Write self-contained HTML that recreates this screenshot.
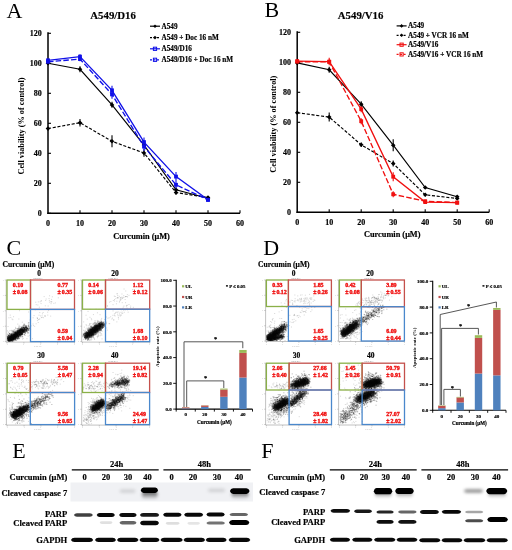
<!DOCTYPE html>
<html><head><meta charset="utf-8"><style>
html,body{margin:0;padding:0;background:#fff;}
body{width:512px;height:550px;overflow:hidden;}
svg{display:block;font-family:'Liberation Serif',serif;filter:blur(0.3px);}
</style></head><body>
<svg width="512" height="550" viewBox="0 0 512 550" style="font-family:'Liberation Serif',serif">
<text x="6.60" y="17.80" font-size="22" font-weight="normal" text-anchor="start" fill="#000" >A</text>
<text x="90.30" y="18.70" font-size="10.8" font-weight="bold" text-anchor="start" fill="#000"  stroke="#000" stroke-width="0.18">A549/D16</text>
<line x1="48.00" y1="32.30" x2="48.00" y2="214.00" stroke="#000" stroke-width="1.5" />
<line x1="47.30" y1="213.30" x2="240.00" y2="213.30" stroke="#000" stroke-width="1.5" />
<line x1="48.00" y1="213.30" x2="51.00" y2="213.30" stroke="#000" stroke-width="1.1" />
<text x="41.70" y="216.00" font-size="8" font-weight="bold" text-anchor="end" fill="#000"  stroke="#000" stroke-width="0.18">0</text>
<line x1="48.00" y1="183.30" x2="51.00" y2="183.30" stroke="#000" stroke-width="1.1" />
<text x="41.70" y="186.00" font-size="8" font-weight="bold" text-anchor="end" fill="#000"  stroke="#000" stroke-width="0.18">20</text>
<line x1="48.00" y1="153.30" x2="51.00" y2="153.30" stroke="#000" stroke-width="1.1" />
<text x="41.70" y="156.00" font-size="8" font-weight="bold" text-anchor="end" fill="#000"  stroke="#000" stroke-width="0.18">40</text>
<line x1="48.00" y1="123.30" x2="51.00" y2="123.30" stroke="#000" stroke-width="1.1" />
<text x="41.70" y="126.00" font-size="8" font-weight="bold" text-anchor="end" fill="#000"  stroke="#000" stroke-width="0.18">60</text>
<line x1="48.00" y1="93.30" x2="51.00" y2="93.30" stroke="#000" stroke-width="1.1" />
<text x="41.70" y="96.00" font-size="8" font-weight="bold" text-anchor="end" fill="#000"  stroke="#000" stroke-width="0.18">80</text>
<line x1="48.00" y1="63.30" x2="51.00" y2="63.30" stroke="#000" stroke-width="1.1" />
<text x="41.70" y="66.00" font-size="8" font-weight="bold" text-anchor="end" fill="#000"  stroke="#000" stroke-width="0.18">100</text>
<line x1="48.00" y1="33.30" x2="51.00" y2="33.30" stroke="#000" stroke-width="1.1" />
<text x="41.70" y="36.00" font-size="8" font-weight="bold" text-anchor="end" fill="#000"  stroke="#000" stroke-width="0.18">120</text>
<text x="48.00" y="225.90" font-size="8" font-weight="bold" text-anchor="middle" fill="#000"  stroke="#000" stroke-width="0.18">0</text>
<line x1="80.00" y1="213.30" x2="80.00" y2="210.30" stroke="#000" stroke-width="1.1" />
<text x="80.00" y="225.90" font-size="8" font-weight="bold" text-anchor="middle" fill="#000"  stroke="#000" stroke-width="0.18">10</text>
<line x1="112.00" y1="213.30" x2="112.00" y2="210.30" stroke="#000" stroke-width="1.1" />
<text x="112.00" y="225.90" font-size="8" font-weight="bold" text-anchor="middle" fill="#000"  stroke="#000" stroke-width="0.18">20</text>
<line x1="144.00" y1="213.30" x2="144.00" y2="210.30" stroke="#000" stroke-width="1.1" />
<text x="144.00" y="225.90" font-size="8" font-weight="bold" text-anchor="middle" fill="#000"  stroke="#000" stroke-width="0.18">30</text>
<line x1="176.00" y1="213.30" x2="176.00" y2="210.30" stroke="#000" stroke-width="1.1" />
<text x="176.00" y="225.90" font-size="8" font-weight="bold" text-anchor="middle" fill="#000"  stroke="#000" stroke-width="0.18">40</text>
<line x1="208.00" y1="213.30" x2="208.00" y2="210.30" stroke="#000" stroke-width="1.1" />
<text x="208.00" y="225.90" font-size="8" font-weight="bold" text-anchor="middle" fill="#000"  stroke="#000" stroke-width="0.18">50</text>
<line x1="240.00" y1="213.30" x2="240.00" y2="210.30" stroke="#000" stroke-width="1.1" />
<text x="240.00" y="225.90" font-size="8" font-weight="bold" text-anchor="middle" fill="#000"  stroke="#000" stroke-width="0.18">60</text>
<text transform="translate(21.8,126) rotate(-90)" x="0" y="0" font-size="8.25" font-weight="bold" text-anchor="middle" dominant-baseline="central">Cell viability (% of control)</text>
<text x="141.60" y="238.60" font-size="8.33" font-weight="bold" text-anchor="middle" fill="#000"  stroke="#000" stroke-width="0.18">Curcumin (μM)</text>
<path d="M48.0 63.3 L80.0 69.3 L112.0 104.9 L144.0 145.1 L176.0 189.8 L208.0 198.3" fill="none" stroke="#000" stroke-width="1.15" />
<path d="M48.0 61.0 l2.3 2.3 l-2.3 2.3 l-2.3 -2.3z" fill="#000"/>
<line x1="80.00" y1="66.30" x2="80.00" y2="72.30" stroke="#000" stroke-width="1.1" />
<path d="M80.0 67.0 l2.3 2.3 l-2.3 2.3 l-2.3 -2.3z" fill="#000"/>
<line x1="112.00" y1="101.85" x2="112.00" y2="107.85" stroke="#000" stroke-width="1.1" />
<path d="M112.0 102.6 l2.3 2.3 l-2.3 2.3 l-2.3 -2.3z" fill="#000"/>
<line x1="144.00" y1="142.05" x2="144.00" y2="148.05" stroke="#000" stroke-width="1.1" />
<path d="M144.0 142.8 l2.3 2.3 l-2.3 2.3 l-2.3 -2.3z" fill="#000"/>
<line x1="176.00" y1="187.50" x2="176.00" y2="192.00" stroke="#000" stroke-width="1.1" />
<path d="M176.0 187.4 l2.3 2.3 l-2.3 2.3 l-2.3 -2.3z" fill="#000"/>
<line x1="208.00" y1="196.80" x2="208.00" y2="199.80" stroke="#000" stroke-width="1.1" />
<path d="M208.0 196.0 l2.3 2.3 l-2.3 2.3 l-2.3 -2.3z" fill="#000"/>
<path d="M48.0 128.6 L80.0 122.7 L112.0 141.3 L144.0 153.0 L176.0 192.5 L208.0 197.6" fill="none" stroke="#000" stroke-width="1.15" stroke-dasharray="3.1,1.7"/>
<path d="M48.0 126.3 l2.3 2.3 l-2.3 2.3 l-2.3 -2.3z" fill="#000"/>
<line x1="80.00" y1="118.95" x2="80.00" y2="126.45" stroke="#000" stroke-width="1.1" />
<path d="M80.0 120.4 l2.3 2.3 l-2.3 2.3 l-2.3 -2.3z" fill="#000"/>
<line x1="112.00" y1="135.30" x2="112.00" y2="147.30" stroke="#000" stroke-width="1.1" />
<path d="M112.0 139.0 l2.3 2.3 l-2.3 2.3 l-2.3 -2.3z" fill="#000"/>
<line x1="144.00" y1="149.25" x2="144.00" y2="156.75" stroke="#000" stroke-width="1.1" />
<path d="M144.0 150.7 l2.3 2.3 l-2.3 2.3 l-2.3 -2.3z" fill="#000"/>
<line x1="176.00" y1="190.20" x2="176.00" y2="194.70" stroke="#000" stroke-width="1.1" />
<path d="M176.0 190.2 l2.3 2.3 l-2.3 2.3 l-2.3 -2.3z" fill="#000"/>
<line x1="208.00" y1="196.05" x2="208.00" y2="199.05" stroke="#000" stroke-width="1.1" />
<path d="M208.0 195.2 l2.3 2.3 l-2.3 2.3 l-2.3 -2.3z" fill="#000"/>
<path d="M48.0 60.3 L80.0 56.6 L112.0 90.3 L144.0 142.1 L176.0 176.6 L208.0 199.8" fill="none" stroke="#1010e8" stroke-width="1.35" />
<line x1="48.00" y1="58.80" x2="48.00" y2="61.80" stroke="#1010e8" stroke-width="1.1" />
<rect x="46.1" y="58.4" width="3.8" height="3.8" fill="#1010e8"/>
<line x1="80.00" y1="54.30" x2="80.00" y2="58.80" stroke="#1010e8" stroke-width="1.1" />
<rect x="78.1" y="54.7" width="3.8" height="3.8" fill="#1010e8"/>
<line x1="112.00" y1="85.80" x2="112.00" y2="94.80" stroke="#1010e8" stroke-width="1.1" />
<rect x="110.1" y="88.4" width="3.8" height="3.8" fill="#1010e8"/>
<line x1="144.00" y1="137.55" x2="144.00" y2="146.55" stroke="#1010e8" stroke-width="1.1" />
<rect x="142.1" y="140.2" width="3.8" height="3.8" fill="#1010e8"/>
<line x1="176.00" y1="172.05" x2="176.00" y2="181.05" stroke="#1010e8" stroke-width="1.1" />
<rect x="174.1" y="174.7" width="3.8" height="3.8" fill="#1010e8"/>
<line x1="208.00" y1="198.30" x2="208.00" y2="201.30" stroke="#1010e8" stroke-width="1.1" />
<rect x="206.1" y="197.9" width="3.8" height="3.8" fill="#1010e8"/>
<path d="M48.0 61.8 L80.0 59.1 L112.0 94.4 L144.0 146.6 L176.0 184.8 L208.0 199.8" fill="none" stroke="#1010e8" stroke-width="1.35" stroke-dasharray="5.5,2.2"/>
<line x1="48.00" y1="60.30" x2="48.00" y2="63.30" stroke="#1010e8" stroke-width="1.1" />
<rect x="46.1" y="59.9" width="3.8" height="3.8" fill="#1010e8"/>
<line x1="80.00" y1="56.85" x2="80.00" y2="61.35" stroke="#1010e8" stroke-width="1.1" />
<rect x="78.1" y="57.2" width="3.8" height="3.8" fill="#1010e8"/>
<line x1="112.00" y1="89.85" x2="112.00" y2="98.85" stroke="#1010e8" stroke-width="1.1" />
<rect x="110.1" y="92.5" width="3.8" height="3.8" fill="#1010e8"/>
<line x1="144.00" y1="142.05" x2="144.00" y2="151.05" stroke="#1010e8" stroke-width="1.1" />
<rect x="142.1" y="144.7" width="3.8" height="3.8" fill="#1010e8"/>
<line x1="176.00" y1="181.05" x2="176.00" y2="188.55" stroke="#1010e8" stroke-width="1.1" />
<rect x="174.1" y="182.9" width="3.8" height="3.8" fill="#1010e8"/>
<line x1="208.00" y1="198.30" x2="208.00" y2="201.30" stroke="#1010e8" stroke-width="1.1" />
<rect x="206.1" y="197.9" width="3.8" height="3.8" fill="#1010e8"/>
<line x1="150.00" y1="26.20" x2="160.00" y2="26.20" stroke="#000" stroke-width="1.2" />
<path d="M155.0 24.4 l1.8 1.8 l-1.8 1.8 l-1.8 -1.8z" fill="#000"/>
<text x="161.50" y="28.60" font-size="7.2" font-weight="bold" text-anchor="start" fill="#000"  stroke="#000" stroke-width="0.18">A549</text>
<line x1="150.00" y1="37.60" x2="160.00" y2="37.60" stroke="#000" stroke-width="1.2" stroke-dasharray="2,1.5"/>
<path d="M155.0 35.8 l1.8 1.8 l-1.8 1.8 l-1.8 -1.8z" fill="#000"/>
<text x="161.50" y="40.00" font-size="7.2" font-weight="bold" text-anchor="start" fill="#000"  stroke="#000" stroke-width="0.18">A549 + Doc 16 nM</text>
<line x1="150.00" y1="48.80" x2="160.00" y2="48.80" stroke="#1010e8" stroke-width="1.2" />
<rect x="153.4" y="47.2" width="3.2" height="3.2" fill="none" stroke="#1010e8" stroke-width="1"/>
<text x="161.50" y="51.20" font-size="7.2" font-weight="bold" text-anchor="start" fill="#000"  stroke="#000" stroke-width="0.18">A549/D16</text>
<line x1="150.00" y1="59.80" x2="160.00" y2="59.80" stroke="#1010e8" stroke-width="1.2" stroke-dasharray="2,1.5"/>
<rect x="153.4" y="58.2" width="3.2" height="3.2" fill="none" stroke="#1010e8" stroke-width="1"/>
<text x="161.50" y="62.20" font-size="7.2" font-weight="bold" text-anchor="start" fill="#000"  stroke="#000" stroke-width="0.18">A549/D16 + Doc 16 nM</text>
<text x="264.50" y="17.20" font-size="22" font-weight="normal" text-anchor="start" fill="#000" >B</text>
<text x="337.80" y="18.80" font-size="10.8" font-weight="bold" text-anchor="start" fill="#000"  stroke="#000" stroke-width="0.18">A549/V16</text>
<line x1="297.20" y1="31.30" x2="297.20" y2="213.00" stroke="#000" stroke-width="1.5" />
<line x1="296.50" y1="212.30" x2="489.20" y2="212.30" stroke="#000" stroke-width="1.5" />
<line x1="297.20" y1="212.30" x2="300.20" y2="212.30" stroke="#000" stroke-width="1.1" />
<text x="290.90" y="215.00" font-size="8" font-weight="bold" text-anchor="end" fill="#000"  stroke="#000" stroke-width="0.18">0</text>
<line x1="297.20" y1="182.30" x2="300.20" y2="182.30" stroke="#000" stroke-width="1.1" />
<text x="290.90" y="185.00" font-size="8" font-weight="bold" text-anchor="end" fill="#000"  stroke="#000" stroke-width="0.18">20</text>
<line x1="297.20" y1="152.30" x2="300.20" y2="152.30" stroke="#000" stroke-width="1.1" />
<text x="290.90" y="155.00" font-size="8" font-weight="bold" text-anchor="end" fill="#000"  stroke="#000" stroke-width="0.18">40</text>
<line x1="297.20" y1="122.30" x2="300.20" y2="122.30" stroke="#000" stroke-width="1.1" />
<text x="290.90" y="125.00" font-size="8" font-weight="bold" text-anchor="end" fill="#000"  stroke="#000" stroke-width="0.18">60</text>
<line x1="297.20" y1="92.30" x2="300.20" y2="92.30" stroke="#000" stroke-width="1.1" />
<text x="290.90" y="95.00" font-size="8" font-weight="bold" text-anchor="end" fill="#000"  stroke="#000" stroke-width="0.18">80</text>
<line x1="297.20" y1="62.30" x2="300.20" y2="62.30" stroke="#000" stroke-width="1.1" />
<text x="290.90" y="65.00" font-size="8" font-weight="bold" text-anchor="end" fill="#000"  stroke="#000" stroke-width="0.18">100</text>
<line x1="297.20" y1="32.30" x2="300.20" y2="32.30" stroke="#000" stroke-width="1.1" />
<text x="290.90" y="35.00" font-size="8" font-weight="bold" text-anchor="end" fill="#000"  stroke="#000" stroke-width="0.18">120</text>
<text x="297.20" y="224.90" font-size="8" font-weight="bold" text-anchor="middle" fill="#000"  stroke="#000" stroke-width="0.18">0</text>
<line x1="329.20" y1="212.30" x2="329.20" y2="209.30" stroke="#000" stroke-width="1.1" />
<text x="329.20" y="224.90" font-size="8" font-weight="bold" text-anchor="middle" fill="#000"  stroke="#000" stroke-width="0.18">10</text>
<line x1="361.20" y1="212.30" x2="361.20" y2="209.30" stroke="#000" stroke-width="1.1" />
<text x="361.20" y="224.90" font-size="8" font-weight="bold" text-anchor="middle" fill="#000"  stroke="#000" stroke-width="0.18">20</text>
<line x1="393.20" y1="212.30" x2="393.20" y2="209.30" stroke="#000" stroke-width="1.1" />
<text x="393.20" y="224.90" font-size="8" font-weight="bold" text-anchor="middle" fill="#000"  stroke="#000" stroke-width="0.18">30</text>
<line x1="425.20" y1="212.30" x2="425.20" y2="209.30" stroke="#000" stroke-width="1.1" />
<text x="425.20" y="224.90" font-size="8" font-weight="bold" text-anchor="middle" fill="#000"  stroke="#000" stroke-width="0.18">40</text>
<line x1="457.20" y1="212.30" x2="457.20" y2="209.30" stroke="#000" stroke-width="1.1" />
<text x="457.20" y="224.90" font-size="8" font-weight="bold" text-anchor="middle" fill="#000"  stroke="#000" stroke-width="0.18">50</text>
<line x1="489.20" y1="212.30" x2="489.20" y2="209.30" stroke="#000" stroke-width="1.1" />
<text x="489.20" y="224.90" font-size="8" font-weight="bold" text-anchor="middle" fill="#000"  stroke="#000" stroke-width="0.18">60</text>
<text transform="translate(273,124.2) rotate(-90)" x="0" y="0" font-size="8.25" font-weight="bold" text-anchor="middle" dominant-baseline="central">Cell viability (% of control)</text>
<text x="392.20" y="237.40" font-size="8.33" font-weight="bold" text-anchor="middle" fill="#000"  stroke="#000" stroke-width="0.18">Curcumin (μM)</text>
<path d="M297.2 62.9 L329.2 69.8 L361.2 104.2 L393.2 145.2 L425.2 187.6 L457.2 196.7" fill="none" stroke="#000" stroke-width="1.15" />
<path d="M297.2 60.6 l2.3 2.3 l-2.3 2.3 l-2.3 -2.3z" fill="#000"/>
<line x1="329.20" y1="66.80" x2="329.20" y2="72.80" stroke="#000" stroke-width="1.1" />
<path d="M329.2 67.5 l2.3 2.3 l-2.3 2.3 l-2.3 -2.3z" fill="#000"/>
<line x1="361.20" y1="101.15" x2="361.20" y2="107.15" stroke="#000" stroke-width="1.1" />
<path d="M361.2 101.9 l2.3 2.3 l-2.3 2.3 l-2.3 -2.3z" fill="#000"/>
<line x1="393.20" y1="139.25" x2="393.20" y2="151.25" stroke="#000" stroke-width="1.1" />
<path d="M393.2 142.9 l2.3 2.3 l-2.3 2.3 l-2.3 -2.3z" fill="#000"/>
<line x1="425.20" y1="186.05" x2="425.20" y2="189.05" stroke="#000" stroke-width="1.1" />
<path d="M425.2 185.2 l2.3 2.3 l-2.3 2.3 l-2.3 -2.3z" fill="#000"/>
<line x1="457.20" y1="195.20" x2="457.20" y2="198.20" stroke="#000" stroke-width="1.1" />
<path d="M457.2 194.4 l2.3 2.3 l-2.3 2.3 l-2.3 -2.3z" fill="#000"/>
<path d="M297.2 112.7 L329.2 117.1 L361.2 144.8 L393.2 163.6 L425.2 194.8 L457.2 198.5" fill="none" stroke="#000" stroke-width="1.15" stroke-dasharray="3.1,1.7"/>
<path d="M297.2 110.4 l2.3 2.3 l-2.3 2.3 l-2.3 -2.3z" fill="#000"/>
<line x1="329.20" y1="112.55" x2="329.20" y2="121.55" stroke="#000" stroke-width="1.1" />
<path d="M329.2 114.8 l2.3 2.3 l-2.3 2.3 l-2.3 -2.3z" fill="#000"/>
<line x1="361.20" y1="142.55" x2="361.20" y2="147.05" stroke="#000" stroke-width="1.1" />
<path d="M361.2 142.5 l2.3 2.3 l-2.3 2.3 l-2.3 -2.3z" fill="#000"/>
<line x1="393.20" y1="160.55" x2="393.20" y2="166.55" stroke="#000" stroke-width="1.1" />
<path d="M393.2 161.2 l2.3 2.3 l-2.3 2.3 l-2.3 -2.3z" fill="#000"/>
<line x1="425.20" y1="193.25" x2="425.20" y2="196.25" stroke="#000" stroke-width="1.1" />
<path d="M425.2 192.4 l2.3 2.3 l-2.3 2.3 l-2.3 -2.3z" fill="#000"/>
<line x1="457.20" y1="197.00" x2="457.20" y2="200.00" stroke="#000" stroke-width="1.1" />
<path d="M457.2 196.2 l2.3 2.3 l-2.3 2.3 l-2.3 -2.3z" fill="#000"/>
<path d="M297.2 61.1 L329.2 61.6 L361.2 109.2 L393.2 176.8 L425.2 202.1 L457.2 202.7" fill="none" stroke="#f01010" stroke-width="1.35" />
<line x1="297.20" y1="59.60" x2="297.20" y2="62.60" stroke="#f01010" stroke-width="1.1" />
<rect x="295.3" y="59.2" width="3.8" height="3.8" fill="#f01010"/>
<line x1="329.20" y1="57.80" x2="329.20" y2="65.30" stroke="#f01010" stroke-width="1.1" />
<rect x="327.3" y="59.7" width="3.8" height="3.8" fill="#f01010"/>
<line x1="361.20" y1="106.25" x2="361.20" y2="112.25" stroke="#f01010" stroke-width="1.1" />
<rect x="359.3" y="107.3" width="3.8" height="3.8" fill="#f01010"/>
<line x1="393.20" y1="172.25" x2="393.20" y2="181.25" stroke="#f01010" stroke-width="1.1" />
<rect x="391.3" y="174.8" width="3.8" height="3.8" fill="#f01010"/>
<line x1="425.20" y1="200.60" x2="425.20" y2="203.60" stroke="#f01010" stroke-width="1.1" />
<rect x="423.3" y="200.2" width="3.8" height="3.8" fill="#f01010"/>
<line x1="457.20" y1="201.20" x2="457.20" y2="204.20" stroke="#f01010" stroke-width="1.1" />
<rect x="455.3" y="200.8" width="3.8" height="3.8" fill="#f01010"/>
<path d="M297.2 61.7 L329.2 61.9 L361.2 121.2 L393.2 194.3 L425.2 201.2 L457.2 202.6" fill="none" stroke="#f01010" stroke-width="1.35" stroke-dasharray="5.5,2.2"/>
<line x1="297.20" y1="60.20" x2="297.20" y2="63.20" stroke="#f01010" stroke-width="1.1" />
<rect x="295.3" y="59.8" width="3.8" height="3.8" fill="#f01010"/>
<line x1="329.20" y1="59.60" x2="329.20" y2="64.10" stroke="#f01010" stroke-width="1.1" />
<rect x="327.3" y="60.0" width="3.8" height="3.8" fill="#f01010"/>
<line x1="361.20" y1="118.25" x2="361.20" y2="124.25" stroke="#f01010" stroke-width="1.1" />
<rect x="359.3" y="119.3" width="3.8" height="3.8" fill="#f01010"/>
<line x1="393.20" y1="191.30" x2="393.20" y2="197.30" stroke="#f01010" stroke-width="1.1" />
<rect x="391.3" y="192.4" width="3.8" height="3.8" fill="#f01010"/>
<line x1="425.20" y1="199.70" x2="425.20" y2="202.70" stroke="#f01010" stroke-width="1.1" />
<rect x="423.3" y="199.3" width="3.8" height="3.8" fill="#f01010"/>
<line x1="457.20" y1="201.05" x2="457.20" y2="204.05" stroke="#f01010" stroke-width="1.1" />
<rect x="455.3" y="200.7" width="3.8" height="3.8" fill="#f01010"/>
<line x1="396.60" y1="25.90" x2="406.60" y2="25.90" stroke="#000" stroke-width="1.2" />
<path d="M401.6 24.1 l1.8 1.8 l-1.8 1.8 l-1.8 -1.8z" fill="#000"/>
<text x="408.10" y="28.30" font-size="7.2" font-weight="bold" text-anchor="start" fill="#000"  stroke="#000" stroke-width="0.18">A549</text>
<line x1="396.60" y1="35.30" x2="406.60" y2="35.30" stroke="#000" stroke-width="1.2" stroke-dasharray="2,1.5"/>
<path d="M401.6 33.5 l1.8 1.8 l-1.8 1.8 l-1.8 -1.8z" fill="#000"/>
<text x="408.10" y="37.70" font-size="7.2" font-weight="bold" text-anchor="start" fill="#000"  stroke="#000" stroke-width="0.18">A549 + VCR 16 nM</text>
<line x1="396.60" y1="44.70" x2="406.60" y2="44.70" stroke="#f01010" stroke-width="1.2" />
<rect x="400.0" y="43.1" width="3.2" height="3.2" fill="none" stroke="#f01010" stroke-width="1"/>
<text x="408.10" y="47.10" font-size="7.2" font-weight="bold" text-anchor="start" fill="#000"  stroke="#000" stroke-width="0.18">A549/V16</text>
<line x1="396.60" y1="54.40" x2="406.60" y2="54.40" stroke="#f01010" stroke-width="1.2" stroke-dasharray="2,1.5"/>
<rect x="400.0" y="52.8" width="3.2" height="3.2" fill="none" stroke="#f01010" stroke-width="1"/>
<text x="408.10" y="56.80" font-size="7.2" font-weight="bold" text-anchor="start" fill="#000"  stroke="#000" stroke-width="0.18">A549/V16 + VCR 16 nM</text>
<path transform="scale(0.1)" d="M495 2958h1m-55 8h1m81 2h1m59 10h1m-123 12h1m28-4h1m24 8h1m-103 13h1m42-3h1m36 0h1m-83 7h1m98 4h1m-154 7h1m25-3h1m17-1h1m92 3h1m15 0h1m7-2h1m34 10h1m-144 7h1m99 1h1m27-4h1m-177 14h1m15 3h1m74 8h1m27 2h1m-89 12h1m-99 9h1m45 15h1m11 3h1m23-3h1m-183 11h1m289-1h1m-200 14h1m110 6h1m33-1h1m44-3h1m-53 16h1m-323 13h1m374 0h1m-138 5h1m49-4h1m15 7h1m14 0h1m27-3h1m-315 11h1m314-4h1m-1-2h1m55 0h1m-400 13h1m313 1h1m-333 3h1m241 0h1m39 0h1m2 5h1m0 0h1m38-7h1m19 1h1m-315 13h1m67 0h1m207-2h1m-269 9h1m254 0h1m6-2h1m-92 5h1m74 6h1m-152 16h1m60 4h1m1 1h1m9 1h1m85-3h1m-142 10h1m41 1h1m77 2h1m-185 3h1m59 5h1m92-6h1m-140 13h1m95 2h1m-60 1h1m4 7h1m4-6h1m74 2h1m20-3h1m11 7h1m-267 2h1m128 0h1m15 4h1m58-4h1m-130 9h1m40 0h1m12 5h1m24-1h1m16-3h1m20 2h1m19-1h1m-137 8h1m1 3h1m29-2h1m27 1h1m4-1h1m-79 10h1m45-5h1m5-2h1m5 6h1m7-6h1m5 6h1m7-3h1m9 1h1m19-2h1m10 2h1m-152 11h1m17 0h1m37-1h1m36-6h1m6 0h1m16 1h1m36 3h1m11 1h1m26-4h1m-233 11h1m20 1h1m14-4h1m28-1h1m80 4h1m5 1h1m-146 10h1m37-5h1m3 1h1m6-3h1m0 0h1m5 2h1m4-2h1m28 5h1m9-2h1m9 1h1m11 3h1m2-6h1m53 3h1m-1-1h1m-177 9h1m65-3h1m30 2h1m18 1h1m16 1h1m1-2h1m28-3h1m-159 15h1m9-2h1m36-5h1m27 0h1m-1 7h1m25-7h1m-91 9h1m6 6h1m2-3h1m18-3h1m4 5h1m4-3h1m0 2h1m5-2h1m5 4h1m11-5h1m21-2h1m22 2h1m16 4h1m2-6h1m21 2h1m26-2h1m-198 14h1m9-2h1m1 2h1m16-6h1m23 4h1m10-1h1m15 0h1m0-1h1m6-1h1m1 4h1m14-4h1m3 1h1m25-1h1m5 4h1m-137 8h1m6-4h1m16 4h1m14 0h1m43-5h1m9 2h1m18 3h1m7-2h1m90 1h1m-223 9h1m0-1h1m5-1h1m4-1h1m22 0h1m11 3h1m16-1h1m8 3h1m0-3h1m0 3h1m7-6h1m0-1h1m12 6h1m107-5h1m-202 12h1m10 1h1m10-2h1m28-2h1m1 3h1m5-3h1m1-1h1m4 2h1m7 2h1m4 1h1m68-6h1m-151 14h1m23-4h1m3 2h1m3-1h1m1-3h1m22 2h1m16 0h1m20 1h1m35-2h1m-131 11h1m4 3h1m1-7h1m16 7h1m7-4h1m12 2h1m12-3h1m9 5h1m22-5h1m6 4h1m5-6h1m41 7h1m6-7h1m36 3h1m54 0h1m-224 9h1m1-1h1m-1 4h1m5-5h1m0-2h1m8 2h1m6 4h1m3-1h1m2 0h1m1-5h1m24 2h1m-82 10h1m6-2h1m17 3h1m6-4h1m13-1h1m19 0h1m20 4h1m-87 5h1m18 1h1m1 0h1m0-1h1" fill="none" stroke="#000" stroke-width="5" stroke-linecap="square" stroke-opacity="0.3"/>
<path transform="scale(0.1)" d="M244 3246h1m-9 6h1m3 2h1m8-2h1m37-4h1m-38 13h1m4-3h1m7 5h1m-1-6h1m0 6h1m16-3h1m1-3h1m-93 7h1m35 6h1m4-6h1m14 7h1m1-7h1m3 7h1m2-2h1m4-5h1m20 4h1m9-2h1m-106 12h1m24-5h1m3-1h1m0 7h1m0-3h1m5 1h1m5-3h1m2 5h1m0-3h1m-1-4h1m0 4h1m5 3h1m0-2h1m0 1h1m4 1h1m6-3h1m0 2h1m-1-6h1m1 0h1m0 2h1m0 2h1m2-1h1m0-1h1m0-2h1m0 6h1m0 0h1m3-2h1m-102 11h1m4 0h1m12-4h1m13 2h1m2 0h1m1 0h1m9-3h1m4-1h1m2 2h1m3 2h1m4-5h1m0 1h1m0-1h1m1 0h1m2 1h1m2 0h1m0 0h1m0 4h1m4-4h1m-1 4h1m0-5h1m6 7h1m7-5h1m0 1h1m0 0h1m0 2h1m0-2h1m0 3h1m3-2h1m-1 2h1m2-3h1m3 2h1m-1-4h1m10 2h1m0-1h1m5 2h1m-115 7h1m2 2h1m7-4h1m6 5h1m3 1h1m2-6h1m-1 3h1m-1-2h1m3-2h1m-1 6h1m1-4h1m-1 0h1m0 2h1m-1 3h1m-1-7h1m3 5h1m0 0h1m0 1h1m0 0h1m0-6h1m-1 3h1m6-2h1m0 6h1m3-1h1m2-3h1m-1 2h1m0-5h1m-1 3h1m0 1h1m-1 2h1m0 0h1m-1 0h1m-1-5h1m-1 1h1m0 1h1m-1-1h1m3-2h1m-1 4h1m5 1h1m0 2h1m-1-3h1m2 1h1m0 0h1m-1-4h1m1 6h1m0-6h1m3-1h1m0 7h1m1-5h1m1 1h1m1 0h1m1-1h1m5 5h1m-133 7h1m24-3h1m2 3h1m2-1h1m0-1h1m-1 2h1m7 1h1m1-6h1m2 5h1m-1-3h1m0-1h1m-1-1h1m0 6h1m4-6h1m-1 1h1m0 0h1m-1-1h1m0 6h1m0-5h1m-1 3h1m0-5h1m0 0h1m0 0h1m0 7h1m-1-7h1m0 2h1m-1 3h1m0 1h1m0 1h1m2-1h1m-1-4h1m-1 0h1m-1 5h1m1 0h1m-1-3h1m-1-2h1m-1 0h1m-1 3h1m-1-3h1m0-1h1m-1 3h1m0 3h1m0-2h1m-1 1h1m1-6h1m1 2h1m0-1h1m1 0h1m0 1h1m0 5h1m0-6h1m0 4h1m-1 1h1m-1 0h1m2 1h1m-1 0h1m0-2h1m-1 0h1m-1-3h1m0 5h1m0-5h1m0 4h1m-1 1h1m0-2h1m0 2h1m4-3h1m0-2h1m0 5h1m5-4h1m0 4h1m-1 0h1m1-4h1m-1 1h1m2-2h1m3 1h1m2 4h1m0-4h1m1 4h1m12-1h1m0-3h1m1 3h1m2-2h1m2-1h1m-167 10h1m35 2h1m5-2h1m3-3h1m2 1h1m1-1h1m0 5h1m0-3h1m3 2h1m0-1h1m0 1h1m0-6h1m1 1h1m-1 5h1m0-4h1m0 4h1m1-1h1m0 0h1m-1-4h1m0 6h1m0-7h1m-1 2h1m0 2h1m0 1h1m-1-5h1m0 4h1m-1-3h1m-1 4h1m2-5h1m-1 1h1m0 3h1m1-4h1m0 5h1m-1-4h1m1 2h1m0-1h1m-1 0h1m0 4h1m-1-3h1m1 1h1m-1 2h1m1-2h1m0 3h1m1-5h1m-1 5h1m-1-3h1m1 0h1m2 3h1m0-1h1m-1-5h1m0 1h1m-1 3h1m2-4h1m-1 1h1m-1-1h1m0 2h1m-1-2h1m0 6h1m1-6h1m0 5h1m-1-1h1m0 1h1m0 1h1m0 0h1m0-5h1m-1 0h1m1 2h1m-1-2h1m-1 2h1m0 2h1m-1-3h1m1 1h1m-1-3h1m2 0h1m-1 6h1m2 0h1m-1-7h1m1 5h1m2 0h1m7-3h1m0 3h1m-1-1h1m1-2h1m1 2h1m-1 3h1m2-5h1m3 3h1m0-2h1m-138 8h1m14 1h1m0 1h1m8-3h1m1 4h1m0-5h1m4 0h1m4 6h1m0-4h1m0 2h1m-1-1h1m-1 1h1m-1-4h1m1 0h1m0 4h1m1-4h1m0 6h1m0-1h1m6-1h1m-1-1h1m0-3h1m-1 6h1m-1-5h1m0 3h1m-1-1h1m0-2h1m2-2h1m0 0h1m-1 7h1m0-6h1m0 2h1m0 4h1m-1-4h1m0 1h1m2 3h1m0-7h1m0 6h1m-1 0h1m-1-1h1m0-4h1m0 1h1m-1 1h1m1 1h1m-1-4h1m0 3h1m0-3h1m-1 2h1m7 2h1m-1-3h1m-1 1h1m0-2h1m0 0h1m2 7h1m-1-7h1m-1 2h1m-1-2h1m0 5h1m0-2h1m0 1h1m-1 1h1m0 0h1m0-5h1m-1 1h1m0 3h1m0 0h1m1-4h1m0 5h1m0-3h1m0 0h1m1-1h1m-1 3h1m-1 3h1m3-2h1m3-3h1m1 2h1m2-1h1m0-2h1m14 1h1m9 4h1m-143 6h1m5 0h1m-1-4h1m3 4h1m1 2h1m2 1h1m-1 0h1m0-3h1m3 0h1m-1-4h1m0 6h1m-1-1h1m0 2h1m2 0h1m0-3h1m0-1h1m2 2h1m3 2h1m-1-2h1m0 2h1m0-5h1m0-1h1m-1 0h1m0-1h1m-1 6h1m-1-2h1m0 2h1m0 0h1m2-1h1m-1-3h1m1 0h1m-1 5h1m0-4h1m2 3h1m-1-2h1m0-4h1m-1 1h1m-1 6h1m-1-5h1m2 0h1m-1-1h1m-1 0h1m0 4h1m0-1h1m0 0h1m-1-1h1m-1-3h1m-1 5h1m-1 2h1m1-7h1m0 1h1m-1 4h1m0-1h1m0 3h1m1-5h1m1-2h1m-1 5h1m0 0h1m0-1h1m0-1h1m0 0h1m-1 3h1m-1-6h1m0 1h1m-1 6h1m0-3h1m3-3h1m-1 6h1m0-1h1m-1-1h1m1-2h1m0 3h1m-1-6h1m0 5h1m-1-1h1m0-4h1m0 7h1m0-5h1m0 1h1m1-1h1m1 0h1m0 3h1m0 1h1m2-2h1m1-3h1m1 1h1m1 3h1m0-3h1m-1-2h1m1 1h1m1 2h1m0-1h1m0 2h1m4 3h1m2-7h1m1 3h1m-1-3h1m17 0h1m9 7h1m-185 8h1m-1-1h1m21-1h1m-1 1h1m3-2h1m5-4h1m0 4h1m1 2h1m4 1h1m4-4h1m1 0h1m7 4h1m0-4h1m-1-2h1m1 1h1m0 5h1m1-3h1m0 0h1m-1-4h1m0 0h1m0 3h1m-1-3h1m-1 1h1m0 4h1m0 1h1m1-3h1m0 4h1m0 0h1m0-4h1m0 2h1m0-1h1m0-2h1m-1 0h1m-1 3h1m0-2h1m-1 3h1m0-4h1m0 1h1m-1 2h1m0-1h1m-1 3h1m0-2h1m-1-5h1m-1 5h1m0-5h1m0 1h1m0 6h1m0-6h1m1 1h1m-1 0h1m0 1h1m1 4h1m-1-7h1m2 0h1m0 3h1m-1 4h1m0-5h1m1-1h1m1 4h1m1-5h1m0 0h1m-1 6h1m1 1h1m0-6h1m-1 1h1m0 3h1m-1-4h1m0 0h1m0 5h1m-1-5h1m-1 4h1m0-5h1m0 0h1m0 6h1m1-2h1m0 0h1m0 0h1m2 2h1m1 1h1m-1-3h1m-1-3h1m2 4h1m2-3h1m0-2h1m2 0h1m2 1h1m0 2h1m22 1h1m0-3h1m4 1h1m24-2h1m-207 14h1m23 1h1m9-3h1m9 0h1m0 2h1m19-1h1m0-5h1m-1 5h1m2 0h1m0 0h1m0 1h1m-1-3h1m0 0h1m0 1h1m-1 3h1m2-6h1m-1 6h1m0-5h1m-1 0h1m-1 2h1m-1 3h1m0 0h1m0 0h1m0-5h1m-1 4h1m-1-5h1m0 5h1m-1-4h1m-1-1h1m-1 4h1m0-3h1m-1 3h1m0-3h1m-1-2h1m0 5h1m-1 2h1m0-3h1m-1 3h1m-1-1h1m-1-2h1m0 1h1m0 2h1m-1-1h1m1-6h1m-1 1h1m-1 6h1m0-4h1m-1 0h1m-1 0h1m0-3h1m-1 7h1m0-2h1m0-5h1m1 2h1m0-1h1m-1 0h1m0 2h1m0-3h1m-1 5h1m0 2h1m-1-4h1m0 3h1m0 0h1m-1-2h1m0 0h1m0 0h1m-1 3h1m0-4h1m0 0h1m1 3h1m0-3h1m0 2h1m0 2h1m-1-5h1m-1 0h1m1-1h1m0 1h1m0 2h1m-1-3h1m0 4h1m-1-4h1m0 0h1m1 2h1m0 4h1m-1-1h1m0-6h1m2 7h1m1-1h1m-1-4h1m-1 3h1m1 2h1m3-6h1m0 3h1m1-4h1m0 0h1m-1 3h1m-1 1h1m-1-2h1m0 3h1m-1-5h1m0 2h1m1-2h1m-1 1h1m0 1h1m4 5h1m-1-3h1m-1-4h1m0 7h1m-1-4h1m0-1h1m-1-2h1m0 1h1m1 1h1m0 5h1m0-7h1m-142 11h1m9 1h1m10-3h1m1 2h1m2-1h1m1-1h1m-1 2h1m2 3h1m-1-3h1m1-2h1m2 3h1m-1-2h1m0 0h1m0 0h1m5 2h1m0-4h1m0 4h1m-1 1h1m1 2h1m0-4h1m0-2h1m0 1h1m-1 4h1m0-2h1m-1-3h1m0 3h1m0-3h1m0 6h1m-1-6h1m-1 3h1m-1 1h1m0-1h1m0 0h1m0-4h1m0 2h1m0 2h1m-1-2h1m0 0h1m1 1h1m0 2h1m1 2h1m-1-4h1m-1 3h1m-1-2h1m0-4h1m0 5h1m0 1h1m1 0h1m-1 0h1m0-2h1m0-2h1m-1 4h1m0-2h1m0 3h1m1-2h1m-1-4h1m0 2h1m-1 0h1m0 2h1m-1-4h1m1 4h1m-1-2h1m1 2h1m-1-4h1m-1 0h1m0 4h1m0-2h1m0 2h1m0-2h1m-1 1h1m0 3h1m-1 0h1m0-4h1m-1 3h1m-1-1h1m0-4h1m-1 3h1m-1-1h1m0 0h1m0-2h1m-1 4h1m-1-3h1m0 0h1m1 5h1m0 0h1m-1-1h1m5-3h1m0 3h1m0 1h1m-1-3h1m0 3h1m0-7h1m-1 3h1m-1 3h1m0-1h1m-1-1h1m-1-1h1m0 2h1m0-2h1m0-3h1m-1 0h1m0 2h1m-1-2h1m1 6h1m1-4h1m-1 3h1m0-5h1m4 4h1m-1-1h1m-1-2h1m0-1h1m0 5h1m0-1h1m-1-1h1m-1-2h1m3 3h1m0-2h1m0-1h1m8 3h1m15-2h1m2-2h1m-163 15h1m0-4h1m1 1h1m3 0h1m0 2h1m4-2h1m1 2h1m5-2h1m1 3h1m0-6h1m0 3h1m2 1h1m0 1h1m-1-1h1m1 1h1m0-4h1m0 1h1m0-1h1m-1-1h1m0 3h1m2 1h1m0 2h1m-1-6h1m0 1h1m0 4h1m0 1h1m-1-7h1m-1 6h1m0-4h1m-1 2h1m1 3h1m0-5h1m1 2h1m1-4h1m-1 3h1m-1-3h1m-1 3h1m0 4h1m-1-4h1m0 0h1m0 4h1m1-6h1m-1 1h1m-1-2h1m0 2h1m-1 4h1m0 0h1m-1-5h1m0 2h1m0 0h1m0 4h1m-1-1h1m1-3h1m-1-3h1m-1 0h1m0 2h1m-1 3h1m0 0h1m-1 2h1m0-3h1m-1 1h1m0-2h1m0-2h1m-1 2h1m1-2h1m-1 0h1m0 0h1m-1 1h1m-1 0h1m0 1h1m0-2h1m0 1h1m-1-2h1m0 6h1m0-5h1m-1 3h1m0-1h1m0 2h1m-1 0h1m0-2h1m-1-1h1m0 1h1m0 3h1m1-6h1m-1 4h1m1-3h1m1 1h1m-1 4h1m-1-2h1m0-2h1m-1 5h1m-1-2h1m0-1h1m-1 3h1m-1-5h1m0-2h1m-1 1h1m-1-1h1m0 3h1m-1 1h1m-1 2h1m-1-3h1m0-1h1m-1-2h1m3 2h1m0 0h1m-1-1h1m0 4h1m-1-3h1m4-1h1m0 2h1m1 1h1m1 1h1m0-2h1m0 3h1m0-3h1m6 2h1m1 0h1m2-4h1m1 2h1m2-3h1m39 2h1m-177 9h1m6-3h1m4 3h1m5-1h1m2 4h1m-1-3h1m2 2h1m-1-2h1m0 3h1m1 0h1m0-3h1m0 4h1m1-2h1m-1 0h1m0-1h1m1 2h1m-1-6h1m0 6h1m0-6h1m0 1h1m-1 3h1m-1-4h1m0 5h1m0-5h1m0 2h1m0-2h1m-1 0h1m0 0h1m0 7h1m0-5h1m0 4h1m-1-2h1m0 2h1m-1-1h1m0-4h1m0 1h1m-1 5h1m3-7h1m0 7h1m-1 0h1m-1-4h1m0-2h1m-1 5h1m0 1h1m-1-4h1m-1 2h1m-1-1h1m0 2h1m-1 1h1m0-7h1m-1 2h1m-1-2h1m0 6h1m0-5h1m0 5h1m0-1h1m0-4h1m0 2h1m-1 2h1m0 0h1m0-5h1m-1 2h1m0 2h1m0-3h1m-1 3h1m-1-4h1m-1 6h1m-1-1h1m0-3h1m-1 1h1m0-2h1m-1 0h1m0 5h1m0-2h1m-1 0h1m0-2h1m-1 3h1m-1 2h1m-1 0h1m0-2h1m-1-1h1m0-3h1m1 5h1m1-3h1m-1-2h1m-1 5h1m-1-4h1m0 0h1m-1 1h1m0 4h1m0-1h1m-1-5h1m0 5h1m-1-2h1m-1-2h1m-1 1h1m1 2h1m-1-2h1m-1 3h1m-1-4h1m0 5h1m-1-5h1m0 3h1m-1-3h1m-1 3h1m1-2h1m-1-3h1m-1 7h1m0-2h1m1-1h1m0-1h1m-1 4h1m-1-3h1m-1 3h1m0-6h1m0 5h1m0-6h1m-1 1h1m0-1h1m0 4h1m1 3h1m2-6h1m-1 0h1m-1 1h1m4 2h1m0-2h1m1 5h1m0-4h1m-1 2h1m0 1h1m-1-1h1m7 2h1m-1-2h1m8 2h1m2-5h1m2 0h1m11 1h1m-147 6h1m3-1h1m1 6h1m0-3h1m0-2h1m-1 4h1m0 0h1m0-4h1m0 1h1m3 3h1m-1-1h1m1-1h1m-1 4h1m4 0h1m-1-4h1m0 2h1m-1-5h1m-1 3h1m0 2h1m0-2h1m-1 2h1m-1 1h1m0 1h1m-1-5h1m-1 0h1m-1 2h1m0 0h1m0-3h1m0-1h1m-1 2h1m0-1h1m2 2h1m-1 0h1m0-3h1m-1 2h1m-1 0h1m0 5h1m1-6h1m-1-1h1m0 0h1m-1 1h1m-1-1h1m0 2h1m0 0h1m0 0h1m0 4h1m-1 1h1m-1-6h1m0 6h1m-1-2h1m0-5h1m-1 4h1m-1 3h1m0-3h1m0-1h1m-1 0h1m-1-3h1m0 5h1m1 2h1m-1-5h1m0 4h1m1-4h1m-1 4h1m-1-2h1m0-4h1m0 2h1m0 0h1m-1 3h1m0 0h1m-1 0h1m0-5h1m-1 5h1m0-2h1m-1 2h1m-1-4h1m-1 4h1m0-1h1m-1-2h1m-1 5h1m0-7h1m-1 4h1m-1 2h1m0-1h1m0 1h1m-1-2h1m0-2h1m-1-1h1m0 3h1m-1-3h1m-1 0h1m0 1h1m-1-1h1m0 2h1m0-1h1m1 4h1m-1 0h1m0 0h1m2-6h1m-1 2h1m0-2h1m1 5h1m-1-4h1m0-1h1m0 5h1m0-1h1m-1 0h1m-1 1h1m0 1h1m-1-1h1m0-4h1m0 4h1m-1-2h1m-1 4h1m-1-3h1m0-4h1m0 4h1m0 2h1m2 1h1m0-3h1m1-2h1m3-1h1m3-1h1m1 2h1m4-1h1m1 1h1m0 3h1m0-3h1m0-2h1m0 2h1m3 2h1m32-4h1m-149 12h1m-1-2h1m0-1h1m0 4h1m0-2h1m1 1h1m1 2h1m0-1h1m-1-3h1m0 4h1m1-2h1m0-4h1m0 1h1m-1 0h1m0-1h1m0 5h1m-1 2h1m-1-3h1m0 0h1m0 3h1m1-1h1m-1-6h1m-1 3h1m0 3h1m-1-3h1m0 4h1m0-3h1m-1 0h1m-1 2h1m0-4h1m0 0h1m-1-1h1m0 1h1m-1 0h1m0 1h1m-1-3h1m-1 4h1m0 3h1m-1-5h1m-1 2h1m1-2h1m0-2h1m0 7h1m1-5h1m-1-2h1m-1 5h1m-1 0h1m0-2h1m0 0h1m0 2h1m1-4h1m0-1h1m0 7h1m0-1h1m-1-6h1m-1 1h1m-1-1h1m0 6h1m-1-2h1m0 2h1m-1-2h1m0 0h1m0-1h1m-1 1h1m-1 2h1m0-5h1m-1-1h1m1 4h1m-1 3h1m-1-2h1m-1-3h1m0 0h1m-1 1h1m-1 0h1m0 0h1m-1-1h1m0 2h1m-1-1h1m-1 1h1m-1 3h1m0-6h1m0 4h1m-1 1h1m-1-3h1m0 4h1m-1-1h1m0 1h1m1-3h1m-1 3h1m-1-3h1m0 2h1m0 1h1m-1-4h1m0 0h1m-1 0h1m-1-2h1m0 4h1m-1-5h1m0 1h1m-1 2h1m-1-3h1m0 3h1m-1 4h1m0-6h1m1 1h1m-1 0h1m0 3h1m0-3h1m0 4h1m0-6h1m2 6h1m-1 1h1m-1-6h1m-1 2h1m1-1h1m0 2h1m-1-4h1m2 4h1m-1 1h1m0-2h1m3 3h1m-1-5h1m0 6h1m0-7h1m3 2h1m0 4h1m3-4h1m-1-1h1m1 2h1m1 4h1m0-6h1m6-1h1m7 5h1m-116 8h1m-1-5h1m-1 6h1m1-6h1m0 5h1m0 0h1m0-2h1m-1-2h1m2 0h1m1 5h1m0-1h1m-1-2h1m0 0h1m2 2h1m-1 1h1m1-6h1m-1 2h1m-1 1h1m0 0h1m-1 0h1m-1 1h1m1 0h1m-1 3h1m1-6h1m-1 5h1m0-1h1m0 2h1m-1-3h1m-1-4h1m-1 3h1m0 3h1m-1-6h1m-1 4h1m0-1h1m0-3h1m0 7h1m-1-2h1m-1-1h1m-1-4h1m0 7h1m0-3h1m-1-1h1m-1 1h1m0 0h1m-1-2h1m-1 3h1m0 1h1m-1-2h1m-1 1h1m0-2h1m0 3h1m-1-6h1m0 7h1m-1 0h1m-1 0h1m0 0h1m-1-6h1m0 4h1m1 2h1m-1-1h1m1-5h1m0 4h1m-1 1h1m-1 1h1m1-1h1m0 0h1m-1-1h1m-1-5h1m0 2h1m-1 0h1m0 5h1m0-7h1m0 7h1m-1 0h1m0-4h1m1-3h1m1 3h1m0 1h1m0-2h1m0 2h1m-1-4h1m-1 7h1m0-5h1m1-2h1m-1 2h1m0 2h1m-1-3h1m-1 5h1m1 1h1m-1-7h1m-1 4h1m1-3h1m-1 6h1m0-1h1m1-6h1m3 0h1m-1 6h1m-1 0h1m0-5h1m1 0h1m2 1h1m2 1h1m-1-2h1m3 0h1m13 0h1m5 6h1m1-6h1m5 0h1m4 2h1m-117 10h1m1 1h1m-1-5h1m0 2h1m-1 1h1m3 2h1m0-3h1m-1 4h1m0-3h1m0 2h1m-1-1h1m-1 0h1m1-4h1m-1 1h1m0 5h1m-1-2h1m0 1h1m-1 0h1m-1-1h1m1-2h1m-1-3h1m-1 0h1m3 6h1m-1-1h1m-1-3h1m0 1h1m0-2h1m0 2h1m-1 0h1m0-3h1m0 0h1m0 6h1m-1-3h1m-1-3h1m0 5h1m0 1h1m-1-2h1m0-2h1m3 3h1m0-2h1m-1-2h1m-1 2h1m0 2h1m-1-3h1m-1-2h1m1 1h1m0 6h1m-1-6h1m-1 1h1m-1 2h1m-1-3h1m0 4h1m0-2h1m0-3h1m-1 5h1m0-5h1m-1 6h1m0-4h1m-1 4h1m0-6h1m0 0h1m0 6h1m0 1h1m0-3h1m-1 0h1m0-3h1m2 0h1m1-1h1m2 6h1m-1-5h1m-1 0h1m0-1h1m0 0h1m0 5h1m0-1h1m1 3h1m4-7h1m1 0h1m2 5h1m1-2h1m0-2h1m0 1h1m17-2h1m-95 12h1m0 3h1m-1-6h1m-1 5h1m1-4h1m2 2h1m-1 3h1m0-3h1m-1-2h1m-1 4h1m-1 0h1m0-5h1m-1-1h1m0 2h1m0 2h1m0 1h1m0-4h1m-1 4h1m-1-5h1m1 6h1m-1 0h1m1-4h1m1 1h1m-1-1h1m0-2h1m0 4h1m-1 1h1m0-5h1m2 7h1m-1-5h1m0 3h1m0-2h1m0-3h1m0 0h1m2 0h1m-1 2h1m0 1h1m0-3h1m-1 5h1m1-3h1m0 4h1m0-2h1m1-4h1m0 2h1m3 5h1m0-6h1m2 3h1m2 2h1m6-1h1m14-2h1m3-2h1m8-1h1m-83 12h1m0-3h1m0 1h1m-1 1h1m2-3h1m-1 5h1m0-5h1m0 1h1m0 2h1m1 0h1m0-2h1m0 2h1m-1-3h1m0 3h1m0-2h1m0-1h1m-1 2h1m-1 1h1m0-1h1m-1-2h1m2 4h1m-1-3h1m2 2h1m2-2h1m0 0h1m0-1h1m2 0h1m0 1h1m4 0h1m-1 3h1m1-1h1m1-3h1m1 4h1m2 1h1m1-5h1m8 2h1" fill="none" stroke="#000" stroke-width="5" stroke-linecap="square" stroke-opacity="0.55"/>
<line x1="6.20" y1="280.00" x2="6.20" y2="342.10" stroke="#999" stroke-width="0.6" />
<line x1="6.20" y1="342.10" x2="74.50" y2="342.10" stroke="#999" stroke-width="0.6" />
<line x1="4.80" y1="341.60" x2="6.20" y2="341.60" stroke="#999" stroke-width="0.5" />
<line x1="7.00" y1="342.10" x2="7.00" y2="343.50" stroke="#999" stroke-width="0.5" />
<line x1="4.80" y1="326.20" x2="6.20" y2="326.20" stroke="#999" stroke-width="0.5" />
<line x1="23.88" y1="342.10" x2="23.88" y2="343.50" stroke="#999" stroke-width="0.5" />
<line x1="4.80" y1="310.80" x2="6.20" y2="310.80" stroke="#999" stroke-width="0.5" />
<line x1="40.75" y1="342.10" x2="40.75" y2="343.50" stroke="#999" stroke-width="0.5" />
<line x1="4.80" y1="295.40" x2="6.20" y2="295.40" stroke="#999" stroke-width="0.5" />
<line x1="57.62" y1="342.10" x2="57.62" y2="343.50" stroke="#999" stroke-width="0.5" />
<line x1="4.80" y1="280.00" x2="6.20" y2="280.00" stroke="#999" stroke-width="0.5" />
<line x1="74.50" y1="342.10" x2="74.50" y2="343.50" stroke="#999" stroke-width="0.5" />
<rect x="7.00" y="280.00" width="23.50" height="29.40" fill="none" stroke="#8ab048" stroke-width="1.3"/>
<rect x="30.50" y="280.00" width="44.00" height="29.40" fill="none" stroke="#c4504c" stroke-width="1.3"/>
<rect x="30.50" y="309.40" width="44.00" height="32.20" fill="none" stroke="#4a88cc" stroke-width="1.3"/>
<text x="39.00" y="275.85" font-size="7.5" font-weight="bold" text-anchor="middle" fill="#000"  stroke="#000" stroke-width="0.18">0</text>
<text x="37.75" y="279.00" font-size="2.6" fill="#888" text-anchor="middle">Data.017</text>
<text x="37.75" y="347.10" font-size="2.6" fill="#888" text-anchor="middle">FL1-H</text>
<text x="3.80" y="342.40" font-size="2.4" fill="#999" text-anchor="end">1</text>
<text x="7.00" y="345.20" font-size="2.4" fill="#999" text-anchor="middle">1</text>
<text x="3.80" y="327.00" font-size="2.4" fill="#999" text-anchor="end">1</text>
<text x="23.88" y="345.20" font-size="2.4" fill="#999" text-anchor="middle">1</text>
<text x="3.80" y="311.60" font-size="2.4" fill="#999" text-anchor="end">1</text>
<text x="40.75" y="345.20" font-size="2.4" fill="#999" text-anchor="middle">1</text>
<text x="3.80" y="296.20" font-size="2.4" fill="#999" text-anchor="end">1</text>
<text x="57.62" y="345.20" font-size="2.4" fill="#999" text-anchor="middle">1</text>
<text x="3.80" y="280.80" font-size="2.4" fill="#999" text-anchor="end">1</text>
<text x="74.50" y="345.20" font-size="2.4" fill="#999" text-anchor="middle">1</text>
<text x="12.80" y="286.80" font-size="5.95" font-weight="bold" text-anchor="start" fill="#f01818" stroke="#f01818" stroke-width="0.42">0.10</text>
<text x="12.80" y="293.80" font-size="5.95" font-weight="bold" text-anchor="start" fill="#f01818" stroke="#f01818" stroke-width="0.42">±</text>
<text x="17.00" y="293.80" font-size="5.95" font-weight="bold" text-anchor="start" fill="#f01818" stroke="#f01818" stroke-width="0.42">0.08</text>
<text x="57.60" y="286.80" font-size="5.95" font-weight="bold" text-anchor="start" fill="#f01818" stroke="#f01818" stroke-width="0.42">0.77</text>
<text x="57.60" y="293.80" font-size="5.95" font-weight="bold" text-anchor="start" fill="#f01818" stroke="#f01818" stroke-width="0.42">±</text>
<text x="61.80" y="293.80" font-size="5.95" font-weight="bold" text-anchor="start" fill="#f01818" stroke="#f01818" stroke-width="0.42">0.35</text>
<text x="57.60" y="333.20" font-size="5.95" font-weight="bold" text-anchor="start" fill="#f01818" stroke="#f01818" stroke-width="0.42">0.59</text>
<text x="57.60" y="340.20" font-size="5.95" font-weight="bold" text-anchor="start" fill="#f01818" stroke="#f01818" stroke-width="0.42">±</text>
<text x="61.80" y="340.20" font-size="5.95" font-weight="bold" text-anchor="start" fill="#f01818" stroke="#f01818" stroke-width="0.42">0.04</text>
<path transform="scale(0.1)" d="M1240 2890h1m85 5h1m15 2h1m-86 13h1m-87 28h1m-1 0h1m47 2h1m53 6h1m-97 9h1m59 2h1m51-4h1m-147 8h1m8 4h1m40-2h1m61 4h1m2-2h1m1 0h1m8 1h1m-98 8h1m45-3h1m21 1h1m34-2h1m-99 12h1m1-5h1m0 1h1m22-1h1m4-1h1m14 4h1m7-3h1m-74 9h1m42 5h1m7 0h1m12-5h1m-78 9h1m62-3h1m42 3h1m-119 10h1m71 1h1m-98 9h1m36-5h1m22 2h1m26-1h1m-101 10h1m98 0h1m27 6h1m32 0h1m-92 11h1m-35 9h1m158-2h1m-237 6h1m210 3h1m9-1h1m-203 8h1m0-3h1m165 2h1m24 2h1m41-1h1m-75 11h1m72 5h1m27-4h1m-65 8h1m-371 13h1m60-3h1m29 2h1m207 0h1m5 2h1m21-5h1m-13 8h1m22 5h1m17-4h1m18 0h1m-145 10h1m-251 5h1m299 4h1m-26 6h1m9-2h1m34 1h1m20-2h1m20 2h1m38-1h1m-308 6h1m176 7h1m24-7h1m39 3h1m9 4h1m-84 6h1m50-2h1m-261 7h1m65 1h1m175 1h1m30 2h1m5 1h1m-354 1h1m267 1h1m14 3h1m7 3h1m30-1h1m15-6h1m3 9h1m-304 12h1m165-3h1m40-2h1m77 7h1m-106 7h1m11-4h1m32 3h1m-253 10h1m40-4h1m102-3h1m101 6h1m66 0h1m-270 8h1m95-1h1m33-2h1m90 2h1m-188 9h1m21-2h1m9 3h1m27 0h1m126-5h1m-188 11h1m39 1h1m-155 5h1m136-1h1m21 5h1m9-4h1m28 4h1m1-5h1m8 2h1m9-1h1m4 1h1m1 3h1m105-4h1m-213 5h1m18 2h1m49 1h1m-130 12h1m1-1h1m10-3h1m19-1h1m56 3h1m10 0h1m1 0h1m6-5h1m20 6h1m12-5h1m5 6h1m15-1h1m27-2h1m5 1h1m-236 9h1m36-2h1m34 1h1m46-2h1m12-3h1m2 0h1m35 0h1m-138 13h1m33-5h1m-1 1h1m20-1h1m9 6h1m8 1h1m11-5h1m36 0h1m17 2h1m5 3h1m5-3h1m-186 5h1m18 1h1m25 5h1m1-2h1m1-2h1m52 0h1m6 4h1m7-1h1m3-6h1m24 5h1m16-3h1m0-2h1m12 0h1m0 4h1m-199 11h1m62-1h1m2 1h1m1-4h1m28-1h1m20-1h1m1-1h1m8 4h1m2 2h1m8 1h1m2-7h1m10 2h1m0 0h1m23 4h1m9 0h1m18 1h1m-169 3h1m10-2h1m21 2h1m1-1h1m6-1h1m3 7h1m3-1h1m20-2h1m1-3h1m5 5h1m10-5h1m16 5h1m1-5h1m0 4h1m24-5h1m0 1h1m2 6h1m-155 1h1m11 3h1m0 4h1m11-3h1m27-1h1m8-2h1m0 6h1m0-3h1m19 0h1m25-4h1m13 7h1m9-2h1m13-2h1m4 2h1m-1-3h1m0 0h1m42-2h1m-207 10h1m28 5h1m35-5h1m11 4h1m13-3h1m9-3h1m1 1h1m1 4h1m3 2h1m4-4h1m4 2h1m6-2h1m17 3h1m12-3h1m-183 12h1m51-4h1m11 3h1m2-1h1m4 1h1m1-2h1m2-4h1m3 4h1m11-4h1m18 6h1m19 1h1m44-4h1m-1 0h1m59 2h1m-223 3h1m6 7h1m32-2h1m-1 1h1m1-3h1m8-1h1m15 3h1m5-4h1m19 0h1m9-1h1m0 6h1m6-3h1m33-1h1m11-1h1m1 6h1m2-6h1m-169 9h1m13 2h1m12-1h1m17 4h1m4-2h1m17-1h1m9 2h1m9-5h1m19 5h1m19-1h1m12-5h1m36 0h1m-156 12h1m2-2h1m25 3h1m3-3h1m2 0h1m0 4h1m-1 1h1m20-2h1m7 0h1m4-5h1m10 2h1m4 2h1m5-1h1m23 1h1m6-2h1m-162 11h1m14-1h1m11-2h1m26 1h1m14-1h1m8 3h1m6-1h1m13-4h1m2 4h1m5 1h1m1 2h1m3-6h1m9 6h1m-53 4h1m2 1h1m1-4h1m6 3h1m7-3h1m-1 5h1m0-4h1m1 2h1m1 3h1m2-2h1m22-2h1m0-2h1m1 0h1m8 7h1m16 0h1m5-7h1m17 1h1m8 1h1m-148 13h1m0-5h1m8 2h1m11-1h1m5 0h1m-1 1h1m15-2h1m10 4h1m6-4h1m0-2h1m14 4h1m9-2h1m0 1h1m22 4h1m27 0h1m9 0h1m-143 1h1m10 0h1m9 3h1m8 0h1m1 0h1m21 1h1m17-4h1m37 4h1m13 2h1m-150 4h1m9 5h1m8-3h1m18-3h1m0 4h1m16-1h1m16-3h1m6 4h1m40-3h1m0 1h1m9 2h1m-138 8h1m14-4h1m3 4h1m21-3h1m9 5h1m9-6h1m13-1h1m7 2h1m0 4h1m2 1h1m-85 2h1m66 1h1m24 2h1m33-3h1m-97 12h1m4 2h1m17-2h1m15 2h1m22-7h1m78 5h1m-187 7h1m61 1h1m16 2h1m31-4h1m-53 11h1m11-6h1" fill="none" stroke="#000" stroke-width="5" stroke-linecap="square" stroke-opacity="0.3"/>
<path transform="scale(0.1)" d="M1011 3213h1m-33 6h1m-1 1h1m11 2h1m8-1h1m12 0h1m0 1h1m3-2h1m0-2h1m14 5h1m-92 2h1m11 6h1m5-2h1m30 2h1m7-3h1m0-2h1m0 5h1m3-5h1m2 0h1m0 0h1m5 3h1m1-1h1m2 3h1m6-6h1m4 3h1m6 3h1m-103 4h1m7-1h1m13 4h1m6-2h1m12-3h1m-1 3h1m0 1h1m2 0h1m4-5h1m0 5h1m0 2h1m0-4h1m-1-1h1m1 5h1m1 0h1m0-3h1m4-3h1m0 2h1m2 3h1m2 0h1m3-4h1m0 1h1m2 3h1m1-3h1m0 3h1m0-6h1m0 6h1m1-5h1m3 4h1m3-1h1m1 3h1m8-1h1m15-6h1m-104 12h1m5-3h1m6 3h1m4 1h1m3 1h1m2 1h1m5-5h1m0 3h1m-1-3h1m0 5h1m1 0h1m0-7h1m1 4h1m-1-1h1m0-2h1m1 0h1m-1 3h1m-1-2h1m0-2h1m-1 1h1m0 3h1m-1 2h1m0-3h1m0-1h1m-1 2h1m0 1h1m-1-2h1m3 1h1m1 1h1m-1-1h1m3 1h1m0 0h1m0-2h1m-1 0h1m-1 1h1m0-4h1m-1 2h1m1-1h1m1 0h1m-1 1h1m1 4h1m0 1h1m0-2h1m0-3h1m2 0h1m0 1h1m0 0h1m5 1h1m1 3h1m2-6h1m1-1h1m4 5h1m7 1h1m-112 3h1m1 6h1m2-2h1m2 2h1m-1-7h1m4 6h1m1 0h1m1-6h1m3 6h1m-1-2h1m0-3h1m2 4h1m0 1h1m0 0h1m-1 1h1m1-6h1m0 5h1m-1 0h1m3-1h1m3-3h1m0 2h1m0-1h1m-1 0h1m3 3h1m-1-4h1m1 4h1m0-4h1m0 2h1m0 3h1m-1-2h1m-1 1h1m-1-4h1m0 1h1m2 0h1m-1 2h1m3-5h1m0 7h1m0-7h1m-1 7h1m0 0h1m-1 0h1m0-4h1m-1-3h1m-1 0h1m0 2h1m0 3h1m0-3h1m-1-2h1m1 0h1m2 6h1m0-3h1m0 2h1m4-5h1m0 4h1m-1-3h1m4-1h1m-1 5h1m0 2h1m1-3h1m0 2h1m-1-1h1m1-4h1m4 2h1m1-2h1m0 4h1m2-3h1m-136 13h1m32-6h1m0 1h1m6 5h1m-1-6h1m0 4h1m0 2h1m0-2h1m0 1h1m-1 1h1m1-3h1m0-2h1m-1 1h1m1 2h1m0-5h1m2 5h1m2-2h1m-1 2h1m-1 0h1m-1-3h1m2 2h1m1 3h1m0-7h1m-1 4h1m-1 1h1m-1-4h1m0-1h1m0 3h1m0 4h1m0-3h1m-1 3h1m1-7h1m-1 6h1m0-1h1m1-1h1m0-2h1m-1 5h1m-1 0h1m0 0h1m-1-3h1m-1 1h1m0 2h1m0-7h1m-1 3h1m1-3h1m1 7h1m0-4h1m1-3h1m0 4h1m1-4h1m-1 3h1m0-2h1m0-1h1m0 0h1m-1 7h1m0-1h1m-1-6h1m-1 2h1m0 1h1m-1-3h1m0 0h1m0 6h1m0-2h1m0 2h1m0-4h1m-1 0h1m-1 5h1m-1-6h1m2 1h1m0 4h1m0 1h1m0-6h1m0 4h1m2 1h1m-1-5h1m2 5h1m1 1h1m1-7h1m4 6h1m3-4h1m4 2h1m4 2h1m-124 6h1m4 0h1m10 2h1m2-1h1m1-4h1m2 0h1m3 3h1m0-3h1m0 6h1m0-2h1m1-3h1m0 3h1m-1 2h1m0-1h1m-1-2h1m-1-2h1m3 0h1m0-1h1m-1 1h1m0 0h1m0 4h1m-1-2h1m1 0h1m-1 2h1m2-3h1m0-2h1m-1 1h1m-1 5h1m-1 0h1m1-3h1m-1-1h1m-1 1h1m-1 3h1m0-1h1m0-4h1m-1 4h1m-1 1h1m0-3h1m-1-1h1m-1 0h1m-1-2h1m2 2h1m-1 2h1m-1-1h1m-1 3h1m0-7h1m-1 6h1m0-2h1m0 1h1m4 1h1m-1-6h1m-1 4h1m0-2h1m0 5h1m-1-3h1m1-2h1m0-1h1m1 5h1m-1-5h1m-1 4h1m0-5h1m0 1h1m-1 0h1m-1-1h1m0 1h1m-1-1h1m-1 3h1m1-2h1m-1 1h1m-1-1h1m0 5h1m-1-2h1m-1 0h1m-1-2h1m1 5h1m-1-4h1m0 1h1m-1 1h1m-1-3h1m2 4h1m-1 1h1m0-4h1m2 1h1m-1-4h1m0 5h1m0-5h1m0 1h1m0 0h1m0 5h1m0-4h1m-1 4h1m4 1h1m2 0h1m1-3h1m3 1h1m0-5h1m0 2h1m0 3h1m8-1h1m-1 2h1m8-6h1m-143 12h1m12 0h1m0 2h1m4-1h1m1 2h1m6-4h1m-1 3h1m0 0h1m-1-1h1m0-5h1m0 4h1m-1-3h1m1 1h1m2 3h1m0 2h1m-1-1h1m0 0h1m1-3h1m0-2h1m0 6h1m0-1h1m0 1h1m-1-3h1m-1-3h1m-1 0h1m0 0h1m-1 6h1m0-7h1m-1 6h1m0 0h1m-1 0h1m0-2h1m-1 2h1m0 0h1m0-1h1m-1-2h1m-1-1h1m2 0h1m1-1h1m-1 4h1m-1 2h1m0-4h1m-1 2h1m0 0h1m1-2h1m-1 2h1m0-2h1m-1 0h1m-1 3h1m1 1h1m-1-2h1m-1 2h1m0-1h1m-1-4h1m-1-1h1m0 3h1m-1 0h1m0 1h1m0-5h1m-1 4h1m0 0h1m0-1h1m2 3h1m0-4h1m3 0h1m-1 4h1m0 1h1m2-7h1m1 2h1m0 2h1m0-3h1m-1 0h1m-1 5h1m1 1h1m0-7h1m1 6h1m0-2h1m0-2h1m1-1h1m0 6h1m1-4h1m0 1h1m0-4h1m-1 2h1m0 5h1m3 0h1m1-6h1m0-1h1m-1 3h1m2-3h1m7 6h1m0-5h1m6 1h1m1 3h1m2-3h1m-143 9h1m4 3h1m7 0h1m1-5h1m10 1h1m0-2h1m2 6h1m-1-1h1m0-5h1m-1 7h1m1-1h1m0-5h1m-1 3h1m0-4h1m0 5h1m1-3h1m1 1h1m-1-1h1m0 3h1m0-3h1m-1 0h1m2 4h1m0-1h1m0 1h1m0-2h1m0 3h1m0-1h1m2-3h1m0 2h1m0-2h1m-1 3h1m0 1h1m-1-3h1m-1-2h1m0-1h1m0 3h1m0 2h1m-1 1h1m2-7h1m-1 2h1m0 2h1m-1-4h1m-1 6h1m0-1h1m-1 1h1m-1 0h1m0 0h1m-1-6h1m-1 0h1m1 7h1m1-3h1m-1 2h1m-1-5h1m0 3h1m-1 1h1m0 2h1m-1-4h1m0 3h1m0-6h1m-1 0h1m-1 6h1m2-5h1m-1-1h1m0 1h1m-1 4h1m-1 2h1m1-1h1m0 0h1m-1-5h1m1 2h1m0 1h1m-1 1h1m0 1h1m1-6h1m0 4h1m-1 0h1m0-3h1m0 5h1m0 1h1m-1 0h1m1-2h1m0-3h1m0 2h1m-1-4h1m3 3h1m1 1h1m-1 3h1m0-4h1m2-3h1m-1 6h1m0-3h1m-1 3h1m3-3h1m-1-3h1m2 6h1m0 0h1m2 1h1m2-7h1m7 2h1m0-1h1m5-1h1m-148 9h1m2 5h1m15-1h1m9 1h1m0 1h1m-1-1h1m-1-4h1m-1 0h1m-1-1h1m0 5h1m-1-4h1m-1 4h1m0-3h1m2 4h1m0-3h1m1-1h1m-1 3h1m0-3h1m0 4h1m0-7h1m0 7h1m-1-4h1m2 2h1m-1-1h1m0-4h1m-1 2h1m1-1h1m0 4h1m0-3h1m-1 3h1m0 0h1m0 0h1m0-2h1m2 2h1m0 2h1m-1-1h1m0 1h1m1-6h1m-1 3h1m-1 3h1m1-1h1m0 0h1m-1-4h1m0 3h1m-1-1h1m1 2h1m-1-2h1m-1-3h1m-1 2h1m-1 4h1m0-1h1m-1-6h1m1 0h1m-1 2h1m-1 5h1m0-7h1m-1 5h1m-1-2h1m-1-3h1m0 1h1m-1 1h1m0 2h1m-1 3h1m0 0h1m-1-5h1m-1 3h1m-1 1h1m-1-4h1m0-2h1m-1 7h1m0-4h1m-1-2h1m0 4h1m-1-1h1m1-1h1m0-3h1m-1 4h1m-1-3h1m0 5h1m-1 0h1m0 0h1m0-5h1m-1 6h1m1-3h1m-1 3h1m0-5h1m0 4h1m-1-4h1m1 3h1m-1 1h1m-1-1h1m-1 2h1m0-7h1m0 5h1m0-2h1m-1 4h1m-1-2h1m0 0h1m-1-3h1m-1 4h1m0-2h1m-1 3h1m0-1h1m-1-2h1m0 2h1m-1-6h1m0 0h1m0 2h1m-1 5h1m0-5h1m-1-2h1m0 6h1m0-5h1m-1-1h1m0 5h1m0-2h1m0 2h1m0-3h1m2 3h1m0-2h1m-1-3h1m2 1h1m0 2h1m-1 2h1m-1-4h1m-1 4h1m0-3h1m3 0h1m-1-1h1m0 5h1m1-4h1m1-2h1m1 1h1m0 6h1m5-1h1m1-3h1m1-3h1m0 4h1m-138 9h1m1 2h1m-1-3h1m5 1h1m2 1h1m4-5h1m3-1h1m0 4h1m0-2h1m0 1h1m-1 2h1m0 1h1m0-4h1m0 5h1m0-2h1m2-3h1m0 4h1m1-4h1m1 4h1m0-4h1m0 2h1m-1 2h1m-1-1h1m-1 0h1m0-5h1m1 3h1m-1-2h1m0 6h1m1-2h1m0 0h1m0-3h1m0 1h1m-1 2h1m1-5h1m0 2h1m-1 3h1m-1 0h1m-1 1h1m0-2h1m0-2h1m0-1h1m-1 0h1m-1 6h1m-1 0h1m-1-3h1m2-2h1m-1 2h1m-1 0h1m0-3h1m-1 1h1m0 5h1m0-4h1m-1 3h1m0-3h1m-1-1h1m0-2h1m-1 1h1m0 3h1m-1 1h1m-1-4h1m0 1h1m-1 3h1m-1-5h1m0 2h1m0 4h1m-1-2h1m1-3h1m-1 3h1m0-3h1m-1 2h1m0-2h1m-1 6h1m-1-5h1m0 3h1m-1-2h1m-1 4h1m0-2h1m0-3h1m-1 2h1m0-4h1m-1 7h1m0-6h1m-1 0h1m-1-1h1m-1 1h1m0 4h1m-1 1h1m0 0h1m-1-6h1m-1 4h1m-1-1h1m0-1h1m0 2h1m0 2h1m-1 1h1m-1 0h1m0-7h1m0 5h1m0 0h1m0 0h1m1 0h1m0-1h1m0 1h1m-1 0h1m0-1h1m0-3h1m-1 4h1m-1 1h1m2-6h1m0 4h1m-1 2h1m-1-1h1m0-4h1m0 4h1m0-3h1m-1 2h1m0-1h1m0 4h1m0-6h1m-1 4h1m-1-1h1m1 2h1m1-2h1m0 2h1m1-3h1m0 4h1m2-6h1m5 2h1m2 0h1m-1 2h1m3 2h1m0-3h1m2-3h1m4 5h1m-128 5h1m-1 1h1m6-3h1m0 5h1m2-2h1m-1-3h1m5-1h1m0 6h1m2-6h1m-1 0h1m2 2h1m-1 0h1m0 5h1m0-1h1m0-1h1m1-3h1m-1-1h1m2 2h1m-1 3h1m0-4h1m-1 2h1m0 2h1m-1-6h1m1 2h1m0 5h1m0-2h1m-1 2h1m-1-3h1m1-4h1m1 1h1m-1 3h1m0-4h1m-1 7h1m2-1h1m-1-1h1m-1 1h1m0-2h1m-1 2h1m-1 0h1m-1-5h1m0 5h1m0 1h1m-1-5h1m-1 2h1m0 3h1m0-2h1m-1 2h1m-1-4h1m0 4h1m-1-5h1m-1 1h1m-1 3h1m0-1h1m-1-4h1m-1-1h1m-1 2h1m1-2h1m-1 1h1m0 2h1m-1 3h1m0 0h1m-1-5h1m-1-1h1m0 5h1m-1-3h1m0 1h1m-1 1h1m-1-3h1m0 0h1m-1 4h1m-1-5h1m-1 1h1m0 3h1m0 1h1m-1-5h1m-1 1h1m-1 3h1m-1-2h1m-1 5h1m0 0h1m-1-1h1m0-2h1m-1-3h1m-1 0h1m0 5h1m-1 1h1m-1-4h1m0-3h1m0 2h1m-1 0h1m-1 3h1m-1-2h1m0 3h1m0-2h1m-1-2h1m-1 4h1m1-6h1m1 5h1m0-1h1m0 2h1m1-1h1m0 1h1m1 0h1m-1-3h1m1-2h1m-1 6h1m2-7h1m-1 1h1m0 3h1m0-3h1m1-1h1m0 4h1m1-2h1m2 4h1m-1-6h1m4 7h1m2-1h1m1-4h1m1-2h1m-1 2h1m7 4h1m12-4h1m-147 9h1m15 4h1m2-5h1m3-2h1m0 4h1m-1 2h1m-1-2h1m-1 1h1m2-2h1m1-3h1m-1 0h1m2 5h1m0 2h1m0-3h1m4-4h1m0 6h1m-1 0h1m1 0h1m0-5h1m-1 0h1m-1 4h1m0 2h1m0-4h1m-1-1h1m0 5h1m0-5h1m-1 2h1m0 3h1m-1-1h1m-1-2h1m0 3h1m-1-4h1m0-2h1m1-1h1m-1 0h1m-1 6h1m0-1h1m-1 0h1m0-4h1m-1 4h1m-1-5h1m0 4h1m0-3h1m-1 1h1m1-2h1m-1 7h1m-1-2h1m0 2h1m0 0h1m0-7h1m1 2h1m0 5h1m0 0h1m-1-6h1m-1 1h1m0 3h1m-1 2h1m-1-3h1m-1-4h1m0 5h1m-1-3h1m0 1h1m0 3h1m0-2h1m-1 2h1m-1-4h1m0 2h1m-1 1h1m2-1h1m0-3h1m1 0h1m-1 6h1m0-1h1m-1-5h1m0 5h1m0-1h1m0 0h1m-1-4h1m1 4h1m1-3h1m0 0h1m-1-1h1m1-1h1m1 2h1m-1 2h1m-1-2h1m3 4h1m-1-3h1m-1 1h1m1-2h1m1 4h1m0-6h1m3 5h1m0-2h1m1 1h1m0 0h1m1 2h1m0-5h1m0-1h1m0 5h1m1 0h1m3-5h1m1 7h1m-132 7h1m5-2h1m6-3h1m0 4h1m-1-4h1m1 3h1m0 0h1m-1 2h1m2 0h1m2-2h1m0 0h1m0 3h1m1-5h1m-1 4h1m0-5h1m-1 3h1m0-2h1m0 2h1m1 0h1m1-2h1m-1 1h1m1-2h1m3 6h1m0-6h1m0 3h1m-1 0h1m-1 1h1m0-5h1m-1 3h1m0-2h1m-1 2h1m-1 0h1m0-1h1m-1 1h1m-1 0h1m-1 1h1m0-1h1m0 0h1m0-3h1m-1 4h1m-1-4h1m0 4h1m-1 3h1m1-1h1m-1 1h1m0-3h1m0-1h1m-1 4h1m-1-2h1m0-5h1m-1 3h1m0 3h1m-1-6h1m1 5h1m0 0h1m0-2h1m-1-1h1m0 5h1m1-7h1m-1 3h1m-1 2h1m0 1h1m-1-1h1m0 0h1m0-1h1m-1-2h1m-1 3h1m-1-4h1m-1 0h1m1 3h1m0 2h1m0-4h1m-1 1h1m-1-2h1m1 0h1m-1-1h1m-1 3h1m0-3h1m-1 1h1m1 1h1m-1 2h1m1 0h1m-1 1h1m-1-3h1m1 1h1m-1-1h1m3 0h1m-1 2h1m1-1h1m1-3h1m-1 5h1m-1-2h1m-1 3h1m0-6h1m1 0h1m1 4h1m-1-1h1m0 3h1m0 0h1m0-6h1m1 4h1m2-1h1m-1-1h1m0 3h1m0-4h1m-1-1h1m1 1h1m-1 2h1m0 2h1m0-2h1m0 3h1m3-6h1m-1 6h1m2-5h1m2 0h1m6 4h1m25-2h1m-162 10h1m9-2h1m-1 2h1m0 2h1m1-2h1m-1-5h1m4 6h1m0-4h1m0 5h1m2-3h1m-1 3h1m2-6h1m3 3h1m-1 0h1m-1-1h1m0 3h1m2-3h1m0 2h1m-1 1h1m-1-5h1m1 4h1m-1 2h1m-1-5h1m0 1h1m2 0h1m-1 0h1m0-2h1m0 0h1m-1 6h1m0 0h1m5-5h1m-1 0h1m0 2h1m1-1h1m-1-1h1m1 3h1m-1-2h1m-1 4h1m0-3h1m-1 2h1m0 0h1m-1-6h1m-1 4h1m-1-1h1m0-1h1m-1-2h1m-1 5h1m1-2h1m0-1h1m-1 4h1m-1-3h1m0 1h1m-1-1h1m0-3h1m0 3h1m-1 1h1m-1-2h1m1-1h1m-1 0h1m-1 5h1m0-5h1m-1 2h1m0 3h1m0-2h1m-1-4h1m-1 1h1m0-1h1m0 6h1m-1-4h1m-1 0h1m-1 5h1m0-6h1m-1 1h1m0 1h1m0 4h1m-1-2h1m0-5h1m-1 1h1m-1 4h1m0 1h1m1-6h1m-1 0h1m0 5h1m-1-4h1m1 2h1m0 0h1m-1-3h1m0 5h1m-1-1h1m-1-4h1m0 7h1m0-5h1m-1 5h1m0 0h1m0-4h1m0 2h1m-1-5h1m3 2h1m2-1h1m-1 2h1m0-2h1m1 2h1m1 1h1m3-4h1m5 3h1m8-2h1m3 2h1m3 3h1m4-3h1m-133 11h1m-1-6h1m0 3h1m4 3h1m2-5h1m0 6h1m5-7h1m-1 1h1m2 6h1m0-7h1m-1 3h1m1 3h1m0-3h1m2 1h1m0-3h1m-1-1h1m0 3h1m-1 1h1m0 0h1m3 3h1m0-3h1m-1 2h1m-1-6h1m0 4h1m2-1h1m-1 1h1m-1 1h1m0 1h1m0 0h1m1-1h1m-1-2h1m-1-1h1m-1 1h1m0-2h1m0 1h1m0 0h1m-1 1h1m0 3h1m-1 0h1m-1-1h1m0-2h1m-1 1h1m-1-4h1m0 1h1m-1 2h1m-1 1h1m0-1h1m-1-1h1m1 5h1m-1-2h1m0 1h1m2-4h1m-1 1h1m0-3h1m-1 7h1m-1-3h1m0 1h1m0-3h1m-1 0h1m0-1h1m-1 0h1m-1 1h1m0 0h1m0 0h1m-1 5h1m1-1h1m2-1h1m-1-5h1m-1 3h1m0 1h1m0 0h1m-1 2h1m-1-2h1m2 3h1m-1-2h1m2-1h1m-1-3h1m-1 1h1m-1 2h1m0 2h1m-1-2h1m-1 2h1m0-1h1m1-3h1m-1 3h1m0 0h1m3 2h1m0-2h1m1-2h1m-1 1h1m0-3h1m-1 1h1m-1 1h1m0 3h1m0-3h1m0-1h1m-1 5h1m2-4h1m-1 3h1m-1-6h1m2 5h1m-1-1h1m1 1h1m1-1h1m-1 1h1m3 2h1m-1-4h1m-1-2h1m8 0h1m7 2h1m-129 12h1m-1-3h1m0-3h1m5 3h1m2-2h1m5 5h1m3 0h1m0-3h1m0 0h1m1-1h1m0-3h1m0 7h1m1-1h1m-1-2h1m1-3h1m0 6h1m1-4h1m0 4h1m-1-1h1m1-2h1m-1 3h1m0-7h1m-1 1h1m-1 0h1m2-1h1m0 0h1m1 0h1m-1 3h1m0 4h1m-1-6h1m0 6h1m0-3h1m0 3h1m-1-4h1m0 3h1m0-3h1m0-1h1m-1 4h1m0-2h1m-1-2h1m0 3h1m0-4h1m-1 0h1m1 5h1m0 1h1m-1-5h1m1 1h1m-1 2h1m0-3h1m-1 5h1m0-1h1m-1-2h1m-1-3h1m0 4h1m-1-1h1m-1-4h1m0 6h1m-1-5h1m0 6h1m-1 0h1m0-6h1m5 3h1m-1 1h1m-1 1h1m2-6h1m-1 3h1m1 4h1m-1-2h1m0 2h1m-1-3h1m0-3h1m0 6h1m-1-6h1m-1 1h1m-1-1h1m0 0h1m0 3h1m1 3h1m0-7h1m0 0h1m2 4h1m0-3h1m0 2h1m0-1h1m2-1h1m0 5h1m-1 1h1m0-6h1m0 1h1m0-2h1m0 0h1m3 6h1m10 1h1m7-6h1m-123 7h1m12 1h1m-1 0h1m0 3h1m2 2h1m1-1h1m-1 1h1m3 0h1m-1-4h1m0 4h1m2-6h1m-1 1h1m-1 2h1m0-1h1m-1-1h1m1 2h1m-1-1h1m-1 3h1m2-4h1m-1 6h1m1-4h1m0-2h1m-1 1h1m0-2h1m0 0h1m0 2h1m0-1h1m0 5h1m-1 0h1m-1-6h1m0 5h1m-1 2h1m0-3h1m0-1h1m-1-1h1m-1 3h1m1-3h1m-1 4h1m-1-4h1m0 0h1m2 3h1m-1-4h1m1 3h1m0-1h1m0 4h1m1-7h1m0 1h1m-1-1h1m0 4h1m-1-4h1m-1 3h1m-1 0h1m1 0h1m-1 0h1m-1-3h1m0 0h1m0 2h1m0 4h1m-1-1h1m0 2h1m0 0h1m0-1h1m0-2h1m-1-3h1m0 5h1m1-1h1m-1-1h1m1 0h1m1-1h1m2 3h1m0-6h1m0 7h1m0-6h1m1 5h1m-1 1h1m-1-2h1m0 1h1m-1-2h1m0 2h1m-1-5h1m0 4h1m6 0h1m2 0h1m0-1h1m3-3h1m2 1h1m-108 6h1m8 0h1m8 2h1m-1 2h1m2 2h1m-1-2h1m4 0h1m-1 3h1m0-5h1m1 3h1m-1 0h1m2 0h1m2-5h1m1 2h1m0-2h1m0 4h1m-1-3h1m-1 5h1m0 0h1m0-4h1m-1 2h1m0-2h1m-1 1h1m0-1h1m0 5h1m-1-3h1m1-1h1m0 4h1m-1 0h1m0-7h1m1 1h1m-1 6h1m-1-1h1m0-4h1m0 0h1m0 5h1m1-7h1m1 0h1m0 0h1m2 2h1m5 5h1m-1-1h1m0-1h1m0 0h1m0-3h1m0-1h1m0 6h1m1-3h1m3-1h1m8-2h1m10-1h1m7 1h1m-106 7h1m14 2h1m0 5h1m-1 0h1m1-4h1m0 2h1m1 0h1m2 0h1m2-5h1m0 6h1m0-4h1m-1 0h1m0 4h1m0-1h1m-1 0h1m0-4h1m-1 3h1m1-4h1m-1 6h1m0-1h1m-1 0h1m0-2h1m6-2h1m-1-1h1m-1 2h1m2-2h1m-1 0h1m0 7h1m0-7h1m1 6h1m2-1h1m2-4h1m0-1h1m1 2h1m-1 1h1m4 0h1m0 4h1m5-4h1m3 1h1m1 3h1m6-5h1m0-1h1m4 1h1m-67 7h1m4 6h1m2 0h1m-1-7h1m0 3h1m2 4h1m7-4h1m0-1h1m2 3h1m-1-4h1m1-1h1m-1 3h1m4 4h1m1-3h1m10-4h1m14 3h1m-69 8h1m10 3h1m0-4h1m1-2h1m0 6h1m0-4h1m14 5h1m2-6h1m8 4h1m0-5h1m-31 12h1m22 0h1m0 0h1m-7 6h1m0-2h1" fill="none" stroke="#000" stroke-width="5" stroke-linecap="square" stroke-opacity="0.55"/>
<line x1="81.70" y1="280.00" x2="81.70" y2="342.10" stroke="#999" stroke-width="0.6" />
<line x1="81.70" y1="342.10" x2="149.70" y2="342.10" stroke="#999" stroke-width="0.6" />
<line x1="80.30" y1="341.60" x2="81.70" y2="341.60" stroke="#999" stroke-width="0.5" />
<line x1="82.50" y1="342.10" x2="82.50" y2="343.50" stroke="#999" stroke-width="0.5" />
<line x1="80.30" y1="326.20" x2="81.70" y2="326.20" stroke="#999" stroke-width="0.5" />
<line x1="99.30" y1="342.10" x2="99.30" y2="343.50" stroke="#999" stroke-width="0.5" />
<line x1="80.30" y1="310.80" x2="81.70" y2="310.80" stroke="#999" stroke-width="0.5" />
<line x1="116.10" y1="342.10" x2="116.10" y2="343.50" stroke="#999" stroke-width="0.5" />
<line x1="80.30" y1="295.40" x2="81.70" y2="295.40" stroke="#999" stroke-width="0.5" />
<line x1="132.90" y1="342.10" x2="132.90" y2="343.50" stroke="#999" stroke-width="0.5" />
<line x1="80.30" y1="280.00" x2="81.70" y2="280.00" stroke="#999" stroke-width="0.5" />
<line x1="149.70" y1="342.10" x2="149.70" y2="343.50" stroke="#999" stroke-width="0.5" />
<rect x="82.50" y="280.00" width="23.00" height="29.20" fill="none" stroke="#8ab048" stroke-width="1.3"/>
<rect x="105.50" y="280.00" width="44.20" height="29.20" fill="none" stroke="#c4504c" stroke-width="1.3"/>
<rect x="105.50" y="309.20" width="44.20" height="32.40" fill="none" stroke="#4a88cc" stroke-width="1.3"/>
<text x="115.00" y="275.85" font-size="7.5" font-weight="bold" text-anchor="middle" fill="#000"  stroke="#000" stroke-width="0.18">20</text>
<text x="113.10" y="279.00" font-size="2.6" fill="#888" text-anchor="middle">Data.017</text>
<text x="113.10" y="347.10" font-size="2.6" fill="#888" text-anchor="middle">FL1-H</text>
<text x="79.30" y="342.40" font-size="2.4" fill="#999" text-anchor="end">1</text>
<text x="82.50" y="345.20" font-size="2.4" fill="#999" text-anchor="middle">1</text>
<text x="79.30" y="327.00" font-size="2.4" fill="#999" text-anchor="end">1</text>
<text x="99.30" y="345.20" font-size="2.4" fill="#999" text-anchor="middle">1</text>
<text x="79.30" y="311.60" font-size="2.4" fill="#999" text-anchor="end">1</text>
<text x="116.10" y="345.20" font-size="2.4" fill="#999" text-anchor="middle">1</text>
<text x="79.30" y="296.20" font-size="2.4" fill="#999" text-anchor="end">1</text>
<text x="132.90" y="345.20" font-size="2.4" fill="#999" text-anchor="middle">1</text>
<text x="79.30" y="280.80" font-size="2.4" fill="#999" text-anchor="end">1</text>
<text x="149.70" y="345.20" font-size="2.4" fill="#999" text-anchor="middle">1</text>
<text x="88.30" y="286.80" font-size="5.95" font-weight="bold" text-anchor="start" fill="#f01818" stroke="#f01818" stroke-width="0.42">0.14</text>
<text x="88.30" y="293.80" font-size="5.95" font-weight="bold" text-anchor="start" fill="#f01818" stroke="#f01818" stroke-width="0.42">±</text>
<text x="92.50" y="293.80" font-size="5.95" font-weight="bold" text-anchor="start" fill="#f01818" stroke="#f01818" stroke-width="0.42">0.06</text>
<text x="132.80" y="286.80" font-size="5.95" font-weight="bold" text-anchor="start" fill="#f01818" stroke="#f01818" stroke-width="0.42">1.12</text>
<text x="132.80" y="293.80" font-size="5.95" font-weight="bold" text-anchor="start" fill="#f01818" stroke="#f01818" stroke-width="0.42">±</text>
<text x="137.00" y="293.80" font-size="5.95" font-weight="bold" text-anchor="start" fill="#f01818" stroke="#f01818" stroke-width="0.42">0.12</text>
<text x="132.80" y="333.20" font-size="5.95" font-weight="bold" text-anchor="start" fill="#f01818" stroke="#f01818" stroke-width="0.42">1.68</text>
<text x="132.80" y="340.20" font-size="5.95" font-weight="bold" text-anchor="start" fill="#f01818" stroke="#f01818" stroke-width="0.42">±</text>
<text x="137.00" y="340.20" font-size="5.95" font-weight="bold" text-anchor="start" fill="#f01818" stroke="#f01818" stroke-width="0.42">0.10</text>
<path transform="scale(0.1)" d="M189 3773h1m9-2h1m359 2h1m11 1h1m-452 9h1m503-4h1m27 0h1m-459 10h1m264-2h1m155 4h1m-425 5h1m27-1h1m143 1h1m59 3h1m7-5h1m43 3h1m40-4h1m23 4h1m3-2h1m33 1h1m29 2h1m-493 9h1m98-3h1m18 3h1m29-4h1m21 2h1m145-4h1m21 6h1m23-7h1m4 7h1m8-6h1m22 1h1m21 3h1m5-5h1m31 4h1m-474 5h1m230 6h1m27-1h1m1-5h1m39 1h1m2 5h1m3-2h1m1-1h1m10 0h1m3-4h1m22 7h1m60-5h1m18 4h1m7-4h1m13 3h1m-429 9h1m44 0h1m56-6h1m8 5h1m81 2h1m27-1h1m3-3h1m4-1h1m2 1h1m13-3h1m8 6h1m1-5h1m3 6h1m19-7h1m6 4h1m-1-1h1m27 1h1m2-1h1m0 4h1m12-5h1m4 2h1m52-4h1m1 7h1m33 0h1m4-1h1m6-4h1m7 4h1m63-6h1m-423 12h1m0 1h1m67-4h1m42 4h1m15-4h1m71 4h1m20 0h1m2 1h1m2-2h1m5-4h1m18 6h1m0 0h1m42-6h1m22 0h1m0 3h1m7 4h1m6-4h1m22 1h1m3-1h1m-490 11h1m6-1h1m54-5h1m39 7h1m114-7h1m81 3h1m12-1h1m22 4h1m5-2h1m2 2h1m8-5h1m5 2h1m3 4h1m9-6h1m7 0h1m2 3h1m-1-1h1m2 0h1m45 3h1m42-1h1m2 2h1m-257 6h1m29-3h1m7 2h1m1-1h1m4 1h1m2-1h1m1 0h1m4 4h1m15-7h1m51 2h1m4 1h1m14-3h1m18 4h1m51 0h1m3-4h1m44 7h1m28-6h1m-392 7h1m131 3h1m20 0h1m60 1h1m8 0h1m69 2h1m-329 8h1m16 0h1m27 0h1m27 0h1m73-3h1m40 4h1m-1-5h1m5 3h1m2-2h1m15 1h1m7 1h1m39-3h1m5 3h1m30-1h1m69-3h1m2 1h1m-409 13h1m109 0h1m63 0h1m3-2h1m4 0h1m101 2h1m12-3h1m28 0h1m18 1h1m14-3h1m-397 6h1m3 5h1m133-2h1m111-1h1m58 2h1m79-2h1m-372 13h1m31-6h1m39 2h1m63 1h1m11 1h1m25-5h1m81 0h1m41 5h1m4-5h1m5 5h1m4-5h1m15 1h1m31 1h1m-357 13h1m132-4h1m3 4h1m29-3h1m25-3h1m63 0h1m-223 7h1m143 7h1m-141 4h1m115-3h1m241 0h1m-378 30h1m9-3h1m23 1h1m24 0h1m49-1h1m-55 7h1m6 0h1m50 8h1m-78 12h1m36 0h1m-118 17h1m38-1h1m145 4h1m-144 6h1m-67 10h1m192 13h1m-191 2h1m9 8h1m26 10h1m178 18h1m-201 5h1m147 3h1m17 10h1m-168 31h1m-4 11h1m66 4h1m-48 7h1m26-2h1m44 9h1m-65 22h1m74 2h1m-52 16h1m79 2h1m54-5h1m-52 8h1m-4 36h1m-91 4h1m145 6h1m-162 6h1m31 18h1" fill="none" stroke="#000" stroke-width="5" stroke-linecap="square" stroke-opacity="0.3"/>
<path transform="scale(0.1)" d="M503 3918h1m-16 7h1m28 0h1m-92 7h1m57 2h1m31-2h1m3-3h1m-99 8h1m65 4h1m7-1h1m5 3h1m-60 3h1m6 5h1m5-4h1m13 1h1m0-4h1m15 0h1m21 1h1m4 6h1m-62 6h1m16 2h1m52-7h1m5 5h1m-110 9h1m4-6h1m9 4h1m21 3h1m1-2h1m2-4h1m2 3h1m8-4h1m-1 4h1m1 1h1m19 2h1m23-6h1m-138 7h1m30 0h1m1 7h1m33-6h1m4 0h1m4 4h1m5-1h1m10 2h1m1-2h1m1-4h1m50 5h1m-164 10h1m9-4h1m48 1h1m9-3h1m3 0h1m-1 3h1m6 0h1m4-2h1m1-1h1m2 0h1m9 0h1m10-1h1m9 4h1m2-1h1m-255 11h1m107-2h1m22-3h1m17 5h1m0-4h1m0 2h1m6 2h1m4 1h1m3-1h1m8-2h1m8-1h1m5 2h1m3-1h1m0-2h1m14 4h1m3-3h1m0 2h1m0 1h1m37-3h1m6-2h1m-309 9h1m169 2h1m1 0h1m9-2h1m17 1h1m1-1h1m11-1h1m1 4h1m0-1h1m6 2h1m10 1h1m7-7h1m36 6h1m16-6h1m-272 15h1m122-4h1m14 0h1m1 4h1m0-1h1m1-1h1m0-4h1m7-1h1m0 7h1m10-5h1m9 1h1m4 4h1m24-4h1m2 0h1m2 2h1m8 0h1m-1 2h1m7-2h1m0-5h1m1 5h1m7 1h1m4-4h1m21-1h1m-260 13h1m62 0h1m28 1h1m2-6h1m11 4h1m2-2h1m7 1h1m0-3h1m6 2h1m0 1h1m2-2h1m2 3h1m8-2h1m1 3h1m7-2h1m2 3h1m7-1h1m4-4h1m7-1h1m2 1h1m1 3h1m0 0h1m5 0h1m0-3h1m3 3h1m0-2h1m1 2h1m7-1h1m0 1h1m10-1h1m-235 8h1m50 3h1m57-5h1m6 1h1m17-1h1m9 0h1m4 2h1m4-2h1m12 5h1m8-3h1m0-4h1m0 6h1m1 0h1m14-4h1m4 3h1m-1 2h1m5-6h1m21 3h1m2 1h1m9 2h1m51-1h1m-319 9h1m3-3h1m10 3h1m53-6h1m1 5h1m25-1h1m32-3h1m6 5h1m0-1h1m26-4h1m-1 2h1m1-4h1m2 6h1m3-6h1m11 1h1m0 4h1m2-2h1m1 2h1m0 1h1m0-5h1m4 4h1m4-4h1m6 6h1m5-1h1m5-4h1m5-1h1m53 3h1m-334 7h1m74 4h1m6-5h1m8 3h1m13 0h1m27-5h1m16 3h1m2 3h1m12-4h1m7-1h1m5 5h1m5-2h1m6-4h1m7 6h1m-1-3h1m0-2h1m8-1h1m0 7h1m0-2h1m0 0h1m2-2h1m1 3h1m12-5h1m1 2h1m4-1h1m0 0h1m-1-1h1m6 1h1m9-1h1m0 2h1m3 0h1m1-3h1m5 7h1m1 0h1m1-1h1m27-1h1m7-4h1m18 6h1m-338 4h1m89 4h1m51-5h1m0 5h1m14-7h1m4 5h1m11-4h1m7 4h1m12 2h1m4 0h1m9-4h1m4-1h1m2 3h1m3-2h1m0 1h1m0-3h1m8 1h1m5-1h1m8 4h1m0-3h1m11-2h1m-1 2h1m12 2h1m1-3h1m6 0h1m13 4h1m24-4h1m20 4h1m49 0h1m-303 10h1m15-4h1m2 4h1m9-2h1m4-1h1m0 2h1m3-6h1m0 5h1m6-2h1m-1 1h1m2-3h1m2 4h1m3 0h1m0-1h1m0-3h1m0 3h1m5 2h1m-1 1h1m-1 0h1m-1 0h1m0-5h1m18 1h1m3 1h1m0 1h1m4-1h1m2-4h1m4 4h1m0 1h1m-1 1h1m-1-4h1m0-1h1m0 4h1m0 1h1m3-2h1m3 2h1m7-2h1m12 2h1m1-3h1m14-1h1m2-1h1m-1 1h1m3-1h1m0-1h1m14 2h1m4 2h1m5 3h1m8-2h1m-293 6h1m69 2h1m2 1h1m11-1h1m11 1h1m11 0h1m2-2h1m2 2h1m8-1h1m6-2h1m7-1h1m2 4h1m-1 0h1m8 0h1m-1-2h1m0 2h1m1-3h1m0 2h1m0-1h1m3-2h1m2-1h1m0 5h1m-1-3h1m5-1h1m17-2h1m-1 7h1m9 0h1m4-3h1m1 1h1m7-1h1m-1 0h1m7-3h1m2-1h1m1 5h1m0-2h1m1-3h1m6 6h1m5-3h1m6 2h1m4 2h1m4-5h1m2 0h1m36-2h1m5 5h1m-306 9h1m42-2h1m13 3h1m0-3h1m-1-1h1m17 4h1m0-5h1m3-2h1m2 6h1m1-4h1m8 0h1m8 2h1m3 1h1m-1 1h1m-1-5h1m0 3h1m2-1h1m-1-3h1m2 5h1m-1-4h1m3 2h1m0-1h1m-1-1h1m2 6h1m0-3h1m0 1h1m-1-3h1m1 3h1m-1 2h1m2-3h1m-1-1h1m0 0h1m1-1h1m-1-1h1m0 0h1m1 4h1m-1 2h1m0-5h1m0-2h1m0 6h1m-1 1h1m1 0h1m3-5h1m1 2h1m1-1h1m0-1h1m-1-1h1m-1 3h1m3 1h1m0-2h1m-1-3h1m1 4h1m-1 0h1m0-4h1m1 6h1m1-1h1m-1 2h1m9-5h1m2 1h1m4-2h1m3 0h1m4 0h1m3 0h1m-1 0h1m2 1h1m10 4h1m0 1h1m-1 0h1m9-2h1m3 1h1m8-5h1m4 3h1m1 3h1m14-3h1m-253 8h1m67 0h1m2-3h1m2 3h1m3 1h1m0-2h1m2 4h1m2-1h1m-1-4h1m2 1h1m-1-1h1m1 5h1m1-7h1m1 7h1m0-6h1m0 3h1m3 3h1m3-7h1m0 4h1m-1-3h1m2 0h1m-1 5h1m1-6h1m1 6h1m-1 0h1m0-3h1m-1 4h1m0-5h1m-1 2h1m0 0h1m0-4h1m0 6h1m2 0h1m-1-6h1m-1 2h1m0-2h1m-1 7h1m-1-6h1m1 6h1m-1-3h1m1-1h1m3 3h1m-1-1h1m1 0h1m-1-5h1m3 3h1m-1-2h1m1 2h1m-1 2h1m1 1h1m-1-4h1m0 4h1m0 0h1m-1 0h1m0 1h1m1 0h1m0 0h1m0-1h1m1 1h1m3-3h1m-1 0h1m0 0h1m0 2h1m4-6h1m-1 3h1m-1-3h1m1 4h1m-1-1h1m0 4h1m0-4h1m4-3h1m2 4h1m0 1h1m-1-4h1m0 5h1m2-3h1m10-1h1m13 3h1m8-2h1m1 2h1m4 1h1m11-1h1m0 1h1m29-6h1m5 2h1m7 4h1m-300 3h1m24 5h1m55-3h1m6 3h1m1-1h1m4-5h1m0 5h1m1-5h1m-1 6h1m-1 0h1m5-3h1m-1 1h1m-1-3h1m0 6h1m-1-5h1m0-1h1m-1 4h1m1-1h1m-1 0h1m-1 2h1m1 0h1m0-4h1m0 2h1m2 2h1m0 1h1m-1-3h1m0 0h1m1 3h1m0-4h1m3 2h1m-1 1h1m-1-3h1m-1 2h1m-1 1h1m0-6h1m0 7h1m-1-4h1m0 1h1m0-1h1m-1 0h1m-1 1h1m1 1h1m0-2h1m-1 2h1m-1 1h1m1 0h1m-1-6h1m0 6h1m0-6h1m-1 5h1m0-4h1m0-1h1m3 6h1m-1-4h1m0 2h1m3-4h1m0 2h1m-1 0h1m0 4h1m0-3h1m0 2h1m0 2h1m-1-7h1m7 3h1m0-2h1m1 6h1m-1-3h1m0-4h1m0 5h1m3 1h1m0-6h1m0 0h1m1 5h1m0 1h1m3-4h1m0-1h1m3 3h1m1-1h1m22 0h1m0 2h1m6 2h1m0-7h1m-1 6h1m16 1h1m7-7h1m9 4h1m18 0h1m11 2h1m25-6h1m-294 14h1m20-1h1m6 1h1m7-2h1m0-3h1m6 6h1m0 0h1m5-1h1m1-5h1m10 4h1m3 2h1m4-1h1m2-3h1m-1 2h1m0-2h1m0-2h1m-1 2h1m2 0h1m0-2h1m0 5h1m-1 1h1m0-7h1m-1 5h1m0 0h1m0-3h1m1 5h1m-1-5h1m-1 5h1m0 0h1m-1-7h1m1 3h1m1 1h1m0 3h1m-1-3h1m0 0h1m-1-3h1m0-1h1m-1 6h1m0 0h1m-1-2h1m-1-1h1m0-1h1m0 2h1m1-4h1m-1 7h1m0-2h1m-1-1h1m0 1h1m-1-2h1m0 2h1m-1 2h1m0-7h1m3 2h1m-1 0h1m-1 5h1m0-3h1m0 0h1m0 1h1m-1-5h1m0 4h1m0 3h1m-1-2h1m0-1h1m-1 1h1m-1-1h1m0 2h1m-1-4h1m-1 1h1m0 0h1m0-3h1m-1 5h1m0-1h1m-1 2h1m-1-1h1m0-2h1m0-3h1m3 5h1m0 1h1m0-1h1m0-3h1m3-2h1m0 6h1m0-6h1m0 5h1m1-4h1m4-1h1m-1 3h1m0 1h1m-1 0h1m1 3h1m-1-1h1m0-2h1m-1-4h1m0 5h1m2-3h1m-1 2h1m-1-2h1m0 4h1m1-1h1m-1 1h1m1 1h1m-1-7h1m-1 7h1m0-7h1m0 6h1m3-3h1m-1-1h1m0 1h1m-1 1h1m0 1h1m0 2h1m0-7h1m-1 5h1m0-2h1m0 3h1m2-1h1m1-1h1m2-3h1m3 2h1m2 2h1m6 1h1m8-3h1m23 0h1m13-3h1m10 5h1m-236 7h1m21 1h1m1-3h1m0 1h1m1 2h1m9-5h1m-1 0h1m0 6h1m0-5h1m-1 4h1m3-3h1m2 5h1m0-3h1m-1 3h1m2-5h1m1 0h1m0 0h1m-1 3h1m0 0h1m0 2h1m0-1h1m-1 1h1m-1-2h1m0 0h1m2-1h1m3 1h1m-1-4h1m-1 5h1m0-6h1m0 3h1m-1 4h1m0-1h1m-1-1h1m0 0h1m0-1h1m0 2h1m0-6h1m0 4h1m3-4h1m0 1h1m0 0h1m0-1h1m-1 5h1m0-5h1m-1 5h1m0 0h1m-1 1h1m0-1h1m0 0h1m-1 2h1m0-6h1m0 2h1m-1 1h1m0-1h1m-1 1h1m0 2h1m-1-4h1m-1 4h1m0-6h1m-1 3h1m0 2h1m-1 0h1m-1-4h1m0 1h1m0 1h1m-1-3h1m0 1h1m-1 1h1m0 4h1m-1 1h1m-1-1h1m0-5h1m-1 3h1m-1-3h1m0 4h1m-1 2h1m0-5h1m-1 2h1m1 3h1m-1-2h1m0-5h1m-1 5h1m0-4h1m-1 1h1m-1-2h1m0 2h1m0 1h1m-1-1h1m-1 5h1m1-5h1m-1-1h1m0-1h1m0 0h1m0 3h1m-1-3h1m-1 2h1m0 2h1m-1 3h1m0-1h1m-1-2h1m0 1h1m1 0h1m-1-2h1m0-2h1m-1 4h1m-1-5h1m0 5h1m0 1h1m-1-4h1m0 0h1m-1 0h1m0-2h1m-1 5h1m0-1h1m0 1h1m0 1h1m0-5h1m-1 2h1m-1 0h1m0 0h1m0 4h1m1-4h1m-1-2h1m0 0h1m1 6h1m1 0h1m-1-3h1m2 1h1m-1-2h1m0 1h1m-1-3h1m-1 6h1m2-7h1m-1 4h1m2 1h1m2-2h1m0 4h1m1-6h1m3-1h1m2 6h1m12-2h1m-1 0h1m8-2h1m-1 0h1m15 3h1m14-4h1m-227 14h1m36-1h1m4 1h1m1-6h1m4 3h1m1 3h1m2 0h1m1-2h1m-1-4h1m1 1h1m-1 0h1m-1 3h1m-1 1h1m0 1h1m-1-1h1m-1 1h1m0-6h1m0 6h1m0-1h1m1-1h1m0-2h1m-1 2h1m-1-2h1m-1 2h1m0-2h1m0-1h1m0 5h1m0-3h1m-1-2h1m0-1h1m0 4h1m-1 0h1m0-5h1m0 3h1m1-2h1m-1 4h1m0 0h1m0 2h1m0-3h1m0 3h1m-1-1h1m-1-4h1m0 3h1m0 1h1m-1-6h1m0 3h1m-1 3h1m0 1h1m0-2h1m-1-1h1m0 0h1m-1-3h1m1 5h1m-1-3h1m0-2h1m-1 4h1m-1-3h1m0 5h1m-1-6h1m0 2h1m-1 1h1m0 0h1m-1 1h1m0 2h1m-1-4h1m-1 0h1m-1 1h1m0 3h1m-1-5h1m-1 4h1m-1-6h1m0 7h1m-1-4h1m-1-3h1m-1 5h1m0 0h1m-1 2h1m-1-1h1m-1-2h1m0-1h1m-1 0h1m0 0h1m-1-2h1m0-1h1m-1 6h1m0-3h1m-1 3h1m-1-1h1m0-1h1m-1-3h1m-1 0h1m-1 3h1m0-1h1m0 3h1m-1 0h1m0-1h1m-1 2h1m0 0h1m-1-7h1m-1 1h1m0 2h1m-1-2h1m0 1h1m1 0h1m-1-2h1m0 0h1m-1 1h1m0 3h1m1-3h1m0-1h1m0 7h1m-1-7h1m0 0h1m-1 4h1m0-4h1m0 6h1m-1-1h1m0-3h1m-1-2h1m-1 0h1m0 1h1m0 4h1m0-1h1m-1 1h1m1 0h1m-1-2h1m-1 2h1m-1-4h1m0 2h1m0-2h1m0 2h1m-1-2h1m0 0h1m-1 3h1m-1 1h1m0-4h1m-1-1h1m0 1h1m-1 4h1m-1 0h1m0 2h1m0 0h1m-1-4h1m0 1h1m0-2h1m-1-2h1m1 3h1m-1-3h1m0 1h1m0 2h1m0-2h1m0 1h1m-1 4h1m3 0h1m1 1h1m-1-4h1m1 1h1m0-4h1m0 3h1m0 3h1m1-3h1m1 0h1m0-1h1m0 2h1m-1 2h1m0-5h1m-1 3h1m1-4h1m-1 7h1m-1 0h1m1 0h1m0-3h1m3-1h1m0-3h1m2 5h1m2 1h1m4-4h1m4 0h1m37 1h1m-220 5h1m0 6h1m20-2h1m1-1h1m2 0h1m1 2h1m0-5h1m1 6h1m0-1h1m-1-3h1m1-2h1m-1 0h1m3 4h1m-1-1h1m2 4h1m3-5h1m-1 3h1m0 1h1m3-5h1m-1 6h1m1-4h1m0 3h1m0 1h1m-1-1h1m0-2h1m2 1h1m-1 2h1m0-2h1m0-1h1m-1-2h1m0 1h1m1 4h1m1 0h1m-1-6h1m-1 6h1m0-1h1m0-1h1m-1-5h1m0 0h1m1 6h1m-1 0h1m-1-3h1m1-1h1m-1 4h1m-1-1h1m0 0h1m0-1h1m-1-1h1m-1 1h1m0 2h1m-1-3h1m0 2h1m-1-3h1m0 4h1m-1 1h1m-1-7h1m0 0h1m0 0h1m1 1h1m-1 5h1m0 1h1m-1-2h1m0 0h1m0 0h1m-1 2h1m0-5h1m-1-2h1m-1 0h1m0 3h1m-1 0h1m0 3h1m-1-6h1m0 2h1m-1 3h1m0 0h1m0-5h1m0 7h1m-1-5h1m-1 5h1m0-7h1m0 1h1m-1 2h1m0-3h1m-1 4h1m-1 1h1m0 2h1m-1-3h1m0-2h1m0 2h1m1 3h1m-1-2h1m-1 2h1m1-2h1m-1-5h1m0 4h1m0-1h1m0-2h1m-1 2h1m-1 3h1m1 1h1m-1-3h1m-1 3h1m0-3h1m0 2h1m-1 1h1m-1-6h1m1 1h1m1-2h1m-1 6h1m0 1h1m0-7h1m0 4h1m2 2h1m0-4h1m-1 1h1m1-2h1m-1 4h1m0-4h1m0 5h1m0 1h1m-1-1h1m0-1h1m3 2h1m2 0h1m0-1h1m0-4h1m1-1h1m0-1h1m-1 2h1m4 2h1m0-2h1m0 0h1m-1 1h1m-1-2h1m1 2h1m1 1h1m-1 1h1m0-3h1m8 3h1m7-3h1m-1 2h1m19-3h1m1 5h1m0-1h1m15-3h1m1 1h1m-215 9h1m8 0h1m4 1h1m15-1h1m0 3h1m1-3h1m-1-1h1m-1 4h1m-1-5h1m-1 1h1m0 2h1m-1-3h1m-1 3h1m0 2h1m-1-2h1m-1-3h1m-1 3h1m0-5h1m1 0h1m-1 1h1m0 6h1m-1-5h1m2 1h1m-1-1h1m1 2h1m-1 2h1m1 0h1m1-6h1m-1 5h1m-1-4h1m0 5h1m0-5h1m0 3h1m0-4h1m0 2h1m-1 3h1m1 2h1m-1-3h1m-1 2h1m0 0h1m0-4h1m-1 2h1m-1-1h1m-1 3h1m0-1h1m0 1h1m0 1h1m-1-6h1m-1 0h1m0-1h1m2 4h1m-1 1h1m0-2h1m-1 1h1m1-4h1m-1 3h1m0 3h1m-1-6h1m3 6h1m0 1h1m0-6h1m0-1h1m0 4h1m0-1h1m-1 4h1m0-2h1m-1-1h1m0 3h1m-1-4h1m1 3h1m-1-4h1m-1 0h1m-1 0h1m-1 5h1m1-3h1m1 1h1m-1-3h1m-1 5h1m0-2h1m-1-4h1m-1 4h1m0-4h1m-1 0h1m0 2h1m-1 0h1m0 1h1m0 1h1m0-1h1m-1-2h1m0-2h1m0 3h1m-1-3h1m-1 1h1m0 0h1m-1 3h1m0 1h1m-1 1h1m-1-2h1m0-3h1m-1 3h1m-1-3h1m-1 4h1m-1-5h1m0 4h1m-1-4h1m-1 5h1m-1-5h1m0 7h1m-1 0h1m-1-1h1m0 1h1m0-2h1m-1-5h1m-1 2h1m-1 5h1m-1-2h1m1-5h1m-1 4h1m-1 0h1m-1-2h1m-1 1h1m0 1h1m0 2h1m-1 1h1m0-2h1m0 2h1m0-4h1m-1 0h1m0 0h1m0 1h1m-1 3h1m-1-3h1m-1 3h1m0 0h1m0-2h1m-1 2h1m0-3h1m-1-1h1m-1 0h1m-1-3h1m0 3h1m-1 0h1m-1 1h1m-1 3h1m0-5h1m0-1h1m-1-1h1m0 7h1m1-7h1m-1 0h1m-1 3h1m0-3h1m0 4h1m0 0h1m-1 0h1m-1 1h1m-1-3h1m1-2h1m0 7h1m3-2h1m-1-5h1m0 6h1m-1 1h1m0-2h1m0 1h1m-1-6h1m0 1h1m0-1h1m0 1h1m1 4h1m-1-3h1m1 1h1m0 1h1m0-2h1m2 1h1m-1 3h1m-1-2h1m0-4h1m2 4h1m21 0h1m10 2h1m6-3h1m30 1h1m-225 8h1m6-2h1m2 1h1m2 0h1m7-3h1m-1 4h1m1-3h1m0 0h1m6 4h1m0-4h1m2 6h1m0-7h1m-1 7h1m2 0h1m-1-1h1m2 0h1m-1-1h1m-1 1h1m-1 1h1m0-6h1m-1 2h1m1 3h1m1-4h1m-1-1h1m-1 3h1m1 3h1m0-7h1m1 0h1m0 7h1m-1-2h1m0 2h1m-1 0h1m-1-2h1m0 0h1m0 2h1m0-2h1m-1-1h1m0 2h1m0-2h1m0 2h1m-1-3h1m0-3h1m-1 2h1m-1 4h1m0-1h1m0-1h1m0 0h1m-1 0h1m0-3h1m-1 3h1m-1 0h1m-1-4h1m-1 2h1m-1-2h1m0 6h1m-1-1h1m2 1h1m0-4h1m-1 1h1m-1 4h1m-1-2h1m1 2h1m-1 0h1m-1 0h1m0-7h1m0 1h1m0-1h1m0 0h1m-1 2h1m-1 1h1m0 3h1m-1 1h1m0-2h1m-1-4h1m1 5h1m0 0h1m-1 0h1m-1-6h1m-1 0h1m0 0h1m1 5h1m-1 0h1m0 2h1m0-5h1m-1 1h1m-1-3h1m0 3h1m0-2h1m-1 4h1m-1-4h1m0 2h1m-1 1h1m-1-4h1m0 7h1m-1 0h1m-1-2h1m0 1h1m1 1h1m-1-6h1m0 2h1m-1 1h1m-1 2h1m0-1h1m-1 2h1m1-1h1m0-1h1m-1-5h1m0 5h1m-1 0h1m-1-1h1m0-3h1m-1-1h1m0 7h1m0-4h1m-1 2h1m0-2h1m0-3h1m0 6h1m-1 0h1m-1-2h1m0 0h1m0-3h1m-1 5h1m0 0h1m-1-4h1m-1 2h1m0 2h1m-1-2h1m-1-3h1m0 1h1m0-1h1m1 3h1m0 3h1m-1-1h1m0-2h1m-1-2h1m2-1h1m0-1h1m-1 0h1m-1 7h1m-1-7h1m0 1h1m1 3h1m-1 1h1m0 0h1m-1-3h1m0 5h1m0-7h1m0 6h1m-1-6h1m-1 4h1m-1 0h1m3-4h1m1 1h1m0 0h1m0 1h1m0-1h1m2-1h1m1 6h1m-1 1h1m5-2h1m0-2h1m0-1h1m3 2h1m4-4h1m-150 10h1m-1 1h1m6 4h1m0-4h1m3 3h1m0-1h1m5 0h1m0-2h1m0 1h1m3 2h1m-1-2h1m3 1h1m1-1h1m-1-2h1m0 3h1m1 1h1m0-1h1m-1-1h1m0-2h1m-1-1h1m-1 0h1m1 5h1m0-4h1m-1 4h1m0-2h1m0 3h1m-1-5h1m0 5h1m-1-1h1m-1-1h1m-1 2h1m0-3h1m-1 2h1m-1-3h1m-1 2h1m1 1h1m-1-5h1m-1 0h1m1 1h1m-1 5h1m-1-2h1m0 2h1m0-1h1m-1-2h1m0-2h1m-1 3h1m-1-2h1m-1-3h1m1 7h1m-1 0h1m-1-2h1m-1 2h1m-1-1h1m-1-5h1m0 4h1m-1 0h1m-1 2h1m-1-2h1m0 0h1m0-3h1m-1-1h1m-1 1h1m0 4h1m0-2h1m-1-3h1m-1-1h1m0 0h1m0 4h1m-1 0h1m-1-2h1m0 1h1m-1-3h1m0 3h1m-1 0h1m-1 2h1m0-5h1m0 1h1m0 1h1m-1 0h1m-1 3h1m-1-4h1m2-1h1m0 0h1m0 6h1m-1-2h1m0 0h1m-1 3h1m0-1h1m-1-4h1m-1 0h1m0 5h1m-1-4h1m-1 2h1m-1-2h1m0 0h1m-1 3h1m-1 0h1m-1 1h1m0 0h1m-1-7h1m0 6h1m0-3h1m0-3h1m0 7h1m0-5h1m-1-2h1m-1 6h1m0-3h1m-1 1h1m0 0h1m-1-3h1m0 5h1m-1-5h1m1 2h1m-1 1h1m-1 0h1m-1-1h1m0 3h1m-1-6h1m0 4h1m-1-4h1m-1 3h1m0-1h1m-1 1h1m-1 0h1m-1-1h1m0-2h1m-1 3h1m0-1h1m1-2h1m0 2h1m-1 4h1m-1-2h1m0 2h1m-1-2h1m1-3h1m0 0h1m-1 5h1m0 0h1m0-1h1m0 2h1m4-1h1m0-2h1m-1-1h1m-1-2h1m0 1h1m0-1h1m-1-1h1m-1 5h1m-1-1h1m1-4h1m-1 3h1m0 0h1m-1 4h1m0 0h1m-1-2h1m-1-4h1m5 5h1m0 1h1m0-6h1m-1 0h1m0 0h1m5 0h1m1 5h1m4-4h1m25 4h1m1-3h1m7 4h1m-183 7h1m15 0h1m2-1h1m0 1h1m1-5h1m1 6h1m2-6h1m4 4h1m1-3h1m-1 0h1m0 0h1m-1-1h1m-1-1h1m0 7h1m0-3h1m-1-2h1m0-1h1m-1 0h1m-1-1h1m-1 4h1m-1 1h1m0 2h1m-1-2h1m-1 0h1m0-3h1m2 3h1m-1 2h1m1-1h1m0-2h1m-1-2h1m-1 3h1m-1-3h1m0 5h1m-1-6h1m-1-1h1m1 1h1m-1 0h1m-1 0h1m0 6h1m-1-2h1m-1-4h1m-1 0h1m0 4h1m0-5h1m-1 3h1m0 4h1m-1-4h1m0-2h1m-1-1h1m0 3h1m0-3h1m-1 1h1m0 2h1m-1 4h1m-1-6h1m0 2h1m0 0h1m-1-2h1m0 2h1m-1-2h1m0 4h1m1 0h1m-1-1h1m0 0h1m0-1h1m0 2h1m1 1h1m-1-6h1m0 3h1m-1 4h1m-1-7h1m-1 6h1m-1-4h1m0 4h1m0-2h1m-1-3h1m-1 1h1m0 0h1m-1 4h1m0-1h1m-1-4h1m-1 5h1m0 1h1m-1-4h1m1 1h1m-1 1h1m-1 0h1m-1-1h1m-1-4h1m0 5h1m0-5h1m-1 5h1m-1-1h1m-1 2h1m0-5h1m-1 2h1m1 1h1m2-3h1m0 1h1m-1-1h1m0 6h1m1-2h1m-1-2h1m0-1h1m0 2h1m-1 3h1m0-5h1m-1 0h1m0 4h1m0 0h1m-1-6h1m0 6h1m0-2h1m0 3h1m-1-4h1m1-3h1m-1 0h1m0 5h1m-1-3h1m0-1h1m0-1h1m0 4h1m0 3h1m-1-7h1m0 6h1m-1 0h1m-1-6h1m0 7h1m0-4h1m-1 0h1m0-2h1m0-1h1m-1 4h1m0-4h1m-1 4h1m2-4h1m1 1h1m-1 1h1m1-1h1m-1 1h1m-1-1h1m2 6h1m2-6h1m0 4h1m1-3h1m1 1h1m0 0h1m0 0h1m0 4h1m4-4h1m-1-3h1m1 5h1m0-1h1m3 1h1m15-4h1m4 3h1m31-2h1m-174 8h1m0 3h1m0-3h1m0-2h1m4 0h1m2 3h1m-1 4h1m1-5h1m-1 1h1m0 3h1m0-1h1m1 2h1m-1-4h1m-1-1h1m1 3h1m0-2h1m0 2h1m0-4h1m-1 3h1m-1-4h1m0 1h1m-1 4h1m-1-5h1m-1 2h1m0 1h1m0-1h1m0 2h1m0 0h1m0-4h1m-1 7h1m1-7h1m-1 7h1m1-4h1m-1 1h1m0 2h1m0-6h1m-1 0h1m0 3h1m0 3h1m-1-4h1m0 1h1m-1 1h1m0-3h1m-1 0h1m0 3h1m0-4h1m1 4h1m-1-3h1m-1 4h1m0 2h1m-1-5h1m-1 5h1m0-2h1m-1-4h1m-1 5h1m1-3h1m0 4h1m0-1h1m-1 0h1m0-5h1m0 0h1m-1 0h1m-1 6h1m0-6h1m-1 1h1m-1 3h1m-1-5h1m0 4h1m-1 2h1m1-3h1m0 1h1m1-4h1m-1 1h1m-1 3h1m0-3h1m-1 0h1m-1 0h1m0 6h1m-1-5h1m-1-2h1m-1 3h1m1 1h1m0-4h1m0 3h1m-1 3h1m-1 0h1m0-1h1m0 0h1m-1-5h1m0 5h1m-1 1h1m0-2h1m1-4h1m1 2h1m-1 4h1m-1-1h1m3-4h1m0 5h1m3-4h1m2 1h1m0 1h1m-1 0h1m2 1h1m-1 1h1m0-5h1m-1 0h1m2 3h1m0-2h1m0 2h1m-1 1h1m4-4h1m0 3h1m2 3h1m3-6h1m9 0h1m-1 3h1m6-1h1m4 3h1m24-2h1m20 2h1m-178 6h1m1-4h1m3 6h1m-1-1h1m2-3h1m2 3h1m0-3h1m-1 0h1m0 1h1m3-3h1m2 3h1m0 2h1m-1-2h1m1-2h1m1 5h1m-1-4h1m1 5h1m-1-2h1m-1 1h1m0-5h1m-1 1h1m-1 3h1m0 2h1m-1-4h1m1 3h1m0-4h1m0 3h1m-1-5h1m0 0h1m-1 2h1m-1 4h1m0 1h1m1-2h1m-1 1h1m0 1h1m1-7h1m0 1h1m-1 1h1m-1-2h1m1 5h1m0 0h1m-1-2h1m2 4h1m-1-5h1m-1 3h1m2-2h1m-1 4h1m0-5h1m0 1h1m-1-3h1m0 0h1m0 5h1m-1-3h1m1 1h1m0 2h1m-1-2h1m2-3h1m0 6h1m2-1h1m-1 0h1m0-5h1m1 0h1m0 0h1m-1 3h1m0 1h1m0-3h1m-1 0h1m-1 4h1m0-1h1m1-3h1m1 0h1m1 4h1m0-1h1m0-2h1m4 4h1m1 1h1m5-1h1m1-4h1m3 0h1m7 4h1m-1 0h1m4-2h1m10-2h1m32-1h1m25 4h1m-198 6h1m25 1h1m1 1h1m4-4h1m0 5h1m0-3h1m1 0h1m-1-3h1m0 5h1m2 0h1m0 1h1m-1-4h1m-1-1h1m1-1h1m2 6h1m1-4h1m-1 5h1m0-5h1m1 3h1m1-1h1m1 0h1m0 2h1m0-5h1m0 0h1m1 0h1m0 0h1m0 5h1m4-3h1m-1-2h1m1 2h1m0-2h1m-1 2h1m2-2h1m0 5h1m1 0h1m2-4h1m2 0h1m9 2h1m6 3h1m5-6h1m11 3h1m1-2h1m5 2h1m3-3h1m2-1h1m17 2h1m0 2h1m-129 5h1m5 0h1m6 0h1m2 0h1m-1 4h1m-1 1h1m0-5h1m0-1h1m4 7h1m1-7h1m-1 6h1m5-4h1m1 4h1m-1 1h1m1-6h1m4 0h1m-1 4h1m0 0h1m0-3h1m1-1h1m1 0h1m0-1h1m-1 5h1m7-2h1m16 1h1m11-1h1m0-2h1m14-1h1m2 3h1m5-1h1m5 5h1m37-1h1m-142 6h1m15-3h1m0-1h1m-1 5h1m0 0h1m1-2h1m0-3h1m1 4h1m2 2h1m1-1h1m0-4h1m2 2h1m5-2h1m1 6h1m-1-2h1m12-5h1m0 3h1m1-2h1m2 2h1m0-3h1m29 2h1m20 1h1m-130 5h1m31 1h1m5 6h1m2-7h1m6 4h1m-1-1h1m7 0h1m6-2h1m2-1h1m13 2h1m1-2h1m31 5h1m-91 8h1m9-1h1m11 0h1m12-4h1m14 6h1m6 0h1m6 0h1m16 1h1m21 5h1m-61 7h1m42 0h1m-51 7h1m2 9h1m23-2h1m115 3h1" fill="none" stroke="#000" stroke-width="5" stroke-linecap="square" stroke-opacity="0.55"/>
<line x1="6.40" y1="363.20" x2="6.40" y2="425.10" stroke="#999" stroke-width="0.6" />
<line x1="6.40" y1="425.10" x2="74.60" y2="425.10" stroke="#999" stroke-width="0.6" />
<line x1="5.00" y1="424.60" x2="6.40" y2="424.60" stroke="#999" stroke-width="0.5" />
<line x1="7.20" y1="425.10" x2="7.20" y2="426.50" stroke="#999" stroke-width="0.5" />
<line x1="5.00" y1="409.25" x2="6.40" y2="409.25" stroke="#999" stroke-width="0.5" />
<line x1="24.05" y1="425.10" x2="24.05" y2="426.50" stroke="#999" stroke-width="0.5" />
<line x1="5.00" y1="393.90" x2="6.40" y2="393.90" stroke="#999" stroke-width="0.5" />
<line x1="40.90" y1="425.10" x2="40.90" y2="426.50" stroke="#999" stroke-width="0.5" />
<line x1="5.00" y1="378.55" x2="6.40" y2="378.55" stroke="#999" stroke-width="0.5" />
<line x1="57.75" y1="425.10" x2="57.75" y2="426.50" stroke="#999" stroke-width="0.5" />
<line x1="5.00" y1="363.20" x2="6.40" y2="363.20" stroke="#999" stroke-width="0.5" />
<line x1="74.60" y1="425.10" x2="74.60" y2="426.50" stroke="#999" stroke-width="0.5" />
<rect x="7.20" y="363.20" width="23.10" height="29.30" fill="none" stroke="#8ab048" stroke-width="1.3"/>
<rect x="30.30" y="363.20" width="44.30" height="29.30" fill="none" stroke="#c4504c" stroke-width="1.3"/>
<rect x="30.30" y="392.50" width="44.30" height="32.10" fill="none" stroke="#4a88cc" stroke-width="1.3"/>
<text x="41.00" y="357.85" font-size="7.5" font-weight="bold" text-anchor="middle" fill="#000"  stroke="#000" stroke-width="0.18">30</text>
<text x="37.90" y="362.20" font-size="2.6" fill="#888" text-anchor="middle">Data.017</text>
<text x="37.90" y="430.10" font-size="2.6" fill="#888" text-anchor="middle">FL1-H</text>
<text x="4.00" y="425.40" font-size="2.4" fill="#999" text-anchor="end">1</text>
<text x="7.20" y="428.20" font-size="2.4" fill="#999" text-anchor="middle">1</text>
<text x="4.00" y="410.05" font-size="2.4" fill="#999" text-anchor="end">1</text>
<text x="24.05" y="428.20" font-size="2.4" fill="#999" text-anchor="middle">1</text>
<text x="4.00" y="394.70" font-size="2.4" fill="#999" text-anchor="end">1</text>
<text x="40.90" y="428.20" font-size="2.4" fill="#999" text-anchor="middle">1</text>
<text x="4.00" y="379.35" font-size="2.4" fill="#999" text-anchor="end">1</text>
<text x="57.75" y="428.20" font-size="2.4" fill="#999" text-anchor="middle">1</text>
<text x="4.00" y="364.00" font-size="2.4" fill="#999" text-anchor="end">1</text>
<text x="74.60" y="428.20" font-size="2.4" fill="#999" text-anchor="middle">1</text>
<text x="13.00" y="370.00" font-size="5.95" font-weight="bold" text-anchor="start" fill="#f01818" stroke="#f01818" stroke-width="0.42">0.79</text>
<text x="13.00" y="377.00" font-size="5.95" font-weight="bold" text-anchor="start" fill="#f01818" stroke="#f01818" stroke-width="0.42">±</text>
<text x="17.20" y="377.00" font-size="5.95" font-weight="bold" text-anchor="start" fill="#f01818" stroke="#f01818" stroke-width="0.42">0.05</text>
<text x="57.70" y="370.00" font-size="5.95" font-weight="bold" text-anchor="start" fill="#f01818" stroke="#f01818" stroke-width="0.42">5.58</text>
<text x="57.70" y="377.00" font-size="5.95" font-weight="bold" text-anchor="start" fill="#f01818" stroke="#f01818" stroke-width="0.42">±</text>
<text x="61.90" y="377.00" font-size="5.95" font-weight="bold" text-anchor="start" fill="#f01818" stroke="#f01818" stroke-width="0.42">0.47</text>
<text x="57.70" y="416.20" font-size="5.95" font-weight="bold" text-anchor="start" fill="#f01818" stroke="#f01818" stroke-width="0.42">9.56</text>
<text x="57.70" y="423.20" font-size="5.95" font-weight="bold" text-anchor="start" fill="#f01818" stroke="#f01818" stroke-width="0.42">±</text>
<text x="61.90" y="423.20" font-size="5.95" font-weight="bold" text-anchor="start" fill="#f01818" stroke="#f01818" stroke-width="0.42">0.65</text>
<path transform="scale(0.1)" d="M1217 3701h1m-88 24h1m84 6h1m-59 12h1m43-7h1m-28 12h1m6-4h1m56 6h1m-31 4h1m39 4h1m26 0h1m-68 5h1m4 4h1m56 0h1m14 0h1m-140 8h1m138-3h1m-94 9h1m19-5h1m51 0h1m-282 9h1m201 6h1m32-4h1m35 1h1m-138 5h1m38 4h1m1-4h1m45 2h1m46-1h1m10 4h1m-149 2h1m64 7h1m7 0h1m3-1h1m14-6h1m16 6h1m11 0h1m15-4h1m-294 8h1m7 4h1m228-6h1m21 4h1m7 0h1m7 3h1m0-1h1m0 1h1m23-7h1m40 1h1m-376 8h1m73 3h1m3 1h1m42 0h1m72-2h1m67-1h1m13 3h1m18-4h1m4 0h1m0-1h1m22 7h1m33-1h1m-404 2h1m33 1h1m15 4h1m14-2h1m40 2h1m6-3h1m-1 4h1m69-6h1m2 5h1m104 2h1m24 0h1m-1-6h1m10-1h1m-1 1h1m42 6h1m14-5h1m1 0h1m-425 12h1m91-4h1m54 5h1m47-6h1m2 6h1m30-2h1m103-1h1m5-3h1m4 4h1m2-5h1m0 0h1m13 0h1m6 5h1m10-3h1m5 3h1m24-2h1m-382 8h1m6 1h1m56-1h1m36 0h1m13 3h1m8-5h1m12 3h1m96-1h1m33-3h1m8 6h1m25-3h1m27-1h1m4-2h1m6 0h1m10 7h1m23-5h1m2-1h1m-401 10h1m24 2h1m4-4h1m0-1h1m10 2h1m18-1h1m70 1h1m14-1h1m45 4h1m137-5h1m9 3h1m2 2h1m40-4h1m1 6h1m25-4h1m-418 9h1m20 1h1m23 2h1m11-7h1m-1 0h1m1 2h1m7-1h1m27 1h1m5 0h1m25 4h1m42-5h1m33 2h1m48 3h1m87-1h1m11-1h1m36-2h1m6 4h1m9-5h1m22 2h1m1 0h1m9-2h1m-461 13h1m64-5h1m2 5h1m19-6h1m4 2h1m16 2h1m18-1h1m8-3h1m0 0h1m0 2h1m24 1h1m18-1h1m16 1h1m79 2h1m8-4h1m15 3h1m1-2h1m41 4h1m27-1h1m3 0h1m14 0h1m-392 7h1m49 0h1m0 0h1m7-2h1m30-2h1m49 2h1m64-2h1m4 4h1m40 3h1m70-4h1m43-3h1m6 5h1m28-3h1m3 5h1m5-7h1m25 6h1m-447 4h1m27 1h1m4 1h1m21-2h1m6 4h1m-1-5h1m3 5h1m1 1h1m13-4h1m13-3h1m9 6h1m2-2h1m14 2h1m48 0h1m1-2h1m17 2h1m124 1h1m44-3h1m56 2h1m-1-5h1m9 6h1m-427 4h1m27-3h1m56 1h1m16 2h1m8 0h1m54 3h1m203-1h1m59-4h1m19 0h1m-397 8h1m20 6h1m71-4h1m285 2h1m19-4h1m-348 12h1m22 0h1m56 0h1m97-4h1m84 6h1m58-7h1m18 7h1m24-6h1m-391 12h1m36-4h1m-1 3h1m142 2h1m17-1h1m52 1h1m80 1h1m-208 1h1m83 2h1m84 5h1m-108 3h1m53 5h1m20-5h1m-68 8h1m65 3h1m118 0h1m-205 5h1m65 0h1m28-2h1m44 0h1m11 3h1m-261 8h1m75-3h1m47 5h1m40-1h1m34-2h1m94 5h1m18-3h1m33 1h1m-209 5h1m16 4h1m10-2h1m40 1h1m-200 3h1m1 1h1m126 1h1m11-2h1m50 7h1m38-1h1m9-1h1m53 0h1m-375 10h1m124-1h1m99-1h1m22-4h1m31 1h1m0 2h1m-1-2h1m61-2h1m-327 11h1m29 0h1m70 2h1m26-2h1m29 1h1m12 3h1m37 0h1m12-6h1m13-1h1m13 4h1m1-2h1m3-1h1m13-1h1m-1 0h1m22 7h1m2-2h1m3-1h1m0 2h1m24-1h1m-328 10h1m17-1h1m22-1h1m26 1h1m6-4h1m13 1h1m6 1h1m5 1h1m9 0h1m87-1h1m-1-3h1m51 4h1m33-1h1m20 3h1m42-7h1m9 7h1m-365 4h1m19-1h1m20 2h1m0-3h1m1 1h1m8 1h1m3-3h1m4 5h1m57 0h1m60 2h1m-1 0h1m4 0h1m14 0h1m-1-6h1m1 3h1m3 3h1m44-7h1m9 3h1m5-1h1m10-2h1m11 1h1m32-1h1m55 1h1m-378 13h1m1-1h1m10 2h1m11-1h1m1 0h1m3 0h1m1-3h1m10 3h1m18-5h1m15 6h1m1-6h1m29 4h1m12 1h1m13 1h1m59-7h1m14 2h1m4-1h1m10 5h1m5-5h1m4 4h1m0-4h1m7 4h1m3-3h1m4-1h1m9 1h1m-1 5h1m63-2h1m10-1h1m-366 5h1m14 4h1m5 0h1m10 1h1m8 1h1m16-4h1m2 4h1m1-7h1m9 6h1m3-1h1m-1-5h1m2 1h1m5 2h1m11-3h1m14 0h1m7 3h1m10-1h1m18 1h1m0-3h1m1 4h1m8 0h1m5 2h1m2-6h1m90 7h1m17-2h1m-1-2h1m35 1h1m-345 5h1m35 1h1m10-2h1m0 6h1m6-4h1m14-1h1m11 6h1m5-4h1m11 4h1m2 0h1m13 0h1m1-1h1m11-2h1m-1-4h1m4 5h1m5-5h1m2 6h1m18-2h1m-1 1h1m36-5h1m17 7h1m4-7h1m29 2h1m14 2h1m23-3h1m1 2h1m54 3h1m-338 4h1m50 2h1m4 1h1m6-5h1m10 3h1m-1-2h1m12 4h1m11-3h1m0 2h1m7 2h1m-1 1h1m9-5h1m7 0h1m8 1h1m19 4h1m10-1h1m19 0h1m13-2h1m32 0h1m10 0h1m5 2h1m3-2h1m4-3h1m13 6h1m16-5h1m20 0h1m18-2h1m-339 10h1m44 3h1m17 1h1m2-1h1m0-4h1m3 1h1m2 4h1m0-6h1m2 4h1m2-1h1m13-1h1m-1-2h1m5 4h1m8-4h1m4 4h1m18 3h1m2-1h1m15-5h1m9 1h1m1-1h1m2 3h1m25-4h1m14 2h1m15-2h1m18 7h1m32-4h1m22 3h1m-270 3h1m7 2h1m0 3h1m20 1h1m4-2h1m7-3h1m-1 3h1m5 1h1m7-3h1m0-1h1m1 1h1m2 0h1m8 4h1m-1-4h1m1 1h1m2 3h1m22-3h1m13 0h1m0-3h1m0 5h1m1-1h1m-1-4h1m2-1h1m9 4h1m17-1h1m12 4h1m8-7h1m42 6h1m9-3h1m1 2h1m5 0h1m21 2h1m37-1h1m1 0h1m-312 7h1m2 2h1m6 0h1m8-5h1m2 3h1m13 2h1m13 0h1m0-1h1m6-2h1m10-2h1m0 4h1m6-2h1m10-4h1m7 2h1m0 1h1m7-3h1m0 6h1m5 1h1m6-1h1m0 0h1m3-4h1m6 2h1m1-4h1m0 1h1m17 1h1m23-2h1m36 7h1m2-5h1m-1 3h1m44 1h1m4-2h1m3-1h1m11 4h1m52-4h1m22 4h1m-375 5h1m-1-2h1m39 5h1m17 0h1m7-7h1m0 2h1m0 0h1m2-2h1m2 2h1m0 2h1m3 0h1m0 2h1m4-1h1m0 2h1m1-1h1m4-5h1m2 3h1m0-2h1m13 0h1m2-2h1m0 5h1m3-5h1m-1 3h1m1-1h1m7-1h1m2 2h1m-1-3h1m7 7h1m9-6h1m9 5h1m25 0h1m1-3h1m0-2h1m69 5h1m1 1h1m29-3h1m10 0h1m-325 7h1m46 1h1m21-3h1m6-1h1m15 0h1m14 1h1m-1 2h1m9-2h1m7 2h1m2 4h1m13-6h1m17 5h1m3-2h1m34 0h1m4 0h1m1 1h1m43 1h1m17-2h1m10-2h1m5 3h1m62-1h1m-283 10h1m0-2h1m7 3h1m0-2h1m10-1h1m0 3h1m4-1h1m2-1h1m6-2h1m5 0h1m1 2h1m4-5h1m0 7h1m2-6h1m0 6h1m1-6h1m17 5h1m16-4h1m1 4h1m4-2h1m4 3h1m0-7h1m9 4h1m20-4h1m0 2h1m25-1h1m40 3h1m4-4h1m5 4h1m4-2h1m148 1h1m-404 12h1m14 0h1m1 0h1m1-7h1m7 7h1m5-7h1m7 1h1m5 4h1m5-2h1m2-2h1m1-1h1m5 6h1m-1 1h1m13-7h1m2 7h1m3-2h1m3 0h1m0-1h1m2 2h1m0-1h1m7 0h1m0-3h1m0 1h1m-1 3h1m2-5h1m12 6h1m32-3h1m40 2h1m43 1h1m20-6h1m33-1h1m-313 9h1m17 4h1m20-1h1m15-1h1m6 3h1m2 0h1m8-6h1m3 6h1m6-4h1m6 0h1m22 4h1m6 0h1m2-3h1m0 1h1m9 2h1m0-3h1m4-3h1m19 7h1m19-4h1m24-3h1m60 6h1m1-3h1m-295 8h1m32 1h1m23 2h1m19-1h1m1-5h1m-1 5h1m2-1h1m-1 0h1m5-2h1m1-2h1m2 0h1m6 3h1m-1-3h1m10 2h1m6-1h1m0 0h1m2-1h1m2 1h1m14 1h1m0-1h1m12 6h1m1-2h1m3-3h1m4 0h1m24 1h1m20-2h1m1 1h1m37 3h1m3-3h1m38 0h1m70 3h1m-345 6h1m20-1h1m-1 3h1m12 2h1m13 0h1m3 0h1m1-3h1m7-4h1m0 6h1m7-5h1m10 1h1m0 4h1m6-6h1m2 6h1m22-6h1m9 6h1m8-3h1m11 2h1m32-4h1m-205 14h1m44-6h1m6 0h1m5 2h1m12 1h1m10-3h1m10 4h1m1 0h1m0 0h1m5-1h1m6 3h1m5-7h1m9 0h1m9 1h1m3 5h1m9-5h1m22 3h1m0-3h1m14 2h1m9-2h1m13 3h1m36 2h1m-224 5h1m9 1h1m26 1h1m17 1h1m4-1h1m1-2h1m2-1h1m-1 3h1m10-2h1m0 2h1m12-3h1m-1-2h1m6 0h1m2 7h1m1-4h1m5-1h1m7 3h1m5-4h1m75 0h1m54 5h1m-249 4h1m12-2h1m11 2h1m12 0h1m7-2h1m0 1h1m13 1h1m2-2h1m2 1h1m11 6h1m44-5h1m20-2h1m-184 13h1m14-3h1m12 3h1m20 1h1m5-5h1m5 5h1m-1-5h1m2 6h1m4-1h1m1-6h1m7 7h1m52-6h1m5 5h1m4-1h1m14-5h1m0 6h1m8 1h1m-172 6h1m12 2h1m15-7h1m27 0h1m4 4h1m22-2h1m6 4h1m3-3h1m2 1h1m4 0h1m58-4h1m22 1h1m25 2h1m-172 6h1m-1 1h1m0-2h1m5 2h1m11 0h1m3 2h1m20 1h1m8 2h1m1-5h1m16 2h1m27-1h1m4-3h1m6 2h1m-157 13h1m33 0h1m17-1h1m1 1h1m12-4h1m13 4h1m20-2h1m6 0h1m14 1h1m7-5h1m13 5h1m-132 7h1m38-5h1m0 1h1m19-1h1m47 1h1m-118 9h1m20 3h1m4 2h1m1-5h1m15-1h1m30 0h1m16 3h1m3-2h1m1 1h1m5 4h1m27-1h1m-132 5h1m0 4h1m11-3h1m7-4h1m6 2h1m0 5h1m4-4h1m24 3h1m5-4h1m56 4h1m-132 6h1m27-3h1m0 1h1m1 2h1m16-4h1m8 3h1m15-3h1m7 4h1m-79 5h1m1 4h1m4-2h1m33-2h1m6 5h1m22 1h1m0 0h1m-52 11h1m6 3h1m20-2h1m-21 8h1m8-2h1m40 4h1m-33 6h1m13-2h1" fill="none" stroke="#000" stroke-width="5" stroke-linecap="square" stroke-opacity="0.3"/>
<path transform="scale(0.1)" d="M1240 3766h1m0 0h1m-16 9h1m-1-2h1m3 0h1m3-1h1m-20 8h1m0-2h1m27-2h1m19 4h1m7 3h1m-133 1h1m55 0h1m7 4h1m11 0h1m1-1h1m1-2h1m4 2h1m0 3h1m11-4h1m5-2h1m-1 7h1m3 0h1m4-6h1m5 3h1m6 0h1m10-3h1m-88 12h1m10 2h1m7-6h1m-1 3h1m11-4h1m0 6h1m2 0h1m1-3h1m1 4h1m5-3h1m2-4h1m1 0h1m6 7h1m1 0h1m-1 0h1m2-7h1m1 2h1m7 3h1m0-1h1m19-2h1m11 0h1m-151 12h1m16-1h1m9-1h1m1-4h1m8 0h1m5 4h1m5 2h1m11-2h1m0 3h1m8-1h1m0 0h1m-1-2h1m6-2h1m0 4h1m2 1h1m5-2h1m1-3h1m-1 1h1m-1 3h1m-1-3h1m14-1h1m3-2h1m1 3h1m3-2h1m-1-1h1m1 7h1m0-4h1m2-3h1m3 2h1m0 0h1m4 2h1m0-1h1m-1 4h1m2-4h1m-1 4h1m10-2h1m1-1h1m-142 7h1m3 4h1m10-3h1m-1 1h1m5-4h1m-1-1h1m1 7h1m4-2h1m7-5h1m5 7h1m5-3h1m8-2h1m0-2h1m0 4h1m4-1h1m-1 4h1m2-6h1m0 5h1m1-6h1m2 1h1m0 0h1m1 4h1m5-4h1m1 0h1m1 4h1m1-4h1m4 3h1m1 3h1m0-4h1m0 3h1m1-6h1m1 6h1m0-4h1m1 0h1m5 0h1m1 5h1m1-3h1m-1-2h1m0 1h1m0 2h1m-1-4h1m2 4h1m1-1h1m1 2h1m1-2h1m0 1h1m3 1h1m1-3h1m4 1h1m-167 7h1m3 4h1m0-2h1m8-5h1m10 7h1m2-4h1m5 4h1m0-2h1m-1-1h1m0-2h1m5 4h1m1 1h1m3-6h1m0 0h1m0 4h1m2 1h1m0 1h1m0-1h1m2-3h1m4 1h1m-1-4h1m1 7h1m5-4h1m0-3h1m2 1h1m7 6h1m3-2h1m1 0h1m2-1h1m0-2h1m4 3h1m7 2h1m-1-7h1m-1 7h1m0 0h1m1-6h1m-1 4h1m-1-3h1m0 1h1m0 0h1m2 0h1m1 3h1m0-1h1m-1 2h1m0-1h1m0 0h1m-1 1h1m3-3h1m0 2h1m-1 0h1m0-2h1m3 3h1m0-7h1m0 1h1m5 3h1m1-2h1m-1 1h1m2 4h1m8-6h1m-1 1h1m1 2h1m0-3h1m5 0h1m1 2h1m3 1h1m0 2h1m-184 9h1m0-2h1m9 0h1m20-3h1m8 2h1m3-1h1m2-3h1m3 2h1m1 5h1m3-7h1m0 7h1m1-4h1m-1 2h1m3-3h1m0 5h1m1-5h1m5 2h1m0-1h1m2 1h1m4-2h1m-1 5h1m1-4h1m-1 1h1m1-1h1m0 2h1m1-2h1m0-1h1m6 4h1m2-5h1m0 2h1m7-2h1m-1 0h1m1 3h1m0-3h1m1 0h1m0 4h1m5-5h1m2 7h1m6-4h1m2 2h1m2 0h1m-1-2h1m-1 0h1m6 3h1m6-2h1m-1-3h1m0 5h1m-1-2h1m3 1h1m2-1h1m0-4h1m-1 4h1m2-3h1m1 3h1m1 3h1m1-3h1m1-2h1m0 0h1m-170 8h1m7 5h1m13-1h1m1-5h1m5 2h1m1 0h1m0 0h1m-1 0h1m0 2h1m2 1h1m4-5h1m0 0h1m-1 5h1m1 0h1m2-5h1m2 1h1m2 5h1m4-5h1m1 4h1m1-3h1m1-1h1m-1 3h1m0-1h1m0 0h1m1 2h1m0-5h1m-1 4h1m4-2h1m0 4h1m0 0h1m0 0h1m-1-7h1m0 7h1m1-6h1m2 0h1m0-1h1m1 3h1m0 1h1m0-4h1m4 4h1m0-4h1m0 1h1m3 1h1m0 2h1m2 0h1m0 0h1m2-3h1m-1 5h1m3-3h1m3 1h1m2 3h1m0-3h1m5-4h1m-1 6h1m1 1h1m1-1h1m5-1h1m2 0h1m1-1h1m-1 0h1m0-3h1m0 3h1m8-4h1m1 6h1m3 1h1m3-2h1m2-5h1m-186 9h1m9 6h1m5-3h1m0-4h1m-1 0h1m4 7h1m3 0h1m8-5h1m-1 3h1m3 2h1m4 0h1m2-1h1m4-6h1m1 0h1m4 0h1m0 3h1m7 1h1m0-4h1m0 4h1m1 2h1m2-1h1m-1 0h1m1 2h1m0-4h1m2 0h1m-1-3h1m1 3h1m0 4h1m0-2h1m3-1h1m5 3h1m4-4h1m3 0h1m0 4h1m2-1h1m0-1h1m8 0h1m6-3h1m1-2h1m1 7h1m0 0h1m5 0h1m4-4h1m1-2h1m1 2h1m4-2h1m1 1h1m9-2h1m-1 0h1m15 5h1m1-2h1m0 3h1m7-4h1m-190 8h1m0 4h1m6 1h1m12-3h1m6-3h1m3-1h1m-1 0h1m1 5h1m13 0h1m0-5h1m5 2h1m5 0h1m9-2h1m0 0h1m6 7h1m-1-1h1m0-6h1m5 2h1m0 2h1m1-2h1m2 5h1m0 0h1m-1-5h1m0 4h1m1-3h1m4-1h1m11 0h1m1-1h1m0-1h1m10 3h1m11 1h1m6-1h1m5 0h1m1-2h1m2-1h1m2 1h1m6 2h1m17 0h1m15-3h1m-195 13h1m14-2h1m1 4h1m14-7h1m4 7h1m16-2h1m3-4h1m6 0h1m18 2h1m21 3h1m37-6h1m17 2h1m5 0h1m-1 2h1m-192 7h1m10 3h1m31-3h1m-1-2h1m3 4h1m20 2h1m32-7h1m3 2h1m28 1h1m9 4h1m29-5h1m-129 8h1m48-2h1m2 1h1m21 2h1m19 0h1m-124 9h1m90-4h1m-36 31h1m77 7h1m-19 15h1m12 2h1m2-3h1m-28 11h1m15-6h1m14 2h1m2 2h1m-1-2h1m6-2h1m4 4h1m-1-5h1m-98 14h1m32-1h1m4 1h1m10-2h1m11 1h1m4-3h1m0-1h1m0 4h1m-1-4h1m14 1h1m1 2h1m-38 7h1m5-2h1m11 0h1m4 2h1m2 3h1m-1 0h1m0-1h1m5 2h1m0-2h1m0-4h1m-1 0h1m5 5h1m1 0h1m-80 5h1m12 4h1m5-4h1m10-1h1m4 2h1m1 0h1m4-2h1m2 1h1m2 3h1m0-5h1m1 3h1m3 2h1m10-1h1m1 1h1m-1-4h1m3-2h1m-1 1h1m-1-1h1m2 0h1m9 3h1m-92 11h1m2-1h1m6-5h1m6 5h1m2-1h1m6-4h1m7 7h1m5-6h1m0 3h1m0-3h1m4-1h1m3 3h1m0 3h1m1-1h1m1-2h1m0 1h1m2 0h1m-1-4h1m0 4h1m1-4h1m0 7h1m2-1h1m0-2h1m3 3h1m6-7h1m2 1h1m2 6h1m2 0h1m16 0h1m-290 3h1m34 0h1m5 3h1m141-1h1m1 2h1m0 0h1m3-5h1m0 1h1m3 5h1m5-4h1m5 4h1m1 0h1m-1-5h1m1-2h1m0 1h1m0-1h1m-1 0h1m13 3h1m-1-1h1m2 5h1m-1-3h1m1 1h1m1-2h1m0-1h1m2 5h1m6-6h1m0 2h1m-1-3h1m-1 2h1m1 5h1m-1-7h1m9 4h1m0-4h1m5 5h1m8 0h1m3 1h1m3-4h1m0-2h1m19 4h1m-263 9h1m6-2h1m1 3h1m71-5h1m61 6h1m5-1h1m2-5h1m3-1h1m2 6h1m1-3h1m5 3h1m-1-6h1m7 5h1m0 1h1m11-1h1m-1-1h1m0 1h1m-1-5h1m-1 7h1m4-5h1m-1 2h1m-1-1h1m0 4h1m0-4h1m-1-1h1m1 4h1m-1 1h1m1-6h1m2 1h1m3 1h1m0 3h1m2-5h1m2 1h1m0 4h1m-1-5h1m4-1h1m2 5h1m15-4h1m-248 13h1m5-2h1m0 0h1m3-1h1m1 4h1m1-4h1m-1 4h1m7-4h1m4 4h1m2-5h1m76 4h1m11-1h1m0-3h1m2 3h1m0-3h1m9-1h1m2 6h1m2-2h1m1 0h1m1 1h1m1-5h1m1-1h1m1 6h1m6-2h1m2 2h1m0-6h1m2 2h1m0 1h1m2 0h1m2 1h1m-1 2h1m0 0h1m-1 1h1m1-2h1m-1-5h1m1 7h1m1-3h1m-1-3h1m1 6h1m-1-5h1m0-1h1m2 3h1m0 2h1m1 0h1m1-4h1m-1 0h1m1 2h1m2 2h1m1 1h1m1-7h1m0 6h1m0-4h1m1 2h1m8-3h1m3 6h1m4-1h1m1-1h1m3-2h1m2-1h1m0 3h1m11-4h1m2 0h1m-270 12h1m3-1h1m2-1h1m1 0h1m7 2h1m0-2h1m-1 1h1m4 1h1m-1 2h1m0-3h1m1-1h1m1-3h1m5 5h1m-1 1h1m-1-2h1m1-4h1m0 0h1m3 7h1m0-1h1m0-3h1m6 3h1m1 0h1m-1-6h1m92 2h1m4-2h1m-1 4h1m4-3h1m0 1h1m0 5h1m2-1h1m3-1h1m3-1h1m0-2h1m4-2h1m0 5h1m0 0h1m2-5h1m3 4h1m0-1h1m1 3h1m4-6h1m-1 4h1m2-3h1m0 3h1m-1 0h1m-1-4h1m8 2h1m0 2h1m-1-4h1m0 6h1m0-6h1m-1 3h1m10 0h1m0-1h1m2 1h1m3-3h1m2 4h1m-1 2h1m2-6h1m1 5h1m4-1h1m25-4h1m-281 8h1m0 7h1m13-7h1m5 3h1m0 3h1m8-5h1m2 3h1m4 0h1m3 3h1m1-3h1m-1-2h1m0 5h1m3-3h1m0-3h1m0 6h1m0-2h1m1 1h1m2-3h1m-1 4h1m0-5h1m0-1h1m-1 5h1m0 1h1m-1-6h1m2 2h1m1 4h1m-1-7h1m0 1h1m0 2h1m3 4h1m0-3h1m-1-3h1m1-1h1m-1 1h1m-1 5h1m13 1h1m42-7h1m20 1h1m0 3h1m1-3h1m1 2h1m7 2h1m1-2h1m0 1h1m1-4h1m-1 2h1m3 3h1m4-2h1m1 3h1m0-3h1m-1 3h1m1-3h1m-1 3h1m7-6h1m0 4h1m0 2h1m0-1h1m0-4h1m0 5h1m-1-2h1m0-3h1m0 2h1m0-3h1m8 3h1m6-2h1m2 2h1m7 2h1m-1 0h1m0 1h1m0-1h1m-1-2h1m1-2h1m0 1h1m0-1h1m7 6h1m13-5h1m0 3h1m-279 4h1m7 6h1m6 0h1m4-7h1m3 2h1m1 2h1m1 3h1m3-4h1m-1 1h1m1 0h1m0 0h1m-1 1h1m4-1h1m1 0h1m-1 2h1m0 0h1m1 1h1m2-2h1m-1-3h1m-1-2h1m4 5h1m0 0h1m-1-4h1m-1 6h1m0-4h1m1 0h1m-1 1h1m1-1h1m0-1h1m-1 0h1m-1 2h1m-1 2h1m0-2h1m0-3h1m0 2h1m-1 4h1m2-1h1m0-3h1m2 1h1m3-1h1m-1 4h1m0-5h1m-1 3h1m0 2h1m0-2h1m0-5h1m1 0h1m0 4h1m1 2h1m0-6h1m0 7h1m0-1h1m1-5h1m0 4h1m0-3h1m0-1h1m0 5h1m0-1h1m2-1h1m-1 1h1m0-4h1m5 6h1m7 0h1m25-6h1m9 5h1m15 0h1m8 1h1m2-5h1m8-1h1m1 4h1m-1 2h1m0-5h1m-1 0h1m-1-1h1m2 4h1m2 2h1m-1-1h1m1-4h1m1 1h1m-1-1h1m-1-1h1m1 5h1m2 1h1m0-7h1m1 2h1m2 1h1m3-2h1m0 3h1m2 3h1m-1-2h1m0 0h1m0 0h1m-1-2h1m0 2h1m3 1h1m0-4h1m0 2h1m4 1h1m-1-4h1m11 1h1m2 2h1m0-1h1m0 4h1m2-7h1m0 0h1m22 2h1m1 1h1m3 3h1m15-5h1m-300 10h1m0 4h1m6-3h1m-1 1h1m7 1h1m-1-1h1m8-1h1m-1-3h1m3 3h1m1 0h1m0-3h1m1 0h1m-1 3h1m-1 0h1m1-4h1m0 7h1m4-7h1m-1 6h1m0-1h1m-1-2h1m-1 4h1m0-1h1m0-5h1m0 3h1m0 3h1m0 0h1m0 0h1m0-3h1m-1-3h1m0-1h1m0 6h1m-1-4h1m-1 2h1m-1 2h1m0 1h1m1-7h1m1 1h1m0 3h1m-1-3h1m0 3h1m1-4h1m-1 7h1m-1-3h1m0 0h1m0-4h1m0 4h1m0 1h1m2-4h1m-1 5h1m0-6h1m0 4h1m-1 3h1m-1-5h1m1 4h1m-1-2h1m-1-4h1m-1 7h1m2-1h1m-1-3h1m0 0h1m0 3h1m2-2h1m-1-4h1m0 0h1m0 0h1m-1 1h1m0 5h1m-1-1h1m-1-2h1m0-3h1m-1 7h1m0-4h1m0 3h1m0 1h1m-1-7h1m-1 5h1m0-5h1m0 7h1m0-1h1m2-2h1m1 2h1m0-3h1m-1 1h1m3-4h1m3 5h1m1 1h1m9 0h1m3-6h1m15 1h1m19 5h1m10 0h1m0 0h1m1-1h1m0 1h1m3-6h1m1 0h1m1 5h1m0-3h1m2 1h1m-1 0h1m2 3h1m0-3h1m-1-3h1m8 0h1m1 5h1m1 0h1m0-1h1m0-2h1m-1 0h1m0 3h1m1 2h1m0-3h1m0-1h1m-1 2h1m1-4h1m-1 5h1m1-1h1m-1-2h1m10 1h1m5 3h1m0-7h1m-1 5h1m0-1h1m3-2h1m6 0h1m0-1h1m1 1h1m7 2h1m8 0h1m-263 11h1m8-2h1m8-1h1m-1 1h1m-1 2h1m-1-3h1m2-2h1m-1 2h1m0 1h1m4 2h1m0-5h1m4 4h1m-1-5h1m0 1h1m0 3h1m3-3h1m0 3h1m-1-5h1m-1 5h1m-1 0h1m0 2h1m-1 0h1m-1-7h1m2 5h1m0 2h1m-1-2h1m0 1h1m0-1h1m0 2h1m-1-6h1m0 2h1m-1 0h1m0 2h1m0-5h1m-1 2h1m-1 2h1m-1-2h1m-1 5h1m0-7h1m-1 4h1m0 1h1m-1-3h1m0 2h1m-1 2h1m0-6h1m-1 7h1m-1-2h1m0-3h1m-1 1h1m-1 1h1m0 2h1m-1 1h1m0-2h1m-1 0h1m-1 2h1m1-6h1m-1-1h1m0 2h1m-1 3h1m0-3h1m-1 0h1m0 0h1m-1 4h1m0-6h1m-1 0h1m0 6h1m0-4h1m0-1h1m0 6h1m-1-2h1m-1 2h1m0-2h1m0-2h1m-1 0h1m0 2h1m-1 0h1m1-4h1m0 1h1m-1 3h1m1-1h1m-1-1h1m-1 3h1m0 0h1m1-4h1m1 2h1m-1-2h1m0 5h1m-1-7h1m0 3h1m-1-3h1m-1 4h1m0-3h1m-1 2h1m-1 2h1m-1-5h1m-1 3h1m1 1h1m-1 3h1m0-3h1m1-2h1m0-1h1m2 0h1m2 4h1m2 1h1m-1-2h1m0 1h1m-1-5h1m0 5h1m-1 1h1m0-2h1m2 2h1m5 0h1m0-3h1m1 0h1m-1 1h1m8 1h1m18-4h1m6 3h1m0-1h1m0-3h1m4 0h1m2 2h1m1 3h1m1-5h1m0 5h1m2-4h1m0-1h1m1 2h1m0 1h1m0-3h1m6 2h1m0-1h1m-1 6h1m4-5h1m0-2h1m-1 0h1m2 6h1m1-1h1m-1 1h1m1-6h1m6 0h1m1 4h1m0 3h1m0-6h1m2 4h1m0-2h1m0 2h1m1-2h1m1-2h1m0 0h1m0-1h1m0 6h1m10-3h1m0 2h1m0 2h1m1-7h1m60 3h1m-322 11h1m7-1h1m10-2h1m-1-3h1m0 3h1m16 1h1m1 0h1m-1 1h1m4-1h1m0 2h1m0-5h1m-1 4h1m4 0h1m0 0h1m-1 2h1m1 0h1m0-5h1m0 3h1m0-2h1m0 2h1m-1-1h1m0-2h1m0 3h1m0 2h1m-1-4h1m2-2h1m1-1h1m0 2h1m0-1h1m-1 5h1m0-2h1m-1 1h1m-1-4h1m0 0h1m0 0h1m2-1h1m-1 3h1m-1-1h1m0-1h1m-1 2h1m-1 3h1m0 1h1m0-4h1m0 3h1m-1-5h1m-1 6h1m-1-5h1m0 5h1m-1-2h1m0-4h1m-1 1h1m0 4h1m-1-6h1m1 7h1m-1-3h1m-1 3h1m0-1h1m0-4h1m0-2h1m-1 5h1m1-2h1m-1 2h1m0 1h1m-1-6h1m0 3h1m0 0h1m-1-1h1m-1-1h1m-1 6h1m-1-4h1m0 3h1m0-6h1m-1 2h1m-1 1h1m0-2h1m-1 1h1m-1 1h1m-1 4h1m-1-3h1m-1-2h1m1 4h1m-1-1h1m0 1h1m0 0h1m-1 1h1m-1-7h1m0 4h1m0 2h1m0-2h1m0-4h1m-1 2h1m-1 4h1m0-6h1m-1 0h1m1 2h1m0-2h1m-1 5h1m-1 1h1m0-6h1m3 6h1m0 0h1m1-4h1m-1 0h1m-1 2h1m0 3h1m3-7h1m0 7h1m0-2h1m1-2h1m-1 1h1m4-1h1m4 0h1m0-2h1m10 6h1m4 0h1m10 0h1m-1-5h1m0-2h1m5 2h1m-1 5h1m2 0h1m-1 0h1m6-2h1m0 2h1m7-6h1m5 1h1m3 1h1m1 0h1m1 4h1m0-3h1m2 2h1m-1 0h1m0 0h1m-1 0h1m2 1h1m-1 0h1m-1-4h1m3 0h1m3 3h1m-1 1h1m0-7h1m-1 4h1m6-2h1m1 4h1m9-4h1m2 0h1m0-1h1m1 4h1m0-1h1m1 1h1m8-2h1m6 1h1m-1 1h1m27 2h1m-298 5h1m16-1h1m7 4h1m2 0h1m1-1h1m1-3h1m0 2h1m0 1h1m0-3h1m2-2h1m3 6h1m0-1h1m-1 1h1m0-4h1m-1 1h1m1-1h1m0 2h1m1 2h1m0-7h1m-1 3h1m1 3h1m2-6h1m-1 4h1m0 1h1m-1-3h1m0-1h1m1 1h1m3 3h1m-1-2h1m0 3h1m-1 1h1m0-7h1m-1 6h1m0-2h1m-1 0h1m-1-4h1m-1 3h1m-1 0h1m-1 0h1m0 3h1m-1 1h1m0-7h1m-1 5h1m0-2h1m-1 0h1m1-2h1m3 4h1m-1 2h1m-1-7h1m-1 3h1m1 1h1m-1-4h1m-1 0h1m0 6h1m-1-1h1m0-4h1m0 5h1m-1-2h1m-1-4h1m0 5h1m-1-1h1m0 2h1m0-2h1m-1-1h1m1 2h1m-1-2h1m-1 2h1m0-1h1m-1-1h1m-1 2h1m0-4h1m-1 1h1m0 3h1m0 1h1m0-3h1m-1 3h1m-1-4h1m0 3h1m-1 2h1m-1-5h1m-1 3h1m0 1h1m0-4h1m0 4h1m0-3h1m1 4h1m1-7h1m0 5h1m-1 1h1m-1 1h1m3-5h1m-1 1h1m-1 0h1m0 4h1m-1-5h1m-1-1h1m0 4h1m0-1h1m0-1h1m2-3h1m-1 4h1m0-2h1m0 3h1m-1-2h1m0 1h1m2-4h1m0 1h1m-1 6h1m-1-6h1m-1 1h1m-1-2h1m0 6h1m-1-4h1m1 0h1m1-1h1m-1 5h1m0-5h1m-1 5h1m0-5h1m0 4h1m-1 2h1m-1-4h1m4 3h1m3-3h1m0-2h1m24 6h1m3-3h1m4 0h1m-1-3h1m9 4h1m5 1h1m0-5h1m0 4h1m2 0h1m3-3h1m0 0h1m2 4h1m-1 1h1m2-1h1m1 1h1m-1-1h1m-1-4h1m5 1h1m-1 1h1m3 0h1m0-2h1m-1-1h1m0 3h1m3 3h1m2-4h1m0-2h1m-1 0h1m1 4h1m1-2h1m2 4h1m0-7h1m-1 5h1m0-2h1m0 0h1m5 4h1m0 0h1m2-7h1m0 1h1m0 2h1m0-3h1m1 7h1m5-3h1m6 0h1m32 3h1m-284 2h1m1 0h1m1 5h1m1-3h1m3 4h1m3-7h1m-1 2h1m2 5h1m-1-7h1m0 3h1m2 4h1m-1 0h1m0-7h1m7 6h1m-1-1h1m0-3h1m-1 4h1m0-6h1m0 5h1m0-4h1m0 0h1m-1 6h1m0-7h1m-1 3h1m0-2h1m-1-1h1m0 6h1m-1-2h1m0 2h1m-1 0h1m0-1h1m0 2h1m-1-7h1m1 0h1m-1 7h1m0-4h1m-1 3h1m0-2h1m-1-3h1m-1 1h1m0-2h1m1 3h1m-1 1h1m-1 3h1m0-4h1m-1-3h1m-1 1h1m-1 2h1m-1-3h1m0 7h1m-1-7h1m0 4h1m-1-1h1m0 4h1m-1-4h1m-1-1h1m0 5h1m1-6h1m0 2h1m-1-2h1m-1 1h1m0 2h1m-1-2h1m-1 0h1m-1-2h1m0 4h1m-1 1h1m-1-5h1m0 5h1m-1 0h1m0-5h1m-1 3h1m0 3h1m-1 1h1m0-3h1m-1-3h1m-1 5h1m1-4h1m-1 4h1m-1-3h1m-1 3h1m0 0h1m-1-1h1m-1 1h1m-1-5h1m0 3h1m-1-2h1m-1 1h1m0 4h1m0-3h1m-1-2h1m-1 5h1m0 0h1m1-1h1m-1-4h1m-1 0h1m-1 4h1m0-1h1m-1 0h1m-1-4h1m0-1h1m-1 3h1m-1-2h1m0 4h1m-1 0h1m0-3h1m-1 1h1m-1-1h1m-1-2h1m-1 5h1m0-1h1m-1-4h1m-1 2h1m0-1h1m-1 0h1m0 5h1m0-2h1m0-4h1m0 7h1m0-2h1m-1-5h1m0 0h1m1 5h1m1-5h1m1 4h1m-1-1h1m0-3h1m2 5h1m-1-4h1m-1-1h1m-1 1h1m1 3h1m0-2h1m-1-2h1m0 1h1m0 0h1m-1 2h1m-1-3h1m0 4h1m-1-3h1m-1 2h1m0-3h1m-1 2h1m1-1h1m2-1h1m0 1h1m3-1h1m4 6h1m11-5h1m2 3h1m6-2h1m2-1h1m14 4h1m2-3h1m4-2h1m1 1h1m-1 5h1m0-2h1m6-3h1m1 3h1m2 2h1m1-5h1m0 4h1m-1-4h1m0-1h1m0 5h1m1 2h1m0-5h1m7 1h1m2 0h1m1-3h1m3 1h1m1 0h1m6 2h1m5-3h1m8 3h1m13-1h1m-259 13h1m2-2h1m2-5h1m2 1h1m2 2h1m1 2h1m0-3h1m11-2h1m-1 1h1m0 2h1m1 1h1m-1 1h1m0-1h1m-1 1h1m0-2h1m-1-1h1m0 5h1m-1-1h1m-1 1h1m0-7h1m3 1h1m-1 5h1m0-4h1m0 4h1m2-6h1m1 2h1m1 5h1m-1-5h1m-1 4h1m-1-4h1m1-1h1m0 5h1m-1-1h1m1-1h1m-1-1h1m0 2h1m0-3h1m0 3h1m0-1h1m-1 3h1m1-7h1m-1 5h1m-1 0h1m0-4h1m-1 6h1m-1-5h1m-1-1h1m1-1h1m-1 7h1m-1-4h1m0 1h1m-1-4h1m-1 1h1m0 6h1m-1-1h1m-1-6h1m0 4h1m-1 3h1m1-4h1m-1 0h1m-1 0h1m-1-1h1m1-1h1m-1 3h1m0 3h1m-1 0h1m-1-3h1m1-4h1m0 4h1m0 2h1m-1-4h1m0 3h1m-1 2h1m0-6h1m0 6h1m1-1h1m-1-1h1m-1-1h1m0-3h1m-1 4h1m0-5h1m-1 3h1m-1-3h1m-1 1h1m0 4h1m1 0h1m-1-1h1m1-2h1m-1-2h1m0 6h1m0 0h1m0-4h1m-1 1h1m-1 3h1m-1-3h1m0 0h1m-1-3h1m-1 2h1m0 5h1m-1-3h1m0-4h1m-1 4h1m0 1h1m-1-4h1m0 4h1m0 1h1m-1 1h1m-1-4h1m-1-2h1m-1 3h1m2-2h1m0-2h1m0 5h1m0 0h1m2 0h1m-1-3h1m1 5h1m1-6h1m1 2h1m-1 2h1m-1-3h1m-1 2h1m0-3h1m0 5h1m0-5h1m-1 5h1m0-1h1m1-3h1m3 1h1m-1-2h1m1 5h1m0-3h1m0-3h1m0 1h1m4 6h1m2-3h1m10-2h1m7 1h1m1 2h1m8-5h1m1 1h1m2-1h1m0 0h1m18 3h1m0 2h1m-1-5h1m4 6h1m7 0h1m0 1h1m0-4h1m2 1h1m1 3h1m0-5h1m1 3h1m-1-3h1m2 4h1m6-4h1m9 5h1m2 0h1m8-7h1m2 1h1m8 4h1m-250 4h1m1 0h1m6 4h1m5 0h1m1 2h1m-1-4h1m0 1h1m-1 2h1m0-6h1m1 5h1m-1-2h1m0 0h1m1-2h1m0 5h1m1-1h1m-1 0h1m-1 0h1m0-3h1m0 3h1m0 1h1m-1-3h1m-1-2h1m0 4h1m0-2h1m-1-1h1m0 4h1m0-2h1m0-2h1m0 4h1m-1-5h1m1 1h1m-1 4h1m-1-4h1m-1-1h1m-1-1h1m0 2h1m2 3h1m-1 1h1m-1-4h1m0 2h1m-1 0h1m-1-2h1m0 3h1m0 0h1m0-4h1m-1 0h1m-1 0h1m-1 6h1m0-3h1m-1-4h1m1 2h1m0 4h1m-1 0h1m0-1h1m-1 0h1m0-5h1m-1 7h1m1 0h1m-1-4h1m1 1h1m0-4h1m-1 0h1m0 3h1m0-1h1m-1 5h1m-1-7h1m-1 1h1m0 6h1m-1-2h1m-1-1h1m0-2h1m-1 2h1m-1-4h1m0 1h1m-1 2h1m1-2h1m0 3h1m0 2h1m-1-4h1m0 4h1m-1-2h1m-1-2h1m0 4h1m-1-1h1m0-1h1m0 3h1m-1-6h1m-1 1h1m0 1h1m1 3h1m0-1h1m0-5h1m0 0h1m0 2h1m-1-1h1m-1 1h1m2-2h1m-1 1h1m-1 6h1m1-2h1m0-1h1m0 0h1m-1 2h1m0-6h1m-1 2h1m-1-2h1m-1 3h1m5 4h1m0-5h1m1 3h1m-1-4h1m-1 6h1m5-6h1m0 2h1m-1-3h1m1 0h1m6 2h1m6 5h1m4-6h1m9 1h1m11 0h1m12 0h1m13 1h1m6 1h1m4 2h1m1-6h1m7 5h1m-1-2h1m2 3h1m6-5h1m6 1h1m1-2h1m20 3h1m-252 5h1m16 5h1m1-5h1m0 1h1m0 0h1m5-1h1m-1 0h1m3 0h1m1 1h1m0 2h1m1-3h1m-1 5h1m0 1h1m-1-2h1m-1-2h1m0 3h1m-1-2h1m0-3h1m-1 2h1m0 0h1m0-1h1m-1 5h1m0-2h1m-1-3h1m0 1h1m1-1h1m-1 4h1m-1 1h1m-1-3h1m-1-2h1m0 5h1m0-1h1m-1-4h1m1 1h1m-1 2h1m0-1h1m-1 4h1m-1-2h1m0-5h1m0 7h1m0-1h1m0-3h1m-1 3h1m-1-2h1m-1 3h1m-1 0h1m1-2h1m0 0h1m-1 0h1m-1 1h1m-1-6h1m-1 4h1m1-1h1m-1 1h1m2-1h1m-1 2h1m-1-3h1m0 3h1m0-5h1m0 6h1m0-6h1m-1 1h1m0-1h1m0 1h1m0 3h1m-1 0h1m0 3h1m-1-7h1m-1 4h1m-1-4h1m0 3h1m0-2h1m0-1h1m-1 1h1m0 5h1m0-4h1m-1 1h1m-1 4h1m-1 0h1m0-6h1m-1 6h1m0-2h1m1-3h1m-1 2h1m-1 3h1m0-2h1m-1-4h1m-1-1h1m0 4h1m-1 2h1m0 1h1m-1-3h1m0-3h1m0 4h1m-1-4h1m-1-1h1m-1 1h1m-1 2h1m0 2h1m-1 1h1m-1-2h1m1 3h1m-1 0h1m0-2h1m-1-3h1m-1 0h1m0 2h1m0 2h1m0-2h1m0-2h1m-1 2h1m-1 0h1m0-4h1m0 1h1m0 1h1m-1-1h1m0 2h1m1 4h1m-1-5h1m-1 2h1m1-2h1m-1 3h1m-1-4h1m0-1h1m-1 5h1m0 1h1m0-5h1m-1 6h1m2-6h1m0 1h1m2 0h1m0 0h1m8-1h1m4 0h1m3 5h1m42 1h1m6-2h1m0-1h1m5-4h1m0 0h1m2 4h1m1 1h1m2-3h1m3-2h1m2 2h1m2 5h1m4-6h1m0 3h1m0 2h1m-1-2h1m0 1h1m0 0h1m2 1h1m1-5h1m0 4h1m-1-4h1m6 0h1m20 1h1m-247 13h1m10-1h1m3-4h1m5 2h1m1 1h1m0-1h1m0-1h1m5-3h1m1 6h1m-1-5h1m0 6h1m0-3h1m-1-4h1m-1 7h1m-1-3h1m0-3h1m-1 3h1m1 1h1m0-2h1m0-1h1m-1 2h1m-1 0h1m2 2h1m3-5h1m0 2h1m0 0h1m-1 1h1m0-3h1m-1 5h1m-1 0h1m0-4h1m-1 4h1m-1 0h1m0 0h1m-1 0h1m-1 1h1m0-4h1m-1 4h1m0-3h1m-1 0h1m-1 2h1m-1-6h1m1 0h1m-1 7h1m-1 0h1m-1-3h1m-1-3h1m0-1h1m0 2h1m-1 2h1m0-4h1m0 0h1m-1 1h1m-1 3h1m0-4h1m1 1h1m0 3h1m0 3h1m-1-4h1m0 2h1m0-1h1m-1-4h1m-1 1h1m0 0h1m-1 1h1m0 3h1m-1-3h1m0 4h1m1-4h1m-1 2h1m1 1h1m0-4h1m0 5h1m1-1h1m0-3h1m0 1h1m0 2h1m4-3h1m0 0h1m-1 3h1m1-2h1m-1 2h1m4-1h1m0 0h1m0-3h1m-1 1h1m-1-1h1m1-1h1m1 0h1m0 7h1m-1-7h1m0 2h1m8 0h1m6 1h1m47 0h1m9-3h1m13 5h1m0-5h1m6 0h1m4 0h1m3 7h1m48-4h1m-238 7h1m3 1h1m3-1h1m1 1h1m4 1h1m1-3h1m-1 6h1m0-3h1m-1 0h1m1-4h1m0 5h1m1-4h1m3 2h1m0 4h1m0-2h1m0-3h1m1 4h1m-1-3h1m0 3h1m1-3h1m1-3h1m0 4h1m-1-2h1m-1 1h1m0 4h1m-1-5h1m0-2h1m0 4h1m-1-4h1m0 7h1m0-3h1m0-4h1m8 3h1m2 1h1m1 0h1m1 0h1m7-4h1m0 4h1m0-3h1m10 3h1m13-1h1m69-1h1m4 2h1m2 3h1m20-5h1m-201 8h1m11 0h1m4-1h1m0 1h1m2-1h1m1 5h1m3-5h1m-1 1h1m1 3h1m-1-4h1m2 2h1m-1 2h1m2-4h1m0 0h1m0 5h1m-1-6h1m1 4h1m2-4h1m1 0h1m3 0h1m0 0h1m1 1h1m3 2h1m4-3h1m6 2h1m4-1h1m1 4h1m22-3h1m-87 8h1m9 2h1m1-1h1m14 4h1m12-3h1m2 1h1m10 1h1m0 1h1m-54 2h1m1 2h1m7-3h1m21 4h1m17-1h1m28 2h1" fill="none" stroke="#000" stroke-width="5" stroke-linecap="square" stroke-opacity="0.55"/>
<line x1="81.70" y1="363.20" x2="81.70" y2="425.10" stroke="#999" stroke-width="0.6" />
<line x1="81.70" y1="425.10" x2="149.60" y2="425.10" stroke="#999" stroke-width="0.6" />
<line x1="80.30" y1="424.60" x2="81.70" y2="424.60" stroke="#999" stroke-width="0.5" />
<line x1="82.50" y1="425.10" x2="82.50" y2="426.50" stroke="#999" stroke-width="0.5" />
<line x1="80.30" y1="409.25" x2="81.70" y2="409.25" stroke="#999" stroke-width="0.5" />
<line x1="99.28" y1="425.10" x2="99.28" y2="426.50" stroke="#999" stroke-width="0.5" />
<line x1="80.30" y1="393.90" x2="81.70" y2="393.90" stroke="#999" stroke-width="0.5" />
<line x1="116.05" y1="425.10" x2="116.05" y2="426.50" stroke="#999" stroke-width="0.5" />
<line x1="80.30" y1="378.55" x2="81.70" y2="378.55" stroke="#999" stroke-width="0.5" />
<line x1="132.82" y1="425.10" x2="132.82" y2="426.50" stroke="#999" stroke-width="0.5" />
<line x1="80.30" y1="363.20" x2="81.70" y2="363.20" stroke="#999" stroke-width="0.5" />
<line x1="149.60" y1="425.10" x2="149.60" y2="426.50" stroke="#999" stroke-width="0.5" />
<rect x="82.50" y="363.20" width="23.00" height="29.30" fill="none" stroke="#8ab048" stroke-width="1.3"/>
<rect x="105.50" y="363.20" width="44.10" height="29.30" fill="none" stroke="#c4504c" stroke-width="1.3"/>
<rect x="105.50" y="392.50" width="44.10" height="32.10" fill="none" stroke="#4a88cc" stroke-width="1.3"/>
<text x="114.70" y="357.85" font-size="7.5" font-weight="bold" text-anchor="middle" fill="#000"  stroke="#000" stroke-width="0.18">40</text>
<text x="113.05" y="362.20" font-size="2.6" fill="#888" text-anchor="middle">Data.017</text>
<text x="113.05" y="430.10" font-size="2.6" fill="#888" text-anchor="middle">FL1-H</text>
<text x="79.30" y="425.40" font-size="2.4" fill="#999" text-anchor="end">1</text>
<text x="82.50" y="428.20" font-size="2.4" fill="#999" text-anchor="middle">1</text>
<text x="79.30" y="410.05" font-size="2.4" fill="#999" text-anchor="end">1</text>
<text x="99.28" y="428.20" font-size="2.4" fill="#999" text-anchor="middle">1</text>
<text x="79.30" y="394.70" font-size="2.4" fill="#999" text-anchor="end">1</text>
<text x="116.05" y="428.20" font-size="2.4" fill="#999" text-anchor="middle">1</text>
<text x="79.30" y="379.35" font-size="2.4" fill="#999" text-anchor="end">1</text>
<text x="132.82" y="428.20" font-size="2.4" fill="#999" text-anchor="middle">1</text>
<text x="79.30" y="364.00" font-size="2.4" fill="#999" text-anchor="end">1</text>
<text x="149.60" y="428.20" font-size="2.4" fill="#999" text-anchor="middle">1</text>
<text x="88.30" y="370.00" font-size="5.95" font-weight="bold" text-anchor="start" fill="#f01818" stroke="#f01818" stroke-width="0.42">2.28</text>
<text x="88.30" y="377.00" font-size="5.95" font-weight="bold" text-anchor="start" fill="#f01818" stroke="#f01818" stroke-width="0.42">±</text>
<text x="92.50" y="377.00" font-size="5.95" font-weight="bold" text-anchor="start" fill="#f01818" stroke="#f01818" stroke-width="0.42">0.94</text>
<text x="132.70" y="370.00" font-size="5.95" font-weight="bold" text-anchor="start" fill="#f01818" stroke="#f01818" stroke-width="0.42">19.14</text>
<text x="132.70" y="377.00" font-size="5.95" font-weight="bold" text-anchor="start" fill="#f01818" stroke="#f01818" stroke-width="0.42">±</text>
<text x="136.90" y="377.00" font-size="5.95" font-weight="bold" text-anchor="start" fill="#f01818" stroke="#f01818" stroke-width="0.42">0.82</text>
<text x="132.70" y="416.20" font-size="5.95" font-weight="bold" text-anchor="start" fill="#f01818" stroke="#f01818" stroke-width="0.42">24.49</text>
<text x="132.70" y="423.20" font-size="5.95" font-weight="bold" text-anchor="start" fill="#f01818" stroke="#f01818" stroke-width="0.42">±</text>
<text x="136.90" y="423.20" font-size="5.95" font-weight="bold" text-anchor="start" fill="#f01818" stroke="#f01818" stroke-width="0.42">1.47</text>
<path transform="scale(0.1)" d="M3181 2943h1m-234 7h1m56 1h1m14-2h1m74-5h1m-119 15h1m75-7h1m83 7h1m-125 24h1m38-4h1m16-2h1m31 1h1m8 3h1m6-1h1m-167 7h1m43 0h1m17 1h1m24-1h1m10 4h1m9-6h1m15 4h1m23-4h1m-236 9h1m112 0h1m13 5h1m12-6h1m10 3h1m46 2h1m41-4h1m11 2h1m23 3h1m-229 4h1m12 2h1m23 1h1m22-1h1m37 1h1m33-4h1m38-1h1m63 3h1m-289 5h1m21 3h1m101-4h1m47 4h1m5-3h1m6 3h1m13 1h1m36 0h1m36 1h1m-243 7h1m10-1h1m39-3h1m9 2h1m50 1h1m8-4h1m73 7h1m-274 6h1m112 1h1m117-1h1m50 1h1m16 0h1m-265 3h1m79 6h1m109-2h1m19-5h1m19 0h1m-152 14h1m168-3h1m-210 7h1m82 5h1m127-1h1m-278 4h1m254 5h1m-188 4h1m176 0h1m73 0h1m-277 8h1m132-2h1m44 3h1m13-2h1m60 1h1m30 0h1m-78 10h1m16 1h1m-66 2h1m38 15h1m57-4h1m-303 6h1m201 1h1m-229 13h1m240 0h1m-1-4h1m14 0h1m3 0h1m55 1h1m-105 6h1m6 4h1m47-1h1m-313 10h1m196 9h1m-1 4h1m98 2h1m-145 3h1m38 2h1m8 0h1m26 0h1m15-1h1m-19 6h1m29 7h1m-18 7h1m-255 11h1m67-1h1m17 1h1m-94 9h1m199 3h1m16-4h1m-215 8h1m-21 14h1m40-3h1m92 3h1m116-7h1m-242 15h1m121-7h1m-1 6h1m9-4h1m20 2h1m30-1h1m38-3h1m-128 14h1m67-2h1m38-4h1m12 2h1m-189 6h1m64 8h1m18 7h1m12-7h1m5 2h1m-141 7h1m-17 13h1m3-1h1m6-2h1m42 1h1m57-4h1m9 5h1m5-5h1m22 5h1m10 0h1m39-5h1m-203 15h1m71-1h1m35-4h1m0 4h1m45-2h1m67 2h1m-243 2h1m30 4h1m3 1h1m14-2h1m10 1h1m57 0h1m57-1h1m-141 5h1m77 4h1m11-2h1m8 0h1m20 4h1m28 1h1m10-6h1m9 4h1m-146 9h1m4-4h1m2 0h1m12 5h1m2-1h1m11-4h1m37 5h1m5-3h1m13-4h1m15 3h1m-134 10h1m13-2h1m-1 3h1m12 0h1m1-1h1m3-4h1m6 3h1m10-4h1m4 7h1m0-5h1m11 1h1m15-3h1m-1 1h1m38 4h1m24 1h1m-191 8h1m34-4h1m28 3h1m24 0h1m24-3h1m3 0h1m2-1h1m0 6h1m-1-1h1m2 1h1m0-6h1m24 1h1m8 3h1m-124 3h1m15 1h1m24 0h1m18 1h1m29 3h1m33-2h1m6-1h1m10 4h1m-157 2h1m9 3h1m4-3h1m16 2h1m8 5h1m4-5h1m1 4h1m2-2h1m0-4h1m2 4h1m26-2h1m4-2h1m7 1h1m0 4h1m24 0h1m-91 5h1m18 2h1m7-4h1m4 5h1m3 2h1m4-3h1m-1 3h1m36-4h1m22 3h1m5-6h1m-146 11h1m24 1h1m20-2h1m6-1h1m12 4h1m8-2h1m2 2h1m50-5h1m-142 11h1m13 3h1m14-6h1m-1 3h1m4 4h1m45-2h1m2 2h1m-1-5h1m3 3h1m34 1h1m5 1h1m-131 5h1m3 0h1m4-3h1m1-1h1m0 3h1m5-3h1m8 3h1m14-1h1m10 1h1m17 3h1m2-4h1m2-2h1m7 6h1m32-2h1m3-3h1m-96 10h1m2 0h1m15-2h1m12 2h1m5-1h1m0 3h1m1-2h1m13 1h1m11 1h1m38 2h1m2-7h1m6 3h1m14-2h1m41 4h1m-204 3h1m15 2h1m15-1h1m17 6h1m2-2h1m8-2h1m10-1h1m0 5h1m4-4h1m15-2h1m22 3h1m1 3h1m-115 2h1m0 4h1m0 2h1m5-3h1m11 0h1m2-3h1m4 2h1m17 2h1m7-3h1m19-1h1m22 6h1m67-1h1m-170 5h1m5 3h1m1-2h1m3-2h1m0 0h1m1-2h1m0 5h1m4-1h1m22-1h1m8 2h1m8-3h1m18 3h1m66-4h1m-147 13h1m-1-5h1m2 4h1m27 0h1m11-2h1m1-3h1m-1 6h1m48 0h1m-97 6h1m29-2h1m3 1h1m15-3h1m15 0h1m112 5h1" fill="none" stroke="#000" stroke-width="5" stroke-linecap="square" stroke-opacity="0.3"/>
<path transform="scale(0.1)" d="M2820 3216h1m24 0h1m12 9h1m7 6h1m-48 1h1m22 7h1m0-1h1m4-1h1m-38 8h1m18 2h1m8-6h1m-1 3h1m1 1h1m0 2h1m1-5h1m1 2h1m3-3h1m12 5h1m1-3h1m8 4h1m-82 6h1m3-2h1m14-1h1m3-2h1m3 3h1m2-1h1m0-2h1m7 4h1m5 0h1m4-1h1m1 2h1m-1 2h1m2-5h1m-1 3h1m13 1h1m7 0h1m-1-5h1m-75 10h1m11 1h1m6 3h1m0-7h1m0 4h1m1 0h1m0-3h1m0 3h1m2 3h1m4-3h1m-1 1h1m1 1h1m1-3h1m0 4h1m1-5h1m3 3h1m2 2h1m1 0h1m1 0h1m3-5h1m-1 5h1m9-1h1m2-5h1m10 3h1m-95 5h1m21 1h1m0 4h1m0-2h1m-1-1h1m0-2h1m1 5h1m1-6h1m-1 4h1m1 0h1m2-2h1m-1 4h1m0 0h1m0-5h1m1 2h1m0 1h1m-1 3h1m4 0h1m0-2h1m-1 0h1m1 1h1m1-5h1m0-1h1m1 5h1m0 0h1m-1-1h1m-1 2h1m1 1h1m1-4h1m2 3h1m1 0h1m-1-5h1m5 5h1m3-1h1m0-1h1m3-4h1m-1 5h1m-1 0h1m0 1h1m12-3h1m3-1h1m-135 9h1m20 0h1m23 3h1m-1-5h1m4 3h1m-1 0h1m0 1h1m7 2h1m2-4h1m6 1h1m0 2h1m-1 1h1m0 0h1m-1-7h1m0 1h1m0-1h1m0 4h1m-1 2h1m-1-5h1m5 6h1m0-2h1m5-1h1m0-1h1m1 4h1m0-5h1m1 2h1m-1 0h1m3 0h1m0 2h1m0-2h1m0 3h1m6-7h1m0 2h1m1 2h1m13 3h1m0-7h1m-125 8h1m2 7h1m2-3h1m-1 1h1m0 2h1m8-6h1m6 3h1m5 3h1m-1-1h1m2 0h1m-1-5h1m-1-1h1m1 6h1m5-3h1m7 1h1m2 2h1m-1 0h1m1-6h1m0 4h1m0-3h1m0 1h1m-1 2h1m1-4h1m-1 3h1m0 4h1m-1 0h1m0-5h1m1 0h1m0 0h1m-1 5h1m0-1h1m1-3h1m0 1h1m0-1h1m-1-1h1m2 1h1m-1-2h1m0 5h1m-1-3h1m-1 2h1m0 2h1m0-6h1m2 5h1m0 0h1m0-6h1m4 7h1m-1-2h1m0 1h1m4-4h1m0-1h1m-1-1h1m-1 5h1m1-1h1m0-4h1m0 0h1m10 3h1m-1 0h1m1-3h1m3 0h1m-106 11h1m8-3h1m1 0h1m-1 4h1m2 0h1m3 1h1m6 0h1m-1-5h1m0 6h1m2-5h1m-1-1h1m1 0h1m-1 7h1m0-3h1m-1 1h1m3-5h1m2 4h1m-1-4h1m0 6h1m1 1h1m0-1h1m-1 1h1m0-7h1m0 4h1m-1-1h1m-1 2h1m0-2h1m1 0h1m1-3h1m1 0h1m-1 4h1m1 3h1m-1-4h1m-1-1h1m0 3h1m1-5h1m-1 6h1m2-5h1m-1 6h1m-1-7h1m1 5h1m1 0h1m-1 0h1m-1-2h1m0 4h1m0-1h1m1-6h1m1 2h1m1 1h1m-1-2h1m-1 3h1m0 3h1m1-5h1m1 1h1m-1-3h1m-1 7h1m1-4h1m-1 3h1m2-3h1m0-3h1m-1 2h1m-1 4h1m2-2h1m-1 3h1m2-7h1m0 3h1m3 1h1m2-4h1m11 3h1m-1-1h1m-134 7h1m8 0h1m5 5h1m3-6h1m2 1h1m1 2h1m-1 2h1m5 0h1m-1-3h1m2 4h1m0-5h1m0 5h1m0-3h1m1-3h1m0 6h1m-1-5h1m1 0h1m0 5h1m1-4h1m-1 3h1m-1-3h1m0 3h1m2 1h1m0-1h1m-1 1h1m1-6h1m0 2h1m-1 1h1m0 2h1m-1-3h1m0 4h1m1-1h1m0-2h1m1 1h1m0 1h1m0-3h1m0 1h1m-1-1h1m1-1h1m0 2h1m0 0h1m-1-2h1m-1 0h1m-1 3h1m0-1h1m-1 2h1m0-5h1m0 7h1m0-5h1m-1 1h1m0-3h1m-1 7h1m2-5h1m0-1h1m-1 2h1m0-1h1m0 5h1m-1-4h1m0 3h1m3-4h1m-1 1h1m0 2h1m-1-3h1m-1 3h1m0-2h1m-1 3h1m0-2h1m0-3h1m0 3h1m-1-4h1m-1 2h1m0 1h1m-1 2h1m5 1h1m1-4h1m0 5h1m1-2h1m3-2h1m1 2h1m2-1h1m10-1h1m2-3h1m-1 4h1m5-4h1m-1 1h1m1 0h1m2 2h1m-143 10h1m5-2h1m3 2h1m1-2h1m1 0h1m7 2h1m2-3h1m0 4h1m-1-5h1m0 1h1m-1 2h1m1-4h1m1 5h1m4 0h1m1-4h1m-1-1h1m-1 7h1m0-5h1m-1 4h1m2-2h1m-1 0h1m0 0h1m-1 0h1m2 3h1m-1-6h1m-1 5h1m-1-2h1m0-4h1m-1 6h1m0-4h1m-1 3h1m1-4h1m0 5h1m-1-2h1m0-1h1m0 2h1m0 0h1m0-1h1m-1-4h1m-1 5h1m3-5h1m-1 1h1m0 5h1m1 1h1m0-4h1m0 3h1m3-3h1m-1-2h1m-1 3h1m-1 0h1m0-3h1m-1 2h1m-1 4h1m0-4h1m-1-2h1m2 0h1m-1-1h1m-1 1h1m0 4h1m0-3h1m-1-2h1m0 5h1m-1 1h1m0-1h1m-1-2h1m0 2h1m-1-1h1m0-2h1m0 4h1m-1-3h1m0 2h1m-1-4h1m-1 3h1m0 2h1m-1-6h1m3 5h1m-1-4h1m-1 1h1m0-2h1m3 7h1m4 0h1m-1-1h1m0-1h1m0 2h1m0-6h1m-1 3h1m4-1h1m0 1h1m2-4h1m0 3h1m-1 1h1m1 3h1m-1-1h1m2 0h1m0-5h1m2 1h1m21 2h1m4 1h1m-178 3h1m27 6h1m8-5h1m3 5h1m0 1h1m0-5h1m1 1h1m0-2h1m0 4h1m0-5h1m3 5h1m-1-2h1m0 0h1m0 0h1m-1 1h1m0 0h1m1 2h1m-1-2h1m0-2h1m-1 4h1m0-6h1m0 3h1m-1 4h1m4-4h1m-1 1h1m0-3h1m-1 1h1m-1 0h1m-1-2h1m0 5h1m-1-1h1m0-4h1m-1 3h1m0 1h1m0 3h1m0 0h1m0-2h1m-1 0h1m0 0h1m-1-1h1m-1 1h1m0-3h1m2 0h1m-1 3h1m0 2h1m-1-3h1m-1-2h1m-1 4h1m0-6h1m0 4h1m1-1h1m0 2h1m0-4h1m-1 5h1m-1 0h1m1-1h1m-1-4h1m-1 0h1m2 4h1m0-4h1m-1 5h1m-1 0h1m-1-3h1m1 4h1m1 0h1m0-5h1m-1 3h1m0-4h1m-1-1h1m0 7h1m-1-2h1m3-3h1m-1-1h1m1 0h1m-1-1h1m0 2h1m0 5h1m0-5h1m0 2h1m0-2h1m2-2h1m-1 1h1m1-1h1m-1 6h1m0-2h1m0-1h1m0-1h1m1 0h1m2 0h1m1-2h1m-1 7h1m2-2h1m0 2h1m1-7h1m4 1h1m2 2h1m-1-1h1m3 4h1m5-1h1m11-1h1m-156 9h1m14-3h1m4 0h1m-1 5h1m3-1h1m0-1h1m2-5h1m0 5h1m1-1h1m1 3h1m0-7h1m-1 4h1m1-4h1m2 6h1m0 1h1m0-3h1m2 3h1m1-1h1m-1-1h1m1 2h1m-1-6h1m-1 2h1m0-1h1m-1 3h1m1 2h1m0-4h1m-1-3h1m-1 7h1m-1-6h1m0 3h1m-1 0h1m1-2h1m-1 2h1m1 2h1m-1-4h1m0-2h1m-1 3h1m0-3h1m-1 3h1m-1-2h1m1 3h1m-1 2h1m0-6h1m3 4h1m0 3h1m-1-5h1m-1 4h1m-1-3h1m0 1h1m-1 0h1m-1 0h1m0-1h1m-1-1h1m1 5h1m-1-3h1m1-2h1m-1 5h1m-1-3h1m0-2h1m-1-1h1m0 4h1m-1-3h1m-1 3h1m0 0h1m-1-2h1m0-2h1m0 0h1m0 0h1m1 5h1m0-2h1m-1-2h1m1 3h1m-1-4h1m-1 1h1m-1 0h1m1 2h1m0 3h1m1-2h1m0-3h1m0-2h1m0 2h1m0-2h1m-1 3h1m0-3h1m0 3h1m0 1h1m-1 3h1m0-3h1m0 2h1m-1-2h1m-1-3h1m0 4h1m-1-2h1m1 4h1m0-3h1m-1 0h1m2 2h1m0-3h1m0-1h1m0 1h1m-1 2h1m1 0h1m-1-4h1m0 5h1m0-6h1m0 7h1m1-2h1m-1-2h1m7-2h1m2 5h1m7-5h1m-1 5h1m0-4h1m4 2h1m-1-3h1m5 4h1m13 0h1m-164 5h1m4 4h1m0 0h1m1-2h1m1 0h1m3 0h1m2-2h1m0 1h1m-1 0h1m1 3h1m2 1h1m-1-2h1m0-3h1m0 1h1m3 3h1m4-6h1m0 2h1m0 2h1m-1-1h1m1 4h1m0-4h1m-1 4h1m0-3h1m-1 2h1m0-4h1m-1 5h1m1-2h1m-1-3h1m0 5h1m0-1h1m-1-6h1m-1 5h1m-1 2h1m0-2h1m-1-3h1m0 4h1m0-2h1m-1 3h1m0-6h1m-1 2h1m0-3h1m-1 6h1m-1 1h1m0-3h1m-1-4h1m0 4h1m0 2h1m-1-2h1m-1-1h1m0-1h1m-1 0h1m1 0h1m-1 3h1m-1 1h1m0-3h1m0 3h1m-1-3h1m0 2h1m-1 0h1m-1-3h1m1 1h1m-1 1h1m-1-3h1m0 6h1m-1 0h1m0-4h1m0 2h1m-1-3h1m0 2h1m-1 0h1m0 0h1m0 2h1m-1-3h1m-1 4h1m0 0h1m-1-2h1m-1-2h1m-1 0h1m1 2h1m-1 2h1m0-7h1m-1 3h1m0-2h1m-1 1h1m-1 2h1m0 3h1m-1-5h1m0 4h1m0-2h1m-1 2h1m-1-4h1m0 5h1m-1-3h1m0-2h1m-1-2h1m-1 6h1m0-3h1m-1-2h1m-1-1h1m0 4h1m0-3h1m0-1h1m-1 6h1m0-5h1m0 0h1m-1 5h1m0-3h1m-1 2h1m-1 0h1m0-2h1m0 2h1m-1 2h1m-1-6h1m0-1h1m-1 3h1m0-1h1m-1-2h1m0 3h1m0-2h1m1 4h1m-1 2h1m-1-6h1m1-1h1m-1 7h1m-1-5h1m0 2h1m0 3h1m0-6h1m3 3h1m0-2h1m0 4h1m2 1h1m1-5h1m1-2h1m-1 1h1m0 2h1m1 2h1m8-5h1m2 0h1m0 0h1m18 0h1m-138 14h1m0-2h1m0 0h1m2-1h1m1 3h1m0 1h1m-1-5h1m-1 2h1m1 2h1m0 0h1m0-4h1m0 3h1m-1 1h1m0 0h1m0-1h1m2-2h1m1-3h1m1 6h1m-1-1h1m0-2h1m0-2h1m0-1h1m-1 5h1m0 1h1m0 1h1m0-1h1m1-3h1m-1 1h1m0 0h1m-1 3h1m-1 0h1m1-4h1m1 2h1m0-4h1m0 6h1m0-4h1m0 0h1m-1 0h1m-1 1h1m0-4h1m-1 1h1m-1 6h1m-1-4h1m1-1h1m0 3h1m0-3h1m-1-2h1m-1 5h1m-1 1h1m-1 0h1m0 0h1m0-4h1m0 0h1m0 3h1m0 1h1m0-4h1m0-2h1m0 5h1m-1 0h1m-1-4h1m0 1h1m-1 4h1m-1-5h1m0 6h1m0-1h1m-1-5h1m-1 3h1m0-4h1m-1 5h1m0-5h1m0 2h1m-1 1h1m-1 0h1m0 4h1m-1-5h1m0 4h1m-1-5h1m0 1h1m-1 5h1m0-2h1m-1 0h1m-1-2h1m-1 2h1m1-3h1m0 0h1m0 3h1m0-2h1m-1 3h1m0-6h1m2 4h1m-1-1h1m-1-3h1m-1 0h1m0 0h1m-1 4h1m-1-3h1m0 4h1m-1-2h1m-1-1h1m0-1h1m0-1h1m1 1h1m0 3h1m-1-3h1m-1 2h1m0-1h1m-1 0h1m0 1h1m0 1h1m0-2h1m1-1h1m-1 6h1m0-5h1m0 0h1m-1 2h1m0 0h1m-1 1h1m-1 0h1m-1 1h1m0-6h1m1 6h1m2 0h1m1 1h1m0-7h1m-1 1h1m-1-1h1m0 3h1m0 4h1m-1-2h1m3 0h1m1 2h1m1-4h1m1-2h1m17 5h1m1-3h1m6-2h1m7 4h1m-169 9h1m7 0h1m-1-2h1m4 1h1m-1-3h1m1-1h1m-1 1h1m0 0h1m3 3h1m-1-1h1m1-2h1m0 4h1m-1-3h1m0-3h1m-1 4h1m1-3h1m1 6h1m1-2h1m0-3h1m2 0h1m0 2h1m0 2h1m-1-6h1m0 2h1m0-2h1m1 7h1m-1-6h1m-1 6h1m-1-2h1m0 0h1m0 2h1m-1-4h1m-1-1h1m-1 4h1m2 0h1m0-4h1m0-1h1m-1 3h1m1 1h1m0-3h1m0 1h1m-1-2h1m0 2h1m-1 2h1m-1-2h1m1-3h1m0 6h1m-1-4h1m-1-1h1m-1-1h1m0 5h1m-1 2h1m0-4h1m0 2h1m-1 2h1m-1-7h1m0 4h1m-1 0h1m-1-1h1m-1 4h1m-1-2h1m1-2h1m-1 0h1m0-2h1m0 1h1m-1 2h1m0 0h1m-1-3h1m-1 2h1m1 1h1m-1-1h1m0 1h1m-1-3h1m-1 4h1m0-4h1m-1 1h1m1 4h1m0-2h1m-1-2h1m-1 3h1m0 2h1m-1-7h1m0 4h1m-1-2h1m-1 3h1m0-2h1m-1-2h1m-1 1h1m0-2h1m0 4h1m-1-3h1m0 2h1m0-1h1m-1 2h1m-1-1h1m-1 0h1m-1-1h1m-1 3h1m0-3h1m0 0h1m-1 5h1m-1-6h1m0 2h1m0-3h1m-1 2h1m-1-2h1m-1 3h1m0-2h1m0 0h1m-1-1h1m0 5h1m0 0h1m0 0h1m0-4h1m0 6h1m0 0h1m0-5h1m0 1h1m0-3h1m0 6h1m0-4h1m0 1h1m2 1h1m0-1h1m1 4h1m0-5h1m1 0h1m-1 1h1m2 1h1m0 1h1m-1 0h1m1-3h1m-1 4h1m2-1h1m1 1h1m0-4h1m3 4h1m-1-5h1m14 5h1m2-1h1m3 2h1m-1-3h1m0-3h1m-1 4h1m0-1h1m-1 3h1m8-1h1m5-6h1m0 6h1m3-3h1m6-3h1m0 3h1m-175 9h1m0 0h1m-1 0h1m8 0h1m2-3h1m0 6h1m2-1h1m1-4h1m-1 2h1m0-3h1m-1 0h1m0 0h1m1 1h1m0 3h1m0-5h1m3 7h1m-1-3h1m-1-1h1m0-2h1m-1 0h1m-1 2h1m0-1h1m0-2h1m-1 6h1m-1-3h1m1 4h1m-1 0h1m0-5h1m-1-1h1m-1 2h1m0 0h1m0 4h1m0-6h1m0 4h1m0-4h1m0 3h1m-1-2h1m-1-2h1m0 7h1m0-5h1m0 3h1m-1 2h1m0-4h1m0-2h1m-1 6h1m-1 0h1m-1-7h1m-1 5h1m0-3h1m-1 3h1m-1 1h1m1-2h1m-1-3h1m-1-1h1m0 7h1m-1-6h1m-1 5h1m3-3h1m-1 2h1m0-5h1m-1 2h1m-1 4h1m0-4h1m-1-2h1m0 2h1m-1 4h1m-1-6h1m0 1h1m-1 5h1m-1-1h1m0-5h1m-1 5h1m0 0h1m-1 0h1m-1 1h1m-1-1h1m-1-4h1m0 6h1m0-7h1m0 1h1m-1 3h1m-1 2h1m-1-6h1m-1 1h1m0 2h1m-1 2h1m-1 0h1m-1 0h1m0-5h1m-1 1h1m-1-1h1m0 2h1m-1-2h1m0 6h1m0-3h1m0 1h1m1-4h1m-1 1h1m0 1h1m-1-1h1m-1 6h1m-1-3h1m0-2h1m-1-2h1m-1 3h1m0 3h1m0-2h1m-1 1h1m1-3h1m0 2h1m0-4h1m0 6h1m-1-2h1m1-4h1m-1 5h1m0 0h1m1 2h1m-1 0h1m1-6h1m0 6h1m-1-5h1m0 4h1m-1-6h1m-1 1h1m0 3h1m0-3h1m-1 3h1m0-3h1m0 3h1m1 0h1m0-3h1m-1 5h1m0 0h1m1-4h1m2 1h1m1-2h1m1-1h1m-1 4h1m1 2h1m-1 1h1m1-4h1m4-2h1m0-1h1m2 0h1m-1 0h1m0 6h1m0-3h1m-1 0h1m2 1h1m2 2h1m0-1h1m1-2h1m4-2h1m0 1h1m0 2h1m1-1h1m0 1h1m-1-2h1m0 5h1m1-6h1m0 4h1m0 0h1m-1 1h1m0-3h1m3-1h1m5 4h1m11 1h1m-168 4h1m-1-3h1m-1 5h1m3-4h1m0 4h1m-1 1h1m-1-3h1m1-2h1m1-1h1m2 5h1m-1-5h1m0 4h1m1 0h1m-1 1h1m0 2h1m0-7h1m0 7h1m0-2h1m-1 2h1m1-6h1m0 6h1m-1-4h1m0-3h1m-1 2h1m-1-1h1m0 4h1m0-4h1m0 2h1m-1-1h1m-1-1h1m-1 3h1m0 1h1m1-2h1m0 0h1m-1 3h1m0-4h1m0 5h1m-1 0h1m0-6h1m-1 3h1m-1 3h1m0-3h1m-1-2h1m-1 1h1m0 0h1m-1 2h1m0 0h1m1-3h1m0-1h1m-1 5h1m-1-4h1m-1-1h1m0 3h1m-1 3h1m-1-6h1m0 1h1m-1 3h1m0-2h1m0-2h1m-1-1h1m-1 2h1m-1-1h1m-1 1h1m0 3h1m-1-5h1m0 2h1m-1 3h1m-1-5h1m-1 5h1m-1-1h1m0 2h1m-1-5h1m0 1h1m-1 0h1m-1-2h1m-1 3h1m1-3h1m-1 6h1m0-6h1m-1 3h1m-1 3h1m0-3h1m-1 2h1m0 0h1m1 2h1m-1-5h1m0 3h1m-1-3h1m-1-2h1m-1 1h1m0 3h1m-1-1h1m-1-2h1m0-1h1m-1 7h1m-1-6h1m0 0h1m-1 4h1m-1 1h1m-1 0h1m0-3h1m-1 2h1m-1-4h1m-1 3h1m0 2h1m-1-6h1m0 1h1m-1 0h1m0-1h1m-1 2h1m0-2h1m-1 3h1m0 4h1m-1-3h1m-1-3h1m0 6h1m0 0h1m-1 0h1m0-4h1m-1-3h1m0 0h1m-1 0h1m0 0h1m-1 0h1m-1 0h1m0 7h1m-1-1h1m0 0h1m-1-3h1m-1 4h1m2 0h1m0-1h1m0-3h1m5 3h1m0 1h1m-1-7h1m-1 1h1m0 0h1m-1 4h1m-1-3h1m0 1h1m-1-3h1m-1 2h1m-1-2h1m-1 1h1m0 6h1m-1-6h1m0 2h1m0 3h1m-1-6h1m0 1h1m2 3h1m-1 0h1m1-2h1m4 2h1m-1-1h1m0-3h1m-1 3h1m0 4h1m0-4h1m1 3h1m0-2h1m2 2h1m3-6h1m0 6h1m-1-2h1m2-1h1m-1-3h1m1 6h1m-1 0h1m0-4h1m0 3h1m1 2h1m0 0h1m2 0h1m6-7h1m0 7h1m0-5h1m0-2h1m-1 6h1m2-5h1m0 1h1m1 3h1m-1-1h1m1 3h1m0-5h1m3 1h1m0-3h1m0 1h1m0 0h1m1 3h1m1 0h1m-1-2h1m1-2h1m0 4h1m-1-4h1m3 0h1m1 7h1m0-6h1m0 0h1m9 4h1m-179 6h1m-1 3h1m0-1h1m-1-5h1m0 1h1m0 3h1m-1-4h1m0 4h1m-1-1h1m2 4h1m-1-1h1m-1-2h1m0-1h1m-1 2h1m0 1h1m0-6h1m1 6h1m-1-3h1m0 3h1m0-3h1m0 1h1m-1 3h1m0-3h1m-1 1h1m2-5h1m-1 6h1m-1-6h1m1 0h1m0 5h1m0-3h1m0 0h1m-1 2h1m0 2h1m0-4h1m0 4h1m-1-1h1m-1-4h1m0 2h1m-1-1h1m-1 0h1m-1 5h1m-1 0h1m-1-4h1m-1 1h1m0 1h1m0-4h1m-1 4h1m-1 1h1m0-1h1m-1 1h1m0-3h1m-1 2h1m0-2h1m-1 1h1m0-2h1m-1 1h1m-1-3h1m1 4h1m-1 3h1m-1-2h1m0-4h1m0-1h1m0 6h1m-1-4h1m-1 1h1m0 3h1m-1-2h1m0-1h1m0 1h1m-1 3h1m-1-2h1m-1-3h1m-1-2h1m0 4h1m-1-4h1m-1 0h1m-1 7h1m0 0h1m0-1h1m-1-1h1m0 0h1m-1 1h1m-1-6h1m0 4h1m-1 2h1m2-5h1m0 6h1m0-6h1m-1 1h1m0 0h1m-1 1h1m0 3h1m-1 0h1m-1-5h1m-1 5h1m1-3h1m-1-3h1m0 2h1m0 3h1m-1-2h1m-1-2h1m-1 4h1m0 0h1m-1 0h1m0-2h1m0 1h1m-1-2h1m0-1h1m-1 4h1m1-1h1m1 1h1m-1 1h1m-1-2h1m0-4h1m-1 6h1m0-6h1m1 7h1m-1-7h1m1 3h1m-1-3h1m0 7h1m-1-1h1m0 1h1m-1-5h1m-1-1h1m1 6h1m-1 0h1m0-7h1m-1 2h1m-1 4h1m0-5h1m0 3h1m0-4h1m-1 1h1m-1 4h1m0-3h1m0-1h1m-1 3h1m-1 0h1m0 0h1m-1-1h1m-1-1h1m0 2h1m1 0h1m-1 2h1m0-2h1m0 2h1m0-5h1m0 6h1m0-3h1m-1 1h1m1-2h1m0-1h1m0 4h1m0 0h1m-1-6h1m1 6h1m-1-2h1m-1 3h1m0-4h1m0 1h1m-1 3h1m0-7h1m-1 1h1m-1 6h1m-1-2h1m-1 0h1m0-5h1m1 5h1m0-4h1m0 5h1m-1-2h1m2 0h1m0 3h1m1-5h1m-1 0h1m0 4h1m-1-4h1m2 2h1m3 3h1m1 0h1m0-5h1m0-2h1m0 3h1m-1 0h1m1-1h1m-1-1h1m0 4h1m0-5h1m-1 1h1m1 1h1m-1 5h1m0-4h1m1 3h1m-1 0h1m-1-5h1m1 6h1m0-6h1m0 2h1m1-2h1m0-1h1m0 0h1m2 4h1m0-4h1m3 6h1m0-6h1m-1 7h1m-1-4h1m-1 3h1m-1-3h1m0 2h1m-1-2h1m-1-2h1m2 2h1m2 0h1m0-1h1m0 0h1m7-1h1m-1 2h1m3-3h1m0 0h1m-1 7h1m-173 7h1m0-5h1m0 2h1m-1 2h1m0-2h1m3-3h1m-1 2h1m-1 5h1m0-7h1m-1 3h1m-1 2h1m0 2h1m-1-1h1m-1-4h1m0 3h1m0 1h1m-1-6h1m-1 1h1m-1 6h1m-1-3h1m0-2h1m-1 1h1m0 3h1m-1-2h1m-1-2h1m-1 2h1m0 1h1m-1 1h1m-1 0h1m0-1h1m-1-1h1m-1-4h1m0 5h1m0 2h1m-1-2h1m1-4h1m-1 2h1m-1-1h1m-1-2h1m-1 2h1m0 2h1m0-2h1m-1 1h1m-1 3h1m1 1h1m-1-6h1m-1 2h1m-1-3h1m0 1h1m0 6h1m-1-6h1m-1-1h1m-1 6h1m-1-4h1m-1 2h1m0-1h1m0 0h1m0 0h1m-1 3h1m-1-5h1m-1 2h1m-1 1h1m-1 2h1m0-3h1m0 3h1m1-1h1m-1-1h1m-1 3h1m-1-5h1m-1 3h1m-1-5h1m-1 0h1m-1 3h1m-1 4h1m1-2h1m-1-4h1m0 4h1m0-2h1m0 1h1m0 0h1m1-4h1m-1 5h1m-1-5h1m0 4h1m-1-1h1m1 3h1m-1 0h1m-1 1h1m0 0h1m1-1h1m-1-5h1m0 4h1m0 2h1m-1-4h1m0 4h1m-1 0h1m0-7h1m-1 3h1m0-1h1m-1-1h1m0 3h1m0-1h1m0-3h1m-1 6h1m0-4h1m-1 2h1m1-3h1m0 0h1m0 1h1m-1-1h1m2 3h1m-1 1h1m0 1h1m-1-3h1m0 3h1m-1-5h1m-1 5h1m0-4h1m-1-1h1m1 6h1m0-6h1m0 4h1m0-4h1m0-1h1m-1 2h1m0 3h1m-1 1h1m-1-5h1m-1 6h1m-1-6h1m1 0h1m-1 3h1m-1 0h1m-1-1h1m0-3h1m0 3h1m-1-3h1m0 0h1m1 5h1m-1-2h1m0-1h1m-1-1h1m-1 0h1m0 6h1m-1-3h1m-1 1h1m4-3h1m-1-2h1m0 5h1m1-4h1m1 0h1m0 0h1m2 6h1m0-3h1m2 3h1m-1-1h1m-1-3h1m0-1h1m1 2h1m1 3h1m-1 0h1m0-7h1m1 0h1m-1 7h1m-1-7h1m1 2h1m-1 3h1m1-4h1m1-1h1m-1 1h1m0 4h1m0-2h1m1 4h1m-1-3h1m0 3h1m-1-7h1m-1 4h1m1-1h1m0 1h1m2 2h1m0-2h1m-1-2h1m0-2h1m-1 4h1m1-2h1m2 2h1m2-3h1m0-1h1m1 5h1m0-4h1m0 1h1m2 0h1m6 3h1m1-4h1m2 3h1m0 0h1m5 2h1m-163 9h1m0-6h1m-1 6h1m0-2h1m2 2h1m-1-7h1m-1 1h1m0-1h1m0 2h1m0 0h1m1 2h1m0-3h1m-1 3h1m0-1h1m-1 1h1m-1-1h1m0 1h1m-1-2h1m-1 4h1m-1-5h1m1-1h1m0 1h1m-1 0h1m0 3h1m-1 1h1m-1-5h1m0 7h1m-1-2h1m0-4h1m1 5h1m-1-2h1m-1 2h1m0-6h1m-1 5h1m-1-5h1m-1 3h1m0 0h1m-1 0h1m-1-1h1m1 4h1m0-5h1m0-1h1m-1 2h1m-1 4h1m0-5h1m0-1h1m-1 1h1m-1 6h1m0-4h1m-1 0h1m0 2h1m-1-5h1m-1 0h1m0 5h1m-1-1h1m0-1h1m-1-1h1m0 2h1m0-4h1m-1 1h1m-1 3h1m-1-2h1m-1 0h1m0-2h1m0 2h1m-1 1h1m-1 0h1m0-1h1m-1 2h1m-1 1h1m-1 0h1m-1-5h1m0 1h1m0 4h1m-1-3h1m0 5h1m0-4h1m0 3h1m-1 1h1m-1-2h1m0 0h1m-1-4h1m0 0h1m-1 3h1m-1-4h1m0 4h1m-1-1h1m-1 2h1m-1-3h1m0-2h1m-1 6h1m-1-1h1m-1-5h1m0 2h1m1 3h1m-1-4h1m1 4h1m-1-3h1m0 1h1m-1-3h1m-1 3h1m0 2h1m0-4h1m-1 1h1m-1 3h1m3-4h1m-1 1h1m0 4h1m-1-6h1m1 5h1m-1-4h1m0-1h1m-1 1h1m-1 4h1m0-2h1m-1 3h1m-1-4h1m1 0h1m-1 5h1m-1-6h1m-1-1h1m1 7h1m0-6h1m0 0h1m1-1h1m-1 6h1m-1-1h1m-1-1h1m0 3h1m-1-2h1m0-4h1m1 1h1m-1 5h1m-1-7h1m-1 6h1m0-4h1m2 2h1m0-2h1m-1-2h1m0 1h1m2 2h1m-1-3h1m0 0h1m-1 5h1m-1 1h1m0-5h1m-1 0h1m0 5h1m0-2h1m0-2h1m0 4h1m0 0h1m0-6h1m-1 7h1m1-7h1m1 4h1m2 2h1m0 1h1m0 0h1m-1-5h1m0 4h1m-1-6h1m5 1h1m-1 2h1m0 4h1m2-7h1m1 5h1m4 2h1m1-4h1m14 2h1m8-2h1m3 3h1m3-6h1m5 0h1m-161 12h1m-1 0h1m0-2h1m0 0h1m2 1h1m-1 0h1m2 4h1m1-2h1m-1-4h1m-1-1h1m0 6h1m1 0h1m0-6h1m0 7h1m0-1h1m-1-2h1m0-4h1m-1 4h1m-1-3h1m0 2h1m0-3h1m0 1h1m0 1h1m1-1h1m0 4h1m-1-2h1m1 3h1m0-1h1m0-5h1m-1 5h1m-1-1h1m0 2h1m-1-1h1m0 1h1m-1-3h1m2 1h1m-1-2h1m0 5h1m-1-2h1m0-1h1m0 0h1m-1 1h1m-1-2h1m0-3h1m-1 1h1m-1 4h1m-1-4h1m-1 2h1m-1-2h1m0 4h1m-1-1h1m0 3h1m0 0h1m-1-1h1m1-4h1m-1 4h1m0-2h1m-1-1h1m0 1h1m-1 3h1m2-6h1m-1 4h1m0-2h1m-1 1h1m-1 1h1m1 0h1m0-1h1m0-4h1m1 3h1m1-2h1m0-1h1m-1 0h1m0 7h1m-1-4h1m5-2h1m1 2h1m-1-2h1m0 0h1m1 4h1m1-1h1m0-2h1m1-2h1m-1 3h1m0-1h1m0-1h1m1 0h1m-1 2h1m-1 0h1m0 0h1m0 4h1m-1-7h1m0 4h1m1 2h1m-1-1h1m-1 0h1m2-3h1m-1 1h1m-1 2h1m9-3h1m3-1h1m0 2h1m1 4h1m11-6h1m3-1h1m3 3h1m7 3h1m11-4h1m1-1h1m13-1h1m-159 14h1m9-5h1m3 4h1m-1 2h1m4-4h1m-1-3h1m0 3h1m-1-2h1m2 3h1m3-1h1m-1 2h1m-1-1h1m1-1h1m-1 1h1m-1 2h1m2-5h1m1 0h1m-1 0h1m0 5h1m-1 1h1m1-5h1m-1 0h1m0 4h1m-1-3h1m0 0h1m-1-3h1m-1 1h1m-1 0h1m1 0h1m1 1h1m-1 0h1m-1 1h1m0 4h1m2-7h1m1 0h1m-1 5h1m1-2h1m-1 2h1m0-4h1m0 4h1m-1 1h1m0-5h1m1 5h1m2-2h1m1 0h1m4 2h1m-1 0h1m3-1h1m8 0h1m0-5h1m12 2h1m1 4h1m3-3h1m0 2h1m1-5h1m31 5h1" fill="none" stroke="#000" stroke-width="5" stroke-linecap="square" stroke-opacity="0.55"/>
<line x1="265.60" y1="280.00" x2="265.60" y2="341.50" stroke="#999" stroke-width="0.6" />
<line x1="265.60" y1="341.50" x2="331.40" y2="341.50" stroke="#999" stroke-width="0.6" />
<line x1="264.20" y1="341.00" x2="265.60" y2="341.00" stroke="#999" stroke-width="0.5" />
<line x1="266.40" y1="341.50" x2="266.40" y2="342.90" stroke="#999" stroke-width="0.5" />
<line x1="264.20" y1="325.75" x2="265.60" y2="325.75" stroke="#999" stroke-width="0.5" />
<line x1="282.65" y1="341.50" x2="282.65" y2="342.90" stroke="#999" stroke-width="0.5" />
<line x1="264.20" y1="310.50" x2="265.60" y2="310.50" stroke="#999" stroke-width="0.5" />
<line x1="298.90" y1="341.50" x2="298.90" y2="342.90" stroke="#999" stroke-width="0.5" />
<line x1="264.20" y1="295.25" x2="265.60" y2="295.25" stroke="#999" stroke-width="0.5" />
<line x1="315.15" y1="341.50" x2="315.15" y2="342.90" stroke="#999" stroke-width="0.5" />
<line x1="264.20" y1="280.00" x2="265.60" y2="280.00" stroke="#999" stroke-width="0.5" />
<line x1="331.40" y1="341.50" x2="331.40" y2="342.90" stroke="#999" stroke-width="0.5" />
<rect x="266.40" y="280.00" width="22.00" height="26.50" fill="none" stroke="#8ab048" stroke-width="1.3"/>
<rect x="288.40" y="280.00" width="43.00" height="26.50" fill="none" stroke="#c4504c" stroke-width="1.3"/>
<rect x="288.40" y="306.50" width="43.00" height="34.50" fill="none" stroke="#4a88cc" stroke-width="1.3"/>
<text x="293.50" y="275.85" font-size="7.5" font-weight="bold" text-anchor="middle" fill="#000"  stroke="#000" stroke-width="0.18">0</text>
<text x="295.90" y="279.00" font-size="2.6" fill="#888" text-anchor="middle">Data.017</text>
<text x="295.90" y="346.50" font-size="2.6" fill="#888" text-anchor="middle">FL1-H</text>
<text x="263.20" y="341.80" font-size="2.4" fill="#999" text-anchor="end">1</text>
<text x="266.40" y="344.60" font-size="2.4" fill="#999" text-anchor="middle">1</text>
<text x="263.20" y="326.55" font-size="2.4" fill="#999" text-anchor="end">1</text>
<text x="282.65" y="344.60" font-size="2.4" fill="#999" text-anchor="middle">1</text>
<text x="263.20" y="311.30" font-size="2.4" fill="#999" text-anchor="end">1</text>
<text x="298.90" y="344.60" font-size="2.4" fill="#999" text-anchor="middle">1</text>
<text x="263.20" y="296.05" font-size="2.4" fill="#999" text-anchor="end">1</text>
<text x="315.15" y="344.60" font-size="2.4" fill="#999" text-anchor="middle">1</text>
<text x="263.20" y="280.80" font-size="2.4" fill="#999" text-anchor="end">1</text>
<text x="331.40" y="344.60" font-size="2.4" fill="#999" text-anchor="middle">1</text>
<text x="272.20" y="286.80" font-size="5.95" font-weight="bold" text-anchor="start" fill="#f01818" stroke="#f01818" stroke-width="0.42">0.33</text>
<text x="272.20" y="293.80" font-size="5.95" font-weight="bold" text-anchor="start" fill="#f01818" stroke="#f01818" stroke-width="0.42">±</text>
<text x="276.40" y="293.80" font-size="5.95" font-weight="bold" text-anchor="start" fill="#f01818" stroke="#f01818" stroke-width="0.42">0.12</text>
<text x="313.20" y="286.80" font-size="5.95" font-weight="bold" text-anchor="start" fill="#f01818" stroke="#f01818" stroke-width="0.42">1.85</text>
<text x="313.20" y="293.80" font-size="5.95" font-weight="bold" text-anchor="start" fill="#f01818" stroke="#f01818" stroke-width="0.42">±</text>
<text x="317.40" y="293.80" font-size="5.95" font-weight="bold" text-anchor="start" fill="#f01818" stroke="#f01818" stroke-width="0.42">0.26</text>
<text x="313.20" y="332.60" font-size="5.95" font-weight="bold" text-anchor="start" fill="#f01818" stroke="#f01818" stroke-width="0.42">1.65</text>
<text x="313.20" y="339.60" font-size="5.95" font-weight="bold" text-anchor="start" fill="#f01818" stroke="#f01818" stroke-width="0.42">±</text>
<text x="317.40" y="339.60" font-size="5.95" font-weight="bold" text-anchor="start" fill="#f01818" stroke="#f01818" stroke-width="0.42">0.25</text>
<path transform="scale(0.1)" d="M3954 2905h1m-148 14h1m11 11h1m23 7h1m-117 13h1m58-3h1m5-2h1m23 0h1m33 5h1m7 0h1m9-3h1m-53 12h1m21-2h1m11-4h1m5 2h1m4 0h1m18 4h1m5-3h1m-154 8h1m75 0h1m23 3h1m84 0h1m-233 6h1m36 2h1m1 0h1m15-3h1m1 3h1m1-4h1m34-3h1m1 5h1m22 2h1m12-1h1m-158 4h1m25 0h1m29 0h1m20-2h1m8 4h1m6 3h1m0-3h1m9-2h1m66 1h1m3 0h1m16 0h1m-230 11h1m25-6h1m6 7h1m9-7h1m20 7h1m-1-5h1m28 0h1m24-2h1m15 4h1m5-4h1m-1 6h1m0-2h1m5 1h1m2-1h1m9-4h1m0 1h1m51 4h1m-90 5h1m23-2h1m5 0h1m0 7h1m12-4h1m14-3h1m2 7h1m-191 3h1m12 4h1m17-5h1m2 2h1m33-2h1m5 1h1m22 2h1m1-1h1m16-1h1m22 4h1m19 0h1m9-1h1m-1-4h1m0 4h1m8 0h1m11 0h1m12-3h1m69-1h1m-229 8h1m-1-1h1m2 0h1m10 0h1m14 1h1m3 6h1m3-2h1m9-3h1m5 3h1m26 2h1m5-5h1m4 1h1m1 1h1m9 2h1m55-4h1m-242 13h1m7-5h1m60 4h1m35 1h1m15-1h1m29 0h1m38 0h1m0 0h1m39 1h1m-236 7h1m27 1h1m0-5h1m17 1h1m38 3h1m8-2h1m5-4h1m2 3h1m14 4h1m1-6h1m1 5h1m8-3h1m3 2h1m1-3h1m4-1h1m14 2h1m4 3h1m12 0h1m2-4h1m31 3h1m-223 8h1m22-2h1m62 4h1m80-7h1m-162 9h1m25 3h1m12 1h1m29 1h1m46-4h1m8 5h1m14-4h1m3 1h1m18 0h1m44-3h1m3 0h1m-230 11h1m17 1h1m57 0h1m12-1h1m17-4h1m0 0h1m25 7h1m6-2h1m2-1h1m43-1h1m28 0h1m-207 9h1m14 0h1m28 2h1m22-6h1m47 1h1m-89 13h1m15 0h1m4-4h1m56 1h1m10 4h1m34-1h1m-43 5h1m19 3h1m-96 5h1m-148 7h1m169 0h1m-69 8h1m-14 6h1m60 9h1m-80 13h1m80 0h1m-17 12h1m-189 13h1m15-4h1m38 4h1m106-2h1m-164 31h1m120 1h1m70 1h1m-124 9h1m30-6h1m45 5h1m19 1h1m1-2h1m-76 7h1m8 3h1m29-5h1m-100 10h1m52-4h1m3 5h1m25-1h1m64-1h1m-84 11h1m5-3h1m32 0h1m9-2h1m6 1h1m3 1h1m-107 12h1m50-5h1m16 2h1m37 3h1m-160 2h1m17 1h1m23 3h1m6-4h1m8-1h1m34 3h1m9 1h1m11 3h1m7-1h1m16-4h1m-98 11h1m10-3h1m24-2h1m6 2h1m7-1h1m10 6h1m20-7h1m2 6h1m29-2h1m20 2h1m3-1h1m-131 3h1m14 5h1m25-5h1m0 1h1m18 6h1m31-1h1m4-4h1m0 1h1m6-1h1m20-2h1m30 7h1m-154 5h1m4-3h1m25 5h1m7-6h1m2 7h1m2 0h1m6-6h1m6 6h1m0-2h1m5-3h1m3-1h1m3-1h1m1 2h1m-1 3h1m8-4h1m5 6h1m67 0h1m-221 2h1m23 0h1m32-1h1m10 3h1m2 0h1m6 0h1m53-2h1m-94 7h1m9 5h1m27-3h1m4-2h1m6 0h1m0 0h1m6 3h1m3-1h1m10 5h1m-1-2h1m6-1h1m0-2h1m12-2h1m2 3h1m1 1h1m1-3h1m15 6h1m6 0h1m21-7h1m10 7h1m6-5h1m-206 9h1m24 3h1m4 1h1m34-4h1m0 0h1m4-2h1m4-1h1m7 4h1m-1 0h1m12-3h1m19 5h1m1 0h1m4-4h1m4-1h1m1 0h1m1 0h1m19 1h1m-1 1h1m12-2h1m5 0h1m3-1h1m5 6h1m-177 9h1m2 0h1m25-7h1m0 7h1m3-6h1m2 1h1m12 2h1m33-1h1m8 0h1m6-2h1m3 5h1m5-5h1m5-1h1m7 0h1m5 2h1m28 4h1m11 1h1m12-5h1m-156 13h1m1-4h1m8-2h1m4 0h1m5 2h1m0-3h1m4 3h1m5 1h1m2 0h1m10-3h1m1 3h1m2-1h1m5 2h1m-1-1h1m8 2h1m28 1h1m0-3h1m17 1h1m12 0h1m4 1h1m11 0h1m-161 6h1m3 3h1m28-1h1m32 1h1m-1 0h1m1 0h1m6-2h1m4-4h1m1 1h1m5 3h1m5-1h1m20 3h1m29-5h1m31 3h1m10-3h1m-209 8h1m3 5h1m26-5h1m0 4h1m14 1h1m9-1h1m13-4h1m3 4h1m6-1h1m-1 2h1m3 0h1m18 0h1m1-1h1m14-4h1m4-1h1m5 5h1m0-4h1m5 4h1m5 1h1m-111 3h1m6 2h1m8-3h1m0 0h1m0 0h1m9 4h1m10-1h1m2-2h1m2 3h1m11-4h1m26 5h1m8 1h1m11-1h1m79-2h1m-202 10h1m6-2h1m2 3h1m34 0h1m8 0h1m4-4h1m11 1h1m1-2h1m19 1h1m0 0h1m10-2h1m8 2h1m28 1h1m13-4h1m-1 4h1m20 0h1m-172 10h1m12 0h1m14-2h1m0 0h1m0 3h1m17-6h1m4 6h1m-1-5h1m1 3h1m11 0h1m8-5h1m11 5h1m-1-1h1m1 2h1m23-4h1m-1 4h1m24-6h1m-142 11h1m0 4h1m18-7h1m33 1h1m10 1h1m38 4h1m63-4h1m-194 12h1m31-6h1m14 2h1m5 0h1m3 0h1m0-1h1m4 6h1m13-7h1m1 7h1m4-7h1m28 1h1m8 0h1m45 4h1m10-5h1m-146 11h1m6 3h1m4-5h1m49 1h1m7-2h1m10 7h1m25-6h1m-99 9h1m53-2h1m1 6h1m43-5h1m-81 7h1m89 4h1m10-2h1m-159 13h1m21-7h1m40 4h1m8-4h1m23 7h1m3-6h1m4 5h1m-100 3h1m46 5h1m2-4h1m16 0h1m12 3h1m81-2h1m27 12h1m-96 4h1" fill="none" stroke="#000" stroke-width="5" stroke-linecap="square" stroke-opacity="0.3"/>
<path transform="scale(0.1)" d="M3787 3040h1m17 12h1m21 3h1m0-4h1m-86 8h1m62 2h1m-48 10h1m26-4h1m1-3h1m20 0h1m8 3h1m2-2h1m16 1h1m-113 9h1m33 1h1m0-2h1m31-2h1m5 2h1m10 4h1m2 0h1m1 1h1m7-1h1m8-2h1m-1-1h1m7 1h1m-87 6h1m23 3h1m0-1h1m1 1h1m9-2h1m1-3h1m19 4h1m-1-4h1m8 2h1m-80 9h1m-1-3h1m16 6h1m2-6h1m22 5h1m0 0h1m8-2h1m0 3h1m70-2h1m-153 8h1m12 2h1m1-1h1m2 1h1m23 0h1m2 0h1m9-6h1m8 6h1m2-1h1m1-2h1m2 0h1m1 3h1m46-4h1m-182 13h1m79-7h1m4 3h1m16 4h1m12-4h1m2 2h1m15-1h1m6-2h1m21 0h1m0 4h1m-141 7h1m48-3h1m0-2h1m4 5h1m2 0h1m1 0h1m0 0h1m5-3h1m1-2h1m9 4h1m30 2h1m20-6h1m-159 8h1m3 1h1m12 3h1m25 3h1m4-5h1m0 1h1m14 4h1m6-1h1m13-5h1m6 0h1m13 1h1m-1 3h1m0 1h1m2-1h1m0-5h1m6 6h1m11-5h1m10 3h1m-129 7h1m2 1h1m11-1h1m0 3h1m2 0h1m24-2h1m4-2h1m14 1h1m32-2h1m27-1h1m27 1h1m-150 14h1m28-3h1m3 0h1m8-1h1m0 2h1m0-4h1m3 0h1m24 3h1m2-1h1m5 2h1m23 0h1m9-2h1m30-3h1m-207 14h1m29-6h1m4 3h1m17 0h1m17 4h1m1-4h1m5-3h1m6 6h1m7-4h1m3-2h1m7 6h1m0-2h1m3-3h1m5 5h1m0-1h1m2 1h1m4-6h1m-69 11h1m0-1h1m1 2h1m1 3h1m7-4h1m0-2h1m1 6h1m1 0h1m0-7h1m13 7h1m9-4h1m0 4h1m2-2h1m0-2h1m0 3h1m4-4h1m1 5h1m12-6h1m4 0h1m9 0h1m-1 2h1m4-1h1m-143 11h1m28-1h1m7-2h1m3-1h1m9 0h1m5 0h1m6 2h1m2-1h1m7-1h1m22-1h1m0 1h1m9 2h1m7 1h1m1-4h1m1 5h1m33-2h1m1 2h1m16 1h1m-181 7h1m2 1h1m15-5h1m0 5h1m2 0h1m2-4h1m31 0h1m1 1h1m6 4h1m12-7h1m6 1h1m5 5h1m7-4h1m31 1h1m46-3h1m-222 15h1m11-2h1m13-4h1m8 3h1m17 2h1m7-4h1m4 0h1m0-2h1m8 0h1m5 1h1m2 3h1m3-1h1m1-2h1m5 6h1m2-1h1m-1-1h1m10 1h1m2-2h1m2 1h1m4 0h1m5-4h1m7 3h1m10-3h1m-142 9h1m18 5h1m0-7h1m7 3h1m11 2h1m6-5h1m0 5h1m13-3h1m12 0h1m8 4h1m3 0h1m4-5h1m9 3h1m2-4h1m2 7h1m-155 1h1m18 6h1m28-1h1m0 0h1m8-5h1m5 6h1m9-6h1m3 7h1m14-6h1m6-1h1m0 3h1m1-2h1m13 0h1m1 2h1m5-3h1m0 6h1m2-4h1m6-2h1m1 4h1m6 2h1m16-4h1m1 4h1m31-3h1m-199 11h1m22-5h1m-1 5h1m5-2h1m3 1h1m4-1h1m1-1h1m-1 3h1m1 0h1m12 0h1m1 0h1m0-3h1m4-3h1m7 6h1m2-3h1m2 3h1m1-5h1m5 6h1m3-1h1m-1-6h1m2 4h1m-1-2h1m6-2h1m6 7h1m1-5h1m5 2h1m1 1h1m-119 4h1m4 6h1m-1-3h1m6-4h1m1 3h1m3 2h1m2-5h1m4 1h1m0 3h1m0 2h1m1-4h1m0 0h1m3 2h1m0-4h1m2 4h1m4-3h1m0 4h1m3-1h1m2 0h1m1-3h1m2 5h1m6 1h1m-1-3h1m5-3h1m0 4h1m3-3h1m2 4h1m10-3h1m5 2h1m2-1h1m12 2h1m1-5h1m1 3h1m0-2h1m3-2h1m-1 3h1m14 2h1m2 1h1m0-4h1m-135 7h1m-1 2h1m0 4h1m0-3h1m2 0h1m0-4h1m-1 0h1m1 6h1m0-1h1m-1-3h1m2 3h1m-1 2h1m4-3h1m4 1h1m3 1h1m-1 0h1m3-6h1m0 2h1m0 1h1m0 2h1m-1 0h1m7-2h1m0 1h1m2 3h1m0-7h1m2 1h1m12 5h1m16-1h1m12-1h1m0-3h1m7 5h1m3-4h1m0 1h1m1 1h1m12-2h1m1 0h1m13 3h1m-198 10h1m29-6h1m2 0h1m2 1h1m10 4h1m0-2h1m2 0h1m3-4h1m0 1h1m5 6h1m0-6h1m0 5h1m-1-6h1m1 0h1m1 5h1m6 0h1m-1 0h1m1-1h1m1 0h1m0-1h1m-1 2h1m0-5h1m0 5h1m2 0h1m0-2h1m-1 2h1m0 2h1m0-1h1m-1 0h1m1-5h1m-1 6h1m0-1h1m0 1h1m-1 0h1m2 0h1m1-7h1m1 5h1m0 2h1m0-3h1m-1-1h1m-1 1h1m1 2h1m5-2h1m4 0h1m7-1h1m4-1h1m2 1h1m7-1h1m5 3h1m5 1h1m34-4h1m6 5h1m17 0h1m-165 4h1m7-1h1m0-2h1m0 7h1m2 0h1m3-6h1m4 6h1m1 0h1m-1-1h1m-1-3h1m3-2h1m0 4h1m0-1h1m0-1h1m1 0h1m0-2h1m-1 6h1m-1-6h1m-1 5h1m-1-2h1m-1 2h1m2-6h1m0 4h1m0 3h1m1-2h1m0-4h1m0 5h1m1-4h1m-1 4h1m0 1h1m2-7h1m-1 7h1m0-2h1m0-2h1m-1-3h1m0 4h1m1-4h1m2 6h1m2-6h1m14 6h1m1-1h1m3-3h1m-133 8h1m1 2h1m1 1h1m2 1h1m8 0h1m12-3h1m-1-1h1m-1 5h1m1-1h1m3 0h1m-1-6h1m2 2h1m-1 1h1m0 3h1m1-3h1m0 3h1m1-2h1m0 2h1m0 0h1m-1 0h1m0-3h1m-1 0h1m-1 0h1m5-1h1m2-2h1m-1 4h1m-1-3h1m0 3h1m0-2h1m-1 3h1m-1-3h1m-1 2h1m0-3h1m1 6h1m0-4h1m0 3h1m-1-5h1m-1-1h1m1 6h1m0 1h1m1 0h1m0-6h1m-1 0h1m-1 4h1m3-1h1m0 3h1m0-2h1m-1-1h1m-1-1h1m0-3h1m0 5h1m0-3h1m0 0h1m0-1h1m-1 3h1m0-2h1m-1 0h1m-1 1h1m-1 1h1m0-1h1m0 2h1m4-1h1m1-3h1m1 0h1m-1 4h1m3-2h1m-1 4h1m0-1h1m1-1h1m0-4h1m0 2h1m3 2h1m0-4h1m0 0h1m-1 3h1m0 1h1m-1-1h1m1-1h1m2 1h1m0-1h1m2-1h1m0 0h1m1 4h1m1-5h1m3 3h1m5-1h1m4 0h1m1 4h1m20-7h1m46 6h1m-210 8h1m9 0h1m4-2h1m0 1h1m2-1h1m10 0h1m0-1h1m0 4h1m1-5h1m-1 1h1m1 0h1m-1 2h1m-1-5h1m1 3h1m0-1h1m-1 5h1m0-5h1m0 5h1m4-7h1m0 2h1m-1 3h1m1-1h1m-1 3h1m0-3h1m1-2h1m0 0h1m0 4h1m-1-2h1m1 1h1m0 2h1m1-3h1m0 1h1m0 1h1m1-2h1m0 2h1m0 0h1m0-5h1m-1 1h1m1 5h1m-1-2h1m-1-4h1m0 3h1m-1-2h1m0 2h1m-1-1h1m-1 1h1m1-3h1m-1 4h1m-1 2h1m-1-4h1m-1 4h1m-1-5h1m0 4h1m-1 1h1m-1-1h1m0 1h1m1 0h1m0-2h1m0 1h1m-1-2h1m1 2h1m0-4h1m0 5h1m-1 0h1m1 0h1m-1-4h1m0-3h1m2 0h1m-1 3h1m-1-1h1m0-2h1m-1 7h1m0 0h1m-1-4h1m3 0h1m1-2h1m0 2h1m1 3h1m0-4h1m-1-2h1m-1 7h1m-1-1h1m0-5h1m1 3h1m2-4h1m0 2h1m2-1h1m1 5h1m2-2h1m3 1h1m1 0h1m1 0h1m0-2h1m4-2h1m0 0h1m12 1h1m-158 6h1m0 4h1m11 1h1m0-3h1m2 4h1m9-2h1m7 3h1m4-2h1m0-3h1m1 1h1m0-1h1m0-2h1m-1 0h1m-1 5h1m0 1h1m2-5h1m-1 2h1m0 2h1m0-2h1m1 2h1m-1 0h1m-1-3h1m0 2h1m2 1h1m0-4h1m-1 6h1m0 0h1m-1-3h1m0 2h1m0-2h1m-1-3h1m1 0h1m0 3h1m-1 3h1m-1-1h1m0-4h1m0 5h1m-1 0h1m-1 0h1m0-7h1m-1 6h1m-1-1h1m-1 2h1m1-4h1m-1 2h1m-1 0h1m0-4h1m-1 1h1m0 3h1m-1 1h1m-1-2h1m0-1h1m0-3h1m-1 1h1m0 2h1m0-1h1m-1 3h1m0-2h1m-1 0h1m0 2h1m-1-2h1m0 4h1m-1-5h1m0 5h1m-1-6h1m0-1h1m-1 5h1m-1-4h1m-1 0h1m0 1h1m1 5h1m0-4h1m-1 3h1m-1-3h1m0-2h1m-1 2h1m0 1h1m0-1h1m0 0h1m-1 1h1m0 1h1m-1 2h1m-1-3h1m0-4h1m0 4h1m0 3h1m-1-1h1m2-2h1m0 1h1m1-2h1m1 0h1m-1 4h1m0-5h1m-1 4h1m3-3h1m-1-1h1m0 0h1m-1 5h1m0-1h1m0-5h1m0 2h1m3 4h1m0-1h1m-1-6h1m0 2h1m0 3h1m3-4h1m1 2h1m2 0h1m-1-3h1m4 1h1m3 6h1m9-2h1m5-1h1m0-3h1m0 3h1m-151 9h1m0 1h1m4 0h1m2 1h1m3-4h1m7 4h1m0-1h1m2-4h1m-1 4h1m1-2h1m1-2h1m0-2h1m-1 4h1m-1-4h1m3 1h1m0 0h1m2 1h1m-1 1h1m-1 2h1m1-4h1m-1 6h1m0 0h1m-1-1h1m-1-5h1m0 6h1m1-2h1m-1 0h1m-1 2h1m0-1h1m0-3h1m-1-2h1m-1 4h1m0 0h1m-1-2h1m0-3h1m-1 2h1m0 0h1m-1 4h1m0-6h1m2 2h1m-1 0h1m-1 2h1m0-1h1m0-3h1m-1 2h1m-1-1h1m0 6h1m-1-3h1m-1-4h1m1 6h1m-1 1h1m1-1h1m-1-4h1m-1 4h1m0-5h1m0 1h1m0-1h1m0 0h1m-1 1h1m0-1h1m-1 1h1m-1-1h1m0 3h1m-1 0h1m-1 1h1m-1-4h1m-1 3h1m-1-4h1m0 6h1m0 1h1m0-1h1m-1-1h1m-1 2h1m0-6h1m2 5h1m1-6h1m0 3h1m-1 4h1m-1-2h1m0-3h1m2 4h1m-1-4h1m1-1h1m0 2h1m-1-1h1m-1 1h1m0 2h1m0-4h1m0 5h1m-1-4h1m0 1h1m-1-2h1m0 0h1m-1 3h1m4-4h1m-1 3h1m0-2h1m0 4h1m3-1h1m0-2h1m2-2h1m0 0h1m-1 7h1m1-2h1m-1 2h1m0 0h1m3 0h1m-1 0h1m2-3h1m0-2h1m2-1h1m-1 1h1m4 1h1m3 0h1m0-2h1m1 1h1m2-1h1m-148 10h1m10 3h1m-1-6h1m5 2h1m3-2h1m3 5h1m3 1h1m-1-2h1m3 3h1m1 0h1m1-6h1m1 3h1m-1-4h1m0 5h1m1 1h1m0 1h1m0-7h1m-1 2h1m0 2h1m-1-1h1m-1 3h1m1-1h1m0 2h1m-1-1h1m3-3h1m-1-2h1m-1 6h1m-1-2h1m-1 2h1m0-7h1m-1 7h1m0-6h1m0 5h1m0-2h1m-1 2h1m-1-5h1m0 6h1m-1-6h1m0 4h1m0-2h1m0 1h1m-1 2h1m-1 1h1m0-3h1m0 2h1m-1 1h1m0 0h1m1-6h1m0 1h1m0 1h1m-1 4h1m-1-4h1m0-1h1m0 1h1m0-1h1m-1-1h1m-1 0h1m0 3h1m-1 1h1m0-3h1m-1-1h1m-1 0h1m0 4h1m-1-2h1m0 3h1m-1-6h1m0 3h1m-1-2h1m0 6h1m1 0h1m-1-7h1m-1 1h1m-1 3h1m0 1h1m0-5h1m0 3h1m-1-3h1m1 1h1m1 6h1m0-4h1m-1 4h1m-1-6h1m0 6h1m-1-6h1m0 0h1m0-1h1m0 1h1m0-1h1m-1 3h1m1-1h1m-1 5h1m0-6h1m0 3h1m0 3h1m-1-3h1m1 2h1m-1-5h1m-1 2h1m0 4h1m0-2h1m-1-4h1m-1 4h1m0 1h1m-1 1h1m0-4h1m0-2h1m-1 1h1m2 2h1m-1-4h1m0 2h1m0-2h1m-1 5h1m1-4h1m0 1h1m3 1h1m3-2h1m0 5h1m0-2h1m-1-3h1m1 6h1m2-3h1m3-3h1m9 5h1m10 0h1m0-1h1m-170 4h1m6 3h1m4-4h1m1 3h1m6 2h1m0 1h1m1-1h1m5-1h1m9-2h1m0 5h1m6-6h1m-1 5h1m-1-1h1m0-5h1m2 2h1m-1 1h1m0-2h1m-1 3h1m-1-2h1m-1 2h1m1-2h1m0 0h1m0 4h1m-1-2h1m0 2h1m0 1h1m-1-1h1m0-3h1m0-2h1m-1 4h1m-1 2h1m1-2h1m-1-2h1m-1 0h1m-1 0h1m0-1h1m-1 0h1m-1 3h1m0-4h1m-1 0h1m-1 3h1m0 0h1m-1-3h1m-1 1h1m-1-1h1m0 2h1m-1-1h1m-1 5h1m-1-1h1m1 1h1m-1 0h1m-1 0h1m0-5h1m-1 3h1m0-3h1m-1 0h1m0 0h1m-1-2h1m0 2h1m-1 5h1m0-2h1m-1 2h1m0-7h1m-1 5h1m0-1h1m0-2h1m-1 4h1m-1 1h1m-1-3h1m0-4h1m0 3h1m0 1h1m-1 3h1m-1 0h1m0-5h1m-1-2h1m-1 7h1m1-7h1m0 2h1m0 2h1m0 0h1m1 1h1m1 0h1m-1-4h1m0 4h1m0 1h1m-1-3h1m0-1h1m-1 0h1m-1 2h1m0 0h1m-1-4h1m-1 2h1m3-1h1m-1 2h1m1-2h1m-1 6h1m0-1h1m-1-3h1m0-2h1m-1 3h1m0-4h1m0 2h1m2 2h1m-1-3h1m-1 6h1m-1-1h1m0 1h1m0 0h1m0-2h1m-1 1h1m-1-6h1m-1 4h1m0 3h1m0-7h1m0 4h1m-1-1h1m1-1h1m0 5h1m1 0h1m0-1h1m-1 0h1m-1-6h1m0 5h1m1-1h1m0 1h1m2 0h1m0-4h1m3 3h1m1-1h1m0 0h1m5 0h1m1 2h1m6-5h1m5 3h1m-172 7h1m16 5h1m1-3h1m4 0h1m0 3h1m3-6h1m0 5h1m0 1h1m0-1h1m-1-2h1m0 2h1m-1-4h1m1-2h1m2 2h1m-1 5h1m3-5h1m0 0h1m0 2h1m3 0h1m-1-4h1m0 2h1m0 4h1m2 1h1m0-4h1m2 2h1m-1-5h1m-1 6h1m0-1h1m1-5h1m-1 7h1m0-1h1m0-4h1m-1-2h1m0 2h1m-1-1h1m0 2h1m0 4h1m-1-1h1m-1-1h1m0-4h1m-1-1h1m0 3h1m-1-3h1m1 4h1m-1 2h1m-1 1h1m-1-7h1m-1 5h1m-1 0h1m0-2h1m0 3h1m1-1h1m-1-4h1m0 6h1m0-4h1m-1 2h1m-1 1h1m0-5h1m-1 3h1m0-1h1m-1-1h1m-1 1h1m0 3h1m-1-3h1m1 1h1m0 3h1m-1-7h1m-1 4h1m-1 3h1m-1-1h1m-1-1h1m0 0h1m-1-5h1m0 7h1m-1-5h1m-1 5h1m-1-5h1m1-2h1m-1 4h1m-1-2h1m0 4h1m-1-5h1m-1 2h1m0 2h1m-1 1h1m0-1h1m-1-1h1m-1-4h1m0 0h1m-1 3h1m-1-2h1m0 1h1m-1-2h1m-1 3h1m0-1h1m-1-1h1m0-1h1m0 0h1m0 3h1m-1 3h1m-1 1h1m0-6h1m-1 3h1m0-1h1m-1 4h1m-1-4h1m0 2h1m1 1h1m-1 0h1m-1-5h1m1 1h1m-1 3h1m1 1h1m-1 0h1m0-4h1m-1 0h1m-1 4h1m-1-2h1m0 1h1m1 1h1m-1 1h1m1-3h1m-1 3h1m0-1h1m2-6h1m-1 4h1m-1 2h1m0 1h1m-1-1h1m-1 0h1m-1-4h1m1-2h1m0 4h1m-1-2h1m0-2h1m-1 0h1m5 5h1m0-5h1m2 6h1m-1-3h1m9 0h1m1-3h1m2 5h1m0-2h1m-1 0h1m0-3h1m15 2h1m3 1h1m-159 7h1m9 5h1m5 0h1m2-6h1m-1 5h1m2-2h1m4 1h1m-1 0h1m0-5h1m0 4h1m0-3h1m0 5h1m3 0h1m2 1h1m0-5h1m-1-2h1m4 1h1m-1 0h1m1 5h1m-1-5h1m1 3h1m0-3h1m1 0h1m-1 3h1m1 3h1m-1-1h1m-1 1h1m-1-3h1m1 2h1m0 0h1m-1-2h1m1-1h1m-1 0h1m0-3h1m1 0h1m0 5h1m-1-3h1m-1 5h1m-1 0h1m-1-3h1m0-1h1m-1-2h1m-1-1h1m0 6h1m0 0h1m-1 0h1m-1-2h1m2-2h1m-1 0h1m-1 0h1m0 0h1m0 4h1m-1-4h1m-1-2h1m-1 4h1m0-4h1m-1 3h1m0-3h1m-1 6h1m0-2h1m0-1h1m0 1h1m-1-2h1m-1 5h1m0-5h1m-1 0h1m0 0h1m0 3h1m-1-5h1m-1 4h1m0-2h1m-1 5h1m-1-1h1m-1-2h1m0 3h1m-1-6h1m1 3h1m-1-3h1m-1 3h1m-1 0h1m1-1h1m-1-1h1m-1 0h1m0 5h1m-1-5h1m-1 3h1m0-4h1m-1 5h1m0-4h1m2 5h1m-1-5h1m-1 2h1m0 2h1m-1 0h1m0-4h1m-1 4h1m-1-3h1m0 0h1m-1 3h1m0-3h1m-1 0h1m-1 1h1m-1-4h1m1 5h1m2-4h1m-1 4h1m-1-2h1m0 0h1m0-3h1m0 5h1m-1 0h1m0-3h1m-1 5h1m-1-4h1m-1-3h1m1 3h1m0 1h1m-1-4h1m0 5h1m-1 1h1m0-1h1m2-5h1m0 1h1m2 2h1m-1 3h1m3-2h1m0-3h1m3 1h1m5 1h1m-1-3h1m3 5h1m0-3h1m6 4h1m-148 6h1m0 3h1m1-3h1m1-3h1m0 0h1m3 3h1m0 1h1m4 0h1m0-4h1m0 4h1m1-3h1m2 4h1m0-5h1m2 3h1m0 0h1m-1 3h1m1-5h1m0-1h1m0 4h1m0-4h1m-1 2h1m0 3h1m-1-6h1m0 5h1m2-2h1m-1-1h1m2 2h1m-1 3h1m-1 0h1m0-5h1m-1-2h1m-1 0h1m-1 5h1m1 1h1m-1-1h1m0-4h1m0 3h1m-1 1h1m-1 1h1m0-3h1m0 1h1m-1 3h1m0-5h1m-1 4h1m0-5h1m0-1h1m0 4h1m0 2h1m0-2h1m-1 2h1m-1 1h1m0 0h1m-1-1h1m0 0h1m0-4h1m-1 2h1m0-3h1m0 0h1m-1 5h1m-1-4h1m0-2h1m-1 7h1m-1 0h1m-1-2h1m-1 1h1m0-4h1m-1 4h1m-1 1h1m-1-6h1m0 4h1m-1-1h1m-1-1h1m0-1h1m0 5h1m-1 0h1m-1-5h1m-1-1h1m0 4h1m-1-3h1m-1-1h1m-1 6h1m-1-3h1m0 3h1m-1-1h1m0-6h1m-1 0h1m0 4h1m-1 1h1m0-4h1m-1 4h1m0-4h1m-1 6h1m-1-6h1m0-1h1m0 1h1m-1-1h1m-1 1h1m0 4h1m-1-4h1m0 6h1m-1-7h1m-1 2h1m0 2h1m-1-2h1m0 4h1m-1-5h1m-1 2h1m-1 3h1m1-4h1m0 4h1m-1-2h1m-1-1h1m-1 2h1m0-1h1m-1-3h1m0 1h1m1-1h1m-1 0h1m0 3h1m0 0h1m-1-1h1m-1-2h1m0 3h1m0-1h1m-1 2h1m0 1h1m0-2h1m0-3h1m-1 5h1m3 1h1m0-3h1m1-3h1m0 3h1m-1 1h1m-1-5h1m2 0h1m0 7h1m1-3h1m2-1h1m1 1h1m5-4h1m0 1h1m1-1h1m0 7h1m2-7h1m2 1h1m0 0h1m0 1h1m5-2h1m-141 12h1m3 1h1m9-2h1m0-3h1m3 6h1m0-3h1m0 2h1m-1-1h1m-1-1h1m0-1h1m0 1h1m2 0h1m0-2h1m0 0h1m1 0h1m0 0h1m0 5h1m0-2h1m-1 2h1m0-6h1m1 7h1m0-2h1m-1 1h1m-1-6h1m0 2h1m-1 1h1m-1-3h1m-1 0h1m0 5h1m0 2h1m0-1h1m-1-2h1m0-2h1m1 3h1m-1-2h1m-1 3h1m0 0h1m0 1h1m1 0h1m0-7h1m-1 5h1m-1 0h1m-1 1h1m0-6h1m-1 4h1m-1 1h1m0-4h1m-1 6h1m0-5h1m-1-1h1m3 5h1m-1-3h1m0 1h1m0-3h1m0 2h1m1 1h1m1-3h1m-1 0h1m0 1h1m-1 4h1m-1-2h1m0 0h1m0 3h1m-1-3h1m-1-1h1m0 0h1m-1 2h1m0-5h1m-1 3h1m0-1h1m-1-1h1m-1 0h1m0-1h1m-1 7h1m-1-7h1m0 6h1m0-4h1m0 4h1m-1-2h1m-1-3h1m0 2h1m-1-2h1m-1-1h1m1 6h1m1 0h1m0-3h1m0 1h1m-1 2h1m-1-2h1m-1-1h1m0-3h1m-1 3h1m-1 2h1m-1-3h1m0 2h1m0-3h1m-1 3h1m0 1h1m0-1h1m0 0h1m0 3h1m0-4h1m-1 1h1m1-4h1m1 4h1m-1 0h1m0-3h1m-1-1h1m-1 7h1m0-4h1m-1 0h1m1-2h1m0 2h1m1 4h1m-1-3h1m1 1h1m-1-2h1m-1 2h1m-1 1h1m0 1h1m-1 0h1m2-2h1m-1-2h1m1 1h1m1-2h1m-1-2h1m0 3h1m0 0h1m1 4h1m-1-6h1m6 1h1m1 0h1m0 5h1m2-6h1m4 3h1m2-4h1m0 2h1m5-1h1m-130 9h1m1 3h1m-1-1h1m0 1h1m-1 0h1m0-5h1m0 1h1m0 1h1m0 4h1m1-5h1m-1 6h1m0-2h1m0 1h1m0 1h1m3 0h1m0-1h1m-1-6h1m0 7h1m2-3h1m0 1h1m0-1h1m-1 3h1m1 0h1m-1-2h1m-1-4h1m-1-1h1m-1 2h1m0 1h1m-1 3h1m-1-3h1m0-1h1m-1-2h1m-1 7h1m-1-5h1m0 0h1m-1-2h1m-1 1h1m-1 4h1m0 2h1m-1-5h1m0 3h1m-1 0h1m-1 0h1m0 2h1m-1-7h1m0 1h1m-1-1h1m-1 2h1m0-1h1m0 6h1m0-3h1m-1 1h1m0 0h1m-1 1h1m0-3h1m-1-2h1m-1 0h1m0 2h1m-1 2h1m0-3h1m-1 2h1m-1 0h1m0 1h1m-1-5h1m-1 5h1m0 2h1m-1 0h1m0-6h1m0 6h1m-1-7h1m-1 1h1m0 4h1m-1-3h1m0 2h1m-1 3h1m0-1h1m-1-3h1m0-2h1m-1 1h1m1 1h1m-1-3h1m-1 3h1m-1-2h1m0 2h1m-1 4h1m0 0h1m-1-4h1m-1 3h1m-1-3h1m2 0h1m0 1h1m1 2h1m0 0h1m-1 1h1m0-5h1m-1 1h1m-1-3h1m-1 7h1m0-2h1m0 2h1m-1-2h1m1-3h1m-1-1h1m0 1h1m0 2h1m-1-2h1m1 4h1m-1 0h1m2-3h1m-1-1h1m0-1h1m0-1h1m0 4h1m1 3h1m1-3h1m0-1h1m0-1h1m1 3h1m-1-2h1m0-3h1m-1 3h1m1 3h1m1-2h1m-1-4h1m2 2h1m0 1h1m3 0h1m0 3h1m9 1h1m6-7h1m-118 14h1m1-3h1m1-2h1m0 3h1m0 0h1m0 1h1m0 2h1m0-3h1m1-3h1m0-1h1m-1 2h1m0 4h1m0-5h1m1 2h1m-1 2h1m2 1h1m-1-3h1m-1 1h1m1 2h1m-1-2h1m0 0h1m-1 1h1m0-5h1m-1 2h1m0-1h1m0 4h1m-1-5h1m0 5h1m1-2h1m-1-3h1m0 6h1m0-3h1m-1 1h1m-1-2h1m0-2h1m-1 7h1m0-2h1m0-4h1m0 1h1m-1 1h1m0-1h1m-1-1h1m-1 6h1m-1-5h1m0 5h1m0-3h1m-1 0h1m0-4h1m0 6h1m-1-2h1m0 2h1m0-2h1m-1 1h1m-1-2h1m1-3h1m-1 5h1m-1-4h1m0-1h1m-1 6h1m1-2h1m0-3h1m0 3h1m0-4h1m-1 2h1m-1 2h1m1 2h1m-1-6h1m1 0h1m0 3h1m1-1h1m1-1h1m-1 0h1m0 3h1m0-4h1m1 4h1m-1-1h1m-1-3h1m0 3h1m-1-2h1m-1 6h1m0-6h1m-1 2h1m1 1h1m1 2h1m-1-6h1m0 1h1m2 2h1m0-1h1m0-2h1m1 7h1m-1-1h1m0-1h1m0 2h1m1-7h1m-1 3h1m2 0h1m0 1h1m0-3h1m0 1h1m5 2h1m0 2h1m-1 1h1m5-7h1m8 7h1m9-6h1m28-1h1m-149 12h1m6 1h1m3-5h1m5 2h1m-1 5h1m0-3h1m-1-3h1m0-1h1m0 1h1m-1 0h1m0 6h1m-1-5h1m0 3h1m-1 1h1m4 1h1m-1-2h1m-1-1h1m-1-1h1m0-1h1m-1-2h1m0 5h1m0-4h1m1 1h1m-1 5h1m0-2h1m-1-5h1m1 0h1m0 2h1m-1 0h1m0 3h1m-1-2h1m0 2h1m-1 2h1m3-2h1m-1-4h1m0-1h1m-1 4h1m-1 0h1m0 1h1m-1-3h1m0 1h1m-1-3h1m-1 7h1m0-7h1m-1 6h1m0 1h1m0-3h1m-1-3h1m-1 6h1m0 0h1m-1-7h1m0 2h1m-1 2h1m-1-4h1m0 0h1m-1 6h1m-1-3h1m0-1h1m-1 1h1m0-2h1m0 5h1m0-3h1m0-2h1m0-1h1m-1 1h1m0 0h1m1 5h1m1 1h1m0-5h1m0-2h1m0 4h1m0 1h1m-1 0h1m1 1h1m-1-6h1m2 0h1m1 2h1m1 0h1m2-1h1m2 0h1m16 6h1m-96 1h1m2 0h1m0 4h1m0 0h1m0-2h1m2 2h1m0-2h1m0-1h1m-1 6h1m0-5h1m1 4h1m2-1h1m0-1h1m0 0h1m1 1h1m-1-5h1m0 7h1m0-5h1m-1 2h1m0 1h1m0-4h1m0 6h1m-1-2h1m2 2h1m0-5h1m0 2h1m0-2h1m0 2h1m1-4h1m0 7h1m2-2h1m-1 2h1m0-3h1m-1-2h1m0 3h1m2-1h1m0 0h1m-1-1h1m1-2h1m2-1h1m-1 7h1m2-4h1m-1 1h1m2-1h1m-1 2h1m4-3h1m2 5h1m-1-7h1m1 3h1m3 1h1m3 1h1m-67 4h1m2 6h1m3-7h1m0 0h1m-1 3h1m0 1h1m0 0h1m-1-1h1m2-3h1m1 7h1m3-7h1m1 3h1m0 2h1m2-4h1m1 4h1m2 0h1m-1 0h1m-1 2h1m-1-7h1m3 0h1m0 5h1m1-2h1m-1-3h1m1 0h1m0 6h1m-1 1h1m9-5h1m1-2h1m16 0h1m9 2h1m-86 11h1m9-4h1m0 4h1m4 0h1m1 0h1m0-4h1m1-1h1m0 4h1m2 0h1m0 0h1m0 0h1m2 1h1m2 0h1m0 2h1m-1-1h1m4-2h1m-1-4h1m4 2h1m2 3h1m7-3h1m5-1h1m-44 12h1m2-3h1m9 4h1m-26 4h1m6 3h1m11 1h1m29-3h1m9-1h1m-19 6h1" fill="none" stroke="#000" stroke-width="5" stroke-linecap="square" stroke-opacity="0.55"/>
<line x1="338.60" y1="280.00" x2="338.60" y2="341.50" stroke="#999" stroke-width="0.6" />
<line x1="338.60" y1="341.50" x2="404.40" y2="341.50" stroke="#999" stroke-width="0.6" />
<line x1="337.20" y1="341.00" x2="338.60" y2="341.00" stroke="#999" stroke-width="0.5" />
<line x1="339.40" y1="341.50" x2="339.40" y2="342.90" stroke="#999" stroke-width="0.5" />
<line x1="337.20" y1="325.75" x2="338.60" y2="325.75" stroke="#999" stroke-width="0.5" />
<line x1="355.65" y1="341.50" x2="355.65" y2="342.90" stroke="#999" stroke-width="0.5" />
<line x1="337.20" y1="310.50" x2="338.60" y2="310.50" stroke="#999" stroke-width="0.5" />
<line x1="371.90" y1="341.50" x2="371.90" y2="342.90" stroke="#999" stroke-width="0.5" />
<line x1="337.20" y1="295.25" x2="338.60" y2="295.25" stroke="#999" stroke-width="0.5" />
<line x1="388.15" y1="341.50" x2="388.15" y2="342.90" stroke="#999" stroke-width="0.5" />
<line x1="337.20" y1="280.00" x2="338.60" y2="280.00" stroke="#999" stroke-width="0.5" />
<line x1="404.40" y1="341.50" x2="404.40" y2="342.90" stroke="#999" stroke-width="0.5" />
<rect x="339.40" y="280.00" width="21.90" height="26.70" fill="none" stroke="#8ab048" stroke-width="1.3"/>
<rect x="361.30" y="280.00" width="43.10" height="26.70" fill="none" stroke="#c4504c" stroke-width="1.3"/>
<rect x="361.30" y="306.70" width="43.10" height="34.30" fill="none" stroke="#4a88cc" stroke-width="1.3"/>
<text x="370.00" y="275.85" font-size="7.5" font-weight="bold" text-anchor="middle" fill="#000"  stroke="#000" stroke-width="0.18">20</text>
<text x="368.90" y="279.00" font-size="2.6" fill="#888" text-anchor="middle">Data.017</text>
<text x="368.90" y="346.50" font-size="2.6" fill="#888" text-anchor="middle">FL1-H</text>
<text x="336.20" y="341.80" font-size="2.4" fill="#999" text-anchor="end">1</text>
<text x="339.40" y="344.60" font-size="2.4" fill="#999" text-anchor="middle">1</text>
<text x="336.20" y="326.55" font-size="2.4" fill="#999" text-anchor="end">1</text>
<text x="355.65" y="344.60" font-size="2.4" fill="#999" text-anchor="middle">1</text>
<text x="336.20" y="311.30" font-size="2.4" fill="#999" text-anchor="end">1</text>
<text x="371.90" y="344.60" font-size="2.4" fill="#999" text-anchor="middle">1</text>
<text x="336.20" y="296.05" font-size="2.4" fill="#999" text-anchor="end">1</text>
<text x="388.15" y="344.60" font-size="2.4" fill="#999" text-anchor="middle">1</text>
<text x="336.20" y="280.80" font-size="2.4" fill="#999" text-anchor="end">1</text>
<text x="404.40" y="344.60" font-size="2.4" fill="#999" text-anchor="middle">1</text>
<text x="345.20" y="286.80" font-size="5.95" font-weight="bold" text-anchor="start" fill="#f01818" stroke="#f01818" stroke-width="0.42">0.42</text>
<text x="345.20" y="293.80" font-size="5.95" font-weight="bold" text-anchor="start" fill="#f01818" stroke="#f01818" stroke-width="0.42">±</text>
<text x="349.40" y="293.80" font-size="5.95" font-weight="bold" text-anchor="start" fill="#f01818" stroke="#f01818" stroke-width="0.42">0.08</text>
<text x="386.20" y="286.80" font-size="5.95" font-weight="bold" text-anchor="start" fill="#f01818" stroke="#f01818" stroke-width="0.42">3.89</text>
<text x="386.20" y="293.80" font-size="5.95" font-weight="bold" text-anchor="start" fill="#f01818" stroke="#f01818" stroke-width="0.42">±</text>
<text x="390.40" y="293.80" font-size="5.95" font-weight="bold" text-anchor="start" fill="#f01818" stroke="#f01818" stroke-width="0.42">0.55</text>
<text x="386.20" y="332.60" font-size="5.95" font-weight="bold" text-anchor="start" fill="#f01818" stroke="#f01818" stroke-width="0.42">6.09</text>
<text x="386.20" y="339.60" font-size="5.95" font-weight="bold" text-anchor="start" fill="#f01818" stroke="#f01818" stroke-width="0.42">±</text>
<text x="390.40" y="339.60" font-size="5.95" font-weight="bold" text-anchor="start" fill="#f01818" stroke="#f01818" stroke-width="0.42">0.44</text>
<path transform="scale(0.1)" d="M2883 3822h1m-146 9h1m27-2h1m63 10h1m27-4h1m-131 5h1m65 3h1m1-3h1m39 4h1m10 1h1m71-3h1m31 5h1m-220 3h1m33 2h1m1-3h1m28 0h1m8 6h1m40-6h1m5 2h1m15-1h1m51 0h1m-231 9h1m72 1h1m2-3h1m7 5h1m0-6h1m15 4h1m11 0h1m14 3h1m2-3h1m3-2h1m6 5h1m-1 0h1m45-5h1m3 5h1m8 0h1m70-3h1m-251 9h1m28 0h1m7-1h1m3-1h1m7 1h1m97-1h1m141 2h1m-284 8h1m54 1h1m18 0h1m22 1h1m15-6h1m3 5h1m12-4h1m-38 8h1m1 4h1m3 1h1m20-3h1m7 2h1m80 1h1m18-5h1m34 3h1m27-4h1m-211 9h1m5 1h1m175-2h1m-194 13h1m50-1h1m85-5h1m44 2h1m38 5h1m16-7h1m-82 12h1m27-2h1m31 1h1m19-2h1m4 2h1m12 4h1m18 0h1m-139 8h1m47-4h1m17 1h1m31 2h1m28-5h1m29 5h1m-169 2h1m52 7h1m30-4h1m4 2h1m39-1h1m21 0h1m10 0h1m1 0h1m-146 6h1m5 4h1m58-6h1m2 3h1m0 0h1m0 2h1m4 2h1m1-3h1m66-2h1m-149 11h1m34-2h1m27-1h1m8 5h1m55-4h1m-157 11h1m12 1h1m37-1h1m30-2h1m6 3h1m18-6h1m10 0h1m-103 7h1m18 4h1m39-2h1m38 2h1m11 1h1m-1-4h1m8 3h1m-1-3h1m16 5h1m-235 7h1m70 0h1m22 0h1m10 2h1m50-1h1m1-2h1m12 2h1m8-4h1m3 0h1m0-2h1m8 2h1m47 3h1m5 0h1m-224 6h1m42-1h1m25 3h1m10-4h1m0 6h1m55-6h1m4 2h1m9 4h1m38-6h1m0 1h1m5-2h1m16 3h1m-150 11h1m26-1h1m16-2h1m3 4h1m-1-7h1m7 4h1m2-2h1m32-2h1m16 4h1m49 1h1m-231 5h1m34-1h1m39-1h1m3 3h1m7 1h1m14 3h1m9-5h1m22-1h1m-1 5h1m18-3h1m31 0h1m22-2h1m-188 14h1m60-6h1m1 2h1m10-1h1m7 0h1m17 2h1m3-2h1m9-1h1m15 1h1m27 0h1m4 2h1m-243 6h1m130 1h1m8-2h1m3 0h1m8 3h1m6 0h1m3-2h1m3 3h1m31-5h1m19 6h1m23 0h1m14-2h1m-219 11h1m7-2h1m9 1h1m30-3h1m7 1h1m67-1h1m8 0h1m6 1h1m2 3h1m17-7h1m10 3h1m18 2h1m12-1h1m7-4h1m-333 13h1m144 1h1m30 1h1m52 0h1m1-1h1m9-5h1m11 3h1m1 2h1m12-1h1m39-4h1m32 5h1m-244 2h1m70 1h1m27 6h1m9 0h1m-1-4h1m11 0h1m2-1h1m6 0h1m13 2h1m6-3h1m1 2h1m8 4h1m18 0h1m0-7h1m0 6h1m5 0h1m1 0h1m19-1h1m1-3h1m6 3h1m-315 6h1m131 2h1m44 2h1m17-4h1m51 1h1m46-1h1m-1-3h1m31 0h1m-269 15h1m65-2h1m18 0h1m35 0h1m33-1h1m4-2h1m42 2h1m14-1h1m10-2h1m45 2h1m-316 7h1m47 5h1m18-1h1m91 1h1m9-2h1m37-2h1m6-2h1m23 2h1m4-3h1m4 7h1m10-7h1m3 3h1m8-2h1m-228 11h1m9 0h1m9-3h1m2-1h1m3 3h1m13 1h1m61-1h1m13-1h1m8-2h1m17 0h1m14 3h1m46 1h1m14-3h1m-310 13h1m78 1h1m16-5h1m10-1h1m37 1h1m72 4h1m34-3h1m3 1h1m18-1h1m39-2h1m4-1h1m-243 13h1m7-3h1m15 5h1m0-3h1m6 2h1m41-3h1m19 4h1m147-7h1m-241 15h1m21-7h1m27 4h1m46-4h1m-121 14h1m33-2h1m15-2h1m1 0h1m3 1h1m25 3h1m13 0h1m29-5h1m1 1h1m81-1h1m-263 11h1m47 3h1m30-6h1m19 3h1m38-4h1m19 6h1m33-5h1m16 1h1m36-1h1m-224 14h1m26 0h1m0-4h1m4-3h1m4 0h1m19 5h1m14-3h1m4 2h1m14 0h1m4 1h1m2-4h1m4-1h1m-1 2h1m38 3h1m4 2h1m0-5h1m-92 10h1m1-1h1m14 1h1m5 1h1m15-5h1m37 7h1m6-3h1m-143 9h1m19 2h1m2-5h1m1 3h1m3-5h1m1 2h1m-1 0h1m16 2h1m25-3h1m-1 4h1m33-1h1m-126 4h1m91 6h1m39-5h1m-1 3h1m21-4h1m-160 10h1m31 2h1m4-2h1m6 3h1m20-1h1m16-2h1m6-1h1m5-1h1m3 2h1m3 0h1m7 0h1m4 4h1m0-1h1m-134 10h1m1-3h1m11-2h1m8 0h1m40 4h1m41-5h1m7 3h1m11-2h1m-1 4h1m5-5h1m21 1h1m-151 7h1m31 6h1m7-1h1m12-1h1m8-4h1m12 3h1m23-4h1m21 2h1m3 5h1m8 0h1m-125 8h1m16-7h1m12 7h1m16-7h1m19 4h1m27 2h1m25 1h1m66-7h1m111 7h1m-311 1h1m47 2h1m22 5h1m9-5h1m2-1h1m2 1h1m15 1h1m54-2h1m-131 11h1m25 2h1m47-6h1m20 1h1m-132 12h1m6-5h1m12 2h1m5-2h1m73 4h1m-88 6h1m2 1h1m5-1h1m0 4h1m4-5h1m30 0h1m1 4h1m1 1h1m-1-5h1m-1 2h1m14-3h1m16 4h1m3-3h1m-102 11h1m41 2h1m7-5h1m17 0h1m-53 9h1m19 3h1m33-4h1m7-1h1m33 4h1m5 1h1m-109 7h1m7 1h1m44 2h1m6 0h1m31-2h1m11-2h1m-83 8h1m46 3h1m-8 7h1m9-3h1m35 2h1" fill="none" stroke="#000" stroke-width="5" stroke-linecap="square" stroke-opacity="0.3"/>
<path transform="scale(0.1)" d="M3040 3712h1m-119 27h1m93-2h1m27 1h1m3 2h1m-88 8h1m61-4h1m19 7h1m15-3h1m27-3h1m6 3h1m-72 5h1m19-1h1m4 3h1m4 2h1m-1 1h1m-78 3h1m1 5h1m4-6h1m8 2h1m23-1h1m17 0h1m18 0h1m13 0h1m3 1h1m-137 6h1m45 2h1m3 3h1m16-2h1m2 3h1m22 1h1m16 0h1m14-1h1m3-1h1m-153 5h1m-1-1h1m52 3h1m7 3h1m17-7h1m5 0h1m1 5h1m22 1h1m3 0h1m0-4h1m4 5h1m1-1h1m0-1h1m12-1h1m-1-3h1m-1-1h1m0 7h1m0-7h1m3 7h1m-1-7h1m3 6h1m-1-2h1m0 2h1m0-4h1m6-1h1m-1 6h1m4-5h1m0 3h1m4 2h1m7-5h1m4 4h1m-143 3h1m9 1h1m7 4h1m1-1h1m1-5h1m5 2h1m2 1h1m2 2h1m8 1h1m2-5h1m2 3h1m-1-2h1m0 2h1m3 3h1m1-7h1m0 1h1m4 3h1m2 1h1m2 2h1m9 0h1m-1-2h1m0-3h1m0 2h1m4 0h1m0-2h1m-1 0h1m0-1h1m0 6h1m0-7h1m-1 6h1m0-1h1m-1-1h1m6 1h1m1-4h1m0 1h1m2 4h1m0-1h1m2 1h1m1 0h1m-1-3h1m1 2h1m0 0h1m2-3h1m-1-2h1m0 1h1m0 3h1m7 0h1m2 1h1m5 2h1m15-6h1m-165 10h1m9 2h1m15-4h1m4 1h1m2-2h1m9 6h1m1-4h1m0 5h1m0-1h1m0 1h1m3-6h1m3-1h1m0 6h1m-1-5h1m0 3h1m6-3h1m0 6h1m0-1h1m-1-2h1m1-2h1m-1-2h1m1 5h1m1-1h1m0 1h1m-1 0h1m0-2h1m1 4h1m3 0h1m0-5h1m0-1h1m-1 3h1m0-2h1m2 3h1m-1 0h1m1 1h1m4-1h1m-1 2h1m0-1h1m-1 0h1m0-5h1m0 2h1m-1-1h1m-1 5h1m-1-7h1m0 4h1m-1-4h1m2 7h1m-1-1h1m1 0h1m0-2h1m-1 0h1m0 1h1m-1-1h1m-1-2h1m-1 0h1m0 5h1m1 0h1m0-2h1m-1-4h1m0 6h1m0-6h1m-1 5h1m-1-6h1m2 7h1m0-1h1m0 1h1m0 0h1m3 0h1m0-1h1m-1-6h1m0 2h1m-1-2h1m0 5h1m0 2h1m-1 0h1m4-7h1m1 3h1m0 0h1m1-2h1m0 5h1m0-5h1m1 0h1m-1 1h1m0 3h1m0 2h1m-1-7h1m-1 1h1m0 4h1m1-1h1m17 0h1m-163 4h1m0 7h1m3-3h1m2 3h1m8-7h1m2 6h1m3 1h1m6-6h1m0 5h1m0 1h1m9-2h1m1 0h1m0 2h1m-1 0h1m1-4h1m0 2h1m1-3h1m-1 3h1m7-4h1m5-1h1m0 2h1m0 3h1m0 2h1m0-7h1m-1 6h1m0-3h1m0 0h1m0 3h1m0-2h1m-1-3h1m1 0h1m2 2h1m0 4h1m1 0h1m-1 0h1m0 0h1m-1-7h1m0 1h1m0 3h1m2-1h1m-1-1h1m-1 4h1m-1-3h1m0 1h1m0-4h1m1 1h1m0-1h1m2 4h1m-1 3h1m-1-7h1m-1 7h1m1-2h1m-1-2h1m1 0h1m-1 3h1m0 1h1m1-3h1m0-1h1m-1 1h1m0 3h1m0-6h1m-1 1h1m0-1h1m0 0h1m-1-1h1m0 1h1m0 3h1m0 2h1m-1-1h1m0 2h1m-1-2h1m0-3h1m0 4h1m-1 0h1m-1-3h1m0-2h1m0 3h1m-1 1h1m0 1h1m-1 0h1m-1-1h1m0 0h1m-1-3h1m-1 1h1m-1-1h1m0 4h1m0 0h1m-1-5h1m0 6h1m0-6h1m2 6h1m0 0h1m0-2h1m-1 1h1m0 1h1m2-4h1m0-1h1m1 4h1m0 0h1m2-6h1m1 3h1m0-3h1m1 2h1m0-2h1m0 5h1m2-4h1m-1 2h1m-1 0h1m0 1h1m3-4h1m5 6h1m1-6h1m-178 13h1m2 0h1m2-5h1m2 3h1m4 3h1m3 1h1m2-1h1m4-1h1m1 0h1m6-3h1m1 0h1m1 0h1m-1 2h1m0-4h1m0 7h1m-1-7h1m0 0h1m2 2h1m4-1h1m0 1h1m1 4h1m0-4h1m1 4h1m0-3h1m0-1h1m-1 3h1m-1-2h1m-1-3h1m0 7h1m0-5h1m2 5h1m0-2h1m-1-1h1m-1 2h1m0 0h1m0 1h1m0-6h1m0 4h1m-1 2h1m2-1h1m-1-1h1m-1-2h1m0 4h1m0-4h1m0 2h1m1-3h1m0-2h1m1 2h1m3-2h1m0 2h1m-1-1h1m1 6h1m0-6h1m-1 4h1m0 0h1m-1-3h1m-1 5h1m0-2h1m0-3h1m-1-1h1m0 4h1m1-5h1m3 5h1m0-2h1m-1 1h1m0-3h1m-1-1h1m0 7h1m0-6h1m1 6h1m0-2h1m-1-5h1m-1 6h1m0-1h1m-1 1h1m-1-1h1m-1-4h1m1-1h1m-1 7h1m-1-4h1m0 0h1m0 4h1m0-2h1m1 0h1m-1 1h1m-1-5h1m0 2h1m0-3h1m0 3h1m-1 4h1m-1-2h1m1 1h1m0-6h1m0 3h1m-1 3h1m0-2h1m-1-3h1m0 5h1m-1-1h1m0 0h1m-1-1h1m-1-3h1m-1 3h1m0 3h1m0-5h1m0 4h1m0-3h1m-1-2h1m-1 1h1m0-2h1m-1 6h1m0-4h1m-1 3h1m0-3h1m0 2h1m-1 1h1m-1-2h1m0-1h1m-1 4h1m-1-6h1m-1 0h1m0 2h1m-1-2h1m-1 2h1m-1 3h1m0-5h1m-1 4h1m0-4h1m-1 3h1m2 1h1m-1 2h1m-1-6h1m0 0h1m-1 3h1m0 2h1m0-2h1m0-2h1m0 3h1m0 3h1m0 0h1m0-4h1m4 4h1m0-3h1m-1-2h1m0 3h1m-1-3h1m-1 5h1m1-7h1m-1 3h1m0 4h1m-1-1h1m0-4h1m-1 2h1m0-3h1m1 1h1m0 3h1m4-2h1m0 4h1m-1-3h1m5 1h1m-1-1h1m-223 11h1m30-4h1m21 2h1m0-5h1m11 7h1m8-4h1m1-2h1m1 1h1m-1 2h1m-1 3h1m2 0h1m1-6h1m0 3h1m-1-4h1m1 2h1m1-1h1m-1 3h1m1 3h1m-1 0h1m1-5h1m0-2h1m-1 3h1m-1 1h1m0-1h1m0 3h1m-1-1h1m0 1h1m-1 0h1m1-5h1m1 4h1m0-3h1m-1-2h1m-1 5h1m0-5h1m5 5h1m1 1h1m-1-6h1m0 6h1m0 1h1m-1-2h1m0 0h1m-1-3h1m0 0h1m0-2h1m-1 1h1m-1 4h1m0 2h1m-1-7h1m1 7h1m2-6h1m-1 0h1m-1 1h1m0 3h1m0-3h1m1 5h1m0-5h1m0 2h1m0 1h1m1-2h1m0 1h1m1-2h1m-1 3h1m0 0h1m-1 1h1m-1 0h1m1-2h1m-1-1h1m-1 1h1m2-1h1m-1 0h1m0-1h1m-1 0h1m-1 1h1m-1-1h1m-1 4h1m0-3h1m-1-1h1m-1 1h1m-1 2h1m1 0h1m-1 2h1m0-2h1m-1 0h1m-1 1h1m-1-5h1m0-1h1m-1 4h1m0-2h1m0 2h1m-1 3h1m-1-1h1m0 1h1m0-1h1m0-1h1m-1 2h1m0-6h1m0 2h1m0-1h1m0 4h1m-1-6h1m-1 3h1m-1 3h1m-1-3h1m0 2h1m-1-3h1m-1 5h1m0-1h1m0-2h1m-1-2h1m1-1h1m-1 6h1m-1-2h1m0-2h1m-1 4h1m0-2h1m1-2h1m0-3h1m1 5h1m-1-1h1m-1 3h1m0-4h1m-1-2h1m0 5h1m0-5h1m-1 4h1m1-4h1m-1 3h1m-1 2h1m-1-4h1m-1-2h1m0 6h1m-1-5h1m0 2h1m0 1h1m0 0h1m-1-2h1m-1-1h1m0 6h1m0-3h1m-1 1h1m-1-4h1m0 4h1m0-1h1m-1 3h1m0-7h1m0 5h1m-1 0h1m2 1h1m-1-3h1m-1 0h1m0-2h1m-1 1h1m1 4h1m-1-2h1m-1 2h1m1 0h1m1-6h1m0 1h1m-1 4h1m0-3h1m-1 3h1m-1 2h1m0-4h1m4-2h1m-1 3h1m1 1h1m-1-4h1m-1 6h1m0-3h1m0 0h1m-1 0h1m-1-2h1m0 2h1m1 3h1m3-2h1m4-2h1m2-1h1m1 1h1m0 2h1m2-4h1m1 1h1m7 0h1m-187 7h1m15 0h1m2 6h1m8 0h1m1-4h1m-1-1h1m2 3h1m0-2h1m-1-1h1m2-1h1m-1 5h1m1 1h1m-1-7h1m0 7h1m-1-1h1m0-3h1m0-1h1m1 4h1m-1 0h1m2-5h1m-1 2h1m1-1h1m1 1h1m-1-1h1m0 5h1m-1-5h1m1 4h1m0 0h1m-1-5h1m0 1h1m0 3h1m0-4h1m0-1h1m-1 2h1m0 0h1m-1 3h1m0-3h1m0 4h1m0-4h1m-1 5h1m-1-2h1m0-4h1m0-1h1m0 2h1m-1 2h1m0-4h1m-1 5h1m-1-5h1m-1 3h1m0 3h1m-1-4h1m2 0h1m-1-2h1m0 5h1m-1-5h1m-1 2h1m-1 1h1m1 4h1m0 0h1m0-7h1m0 0h1m-1 4h1m0-1h1m-1-1h1m-1 1h1m-1-3h1m0 6h1m0 0h1m0-1h1m1-4h1m-1 4h1m1 1h1m-1 1h1m-1 0h1m0-6h1m-1 5h1m-1 1h1m-1-5h1m1 1h1m-1-1h1m-1 2h1m-1-2h1m0 1h1m-1 4h1m0-5h1m-1 4h1m0-4h1m-1 1h1m0-2h1m2 6h1m0-5h1m1 2h1m0 1h1m-1 1h1m0-5h1m-1 0h1m-1 5h1m-1-5h1m0 4h1m0-4h1m-1 6h1m-1-1h1m1-6h1m-1 1h1m0 5h1m-1-6h1m-1 1h1m-1 0h1m0 1h1m0 1h1m2-2h1m-1 4h1m-1 2h1m1-3h1m0 1h1m1 0h1m0 0h1m0 2h1m-1-2h1m-1-3h1m0 4h1m-1-5h1m-1 6h1m0-2h1m0-4h1m-1 1h1m0 4h1m-1-2h1m0 1h1m-1-3h1m-1 3h1m0-3h1m0-2h1m1 6h1m0 0h1m-1-3h1m-1 4h1m0-5h1m-1 3h1m-1 2h1m-1 0h1m1-6h1m0 2h1m-1 4h1m0 0h1m-1-5h1m-1 2h1m0-4h1m2 7h1m3-5h1m-1 4h1m0-2h1m-1 1h1m-1-3h1m2 2h1m-1 1h1m0 2h1m-1-4h1m0-1h1m-1 4h1m-1 0h1m0 1h1m1-5h1m1 1h1m2 1h1m2 0h1m0-1h1m0 4h1m0-6h1m-1 2h1m0 0h1m-1-1h1m0 4h1m1-2h1m2-4h1m0 2h1m0 1h1m3 2h1m-186 3h1m8 7h1m4-3h1m1 3h1m3-2h1m1-3h1m1 0h1m0 1h1m2-3h1m-1 3h1m0 4h1m0-7h1m4 3h1m-1 0h1m0 4h1m0-1h1m1 0h1m-1 0h1m0-2h1m-1 2h1m0-3h1m-1 2h1m1 2h1m0-6h1m-1 6h1m0-5h1m-1 5h1m1-3h1m-1 1h1m0-5h1m-1 6h1m-1-1h1m-1 2h1m-1-2h1m-1-5h1m0 5h1m0 1h1m0 1h1m-1-3h1m-1 1h1m-1-1h1m0-2h1m2-1h1m0 6h1m-1-6h1m-1 6h1m0-2h1m-1 1h1m-1-4h1m0 2h1m0-4h1m0 4h1m-1 2h1m-1-5h1m-1-1h1m0 7h1m-1-3h1m1-1h1m-1 0h1m-1-3h1m-1 0h1m0 5h1m0 2h1m-1 0h1m0-3h1m0-4h1m0 7h1m-1 0h1m0-3h1m0-3h1m-1 1h1m-1 3h1m-1-4h1m-1 4h1m-1 0h1m0-4h1m-1 5h1m1-1h1m0 2h1m-1-4h1m0 2h1m-1 0h1m0-3h1m0 5h1m0-6h1m-1 1h1m-1 0h1m0-1h1m0 3h1m0 2h1m-1-3h1m0-3h1m0 2h1m-1 3h1m0-1h1m0 1h1m0-2h1m0-1h1m-1 0h1m1-1h1m0 4h1m-1 1h1m1-5h1m0 3h1m-1 1h1m0-2h1m0-1h1m-1 0h1m1 3h1m-1 2h1m-1-5h1m0 0h1m-1-1h1m-1 0h1m-1-1h1m-1 1h1m0-1h1m0 7h1m-1-1h1m-1 0h1m0-3h1m-1 0h1m-1 4h1m-1-6h1m0 0h1m-1 5h1m-1-4h1m0-2h1m-1 7h1m-1 0h1m-1-1h1m1 1h1m-1-5h1m0 3h1m-1-1h1m0-3h1m0 1h1m-1-1h1m0-1h1m-1 3h1m-1 2h1m0-1h1m-1-2h1m1 1h1m-1 1h1m1-1h1m2 2h1m-1-5h1m0 5h1m-1 1h1m0-1h1m-1 1h1m-1-4h1m0 2h1m-1-3h1m0 2h1m1-2h1m0 1h1m0 1h1m-1 3h1m-1-1h1m-1-5h1m-1 2h1m0 1h1m-1-2h1m0 1h1m-1 3h1m0-4h1m-1 2h1m1-1h1m-1 3h1m-1-5h1m0 5h1m0 2h1m-1-7h1m-1 6h1m-1-4h1m0 1h1m-1 3h1m0-5h1m0 3h1m1-3h1m0 5h1m0-4h1m3 5h1m-1-5h1m-1 3h1m-1-2h1m1-2h1m1 2h1m1 3h1m0-2h1m0-2h1m-1 1h1m-1 0h1m0 1h1m1-3h1m-1 1h1m-1 4h1m3-6h1m4 7h1m-1-7h1m-1 6h1m4 0h1m-1-2h1m-1-1h1m0 1h1m1 0h1m0-2h1m1 2h1m0-1h1m-1-1h1m0 0h1m3 4h1m7-3h1m-200 7h1m6-1h1m7 4h1m0-3h1m0-2h1m2 1h1m1 0h1m-1 1h1m1 5h1m0-5h1m0 5h1m3-6h1m-1 6h1m1-5h1m3 0h1m-1 5h1m-1 0h1m1-3h1m1 1h1m0 0h1m-1-1h1m0-3h1m0 4h1m3 0h1m0 0h1m0 1h1m-1-6h1m0 6h1m0 0h1m1-2h1m-1 2h1m1-5h1m2 3h1m-1-4h1m-1 4h1m0-4h1m0 2h1m0 4h1m0-6h1m2 2h1m1 0h1m-1 2h1m0 2h1m-1-3h1m-1 1h1m2-4h1m-1 1h1m1 0h1m-1 3h1m0 0h1m-1-2h1m0 1h1m-1 1h1m-1-4h1m0 2h1m0-1h1m-1 6h1m-1-5h1m0 2h1m0 3h1m-1-5h1m-1-2h1m0 5h1m0 1h1m-1-2h1m0-3h1m-1 6h1m-1 0h1m-1-7h1m1 2h1m-1 0h1m0 4h1m0-2h1m0-4h1m0 2h1m0 4h1m-1-3h1m-1 2h1m0-1h1m-1 2h1m-1-5h1m-1-1h1m-1 4h1m-1 1h1m-1-4h1m0 4h1m-1 1h1m0-2h1m-1-4h1m0 3h1m0-3h1m-1 2h1m-1 1h1m0-3h1m0 3h1m-1-3h1m-1 2h1m-1-1h1m0 2h1m-1-1h1m-1 3h1m0-2h1m-1-2h1m-1 2h1m0 0h1m0-1h1m-1-1h1m-1 5h1m0-6h1m0 5h1m-1-3h1m-1 0h1m0 2h1m0-4h1m4 2h1m0 4h1m-1 1h1m-1-7h1m1 0h1m0 5h1m-1-5h1m-1 2h1m-1 4h1m-1-2h1m0 3h1m2 0h1m-1-4h1m0 2h1m1-4h1m0 4h1m0-5h1m0 5h1m1-5h1m0 6h1m-1-6h1m0 2h1m-1-1h1m-1-1h1m-1 3h1m0-2h1m1 1h1m0 1h1m1-2h1m-1-1h1m-1 0h1m0 3h1m1 0h1m2 3h1m-1 0h1m0-2h1m-1 2h1m0-4h1m-1 3h1m1-5h1m0 6h1m-1-3h1m1 2h1m-1 2h1m0-3h1m3 3h1m1-1h1m-1 0h1m-1-6h1m0 0h1m3 5h1m0-2h1m-1 0h1m0-2h1m-1 3h1m2-2h1m0 0h1m1 0h1m-1 4h1m0 0h1m7-6h1m0 4h1m2-3h1m14 0h1m-196 9h1m12-2h1m0 0h1m-1 1h1m5 2h1m6 4h1m-1-5h1m0 5h1m2-5h1m-1 5h1m0-2h1m0 1h1m0-5h1m0 0h1m1-1h1m0 2h1m1 4h1m5-5h1m0 6h1m-1 0h1m0 0h1m0-4h1m1 4h1m-1 0h1m0-2h1m-1 1h1m1-1h1m0 2h1m0 0h1m-1-3h1m-1-2h1m1 5h1m-1-6h1m-1 5h1m0-3h1m0-2h1m0 5h1m0-5h1m-1 6h1m-1-1h1m1-5h1m0 3h1m-1 0h1m-1 2h1m0 1h1m-1-3h1m-1-4h1m-1 1h1m0-1h1m-1 7h1m1-3h1m0-1h1m0 2h1m-1 0h1m-1-2h1m1 4h1m5-6h1m-1 6h1m0-4h1m0 2h1m0-5h1m-1 0h1m1 5h1m-1 0h1m-1-5h1m-1 4h1m-1-1h1m2 1h1m-1 3h1m0-3h1m-1 2h1m1 1h1m0-2h1m-1-4h1m0 0h1m0 1h1m0 5h1m0-2h1m-1-3h1m0 4h1m-1-5h1m-1 0h1m-1 2h1m-1-2h1m1 1h1m0-2h1m-1 3h1m0 1h1m1-1h1m1 1h1m1 0h1m1 3h1m1-1h1m-1-5h1m0-1h1m0 4h1m-1 0h1m1 1h1m0-3h1m0-2h1m0 3h1m-1 0h1m0 3h1m0 0h1m-1-2h1m1 1h1m-1-1h1m1-3h1m5 4h1m-1-1h1m-1 2h1m0-3h1m2 0h1m-1 3h1m-1-2h1m-1-1h1m0 0h1m0 4h1m0-4h1m-1-2h1m-1 6h1m0-7h1m0 4h1m0-3h1m2 1h1m0 1h1m-1 0h1m0-2h1m4 6h1m2-6h1m-1 0h1m1 3h1m2 1h1m0-3h1m0 4h1m0-4h1m1 2h1m3-4h1m15 3h1m5 0h1m3 2h1m-184 4h1m0 5h1m4-3h1m3 3h1m0-6h1m1 2h1m0 0h1m-1 0h1m0 4h1m-1-6h1m5 5h1m3-4h1m0 4h1m0 2h1m-1-5h1m0 3h1m3-5h1m-1 5h1m4 0h1m4-4h1m0-1h1m-1 7h1m-1-1h1m0-5h1m0 3h1m0 2h1m1 0h1m1 0h1m0 1h1m-1-4h1m0 4h1m-1-5h1m1-2h1m-1 3h1m-1 0h1m0 1h1m-1 1h1m0-2h1m0-1h1m0-1h1m-1 5h1m0 0h1m0-1h1m-1-1h1m0 2h1m0-3h1m1 0h1m0 4h1m-1 0h1m-1-4h1m1-3h1m-1 2h1m0 5h1m-1-5h1m0 3h1m0 1h1m-1-5h1m-1 4h1m0-3h1m1 0h1m2 2h1m-1-3h1m0 6h1m1-5h1m1-2h1m-1 2h1m2 5h1m-1-7h1m-1 3h1m1 2h1m-1-2h1m1 1h1m-1 1h1m-1-3h1m1 5h1m0-4h1m-1 0h1m0-2h1m-1 1h1m2 2h1m0-4h1m1 2h1m-1 1h1m0-3h1m0 6h1m4-2h1m2-1h1m1-3h1m0 3h1m5 3h1m3-4h1m2 2h1m0-2h1m1 5h1m0-1h1m1-2h1m1 2h1m1-2h1m2-4h1m0 6h1m22-2h1m10 2h1m7-1h1m-200 5h1m13 2h1m7 2h1m1-4h1m0 2h1m0 1h1m6-3h1m-1-1h1m7 1h1m2 2h1m0-1h1m2 1h1m7-1h1m3-2h1m0 0h1m3 1h1m-1 1h1m2 3h1m1-4h1m0 3h1m2-2h1m0 4h1m2-4h1m-1-3h1m-1 4h1m-1 3h1m0 0h1m0-2h1m2 0h1m-1-2h1m2-1h1m0 4h1m1-5h1m2 4h1m1-3h1m-1-1h1m0 3h1m1 3h1m2-2h1m1-3h1m2 2h1m-1 0h1m5 1h1m-1 0h1m0-2h1m3 0h1m1-1h1m4 2h1m2-1h1m0 0h1m2 2h1m-1-5h1m0 3h1m12 1h1m1-2h1m3 1h1m8 2h1m10-2h1m-157 8h1m13 1h1m6 3h1m2-5h1m0 4h1m1-4h1m0 4h1m11-2h1m0 1h1m1-2h1m-1 3h1m5-1h1m4-5h1m1 5h1m1-3h1m-1-1h1m12 1h1m0 0h1m2 2h1m1 0h1m1-2h1m5 2h1m2-4h1m8 5h1m8-4h1m5 4h1m1-1h1m16-3h1m10 5h1m67-6h1m-201 10h1m10 5h1m1-2h1m0 0h1m4 0h1m10-1h1m-1 2h1m1-3h1m2 2h1m0-5h1m4 2h1m2 3h1m1-5h1m15 4h1m-1-1h1m2 2h1m1-3h1m3 1h1m1 4h1m0-5h1m8 5h1m5-3h1m9 3h1m2-1h1m1-5h1m14 2h1m6-1h1m13-1h1m13 3h1m8 0h1m-169 6h1m44 0h1m10 1h1m12-1h1m3-2h1m35 2h1m10 0h1m29 1h1m14 3h1m-142 2h1m22 5h1m26-5h1m1 3h1m10-3h1m22 3h1m13-1h1m-1 0h1m19 4h1m2-6h1m2 5h1m31 2h1m-105 7h1m4-3h1m22-1h1m1 1h1m0 0h1m7-1h1m13 4h1m-1-2h1m4-4h1m5 7h1m9-1h1m-96 7h1m18 2h1m15-4h1m0-2h1m3 2h1m0-1h1m1 3h1m1 1h1m1-3h1m3 0h1m11 1h1m0-2h1m0 5h1m2-6h1m4 2h1m1-2h1m3 6h1m3-4h1m4-2h1m8 4h1m0-4h1m6 6h1m0-3h1m-140 5h1m63 4h1m-1-4h1m4 5h1m1-5h1m6 6h1m2-2h1m1 0h1m1 2h1m0-2h1m6 2h1m1-5h1m8 5h1m5-1h1m3-3h1m3 4h1m2 0h1m10-6h1m0 1h1m-223 6h1m39 0h1m54 1h1m28 1h1m1 3h1m19 2h1m5-1h1m0-1h1m-1-4h1m0 5h1m25-1h1m-1 2h1m9 0h1m-1-6h1m2 6h1m0-1h1m6-5h1m3-1h1m2 6h1m0-1h1m2-1h1m4-4h1m3 3h1m1 0h1m0 1h1m19 1h1m-136 10h1m15-4h1m19-2h1m5 3h1m7-3h1m-1-1h1m0 7h1m3-5h1m1-2h1m-1 4h1m2 1h1m0-2h1m2 3h1m-1-2h1m0 2h1m-1 0h1m2-1h1m-1-5h1m5 7h1m0-5h1m0-1h1m2 0h1m0 6h1m0-2h1m0-4h1m3 0h1m0 5h1m1-6h1m1 1h1m0 6h1m-1-6h1m1 3h1m3 0h1m1-2h1m0 5h1m0-5h1m4 4h1m5-1h1m1-4h1m5 0h1m10 5h1m0-5h1m-299 8h1m14 5h1m0-3h1m5 3h1m119 0h1m48-4h1m2 2h1m5 1h1m2-1h1m1 2h1m2-4h1m1 3h1m4-3h1m2 4h1m6-4h1m0 1h1m1 0h1m-1 2h1m0 2h1m-1 0h1m1-3h1m3 1h1m2 0h1m-1 2h1m-1-2h1m0-3h1m2-2h1m3 3h1m1-2h1m-1-1h1m10 0h1m0 5h1m9-2h1m-224 8h1m4 4h1m11 0h1m6-7h1m12 6h1m39-4h1m39 3h1m6-5h1m6 5h1m4 2h1m1-5h1m-1 4h1m1-1h1m2-1h1m2 2h1m0 1h1m-1-1h1m8-5h1m2 3h1m1-4h1m5 3h1m0 2h1m0-5h1m0 3h1m0-2h1m1 0h1m2 1h1m-1-2h1m-1 3h1m0 3h1m1-5h1m6 6h1m0-7h1m-1 6h1m0 0h1m3-1h1m3-5h1m11 2h1m3 5h1m6-5h1m0 4h1m-320 9h1m55-5h1m3 3h1m22 2h1m15-1h1m23 0h1m8 1h1m12 0h1m72-2h1m6-1h1m11-3h1m0 0h1m0 4h1m-1-2h1m0 4h1m0-1h1m-1-6h1m0 1h1m0-1h1m-1 0h1m4 3h1m2 4h1m0-1h1m-1 1h1m2-6h1m1 6h1m-1-1h1m5-1h1m0-3h1m-1 0h1m7 2h1m-1 3h1m0-2h1m0-3h1m-1 3h1m3-1h1m0 0h1m2-2h1m3-1h1m-1 5h1m-1-5h1m4-1h1m1 2h1m4 0h1m0 1h1m0 4h1m3-7h1m0 4h1m10-4h1m-311 12h1m7 1h1m12 2h1m12 0h1m0-1h1m9 0h1m33-2h1m0-3h1m39 5h1m6-6h1m4 5h1m3 0h1m20-5h1m29 2h1m10-1h1m4 1h1m2-1h1m4 3h1m0 3h1m5-7h1m3 2h1m2 1h1m1 3h1m1 1h1m2-6h1m1-1h1m1 2h1m0 1h1m0-2h1m-1 6h1m0-2h1m3-3h1m-1-2h1m0 0h1m2 4h1m8 1h1m2 1h1m-1-6h1m0 3h1m2 3h1m0 0h1m-1 1h1m0-6h1m-1-1h1m4 4h1m2 2h1m1-6h1m0 0h1m-1 2h1m0 3h1m-1-1h1m-1 0h1m1-3h1m0 2h1m4 3h1m1 1h1m1-5h1m0 1h1m-294 9h1m25-2h1m5 3h1m9-4h1m31 4h1m4-5h1m0 4h1m1 3h1m0-4h1m4 3h1m3-2h1m1 3h1m3 0h1m11-2h1m0 1h1m0-5h1m0 1h1m1 5h1m-1-3h1m4-3h1m-1 4h1m2-2h1m3 1h1m-1 3h1m2-2h1m9-3h1m3 5h1m33-2h1m28-4h1m1 2h1m0 1h1m-1 3h1m3-6h1m-1 1h1m3 4h1m4-5h1m3 6h1m1-3h1m-1-3h1m1 1h1m4-2h1m0 5h1m1 2h1m0-5h1m2 0h1m0 2h1m0-4h1m-1 1h1m2 3h1m0-4h1m2 6h1m-1-6h1m1 3h1m1 3h1m-1-2h1m0 1h1m0-5h1m-1 2h1m5-1h1m4 1h1m0-2h1m3 5h1m-1-1h1m1-2h1m19-2h1m-321 8h1m81 4h1m5-3h1m6-1h1m5 4h1m9-4h1m0 0h1m-1 6h1m0-5h1m1 5h1m0-6h1m0 6h1m7 0h1m1 0h1m-1-3h1m1-1h1m0 5h1m4 0h1m0-2h1m-1 2h1m2-2h1m1 2h1m4-2h1m0 1h1m1-1h1m4-2h1m1 3h1m1 1h1m3-4h1m-1 2h1m0-1h1m0-1h1m1-2h1m4 2h1m1-1h1m6 2h1m3 0h1m17-4h1m-1 7h1m13-2h1m9-3h1m3 1h1m1 2h1m0 2h1m2-1h1m0-3h1m-1 3h1m2-5h1m0 5h1m0-1h1m5 0h1m1 1h1m0-1h1m-1-4h1m2-1h1m-1 7h1m1-6h1m-1 1h1m0 3h1m1 2h1m0-2h1m1-3h1m2 3h1m0-4h1m0 4h1m-1 0h1m0-2h1m0-2h1m-1 2h1m3-3h1m3 0h1m0 6h1m2-2h1m1 1h1m1-1h1m0-4h1m0 3h1m-1 0h1m2 4h1m22 0h1m1-6h1m-1 1h1m-1-2h1m-278 9h1m1 1h1m3 5h1m16-4h1m-1 4h1m3-2h1m1-4h1m-1 0h1m12 6h1m10-3h1m0 0h1m6 1h1m2-3h1m5 2h1m1 3h1m0-2h1m0-1h1m0-1h1m5 2h1m0-1h1m1-4h1m-1 5h1m0-4h1m2 0h1m-1 5h1m0-3h1m-1 1h1m1 3h1m-1 0h1m1-3h1m2 1h1m0-1h1m1 1h1m0-2h1m1 1h1m0-2h1m2-2h1m-1 4h1m1 3h1m0 0h1m0-2h1m3 0h1m-1 2h1m2-3h1m0 1h1m0-2h1m-1 1h1m1-3h1m-1 1h1m0 1h1m-1-3h1m2 4h1m1 1h1m1-1h1m0 0h1m1-3h1m2 1h1m1-2h1m1 0h1m-1 7h1m-1 0h1m1-2h1m-1 2h1m29-2h1m-1-3h1m1 3h1m6 0h1m0 2h1m5-3h1m3 0h1m0-2h1m-1-1h1m5 4h1m0-3h1m0-2h1m-1 3h1m1 4h1m1-7h1m0 5h1m-1-4h1m0 3h1m2 1h1m1-5h1m-1 6h1m1-4h1m4 3h1m4-5h1m1 6h1m0 0h1m0 1h1m1-1h1m2-3h1m7-1h1m1 3h1m3-5h1m1 0h1m1 2h1m1-2h1m4 2h1m7-1h1m-302 11h1m18-4h1m16 6h1m5-3h1m13-3h1m9 4h1m11-1h1m1 0h1m2 0h1m0-1h1m0 4h1m-1-1h1m-1-4h1m-1-1h1m0 4h1m1 1h1m1 1h1m9-2h1m0 3h1m0-4h1m0 2h1m3-5h1m3 4h1m0 2h1m-1-1h1m0-3h1m0 4h1m0 0h1m0-6h1m-1 2h1m0 4h1m-1 0h1m2 0h1m-1-5h1m0 4h1m0 1h1m1-3h1m-1 4h1m0-4h1m-1-2h1m0 6h1m0-1h1m-1-2h1m0 3h1m0-7h1m-1 3h1m-1 2h1m0-3h1m0-2h1m-1 7h1m1-3h1m2-1h1m-1 0h1m-1 0h1m1 3h1m0 1h1m0-7h1m1 2h1m0 3h1m1 2h1m1 0h1m2-3h1m0 2h1m0-5h1m-1 5h1m2-5h1m-1 2h1m2 3h1m2 0h1m2-4h1m2 0h1m0 5h1m0-3h1m-1 3h1m0-1h1m-1 0h1m5-6h1m-1 7h1m0-7h1m21 7h1m3-5h1m7 4h1m2-1h1m5 1h1m3-1h1m5 2h1m2-5h1m-1 3h1m0 2h1m5-6h1m1 0h1m2 2h1m0 4h1m1-6h1m0 1h1m5 1h1m0 0h1m0-2h1m8 6h1m3-5h1m0 0h1m17-2h1m-278 11h1m15 1h1m19 0h1m4-3h1m1 5h1m3 0h1m3 1h1m1-4h1m1 4h1m0-4h1m5 2h1m-1-2h1m4 1h1m4 2h1m0-1h1m1-4h1m0 4h1m2-4h1m1 6h1m2-3h1m-1-3h1m-1 1h1m0 3h1m0-2h1m3 4h1m0-7h1m-1 1h1m2 5h1m1-5h1m0 6h1m2-7h1m-1 6h1m0-1h1m0-1h1m2-3h1m-1 4h1m-1 2h1m0-2h1m0 2h1m0-2h1m0 1h1m0-3h1m-1-2h1m-1 0h1m0 4h1m0-3h1m-1 4h1m-1 0h1m0-2h1m0-1h1m-1 4h1m0 0h1m0-6h1m0 4h1m-1 1h1m2-3h1m0-2h1m-1-1h1m-1 6h1m0-5h1m1-1h1m0 0h1m-1 5h1m-1-5h1m0 3h1m-1-3h1m1 4h1m-1 0h1m3-2h1m0-2h1m0 3h1m-1 2h1m0-1h1m-1-4h1m0 4h1m-1-4h1m-1 2h1m1-2h1m1 3h1m1 0h1m0 1h1m-1-4h1m1 2h1m-1 4h1m-1-5h1m-1 4h1m0 2h1m1 0h1m0-6h1m0-1h1m0 5h1m0-5h1m0 2h1m0 0h1m0-1h1m6 1h1m-1-1h1m0-1h1m2 2h1m-1-2h1m0 0h1m0 2h1m0 2h1m0 1h1m0 0h1m5-4h1m0-1h1m-1 2h1m7 2h1m0-1h1m3 1h1m2 3h1m1-2h1m0-1h1m0-2h1m0 1h1m-1 4h1m0 0h1m-1-3h1m2-2h1m2 5h1m-1-3h1m1-4h1m0 5h1m2 1h1m0 0h1m-1-1h1m2-2h1m0 0h1m-1 1h1m1-4h1m-1 1h1m2 1h1m-1 4h1m1 1h1m0-3h1m1 2h1m0-1h1m1 2h1m1-2h1m1-5h1m0 7h1m4-5h1m0-2h1m1 7h1m-1-7h1m0 4h1m2 2h1m0 1h1m3-3h1m5 1h1m5-4h1m3 4h1m6 2h1m2-4h1m2 2h1m-250 3h1m0 2h1m16-2h1m2 6h1m-1-3h1m1 2h1m7 1h1m0-5h1m-1 6h1m0-6h1m1 6h1m0-1h1m1-3h1m2 3h1m0-6h1m6 6h1m0-5h1m-1 2h1m0 0h1m0-2h1m-1 2h1m0 1h1m-1-4h1m0 3h1m-1 1h1m4-3h1m-1 2h1m0-3h1m0 7h1m0-5h1m-1 3h1m-1-5h1m0 1h1m0 6h1m0-5h1m0 5h1m0-2h1m-1-5h1m0 1h1m-1 5h1m-1-2h1m3 2h1m-1 1h1m-1-2h1m-1-4h1m1 4h1m-1-4h1m1 3h1m-1-2h1m0 2h1m2-3h1m1 1h1m0 4h1m0-4h1m0 3h1m-1 1h1m-1-5h1m-1 5h1m1 0h1m-1-5h1m-1 0h1m-1 3h1m0-1h1m-1 3h1m-1 0h1m-1 0h1m0 0h1m-1-1h1m0 0h1m-1-5h1m-1 2h1m0 2h1m1 0h1m-1-2h1m0 4h1m-1-4h1m0 0h1m-1-2h1m-1 1h1m-1 4h1m-1 1h1m-1-5h1m1 0h1m1-1h1m-1 2h1m-1 2h1m-1-1h1m0 2h1m1-3h1m-1 0h1m-1 2h1m-1 2h1m0-6h1m-1 6h1m-1-3h1m-1-3h1m-1 7h1m0-3h1m-1-2h1m0 3h1m0 1h1m-1 1h1m0-7h1m0 0h1m-1 6h1m0 0h1m-1 0h1m0-2h1m0 1h1m2-5h1m-1 4h1m0 1h1m0 1h1m-1-6h1m1 4h1m0-2h1m1 3h1m0-4h1m-1-1h1m7 3h1m3-3h1m0 4h1m1-4h1m8 0h1m0 4h1m-1 1h1m3-2h1m-1-1h1m2-1h1m5 1h1m5 4h1m1-4h1m4-1h1m-1 6h1m0-7h1m1 4h1m1 1h1m0-5h1m2 4h1m-1 0h1m0 1h1m0-3h1m11 4h1m10-1h1m-1 0h1m1-5h1m1 7h1m5-3h1m3-3h1m-244 13h1m0 1h1m10-6h1m1 5h1m3-3h1m1 2h1m1-3h1m2 5h1m2-5h1m1 4h1m1-1h1m5 2h1m1-2h1m0-2h1m4-1h1m3 5h1m2-3h1m2 3h1m1-2h1m0 1h1m-1-4h1m3 4h1m0-2h1m0 1h1m0-1h1m-1 3h1m-1-6h1m1 3h1m0-2h1m1 5h1m-1-3h1m-1 0h1m0-3h1m-1 6h1m0-2h1m3-4h1m0 1h1m1 0h1m-1 5h1m0 0h1m0-3h1m1 0h1m0 1h1m-1-1h1m0 0h1m0 3h1m-1-1h1m-1-2h1m-1-2h1m1 2h1m-1-2h1m0-2h1m-1 2h1m-1-1h1m0 1h1m-1 3h1m-1 2h1m0-7h1m-1 6h1m0-4h1m0-2h1m-1 3h1m0 4h1m-1 0h1m-1-4h1m0 1h1m-1-4h1m0 4h1m-1 2h1m0 0h1m-1-6h1m0 2h1m-1 1h1m-1 0h1m0 3h1m0 0h1m0-2h1m-1-2h1m-1 5h1m0-7h1m-1 6h1m-1 0h1m-1 0h1m1-2h1m1-1h1m-1 4h1m-1 0h1m0-6h1m0 3h1m-1 0h1m0 2h1m-1 1h1m0-6h1m-1 4h1m-1-5h1m2 6h1m1 1h1m-1-2h1m1-3h1m-1 4h1m0-2h1m0 0h1m0-3h1m-1 2h1m2 2h1m0-4h1m1 3h1m3 1h1m-1 1h1m0-3h1m0 2h1m-1-2h1m-1-1h1m0 5h1m1-4h1m-1 2h1m1-1h1m0 2h1m1-2h1m-1-4h1m1 5h1m2-4h1m3 0h1m0 0h1m0 5h1m0 1h1m2-3h1m0-3h1m-1 5h1m0-6h1m2 3h1m-1 4h1m5-1h1m1 1h1m0-1h1m-1 0h1m0-2h1m2 0h1m1 1h1m1-4h1m-1 5h1m9-1h1m-1-4h1m3 4h1m0 1h1m-1-1h1m3-1h1m4-2h1m-1 0h1m3 1h1m0 2h1m1-4h1m6-1h1m1 4h1m3-2h1m0-2h1m0 7h1m5-5h1m-1 2h1m4-4h1m0 6h1m-260 3h1m12-1h1m10 6h1m1-6h1m2 2h1m0 5h1m11-6h1m6 3h1m-1 1h1m3 2h1m6-5h1m0 3h1m1 2h1m2-1h1m1-2h1m-1 2h1m-1 1h1m0-1h1m-1-4h1m2 3h1m2-4h1m0 5h1m-1-6h1m-1 3h1m-1 1h1m-1 3h1m0-5h1m1 3h1m0-5h1m-1 7h1m0-2h1m-1-5h1m0 5h1m3 0h1m0-5h1m0 5h1m-1-3h1m0 3h1m-1 2h1m-1-2h1m-1-4h1m0 0h1m-1 0h1m0 6h1m-1-4h1m-1 1h1m-1-3h1m-1 4h1m1-3h1m-1-1h1m-1 1h1m-1 5h1m1-4h1m-1-3h1m-1 7h1m0-1h1m-1-6h1m0 5h1m0 2h1m0-2h1m-1-1h1m-1 0h1m0 1h1m-1-3h1m0 3h1m-1 1h1m0-3h1m-1-2h1m1-1h1m0 5h1m-1 1h1m-1-6h1m0 3h1m0 0h1m0 4h1m-1 0h1m1-5h1m0 1h1m0 1h1m-1 0h1m-1-1h1m-1 4h1m-1-2h1m0 0h1m-1 0h1m-1-5h1m0 5h1m0-1h1m-1 1h1m-1-3h1m-1 5h1m0-3h1m-1 3h1m1-6h1m-1 1h1m-1 0h1m0-2h1m-1 5h1m-1 1h1m-1-3h1m-1-2h1m1 1h1m-1 5h1m-1-6h1m0 0h1m-1 6h1m-1 0h1m-1-3h1m-1 0h1m1 2h1m-1-2h1m0-2h1m1 0h1m-1 0h1m0 5h1m1-7h1m0 1h1m0 5h1m-1 1h1m-1-3h1m0 1h1m0-3h1m0 4h1m1 1h1m0-5h1m0 3h1m0-3h1m-1 5h1m-1-2h1m0-2h1m-1-3h1m0 0h1m1 2h1m-1 2h1m-1 3h1m-1-3h1m0 0h1m-1-2h1m-1 2h1m3 1h1m-1-2h1m0 3h1m-1-6h1m0 7h1m0-6h1m1 1h1m1 0h1m0-2h1m-1 3h1m-1 3h1m2-3h1m0-2h1m-1 0h1m2 5h1m1-2h1m-1 1h1m0-2h1m-1 0h1m-1 3h1m-1-6h1m-1 3h1m-1-1h1m2-1h1m0-1h1m3 3h1m0-1h1m3 1h1m0-1h1m4 1h1m2-1h1m3 3h1m5 0h1m0-2h1m-1 4h1m1-5h1m0-1h1m0 4h1m0-1h1m-1-4h1m1 6h1m0 0h1m3 0h1m3 1h1m0-7h1m0 3h1m-1 0h1m3-2h1m3 0h1m-1 2h1m-1-3h1m1 0h1m0 0h1m3 5h1m1 0h1m0-1h1m0 2h1m2-5h1m-1 1h1m0 4h1m4-1h1m-1-5h1m-1 1h1m11-1h1m24 1h1m-301 10h1m32-3h1m8 0h1m4 7h1m3-6h1m0 5h1m0-5h1m-1 6h1m0-2h1m2 2h1m0-6h1m1 2h1m0 0h1m-1 0h1m2-1h1m4 4h1m3 1h1m-1-3h1m-1-3h1m2 1h1m1 2h1m1-2h1m1 3h1m1 0h1m-1 2h1m1 0h1m-1 0h1m0-5h1m0 0h1m-1 0h1m-1 2h1m0-3h1m-1 3h1m0 2h1m-1-6h1m2 6h1m-1-3h1m-1-1h1m-1 4h1m0-1h1m0 0h1m-1-3h1m0 0h1m-1 2h1m0-1h1m-1 1h1m0 2h1m0-2h1m-1-4h1m1 7h1m-1-3h1m0-2h1m-1-1h1m0 3h1m-1-3h1m-1 3h1m0-4h1m-1 7h1m0-3h1m-1 2h1m0 1h1m-1-7h1m3 3h1m0 2h1m0-4h1m-1 4h1m0-2h1m0-2h1m-1 2h1m-1 2h1m0-1h1m0 2h1m-1-4h1m0-2h1m-1 0h1m2 3h1m-1 0h1m0 2h1m0-1h1m0 3h1m1-6h1m0 3h1m0 3h1m0-1h1m-1-6h1m-1 3h1m0-2h1m0 3h1m0-1h1m1 4h1m0-3h1m-1 0h1m1-3h1m0 2h1m0-1h1m-1 0h1m-1 1h1m-1-1h1m0 1h1m-1-2h1m0 1h1m-1 3h1m0-5h1m1 2h1m-1 3h1m-1-2h1m-1 3h1m0-1h1m0-3h1m-1-2h1m0 1h1m0 2h1m0-2h1m-1 2h1m-1-3h1m0 6h1m-1 1h1m0-6h1m-1 4h1m0 0h1m-1 0h1m0-2h1m-1-1h1m-1 3h1m0 0h1m-1-4h1m-1 6h1m-1-7h1m0 4h1m0-4h1m-1 5h1m0 0h1m0-1h1m-1 3h1m-1-7h1m1 2h1m0 2h1m1 1h1m2 1h1m-1-2h1m0 0h1m-1 1h1m3-1h1m0-3h1m3 3h1m-1 0h1m0-1h1m4-2h1m2 2h1m2-2h1m2 4h1m2-1h1m2-2h1m-1 4h1m1 0h1m-1-5h1m-1-1h1m2 7h1m1-1h1m-1-4h1m2 0h1m0 1h1m0 4h1m0-7h1m-1 5h1m7-4h1m3 1h1m0-2h1m-1 1h1m0 5h1m4-2h1m-1 2h1m0-3h1m3 2h1m1-5h1m2 2h1m2-2h1m9 4h1m0 3h1m-239 4h1m11-2h1m1 5h1m1-4h1m13 0h1m1 4h1m-1-2h1m1-3h1m0 6h1m0-1h1m0 0h1m2-3h1m2-2h1m0 0h1m0 4h1m0 1h1m0-5h1m2 4h1m-1-2h1m0 3h1m-1 0h1m0-2h1m0 1h1m-1-1h1m-1 1h1m2 2h1m-1-2h1m0-1h1m0 1h1m0 0h1m0-5h1m-1 4h1m-1-1h1m0-2h1m0 1h1m0 5h1m1-5h1m-1 1h1m2 1h1m0 3h1m1-4h1m-1 2h1m0 2h1m-1-1h1m0-5h1m-1 0h1m-1 5h1m0-2h1m0 2h1m-1-5h1m2 5h1m-1-6h1m-1 7h1m0-6h1m-1 4h1m-1-1h1m0 3h1m0-3h1m-1-1h1m1 3h1m-1-5h1m0 0h1m-1 6h1m1-6h1m2 0h1m0 2h1m-1-3h1m-1 0h1m-1 6h1m0 0h1m-1-2h1m0 2h1m-1-1h1m-1 2h1m-1-5h1m0 2h1m-1-4h1m-1 0h1m-1 7h1m-1 0h1m0-4h1m-1-2h1m-1 4h1m-1 0h1m0 1h1m-1-1h1m-1-3h1m0-2h1m-1 1h1m-1 5h1m1-3h1m-1 2h1m-1-5h1m-1 5h1m-1-3h1m0-2h1m-1 3h1m0 1h1m-1 1h1m0-4h1m-1 2h1m-1-1h1m0 5h1m0-3h1m0 1h1m-1-4h1m-1 6h1m1 0h1m0 0h1m0-5h1m-1 2h1m-1-1h1m0 3h1m-1-3h1m0 4h1m-1-3h1m0-2h1m-1 4h1m0-1h1m-1-5h1m-1 1h1m-1 4h1m-1 2h1m0-1h1m0 0h1m0-3h1m0 1h1m0 1h1m-1 1h1m-1-3h1m0 1h1m-1-4h1m0 5h1m2 0h1m-1-4h1m-1 0h1m0 1h1m-1-1h1m1-1h1m-1 4h1m-1 0h1m0 3h1m-1-1h1m-1-4h1m0 0h1m0 3h1m-1-4h1m0 2h1m0 3h1m0-4h1m0 0h1m1 1h1m1 1h1m0 2h1m1 0h1m3-6h1m-1 3h1m-1 2h1m-1-5h1m-1 3h1m0 1h1m-1 0h1m-1 0h1m0-3h1m0 5h1m-1-6h1m-1 7h1m2-2h1m1-5h1m2 3h1m0-1h1m5 0h1m3 5h1m5-5h1m1 5h1m0-6h1m1 0h1m8-1h1m0 1h1m0 5h1m5 0h1m12-3h1m1-3h1m0 6h1m-1 1h1m1-5h1m-1 2h1m0-1h1m-1 0h1m2-1h1m-1-1h1m-1 6h1m0 0h1m3-6h1m8 0h1m-1-1h1m0 0h1m40 0h1m-285 11h1m30 0h1m13-3h1m1 6h1m2-6h1m-1 6h1m0 0h1m4-5h1m0 0h1m0 2h1m2 4h1m-1-3h1m-1 0h1m4 1h1m0-3h1m0 4h1m0-2h1m-1-1h1m0 1h1m-1-4h1m1 7h1m1-6h1m0 1h1m-1 5h1m-1-1h1m1-4h1m0-1h1m0 6h1m0-6h1m-1 6h1m-1-5h1m0 2h1m-1-2h1m0 0h1m-1 4h1m0-3h1m0-1h1m-1 2h1m0-2h1m-1 0h1m-1 4h1m0-4h1m-1 5h1m0-7h1m-1 6h1m-1-4h1m0 5h1m1-1h1m0-6h1m0 7h1m0 0h1m0-1h1m-1-5h1m-1 1h1m0-2h1m0 7h1m-1-1h1m0-5h1m-1 6h1m0-4h1m0 3h1m-1 1h1m0-5h1m-1 0h1m0 4h1m0-2h1m0 1h1m-1-5h1m0 5h1m-1-1h1m-1 0h1m-1-1h1m1 2h1m-1 1h1m0-4h1m-1 1h1m0-1h1m-1 0h1m0 3h1m0-2h1m-1 2h1m0-4h1m1 5h1m-1-1h1m-1-1h1m0-4h1m-1 3h1m0 2h1m-1-1h1m-1 3h1m0-6h1m0 5h1m0-6h1m-1 4h1m0 3h1m1-5h1m1 1h1m0-3h1m0 3h1m-1-2h1m0 5h1m0-1h1m-1 0h1m0-4h1m1 5h1m0-5h1m-1 3h1m-1 1h1m2-5h1m0 3h1m0-3h1m0 1h1m0 4h1m-1-4h1m-1 2h1m0-2h1m1 2h1m-1 2h1m-1-2h1m5 4h1m1-3h1m0 3h1m5-7h1m1 2h1m-1 1h1m1-3h1m-1 0h1m9 6h1m10 1h1m8-1h1m4-6h1m-1 2h1m2-1h1m2 1h1m6 3h1m4-5h1m2 4h1m1 3h1m12-4h1m10 4h1m-219 5h1m2-4h1m2 1h1m5 6h1m0-4h1m0 1h1m1-2h1m1 4h1m0-5h1m3 4h1m0 1h1m-1-6h1m-1 6h1m2 1h1m0-6h1m0 1h1m-1 3h1m-1-5h1m1 5h1m0-2h1m1 4h1m0 0h1m1-5h1m0 2h1m0-1h1m0-1h1m-1 2h1m-1 2h1m-1-5h1m-1 3h1m0 3h1m1-6h1m0 5h1m-1-1h1m-1 0h1m0-4h1m-1 5h1m0-2h1m0-2h1m0 3h1m0-1h1m-1-2h1m-1 2h1m0 2h1m1-4h1m0 4h1m-1 1h1m0-7h1m0 1h1m-1 1h1m-1 1h1m1 1h1m-1 2h1m0-1h1m0-2h1m-1 1h1m0 0h1m-1 3h1m1-1h1m-1 1h1m-1-3h1m0-1h1m1 4h1m0 0h1m-1 0h1m-1-6h1m-1 3h1m1-3h1m0 1h1m-1-2h1m-1 4h1m0-3h1m-1 6h1m-1 0h1m0-5h1m0 2h1m-1 0h1m0-2h1m-1 1h1m0-2h1m-1 6h1m0-5h1m0-1h1m-1 0h1m-1 1h1m0 2h1m-1-1h1m0 3h1m0-3h1m-1 4h1m0-1h1m-1-4h1m-1 5h1m-1-6h1m1 0h1m0 2h1m-1 0h1m-1 2h1m1-3h1m-1 5h1m0-4h1m0-2h1m0 1h1m0 2h1m0-1h1m-1-2h1m-1 2h1m0-1h1m0-2h1m-1 5h1m-1-2h1m-1 1h1m-1 2h1m4 0h1m-1-5h1m0 5h1m3-5h1m0-1h1m-1 3h1m0 1h1m-1-2h1m0 0h1m1-1h1m1 1h1m0 5h1m0-2h1m4-4h1m5 2h1m2 1h1m1-1h1m2-2h1m2 4h1m5-2h1m3-1h1m29 4h1m19-6h1m40 1h1m-229 11h1m1 3h1m9-7h1m1 6h1m-1 1h1m0 0h1m1-6h1m0 4h1m1-5h1m0 1h1m1 2h1m0 4h1m-1-3h1m-1-1h1m0-2h1m3 5h1m1-3h1m0-1h1m0-2h1m1 1h1m0 2h1m-1-1h1m0 2h1m0-4h1m-1 0h1m-1 7h1m0-1h1m0-6h1m1 4h1m-1 1h1m0-2h1m-1 4h1m1-4h1m-1-1h1m-1 3h1m0 0h1m-1-1h1m0 2h1m-1-5h1m0 4h1m0 1h1m-1-5h1m0 3h1m1 3h1m-1-4h1m-1-1h1m-1 2h1m1 0h1m-1 0h1m0 2h1m-1 0h1m-1 1h1m0-1h1m0 1h1m-1-6h1m2 5h1m0-2h1m0-2h1m-1-2h1m0 5h1m-1-2h1m0-2h1m0 0h1m-1-1h1m0 6h1m0 1h1m-1-5h1m-1 5h1m2-7h1m-1 0h1m-1 7h1m-1 0h1m0-4h1m-1-1h1m0-1h1m0 3h1m-1-3h1m0-1h1m0 0h1m-1 3h1m1-1h1m-1 5h1m0-3h1m-1 2h1m-1-3h1m2 0h1m-1 1h1m0 2h1m-1-5h1m3 0h1m0 2h1m-1-2h1m1 1h1m0 0h1m1 1h1m1 0h1m-1-1h1m2-1h1m0-1h1m-1 1h1m3 4h1m2-5h1m-1 4h1m27-3h1m1 2h1m4 2h1m10-1h1m7-1h1m-1-2h1m1 5h1m1 0h1m2-6h1m1 4h1m1-2h1m27 0h1m-201 7h1m9 3h1m-1 1h1m-1 0h1m0-2h1m1-3h1m-1 3h1m0 1h1m3-3h1m0 1h1m1 2h1m2 0h1m0-1h1m0 2h1m1-5h1m1 6h1m1-6h1m0 2h1m0 5h1m0 0h1m-1-5h1m1-1h1m0 2h1m-1-3h1m-1 4h1m2-1h1m-1 4h1m-1-4h1m-1-1h1m1 1h1m0-3h1m0 4h1m0-1h1m1 0h1m-1 0h1m2 4h1m0-1h1m1-6h1m-1 4h1m0 3h1m-1-2h1m0 0h1m-1-4h1m2 0h1m-1 4h1m0 0h1m-1 2h1m0-4h1m0 3h1m0 0h1m1-1h1m0 2h1m1-5h1m1-1h1m1 6h1m0-4h1m0 0h1m7 3h1m3-5h1m1 0h1m1-1h1m0 6h1m15-3h1m7 2h1m3-5h1m1 6h1m0-5h1m3 5h1m15-6h1m4 1h1m3 4h1m6-3h1m-166 12h1m6-4h1m1 4h1m17 0h1m-1-5h1m1 0h1m1 3h1m1 3h1m0 0h1m3-2h1m0-5h1m0 6h1m2-4h1m-1 4h1m2 1h1m1 0h1m0-4h1m5 1h1m1-3h1m1 0h1m-1 6h1m4-2h1m-1-2h1m1 0h1m-1 2h1m1-3h1m0 4h1m1-4h1m4 3h1m-1-4h1m1 5h1m7-3h1m-1-2h1m8-1h1m0 0h1m-1 0h1m0 2h1m-1 3h1m0 1h1m0-4h1m0 4h1m1 0h1m3 0h1m2-6h1m1 2h1m8 0h1m7 1h1m27 1h1m-1-3h1m-136 10h1m4 3h1m4-2h1m2 0h1m2 2h1m3-2h1m1 3h1m-1-5h1m1 4h1m0-2h1m3-4h1m-1 7h1m4-6h1m2 1h1m0-2h1m2 2h1m0 1h1m1-3h1m0 0h1m2 0h1m9 2h1m9 4h1m7 0h1m1-2h1m1-4h1m1 0h1m33 0h1m4 4h1m9 0h1m-132 5h1m1-1h1m11 2h1m5 5h1m3-5h1m6 5h1m10-4h1m-1 2h1m4-5h1m-1 2h1m4 0h1m10-2h1m0 2h1m5 0h1m-1 1h1m0 0h1m2 0h1m1 0h1m0-1h1m21-1h1m4-1h1m2 3h1m17-3h1m13 1h1m19 2h1m26 4h1m-191 3h1m21 0h1m28-2h1m31 6h1m14-5h1m5 0h1m2 0h1m8 3h1m20-4h1m41 7h1m-192 4h1m38 3h1m3-5h1m5 6h1m7-2h1m25-4h1m36 3h1m25-1h1m20-2h1m33 0h1m-143 8h1m29-1h1m26 0h1m3 1h1m27-1h1m45 5h1m-146 4h1m19 5h1m46-1h1m-62 3h1m12 6h1m67-6h1m21 0h1m-59 12h1" fill="none" stroke="#000" stroke-width="5" stroke-linecap="square" stroke-opacity="0.55"/>
<line x1="265.60" y1="363.20" x2="265.60" y2="425.00" stroke="#999" stroke-width="0.6" />
<line x1="265.60" y1="425.00" x2="331.50" y2="425.00" stroke="#999" stroke-width="0.6" />
<line x1="264.20" y1="424.50" x2="265.60" y2="424.50" stroke="#999" stroke-width="0.5" />
<line x1="266.40" y1="425.00" x2="266.40" y2="426.40" stroke="#999" stroke-width="0.5" />
<line x1="264.20" y1="409.18" x2="265.60" y2="409.18" stroke="#999" stroke-width="0.5" />
<line x1="282.67" y1="425.00" x2="282.67" y2="426.40" stroke="#999" stroke-width="0.5" />
<line x1="264.20" y1="393.85" x2="265.60" y2="393.85" stroke="#999" stroke-width="0.5" />
<line x1="298.95" y1="425.00" x2="298.95" y2="426.40" stroke="#999" stroke-width="0.5" />
<line x1="264.20" y1="378.52" x2="265.60" y2="378.52" stroke="#999" stroke-width="0.5" />
<line x1="315.23" y1="425.00" x2="315.23" y2="426.40" stroke="#999" stroke-width="0.5" />
<line x1="264.20" y1="363.20" x2="265.60" y2="363.20" stroke="#999" stroke-width="0.5" />
<line x1="331.50" y1="425.00" x2="331.50" y2="426.40" stroke="#999" stroke-width="0.5" />
<rect x="266.40" y="363.20" width="22.70" height="26.80" fill="none" stroke="#8ab048" stroke-width="1.3"/>
<rect x="289.10" y="363.20" width="42.40" height="26.80" fill="none" stroke="#c4504c" stroke-width="1.3"/>
<rect x="289.10" y="390.00" width="42.40" height="34.50" fill="none" stroke="#4a88cc" stroke-width="1.3"/>
<text x="296.60" y="357.85" font-size="7.5" font-weight="bold" text-anchor="middle" fill="#000"  stroke="#000" stroke-width="0.18">30</text>
<text x="295.95" y="362.20" font-size="2.6" fill="#888" text-anchor="middle">Data.017</text>
<text x="295.95" y="430.00" font-size="2.6" fill="#888" text-anchor="middle">FL1-H</text>
<text x="263.20" y="425.30" font-size="2.4" fill="#999" text-anchor="end">1</text>
<text x="266.40" y="428.10" font-size="2.4" fill="#999" text-anchor="middle">1</text>
<text x="263.20" y="409.98" font-size="2.4" fill="#999" text-anchor="end">1</text>
<text x="282.67" y="428.10" font-size="2.4" fill="#999" text-anchor="middle">1</text>
<text x="263.20" y="394.65" font-size="2.4" fill="#999" text-anchor="end">1</text>
<text x="298.95" y="428.10" font-size="2.4" fill="#999" text-anchor="middle">1</text>
<text x="263.20" y="379.32" font-size="2.4" fill="#999" text-anchor="end">1</text>
<text x="315.23" y="428.10" font-size="2.4" fill="#999" text-anchor="middle">1</text>
<text x="263.20" y="364.00" font-size="2.4" fill="#999" text-anchor="end">1</text>
<text x="331.50" y="428.10" font-size="2.4" fill="#999" text-anchor="middle">1</text>
<text x="272.20" y="370.00" font-size="5.95" font-weight="bold" text-anchor="start" fill="#f01818" stroke="#f01818" stroke-width="0.42">2.06</text>
<text x="272.20" y="377.00" font-size="5.95" font-weight="bold" text-anchor="start" fill="#f01818" stroke="#f01818" stroke-width="0.42">±</text>
<text x="276.40" y="377.00" font-size="5.95" font-weight="bold" text-anchor="start" fill="#f01818" stroke="#f01818" stroke-width="0.42">0.40</text>
<text x="313.30" y="370.00" font-size="5.95" font-weight="bold" text-anchor="start" fill="#f01818" stroke="#f01818" stroke-width="0.42">27.66</text>
<text x="313.30" y="377.00" font-size="5.95" font-weight="bold" text-anchor="start" fill="#f01818" stroke="#f01818" stroke-width="0.42">±</text>
<text x="317.50" y="377.00" font-size="5.95" font-weight="bold" text-anchor="start" fill="#f01818" stroke="#f01818" stroke-width="0.42">1.42</text>
<text x="313.30" y="416.10" font-size="5.95" font-weight="bold" text-anchor="start" fill="#f01818" stroke="#f01818" stroke-width="0.42">28.48</text>
<text x="313.30" y="423.10" font-size="5.95" font-weight="bold" text-anchor="start" fill="#f01818" stroke="#f01818" stroke-width="0.42">±</text>
<text x="317.50" y="423.10" font-size="5.95" font-weight="bold" text-anchor="start" fill="#f01818" stroke="#f01818" stroke-width="0.42">1.82</text>
<path transform="scale(0.1)" d="M3478 3644h1m14 3h1m88 4h1m22 4h1m-207 19h1m125 4h1m-79 3h1m32 5h1m75 0h1m28 15h1m-153 9h1m-15 4h1m56 16h1m17 3h1m2-2h1m46 7h1m65 11h1m-143 17h1m80 1h1m-19 5h1m-104 9h1m24-3h1m153 2h1m-76 8h1m-71 15h1m86 1h1m44-3h1m-163 9h1m185 11h1m-17 16h1m-205 7h1m138-3h1m29 8h1m-16 7h1m44 19h1m-152 6h1m-40 15h1m46 0h1m13 2h1m-65 64h1m51 12h1m69-1h1m-34 9h1m-35 5h1m30-1h1m72 0h1m6 17h1m-44 8h1m-56 20h1m125 5h1m-146 9h1m15-3h1m63-1h1m33 4h1m5 1h1m8 1h1m-22 8h1m-1 0h1m21 0h1m21-2h1m-80 5h1m13 8h1m20-2h1m-23 25h1m-51 14h1m90-6h1m-115 14h1m13 0h1m16-6h1m-1 6h1m14-7h1m54 1h1m-136 9h1m1 3h1m1-4h1m4 3h1m1 1h1m13-3h1m86 1h1m71 2h1m-172 3h1m89 7h1m-1-6h1m34 1h1m45 4h1m-215 8h1m91 1h1m10 0h1m55 8h1m36-2h1m-181 3h1m7 1h1m123 0h1m-139 10h1m15-3h1m54 1h1m37 6h1m47-4h1m-167 5h1m28 1h1m116 2h1m-132 9h1m124 3h1m46-2h1m-147 8h1m20 1h1m16 0h1m77-3h1m-93 12h1m35 12h1m-93 10h1m28-3h1m116 4h1m63 1h1m-173 3h1m83 0h1m-78 9h1m63 2h1m22-2h1m-138 5h1m17 3h1" fill="none" stroke="#000" stroke-width="5" stroke-linecap="square" stroke-opacity="0.3"/>
<path transform="scale(0.1)" d="M3683 3717h1m4 8h1m-69 5h1m63 1h1m16 1h1m56-1h1m0 0h1m6-2h1m-111 9h1m37 4h1m14-3h1m8 3h1m6 1h1m26-1h1m6-6h1m-99 12h1m18-1h1m3-3h1m3 3h1m36 2h1m9 0h1m65 2h1m-146 2h1m21 3h1m11 0h1m10 3h1m8-1h1m26-6h1m0 6h1m43-1h1m24-2h1m-127 10h1m8-3h1m19-2h1m2 4h1m5-4h1m2 4h1m0 0h1m-1 2h1m1-1h1m35-1h1m1-3h1m0 4h1m9-4h1m7-1h1m4 4h1m-161 4h1m18 6h1m-1-4h1m11 5h1m19-4h1m19 4h1m36-5h1m2 3h1m4-3h1m4 3h1m9-2h1m15 2h1m5-2h1m2 2h1m7 0h1m10-5h1m4 7h1m-148 3h1m3 4h1m7-1h1m14 2h1m5-2h1m2-5h1m2 4h1m6 2h1m2 0h1m15 1h1m3-2h1m8 2h1m0 0h1m4-5h1m6 0h1m0 1h1m3-2h1m1-1h1m0 2h1m4 5h1m0-6h1m6 3h1m2-1h1m2-3h1m-1 4h1m0 2h1m5-1h1m1 0h1m5 2h1m2-6h1m11 5h1m-209 6h1m44 3h1m8-4h1m10 1h1m5-2h1m2 0h1m13 1h1m5 3h1m6-2h1m2-3h1m1 1h1m5 1h1m6 2h1m1-1h1m-1-3h1m1 5h1m-1-5h1m10 1h1m4 1h1m-1-1h1m4 2h1m0 0h1m5 3h1m-1-2h1m0 1h1m0-3h1m3-1h1m-1-2h1m2 2h1m10 3h1m3 2h1m1-2h1m2-2h1m1 3h1m1 0h1m4-3h1m1-2h1m6 6h1m3-7h1m-1 7h1m9-2h1m-184 9h1m5 0h1m18 1h1m7-2h1m8-3h1m4 3h1m-1-3h1m2-2h1m1 6h1m1-3h1m0-2h1m1 6h1m14-5h1m2-2h1m-1 6h1m2-2h1m1 0h1m3-4h1m2 5h1m0-2h1m-1-2h1m0 1h1m1 1h1m1 4h1m-1-7h1m0 6h1m2 1h1m0-1h1m0-4h1m-1-2h1m1 6h1m1-3h1m-1 2h1m-1 1h1m0-6h1m0 6h1m-1-5h1m0 4h1m2-3h1m-1 0h1m-1 0h1m1-2h1m0 3h1m0 1h1m0 0h1m-1-1h1m-1-3h1m-1 7h1m1-7h1m-1 1h1m2 5h1m0-4h1m0 4h1m0-4h1m0 4h1m0 0h1m0-2h1m2-4h1m0 4h1m0 3h1m-1-4h1m-1 0h1m0 3h1m0-1h1m0-1h1m2 0h1m-1 2h1m1-2h1m0-4h1m0 5h1m-1-5h1m-1 2h1m0 4h1m0 0h1m0 1h1m-1-4h1m0 4h1m0-3h1m1 1h1m0 2h1m0-3h1m0-3h1m-1 0h1m0-1h1m0 1h1m-1-1h1m1 6h1m0-2h1m-1-1h1m-1 1h1m3-4h1m-1 7h1m-1 0h1m-1-7h1m1 0h1m2 0h1m0 2h1m-1-2h1m1 1h1m0 1h1m1-1h1m0 4h1m1-3h1m1 3h1m3-1h1m-1 3h1m1-4h1m4 4h1m-156 2h1m2 1h1m-1-2h1m2 4h1m1 0h1m2 2h1m5-1h1m1-4h1m-1 6h1m0-7h1m3 6h1m3-5h1m0 0h1m1 3h1m4 3h1m-1-3h1m1-3h1m-1 4h1m0-3h1m-1-2h1m0 7h1m1-3h1m1-1h1m-1 4h1m-1-2h1m0 1h1m3-1h1m-1 2h1m0 0h1m0 0h1m-1-4h1m-1-1h1m0 3h1m0-1h1m0 0h1m0 2h1m0 1h1m0-5h1m1 4h1m-1-2h1m0-4h1m0 1h1m0 4h1m0-3h1m0 2h1m0 1h1m1 1h1m-1-3h1m1 0h1m0 1h1m0 0h1m0 2h1m-1-6h1m0 7h1m1-3h1m-1-3h1m-1 4h1m0-5h1m0 1h1m1 3h1m-1 3h1m0-2h1m0 1h1m-1-3h1m3 0h1m-1 3h1m-1-1h1m1-3h1m1 5h1m-1-4h1m-1 0h1m-1-1h1m0 4h1m0-5h1m0 6h1m-1-4h1m-1 1h1m0 3h1m0-1h1m-1-5h1m0 5h1m1-2h1m0 0h1m-1 0h1m0 3h1m0 0h1m-1 0h1m0 0h1m0-6h1m-1 5h1m0-3h1m-1 4h1m-1-7h1m1 2h1m-1 0h1m-1-2h1m0 7h1m0-1h1m-1-6h1m0 6h1m0-6h1m0 7h1m0 0h1m0-2h1m-1-1h1m1-1h1m-1 2h1m0 1h1m-1-1h1m1-3h1m0 3h1m1-2h1m0-3h1m-1 2h1m-1 0h1m0 1h1m-1-1h1m2 3h1m0-4h1m-1 2h1m2-1h1m0 5h1m0-4h1m-1-2h1m-1-1h1m0 5h1m0 1h1m0-3h1m3 4h1m-1-4h1m0-3h1m0 7h1m-1-4h1m0 2h1m0 1h1m1-6h1m0 5h1m2-5h1m0 1h1m0-1h1m4 7h1m-169 2h1m1 2h1m0 2h1m2-2h1m3 2h1m-1-1h1m3-2h1m2 5h1m1-2h1m-1 1h1m1-1h1m0 2h1m1-1h1m2 0h1m3 1h1m4-7h1m0 5h1m0-1h1m0 0h1m-1-3h1m0 3h1m0-2h1m0 5h1m0-6h1m-1 2h1m0-1h1m-1-2h1m-1 7h1m1-1h1m-1 0h1m-1 1h1m0-1h1m0-1h1m1 2h1m0-4h1m2 3h1m0-2h1m0 0h1m0 2h1m-1-4h1m0 3h1m0-5h1m-1 1h1m-1 4h1m-1 2h1m-1-6h1m1 6h1m0-6h1m0 2h1m-1 2h1m0-3h1m-1 3h1m1 2h1m-1-6h1m0 3h1m0 3h1m-1-5h1m0 4h1m-1-4h1m0 5h1m0 0h1m0-4h1m-1 4h1m0-1h1m-1-6h1m-1 4h1m0-2h1m0 1h1m0-1h1m0 0h1m1 5h1m0-2h1m0 1h1m-1 1h1m-1-5h1m-1 1h1m0 2h1m0-4h1m-1 2h1m-1 0h1m-1 4h1m0-3h1m0 0h1m-1 1h1m0-5h1m-1 5h1m0 0h1m-1 1h1m0 1h1m-1-6h1m-1 5h1m0-5h1m0 2h1m-1 2h1m1-2h1m-1 4h1m0-1h1m-1-3h1m-1 1h1m-1 0h1m-1 3h1m0 0h1m-1-3h1m0-3h1m-1 2h1m-1 2h1m-1-3h1m0 3h1m-1-5h1m0 4h1m-1 2h1m-1 0h1m0-3h1m-1-3h1m0 4h1m0 2h1m-1-1h1m0-5h1m-1 7h1m-1-5h1m0 4h1m-1-2h1m0 2h1m-1-2h1m0 0h1m-1-3h1m0 5h1m0 0h1m-1-6h1m0 4h1m0-2h1m-1 0h1m-1 1h1m-1 1h1m-1-2h1m-1-1h1m0 6h1m-1-7h1m0 3h1m-1 3h1m0-4h1m-1 3h1m-1-5h1m-1 0h1m-1 7h1m0 0h1m-1 0h1m0-7h1m-1 7h1m0-1h1m-1-4h1m0 3h1m-1-1h1m-1 2h1m0-5h1m-1 2h1m-1-1h1m0 1h1m-1-3h1m-1 7h1m-1-6h1m0 0h1m-1 6h1m-1 0h1m0-7h1m0 6h1m0-1h1m-1-3h1m0 0h1m-1-2h1m1 2h1m0 3h1m0-2h1m-1 2h1m-1-2h1m-1 0h1m0 3h1m0-2h1m-1-1h1m0-2h1m-1 5h1m-1-1h1m1-3h1m1 0h1m-1 3h1m0 0h1m0 1h1m-1-6h1m1 0h1m0 1h1m-1 6h1m-1-1h1m0-1h1m-1-2h1m0-1h1m-1 4h1m0-5h1m0 1h1m0 0h1m-1-1h1m-1 3h1m0 2h1m-1 1h1m-1-7h1m2 4h1m0 0h1m1 3h1m0-7h1m-1 7h1m0-7h1m0 7h1m-1 0h1m2-2h1m6-2h1m0 4h1m2 0h1m0-1h1m2-3h1m-214 8h1m17 2h1m2-5h1m5 2h1m1 4h1m9 0h1m0-6h1m1 5h1m2-3h1m-1 2h1m3-3h1m1 1h1m0 3h1m-1-3h1m2 4h1m2 0h1m-1 1h1m2 0h1m3-4h1m-1 2h1m0 2h1m0-1h1m-1-2h1m0 3h1m-1-6h1m-1 1h1m-1 4h1m0-3h1m1 2h1m-1 2h1m1-5h1m1 2h1m-1-2h1m-1 0h1m2 5h1m-1-3h1m0 3h1m-1-5h1m-1 2h1m1 2h1m0 1h1m-1-4h1m1-2h1m-1 2h1m-1 3h1m1 0h1m0 0h1m2 1h1m0-4h1m-1-3h1m-1 5h1m-1-2h1m0 4h1m0 0h1m-1-1h1m-1 0h1m0-1h1m-1-1h1m-1-4h1m-1 6h1m-1-2h1m1-4h1m-1 0h1m-1 0h1m0 2h1m-1 5h1m-1 0h1m0-1h1m0-6h1m-1 2h1m-1 4h1m0 0h1m-1 1h1m0-3h1m0 1h1m-1-5h1m0 0h1m-1 6h1m0-5h1m-1 2h1m0 2h1m0 1h1m-1 1h1m0-5h1m0 5h1m0-6h1m-1 1h1m0 2h1m-1 3h1m0-6h1m0 4h1m-1 1h1m-1-2h1m0 0h1m-1 2h1m-1 0h1m1-5h1m-1 4h1m0-1h1m-1-3h1m0 4h1m0-3h1m0 0h1m0 4h1m-1-6h1m-1 3h1m0 4h1m0-2h1m-1-5h1m-1 4h1m-1-2h1m0 2h1m-1 3h1m0-5h1m0 1h1m-1-2h1m0 0h1m-1 0h1m-1 5h1m-1-3h1m-1 1h1m0-1h1m-1-1h1m-1 0h1m0 0h1m-1 1h1m-1 4h1m0-3h1m-1 2h1m0-2h1m-1-1h1m-1 0h1m0 3h1m-1 1h1m-1 0h1m-1-3h1m0 3h1m-1-1h1m-1 1h1m-1-5h1m-1 2h1m-1 2h1m-1-1h1m0 2h1m-1-3h1m-1-3h1m-1 5h1m0 1h1m0-3h1m1-2h1m-1 0h1m-1-1h1m-1 2h1m1-3h1m0 5h1m-1-3h1m0 4h1m-1-2h1m0 3h1m0-2h1m-1-1h1m-1 2h1m-1 0h1m0-4h1m-1-2h1m-1 2h1m-1 2h1m0 0h1m-1-2h1m-1-2h1m-1 6h1m-1-2h1m0-3h1m-1 5h1m-1 0h1m-1-3h1m-1 3h1m0 0h1m-1-6h1m-1 2h1m0 0h1m-1-2h1m-1 3h1m-1 4h1m0-2h1m-1-1h1m0 3h1m-1-6h1m-1 5h1m-1-2h1m0 0h1m0 1h1m0-2h1m-1 4h1m-1-2h1m1-5h1m-1 5h1m-1-2h1m0-3h1m0 4h1m0-4h1m0 3h1m-1 2h1m-1 0h1m0 0h1m-1 0h1m-1 1h1m-1 1h1m0-7h1m-1 4h1m-1-3h1m-1 4h1m-1-3h1m-1-2h1m-1 2h1m0-1h1m-1-1h1m-1 5h1m0 0h1m-1-4h1m-1 6h1m0-7h1m-1 5h1m0-1h1m-1-2h1m0 1h1m-1 0h1m-1 4h1m-1-6h1m0 4h1m-1-4h1m0 0h1m-1 0h1m0 3h1m-1-1h1m0 2h1m-1-1h1m1-1h1m-1-1h1m-1-2h1m0 3h1m-1 1h1m1 3h1m-1-2h1m-1 0h1m-1-4h1m2 5h1m1-3h1m1 1h1m1-1h1m0 2h1m0-3h1m-1-1h1m-1 2h1m0-2h1m0 1h1m-1 0h1m-1 4h1m1 0h1m-1 0h1m0-2h1m-1-2h1m1-2h1m-1 2h1m0 0h1m1 3h1m0 1h1m5 0h1m0-1h1m10-2h1m0 1h1m3 2h1m9-3h1m-247 11h1m32-4h1m7 4h1m5-3h1m1-3h1m0 3h1m-1 2h1m6 2h1m0-2h1m-1-1h1m4 2h1m2 1h1m0-6h1m0 3h1m1 2h1m0-3h1m-1-1h1m0 4h1m0-4h1m-1 5h1m-1-4h1m1 0h1m0 4h1m0-4h1m0-1h1m-1 2h1m1 1h1m-1-5h1m0 6h1m0 1h1m-1-2h1m-1 0h1m-1-1h1m0-1h1m-1 0h1m-1 3h1m-1-3h1m-1-2h1m0 1h1m-1 5h1m0-4h1m-1-1h1m1-2h1m1 5h1m-1-1h1m1-4h1m0 3h1m0-3h1m0 4h1m-1 3h1m-1-6h1m0 1h1m-1-2h1m-1 7h1m-1 0h1m0-4h1m0 1h1m-1 3h1m0-5h1m-1-2h1m-1 1h1m-1 4h1m0-5h1m-1 7h1m-1-4h1m0 4h1m0-1h1m-1 1h1m0-5h1m-1 5h1m-1-3h1m1 0h1m-1-2h1m0 2h1m-1 2h1m-1-5h1m0 4h1m-1-4h1m0 1h1m0-1h1m-1 1h1m0-2h1m0 0h1m-1 3h1m-1 0h1m0-1h1m1 1h1m-1 3h1m-1-5h1m1 6h1m-1-3h1m-1-4h1m-1 0h1m0 1h1m0 6h1m-1-1h1m-1-3h1m0 3h1m-1-3h1m-1-1h1m-1 2h1m0 0h1m-1-2h1m-1 4h1m-1-2h1m-1 1h1m0 0h1m-1-2h1m-1-3h1m0 4h1m-1-4h1m-1 4h1m-1 2h1m-1 1h1m0-6h1m-1 6h1m-1 0h1m0 0h1m-1-3h1m-1-1h1m-1 1h1m0-4h1m0 2h1m-1 3h1m-1-4h1m0 4h1m-1-1h1m-1 0h1m-1 1h1m0-5h1m-1 6h1m-1 1h1m-1-5h1m1 4h1m0 1h1m-1-2h1m-1-1h1m0-4h1m-1 6h1m0-1h1m-1 2h1m1-1h1m-1-1h1m0-3h1m0 1h1m0 1h1m-1-1h1m-1 1h1m-1 2h1m0-3h1m-1-2h1m0 2h1m-1-1h1m-1 0h1m-1 0h1m0 3h1m-1-2h1m-1 0h1m-1 1h1m0 1h1m0 2h1m-1-4h1m-1 1h1m0 2h1m0 1h1m-1-7h1m-1 0h1m-1 6h1m0-2h1m-1 3h1m-1-2h1m-1-3h1m0 2h1m0-3h1m-1 3h1m-1-1h1m0-1h1m-1 5h1m-1-2h1m-1-1h1m-1-2h1m0 0h1m-1 4h1m0-5h1m0 6h1m-1-2h1m0-2h1m-1 1h1m-1 1h1m0 2h1m-1 0h1m-1-2h1m-1-2h1m0 0h1m-1 4h1m-1-4h1m-1 3h1m-1 1h1m0 0h1m0-7h1m-1 0h1m-1 2h1m0 5h1m-1-1h1m-1-2h1m0-2h1m-1-1h1m0-1h1m-1 2h1m0 0h1m-1 2h1m-1-4h1m0 1h1m-1 1h1m1 4h1m-1-1h1m0-2h1m-1-1h1m-1 0h1m-1-1h1m-1 4h1m-1-5h1m-1 0h1m0 5h1m0 0h1m0-5h1m0 2h1m0 2h1m-1 0h1m0-2h1m-1-2h1m-1 2h1m-1 2h1m-1 3h1m1 0h1m-1-2h1m0-2h1m0-1h1m-1 4h1m-1-6h1m-1 0h1m-1 7h1m0-1h1m-1 1h1m0-6h1m-1 3h1m-1 2h1m-1-5h1m0 1h1m-1 2h1m0-1h1m0-1h1m0 4h1m-1-4h1m0 0h1m-1 3h1m0-3h1m0 0h1m0 2h1m-1-3h1m0 5h1m-1-4h1m-1 1h1m0 0h1m-1 1h1m-1-4h1m-1 3h1m-1-1h1m0 3h1m0-5h1m-1 0h1m-1 0h1m0 7h1m-1 0h1m0-4h1m-1 2h1m0-4h1m0 1h1m-1 5h1m0-7h1m-1 1h1m-1 4h1m0-3h1m0 0h1m-1-1h1m0 2h1m0-2h1m0 6h1m1-7h1m-1 7h1m0 0h1m0-4h1m0-1h1m-1 5h1m0-7h1m-1 1h1m0 6h1m2 0h1m1-5h1m-1 0h1m3 2h1m0-1h1m1 4h1m-1-2h1m2 2h1m1-7h1m2 6h1m3 0h1m0-6h1m13 3h1m-215 9h1m6 1h1m9 2h1m1-1h1m2 1h1m0-4h1m1 2h1m0-5h1m0 7h1m0 0h1m0-4h1m2 3h1m0-3h1m0-2h1m0 0h1m3 2h1m-1 2h1m-1 0h1m-1-1h1m1-4h1m0 3h1m3 0h1m-1 0h1m0-3h1m-1 6h1m-1-3h1m0 0h1m-1 3h1m-1-4h1m0 2h1m-1 3h1m1-1h1m-1-4h1m2-1h1m-1-1h1m0 3h1m-1-1h1m1 4h1m-1-6h1m0 6h1m-1-2h1m-1-3h1m0 6h1m0-7h1m-1 3h1m-1 2h1m0 0h1m-1 0h1m0 1h1m-1-2h1m0-1h1m-1 2h1m0-5h1m1 2h1m-1 2h1m0 2h1m-1-6h1m0 0h1m-1 2h1m0 0h1m-1 2h1m-1 1h1m0 0h1m-1 0h1m0-4h1m-1 6h1m0-7h1m-1 7h1m-1-6h1m-1 5h1m-1 1h1m0-5h1m-1 0h1m-1-1h1m-1 4h1m0-1h1m-1-2h1m-1 5h1m-1 0h1m0-5h1m-1-2h1m-1 3h1m-1 4h1m-1-1h1m0-6h1m-1 0h1m-1 3h1m0 2h1m0-4h1m-1-1h1m-1 4h1m1-3h1m0 2h1m-1-2h1m0 2h1m-1 1h1m-1-4h1m-1 2h1m-1 0h1m0 0h1m-1 1h1m-1-3h1m-1 0h1m0 6h1m-1 1h1m-1-6h1m0 1h1m-1-2h1m1 5h1m0-4h1m-1 4h1m1-1h1m-1 1h1m0-4h1m0-1h1m-1 7h1m-1-4h1m0 3h1m0-1h1m-1 0h1m-1-3h1m-1 5h1m-1-2h1m-1-4h1m-1 5h1m-1-2h1m0 2h1m-1-3h1m0-3h1m-1 4h1m-1-4h1m-1 3h1m0 4h1m-1-3h1m0-4h1m0 5h1m-1-3h1m-1-1h1m-1 4h1m0-2h1m0 1h1m-1 3h1m0-6h1m-1-1h1m-1 2h1m0 0h1m-1 0h1m-1 3h1m-1-2h1m-1 3h1m0-2h1m-1 3h1m-1-3h1m0 1h1m-1 0h1m0 1h1m-1-5h1m-1 3h1m0-4h1m-1 2h1m-1 0h1m-1 1h1m-1-2h1m0 2h1m-1 0h1m-1 2h1m-1-3h1m0 2h1m-1-4h1m-1 1h1m-1 6h1m1-1h1m-1-3h1m-1 2h1m-1-5h1m-1 4h1m-1-3h1m0 2h1m-1 2h1m-1 0h1m-1-3h1m0 2h1m-1-2h1m0-2h1m-1 4h1m-1-3h1m-1 4h1m-1-3h1m0 3h1m-1-5h1m-1 2h1m1-1h1m-1 0h1m-1 2h1m-1-2h1m0 0h1m-1 4h1m0-5h1m-1 7h1m-1-6h1m-1 4h1m-1-2h1m-1-2h1m0 2h1m0 1h1m0-1h1m-1 4h1m0-3h1m0 1h1m-1-4h1m0 2h1m-1 3h1m-1-6h1m0 2h1m1-1h1m-1 6h1m-1 0h1m-1-7h1m0 0h1m-1 3h1m-1-1h1m-1 3h1m-1-2h1m0 0h1m-1 3h1m0-2h1m-1 0h1m-1-3h1m0 0h1m-1 0h1m0 2h1m-1 0h1m0 4h1m-1-5h1m-1-2h1m-1 4h1m0-1h1m-1-3h1m-1 4h1m-1-1h1m0-3h1m-1 7h1m-1-5h1m0-1h1m0 3h1m-1-2h1m0 2h1m-1-2h1m2 4h1m0 1h1m1-6h1m0 3h1m0-4h1m-1 7h1m-1-7h1m0 3h1m-1-3h1m0 5h1m-1-3h1m0 3h1m-1-2h1m2 1h1m-1 0h1m0 1h1m-1-5h1m0 7h1m-1-6h1m-1 3h1m-1-2h1m2 2h1m-1-1h1m0 0h1m0 4h1m1-7h1m-1 1h1m-1 3h1m0 1h1m2-2h1m0-2h1m0 6h1m0-6h1m0 0h1m0 3h1m2 2h1m0-3h1m0-1h1m0 3h1m-1 2h1m2-4h1m-1-1h1m0 1h1m1-1h1m-1 1h1m0 0h1m2 4h1m-1-6h1m0 3h1m5 3h1m3-2h1m-1 0h1m-1-2h1m0 4h1m-189 7h1m3-3h1m2-3h1m0 0h1m-1 3h1m0 1h1m-1 3h1m-1-6h1m2 5h1m0 0h1m0-4h1m-1 1h1m1 4h1m0 0h1m2-6h1m0 5h1m0 1h1m0-5h1m-1 2h1m0-1h1m-1-1h1m0 5h1m-1-3h1m1 0h1m0 2h1m-1 0h1m0-5h1m0 0h1m0-1h1m0 2h1m-1 3h1m0 0h1m0-1h1m-1-3h1m-1 2h1m0-3h1m-1 2h1m0 0h1m0 4h1m0-4h1m-1-1h1m0 3h1m0 3h1m0-4h1m0 3h1m-1-3h1m-1 1h1m-1 1h1m-1-2h1m0 3h1m-1-2h1m-1-1h1m-1-1h1m0 1h1m0 4h1m0-4h1m-1-2h1m0 4h1m0-1h1m0-3h1m0 6h1m-1-3h1m-1-1h1m0-1h1m-1 4h1m0-5h1m1 5h1m-1-2h1m0-1h1m-1 0h1m0 1h1m-1-3h1m-1 5h1m0-1h1m-1 2h1m-1-6h1m0 1h1m-1-1h1m-1 4h1m-1-1h1m0 0h1m-1-3h1m1 0h1m-1 6h1m0 0h1m0-1h1m0-5h1m-1 4h1m0-4h1m1 0h1m-1 1h1m-1 3h1m0-3h1m-1 2h1m-1 2h1m0-3h1m0-1h1m-1 1h1m-1-2h1m0 3h1m-1-2h1m0-2h1m-1 7h1m0-3h1m-1 0h1m-1 0h1m-1-4h1m-1 1h1m-1 1h1m-1 1h1m0-3h1m-1 6h1m-1-3h1m-1-2h1m-1 3h1m-1-4h1m-1 3h1m0 1h1m-1-1h1m-1 1h1m-1-1h1m0 4h1m0-3h1m-1-4h1m-1 5h1m-1-5h1m0 0h1m0 3h1m-1 0h1m0-1h1m-1-1h1m-1 1h1m0 3h1m-1 0h1m-1-5h1m-1 4h1m-1-3h1m0-1h1m-1 0h1m-1 2h1m-1 0h1m-1 2h1m-1-1h1m0-2h1m-1 1h1m0-1h1m0-1h1m-1 2h1m0 4h1m-1-5h1m-1 2h1m-1-3h1m-1 1h1m0 3h1m0 3h1m-1 0h1m0-6h1m0 2h1m-1 4h1m-1-5h1m-1 1h1m-1 4h1m0-4h1m0 3h1m0 0h1m-1-2h1m-1 2h1m0 1h1m0-3h1m-1-1h1m-1 2h1m0 1h1m-1 0h1m0-1h1m-1 2h1m-1-3h1m0 0h1m-1 0h1m-1-1h1m-1 2h1m1 1h1m-1 0h1m-1 1h1m0 0h1m-1-4h1m-1 0h1m-1 2h1m-1 0h1m0-4h1m-1 6h1m-1-6h1m0 0h1m-1 4h1m-1 1h1m0-1h1m-1 2h1m-1-5h1m-1 5h1m0-1h1m0-4h1m-1 3h1m-1 2h1m0-7h1m-1 1h1m-1-1h1m0 1h1m0 4h1m-1 0h1m-1 2h1m-1-4h1m-1 1h1m0 2h1m-1-1h1m1-3h1m0 3h1m0 2h1m-1-2h1m-1-4h1m-1-1h1m0 4h1m-1 1h1m-1-4h1m0 5h1m0-3h1m-1 1h1m1-2h1m-1-2h1m-1 1h1m1 1h1m-1 5h1m-1-7h1m0 4h1m0-3h1m0 5h1m-1-1h1m3-5h1m0 3h1m-1 3h1m0-6h1m2 3h1m0-3h1m-1 1h1m0 4h1m0 2h1m0-6h1m1 6h1m-1-7h1m2 0h1m0 4h1m4 1h1m2-3h1m0-1h1m0 0h1m2 3h1m2 0h1m-1 1h1m0-5h1m1 6h1m1 1h1m5-3h1m4-2h1m2-1h1m10-1h1m19 3h1m-219 9h1m2-2h1m2 4h1m0-3h1m1-2h1m3 1h1m-1 1h1m1 2h1m0-4h1m0 0h1m0 2h1m1 2h1m2 1h1m2 1h1m-1-7h1m2 2h1m0 3h1m-1 0h1m2 2h1m-1-1h1m0 0h1m-1-4h1m1-2h1m-1 6h1m-1-5h1m-1 2h1m-1 1h1m-1-2h1m-1 2h1m-1-4h1m0 7h1m-1 0h1m-1-3h1m0-1h1m0-1h1m-1 4h1m0-2h1m-1 2h1m-1-5h1m0 1h1m0 0h1m0 0h1m0 1h1m0 2h1m-1 1h1m-1-5h1m-1 0h1m0-1h1m-1 6h1m-1 1h1m-1-1h1m0-6h1m0 0h1m1 6h1m0-1h1m-1 0h1m-1-1h1m2-4h1m0 7h1m1-5h1m-1 1h1m0 0h1m-1-3h1m-1 4h1m1-1h1m-1 3h1m0-5h1m0-1h1m1 2h1m-1-2h1m0 0h1m0 0h1m-1 5h1m-1-1h1m-1-2h1m-1-1h1m0 2h1m-1-2h1m-1 1h1m-1 2h1m-1 0h1m0-2h1m-1-1h1m-1 6h1m-1-2h1m1-5h1m0 2h1m0 5h1m0-1h1m-1-3h1m0 0h1m-1 1h1m-1-2h1m-1 0h1m-1 4h1m-1-5h1m-1 6h1m0-1h1m1-2h1m-1 0h1m0-4h1m-1 4h1m-1 2h1m0 1h1m-1-3h1m0 3h1m-1 0h1m-1-2h1m0-3h1m0-1h1m-1 5h1m-1-3h1m-1-3h1m0 2h1m-1 2h1m-1-1h1m0 0h1m0-3h1m-1 3h1m-1 4h1m0-6h1m0 2h1m0 0h1m0-2h1m1-1h1m0 6h1m-1-2h1m-1-4h1m0 2h1m0 3h1m-1 2h1m-1-5h1m1 5h1m-1-7h1m0 5h1m1-5h1m-1 4h1m1-2h1m0 0h1m0-2h1m-1 5h1m-1-1h1m-1-4h1m-1 4h1m0 0h1m-1 3h1m0-1h1m-1 0h1m0 1h1m0-2h1m1-1h1m0 0h1m0-4h1m0 5h1m0-4h1m0-1h1m0 5h1m0-4h1m-1 6h1m0-3h1m-1-4h1m0 2h1m0 2h1m0-1h1m0 4h1m0-3h1m0 3h1m-1-5h1m-1 5h1m1-7h1m-1 4h1m-1-1h1m1 3h1m0-3h1m-1 0h1m0 1h1m0-2h1m0 3h1m4-2h1m2 3h1m0 0h1m0-5h1m0 0h1m-1 2h1m-1-2h1m0 4h1m0-5h1m2 0h1m-1 1h1m3 6h1m0-2h1m1-1h1m0-4h1m0 3h1m0-2h1m2-1h1m1 1h1m1 2h1m2 4h1m9-6h1m3 1h1m-1-1h1m6 1h1m-212 13h1m32-7h1m2 2h1m-1 5h1m3-7h1m4 4h1m1 2h1m-1-3h1m-1 3h1m0-4h1m-1-1h1m2 0h1m4 2h1m0 3h1m0-6h1m1 0h1m-1 1h1m-1 5h1m-1 1h1m-1-7h1m1 0h1m-1 3h1m-1 1h1m0-1h1m0 3h1m-1 0h1m0-4h1m-1-1h1m0 3h1m-1 2h1m-1-6h1m0 5h1m-1-3h1m0 3h1m0-2h1m4 3h1m0-1h1m-1-1h1m0 3h1m2-3h1m1-1h1m-1 3h1m1-5h1m-1 6h1m-1-1h1m-1-5h1m-1 0h1m0-1h1m-1 5h1m0-4h1m-1 5h1m-1-6h1m0 0h1m0 0h1m0 4h1m-1-3h1m-1 0h1m-1 5h1m0-6h1m1 3h1m-1 4h1m-1-6h1m0 6h1m-1-1h1m0-5h1m2 3h1m0-3h1m-1 4h1m-1-1h1m-1 2h1m1-1h1m1-4h1m0 5h1m0-2h1m0 1h1m-1-5h1m-1 6h1m0 0h1m-1-4h1m-1-1h1m1 6h1m0-1h1m0-1h1m0-2h1m-1 3h1m0-6h1m-1 3h1m0-2h1m-1 6h1m0-7h1m-1 7h1m0-2h1m-1-1h1m0-3h1m-1-1h1m1 2h1m1 2h1m-1-1h1m-1 4h1m-1-5h1m1 4h1m-1-2h1m-1 1h1m0-5h1m-1 0h1m0 0h1m1 2h1m-1-1h1m1 0h1m0 4h1m-1-1h1m-1 3h1m0 0h1m-1-6h1m1-1h1m0 7h1m0-3h1m0-4h1m1 1h1m-1 4h1m-1-3h1m1 0h1m-1 1h1m-1 3h1m0-6h1m-1 5h1m3 0h1m-1-1h1m1 3h1m-1-1h1m1-1h1m1-4h1m0 1h1m-1 0h1m-1 4h1m1-5h1m7 2h1m1-1h1m0 3h1m11-5h1m1 5h1m3 2h1m3-7h1m2 0h1m1 3h1m3 2h1m6-3h1m2 2h1m4-3h1m6 5h1m-208 5h1m20-1h1m2 4h1m4-6h1m2 7h1m-1-3h1m0 0h1m2 3h1m-1-5h1m4 3h1m1 2h1m0-5h1m0 2h1m-1-2h1m0-1h1m0 3h1m-1-4h1m0 1h1m1 3h1m0-1h1m0-2h1m1 3h1m0-4h1m2 4h1m1-4h1m1 7h1m1-5h1m-1 5h1m0-4h1m-1 1h1m-1-2h1m-1 1h1m1 1h1m0-3h1m-1 5h1m-1-3h1m0 1h1m0 1h1m0-2h1m0-3h1m-1 2h1m0 2h1m0 0h1m-1-4h1m0 1h1m-1 2h1m-1 4h1m3-3h1m3 0h1m-1 1h1m-1-4h1m0 2h1m0 4h1m-1-5h1m0 0h1m-1 5h1m0-5h1m0 0h1m4 2h1m-1 2h1m0-2h1m-1-3h1m-1 5h1m0-2h1m0 1h1m-1-5h1m0 1h1m0 2h1m-1 0h1m2 0h1m0 4h1m1-3h1m1-2h1m-1 4h1m3-4h1m-1-2h1m-1 3h1m2-1h1m-1-2h1m-1 2h1m-1-2h1m3 3h1m1 3h1m1-1h1m1-4h1m-1 3h1m0-1h1m7 3h1m2-1h1m-1-2h1m5-1h1m6-1h1m0 6h1m0 0h1m-1-7h1m6 6h1m0-4h1m3 4h1m-1-5h1m4 0h1m0 1h1m1 2h1m4-3h1m4 0h1m2 2h1m0-3h1m13 3h1m10 1h1m-272 8h1m52-4h1m17 0h1m19 3h1m4-1h1m0-1h1m0-1h1m-1 1h1m4 6h1m0-6h1m0 0h1m4 6h1m2-5h1m0 1h1m4-1h1m0 0h1m1 3h1m-1-1h1m2-2h1m5 5h1m4-5h1m0 3h1m4-5h1m2 3h1m0 4h1m-1-1h1m1 0h1m1-1h1m1-4h1m-1-1h1m0 3h1m4 0h1m4 4h1m0-7h1m1 1h1m2-1h1m4 3h1m1 1h1m12-3h1m4 4h1m2 2h1m-1-7h1m0 5h1m-1-5h1m2 7h1m2-1h1m0 0h1m4-1h1m3-2h1m37 1h1m20-2h1m20 5h1m-289 8h1m68-6h1m10 0h1m0 0h1m0 5h1m9-4h1m11 4h1m2-6h1m-1 6h1m-1-2h1m-1-2h1m0 4h1m2-5h1m4 0h1m-1 5h1m12-5h1m0 5h1m6-5h1m0 5h1m2-3h1m0 1h1m17-3h1m-1 5h1m0-4h1m1 5h1m1-3h1m0-2h1m0 5h1m-1-1h1m21-6h1m5 0h1m10 3h1m11 3h1m10-3h1m19 1h1m12 2h1m-264 9h1m19-6h1m13 1h1m22 3h1m4-5h1m5 5h1m2 1h1m27-6h1m-1 1h1m10 0h1m5 5h1m0-3h1m5 4h1m1-3h1m4 1h1m0-4h1m2 4h1m0-5h1m-1 6h1m1-4h1m-1 1h1m5 4h1m7 0h1m1-1h1m4-5h1m2-1h1m1 4h1m1 3h1m14-2h1m0-4h1m4 4h1m1-3h1m7-2h1m1 6h1m2 1h1m3-5h1m-154 7h1m19 0h1m-1 3h1m-1 0h1m1 0h1m25-1h1m6-1h1m2-2h1m4 2h1m-1 2h1m4 1h1m3 1h1m7-4h1m0-1h1m1 0h1m11 4h1m0-2h1m1 4h1m1-5h1m-1-1h1m1 0h1m-1 4h1m0 2h1m2 0h1m0-4h1m5 4h1m-1 0h1m0-5h1m0-2h1m0 1h1m0 6h1m2-1h1m1 1h1m3-6h1m8 4h1m0-1h1m3-1h1m3 2h1m10 2h1m1-6h1m7 3h1m1-4h1m27 0h1m-215 10h1m25-2h1m16 2h1m10 1h1m-1 0h1m9 0h1m9 4h1m3-7h1m0 6h1m1-2h1m-1-2h1m2-2h1m-1 4h1m0 0h1m1 3h1m7-6h1m0-1h1m1 7h1m1-7h1m-1 0h1m3 5h1m-1-5h1m1 1h1m3 4h1m0 2h1m7-2h1m1-3h1m0 4h1m3-1h1m0 1h1m0-4h1m2 5h1m-1-1h1m0-3h1m-1 3h1m4-2h1m0 2h1m-1 0h1m2-2h1m2 1h1m0 0h1m-1-5h1m3 3h1m0 0h1m-1-2h1m2 5h1m0-3h1m-1-3h1m0 4h1m0 0h1m0 1h1m0 0h1m3 2h1m0-4h1m1 2h1m5-3h1m10 1h1m51 2h1m-316 9h1m49-4h1m48 4h1m17-5h1m5 0h1m1 3h1m3 3h1m12-2h1m6-1h1m-1 3h1m5-2h1m10-4h1m2 1h1m2 5h1m1 0h1m4 0h1m0-3h1m-1 3h1m-1-5h1m-1 5h1m3-7h1m1 1h1m6 3h1m0 3h1m0-1h1m1-6h1m2 2h1m2 2h1m2-2h1m-1 0h1m0 3h1m0 1h1m0-3h1m0 0h1m3 4h1m-1-2h1m0 0h1m0-5h1m2 4h1m-1 2h1m0-2h1m0-2h1m1 3h1m-1-1h1m3-2h1m4 4h1m-1-6h1m-1 2h1m3 5h1m-1-3h1m0 0h1m1 0h1m0 0h1m22 2h1m8-5h1m4 4h1m3-3h1m-205 11h1m3 2h1m18-3h1m22 1h1m6-1h1m4-1h1m1 4h1m5 0h1m0-7h1m2 2h1m0 0h1m1 4h1m1-1h1m2-1h1m0-3h1m0 1h1m1 3h1m-1 0h1m2-5h1m-1 1h1m1 0h1m0 6h1m0-5h1m-1 5h1m0-2h1m0-5h1m1 5h1m0 1h1m-1 1h1m6 0h1m-1-1h1m0-6h1m-1 3h1m3 0h1m-1 4h1m0-3h1m-1-4h1m-1 2h1m1 2h1m0 2h1m0-3h1m0-1h1m2 0h1m-1-1h1m1 1h1m-1 2h1m0-3h1m-1 0h1m4-1h1m-1 3h1m-1 1h1m0-4h1m-1 3h1m0 2h1m1-5h1m2 2h1m-1 2h1m-1 3h1m2-4h1m-1-1h1m-1 0h1m3 4h1m2-2h1m1 2h1m0-1h1m2-3h1m0 4h1m-1-3h1m0 2h1m-1 2h1m2-7h1m0 3h1m0 2h1m-1-3h1m0 0h1m0-1h1m0 0h1m0 4h1m0 1h1m0-1h1m3 2h1m-1-1h1m5-1h1m0-2h1m19 0h1m26-3h1m-206 10h1m15 4h1m2-1h1m1-2h1m3 1h1m7 0h1m9 3h1m1 0h1m3-3h1m3-4h1m0 2h1m-1 2h1m0 0h1m1 2h1m-1-1h1m0-3h1m-1 5h1m1-2h1m0 2h1m-1-7h1m0 7h1m3-4h1m1-1h1m0 4h1m-1 1h1m1-3h1m-1 3h1m1-1h1m0-2h1m1-1h1m0 0h1m-1-3h1m0 2h1m-1 3h1m3-4h1m-1 5h1m1-6h1m1 6h1m-1-2h1m-1 0h1m-1-3h1m0-1h1m-1 2h1m2 0h1m-1-1h1m-1 0h1m-1 1h1m0 4h1m0-4h1m-1 1h1m3-2h1m0 2h1m2 0h1m0 2h1m0 2h1m2 0h1m0-5h1m-1 5h1m-1-1h1m-1-3h1m0-3h1m0 3h1m1 0h1m-1-1h1m0-1h1m1 5h1m-1-4h1m0 4h1m-1-1h1m0 0h1m1-4h1m-1 2h1m2 0h1m-1 0h1m0 1h1m-1-3h1m0 0h1m-1 5h1m0-3h1m0-1h1m0 0h1m1 1h1m-1 3h1m0-6h1m7 0h1m-1 7h1m0-7h1m0 7h1m-1-5h1m2 4h1m0 0h1m0-3h1m1-2h1m1 2h1m0 2h1m3-5h1m0 1h1m1 6h1m2-4h1m1 1h1m0 3h1m4-6h1m0 1h1m1 0h1m-1 0h1m3-1h1m6 5h1m-198 3h1m23 0h1m4 2h1m-1 2h1m18 1h1m1-2h1m-1-2h1m-1 1h1m-1-2h1m1 2h1m0 1h1m0 3h1m0-2h1m4-2h1m4-2h1m0 1h1m2 0h1m0 0h1m0-2h1m0 3h1m0 2h1m-1-2h1m-1-1h1m0 2h1m-1 0h1m1-4h1m0 5h1m-1-3h1m0-2h1m0 5h1m-1 2h1m2-1h1m2-4h1m1 2h1m-1-1h1m0-3h1m2 1h1m-1 6h1m1-3h1m0-3h1m1 6h1m0-1h1m1-3h1m0 4h1m-1-3h1m-1 2h1m0-1h1m-1-4h1m-1 6h1m0-3h1m-1 3h1m-1-7h1m2 6h1m-1-1h1m-1-3h1m0 2h1m-1 0h1m0 3h1m-1-5h1m-1 2h1m3-3h1m-1 1h1m0-2h1m-1 2h1m-1-1h1m-1-1h1m2 1h1m1 1h1m-1 4h1m0-3h1m0-1h1m-1 1h1m-1 0h1m0-3h1m-1 4h1m1-2h1m0 5h1m0-7h1m1 5h1m-1 2h1m-1 0h1m-1-1h1m0-4h1m-1 5h1m0-2h1m-1 0h1m1-2h1m0 3h1m-1 1h1m0-1h1m0-6h1m-1 2h1m0 2h1m-1-3h1m2 6h1m-1-3h1m0 2h1m2 0h1m-1-4h1m0 1h1m1-2h1m0 2h1m1 3h1m1-2h1m3 3h1m-1-5h1m-1-1h1m0 1h1m1-1h1m-1 3h1m0 2h1m2-6h1m2 6h1m4-2h1m-1-4h1m3 3h1m1-1h1m6-2h1m1 3h1m0-2h1m-220 8h1m24 4h1m1-1h1m1 1h1m1 1h1m2-2h1m9 2h1m3 1h1m2-2h1m1 2h1m2-2h1m1-3h1m-1 4h1m0 1h1m0-3h1m1-3h1m1-1h1m4 7h1m-1-3h1m3 3h1m0-3h1m1-4h1m1 3h1m0 4h1m-1-6h1m1 1h1m-1 0h1m-1 4h1m-1-2h1m0 1h1m1 1h1m4-2h1m0 0h1m-1 2h1m2 0h1m0-6h1m0 1h1m-1 5h1m1-1h1m1-4h1m0 1h1m1 4h1m0 0h1m1-4h1m1 2h1m0-4h1m0 3h1m-1 3h1m-1-4h1m0-1h1m2 5h1m0-1h1m0-2h1m2-3h1m0 2h1m-1 2h1m0-1h1m-1 4h1m-1 0h1m-1-6h1m1 6h1m0-6h1m0 4h1m1 1h1m-1-5h1m0 2h1m-1-2h1m1 2h1m0 4h1m-1-1h1m0-1h1m0 2h1m0-4h1m-1-2h1m0-1h1m-1 4h1m0 1h1m-1-4h1m-1 4h1m0-4h1m-1-1h1m0 6h1m1-2h1m0 0h1m0-3h1m-1 5h1m0-2h1m-1-1h1m0-3h1m1 2h1m-1 5h1m1-5h1m-1 3h1m-1-1h1m0-1h1m0 1h1m-1 2h1m0 1h1m-1-1h1m0-4h1m-1 1h1m-1-1h1m0 4h1m0 1h1m-1-5h1m0 4h1m-1 1h1m3-4h1m-1-3h1m-1 1h1m-1 1h1m-1 0h1m0 5h1m0-6h1m-1 4h1m-1-3h1m0-1h1m-1-1h1m-1 3h1m1 4h1m-1-6h1m0 4h1m0-3h1m0-2h1m-1 6h1m0 1h1m-1-4h1m4-2h1m2 5h1m3-4h1m-1 0h1m2-2h1m-1 4h1m2-3h1m0 5h1m1 0h1m0-2h1m5-2h1m1-2h1m-1 0h1m-1 5h1m2-1h1m-1 3h1m5-6h1m10-1h1m1 4h1m9 3h1m4-2h1m-216 9h1m1-1h1m8 1h1m1 1h1m1-7h1m18 5h1m-1 1h1m6 0h1m2-4h1m1 1h1m1-3h1m1 5h1m1-5h1m1 6h1m-1-1h1m-1-2h1m0 1h1m0 0h1m2-2h1m0 5h1m2-5h1m1-2h1m-1 4h1m-1 0h1m0-3h1m0-1h1m-1 5h1m2-2h1m0 2h1m-1-1h1m1 3h1m-1-7h1m3 3h1m0 0h1m-1 2h1m2-4h1m0 4h1m-1-2h1m2 0h1m-1-2h1m1 4h1m-1-3h1m0 2h1m-1 0h1m-1-2h1m0 2h1m-1-3h1m-1 6h1m-1-4h1m0 4h1m-1-5h1m0-1h1m-1 2h1m0 0h1m-1-1h1m0 0h1m0 2h1m-1 0h1m1 2h1m0-1h1m-1-1h1m0-3h1m-1 3h1m1-3h1m-1 4h1m0-1h1m-1-4h1m-1 4h1m0 2h1m-1-2h1m1 2h1m-1-1h1m0-3h1m-1 4h1m-1 1h1m0-3h1m0-1h1m3-3h1m-1 1h1m-1 4h1m0 2h1m0-3h1m-1 3h1m0-1h1m0 0h1m0-6h1m0 7h1m-1 0h1m-1-4h1m-1 3h1m0-4h1m-1 3h1m-1 2h1m0-3h1m0-2h1m-1-2h1m-1 4h1m-1 0h1m-1 3h1m0-2h1m-1-1h1m1-4h1m-1 5h1m0 0h1m2 2h1m0 0h1m-1-1h1m0 0h1m-1-5h1m-1 6h1m1-4h1m0-3h1m-1 7h1m0-6h1m0 0h1m2-1h1m0 1h1m-1-1h1m0 7h1m-1-1h1m5-6h1m-1 1h1m-1-1h1m-1 6h1m0-5h1m-1 6h1m-1-2h1m1-4h1m-1 2h1m1 2h1m0 2h1m-1-3h1m-1-2h1m-1 4h1m0-2h1m0-2h1m-1 5h1m0-6h1m-1 4h1m0 1h1m1 1h1m1 0h1m1 0h1m0-1h1m0-6h1m3 4h1m-1-1h1m1-2h1m2 2h1m4 0h1m1 3h1m1-4h1m-1-2h1m30 5h1m-230 8h1m24-2h1m5 2h1m2 1h1m0-1h1m1-3h1m0 3h1m0-1h1m0-3h1m0 4h1m1 0h1m0 0h1m-1-3h1m-1 4h1m4-3h1m-1 0h1m3 0h1m0 4h1m3-1h1m0-1h1m1 2h1m0-7h1m-1 6h1m0 1h1m-1-3h1m0 0h1m-1 1h1m0 0h1m-1-3h1m0 1h1m1 0h1m-1 2h1m0-5h1m-1 2h1m0-1h1m-1 3h1m3-2h1m-1-1h1m-1 1h1m-1 2h1m0-1h1m-1 4h1m-1-7h1m0 4h1m-1-3h1m0-1h1m0 5h1m0 1h1m-1-2h1m-1 2h1m-1-6h1m-1 7h1m3-3h1m-1 0h1m0 2h1m0-6h1m-1 2h1m1 4h1m-1 0h1m-1 1h1m0-7h1m0 1h1m-1 6h1m0-6h1m1 5h1m0-2h1m0-3h1m0 1h1m-1 0h1m3 2h1m-1-3h1m0-1h1m1 5h1m-1 0h1m0-2h1m1-2h1m-1 5h1m0-2h1m-1 2h1m0 0h1m0-2h1m-1-3h1m-1 2h1m0 2h1m-1-2h1m0 1h1m-1 0h1m0 3h1m0-3h1m-1 0h1m0 0h1m0-3h1m-1 6h1m-1-5h1m0-2h1m-1 5h1m0 1h1m0-4h1m-1-1h1m1-1h1m-1 6h1m-1-3h1m1 3h1m-1-5h1m0 0h1m0 2h1m-1-2h1m-1 4h1m1 1h1m-1-4h1m-1-2h1m1 5h1m-1 2h1m1-4h1m0-3h1m0 2h1m0 0h1m-1 1h1m0-2h1m0 0h1m0 6h1m-1-7h1m0 4h1m-1-4h1m0 4h1m0 1h1m-1-2h1m0-2h1m-1 1h1m0 4h1m0-1h1m-1-1h1m-1-2h1m1-1h1m1 0h1m2 2h1m0-3h1m-1 0h1m0 1h1m0 1h1m0 1h1m2 0h1m1-2h1m2 2h1m3 4h1m1-6h1m6 3h1m-1-4h1m-1 4h1m0-4h1m-1 1h1m0-1h1m0 5h1m2 0h1m1-3h1m0-2h1m7 4h1m4-4h1m0 6h1m0-5h1m8 0h1m0 4h1m8 0h1m-256 4h1m36 6h1m1-7h1m9 0h1m9 1h1m1 6h1m1-3h1m3 1h1m6 0h1m3-5h1m4 2h1m0 2h1m-1-2h1m1 4h1m0 0h1m-1 1h1m-1-1h1m0-3h1m2-3h1m1 7h1m-1-7h1m0 2h1m0 0h1m2 1h1m-1 0h1m0-2h1m-1 2h1m2-3h1m-1 4h1m1 1h1m0-4h1m-1 4h1m2-3h1m-1-1h1m1 6h1m-1 0h1m-1-3h1m-1-3h1m0 6h1m4-7h1m-1 6h1m1 0h1m0-5h1m-1 6h1m0 0h1m-1-7h1m-1 3h1m3 4h1m-1 0h1m-1-2h1m1-4h1m-1 3h1m0 0h1m-1 0h1m-1-3h1m0 3h1m1-1h1m0 1h1m0-2h1m0 5h1m-1 0h1m0-7h1m-1 1h1m-1 6h1m-1-1h1m0-6h1m-1 1h1m-1 0h1m3-1h1m-1 4h1m-1 1h1m0 2h1m0-7h1m0 2h1m-1 0h1m-1-1h1m1 4h1m-1 0h1m0-1h1m0 1h1m1-3h1m0 2h1m-1-2h1m0 4h1m-1-3h1m0 2h1m0 0h1m-1-2h1m0 2h1m0 0h1m0 1h1m1-1h1m-1-4h1m-1 0h1m0 2h1m0 1h1m0-2h1m3 3h1m-1-3h1m0 5h1m-1-4h1m1-2h1m0 3h1m-1-2h1m0 2h1m-1 3h1m0-5h1m0-1h1m-1-1h1m0 4h1m1 3h1m0-4h1m-1 4h1m0-4h1m1-2h1m-1 2h1m1-3h1m0 2h1m0 1h1m0 1h1m3 1h1m0 1h1m-1-5h1m2-1h1m-1 3h1m0-2h1m1-1h1m0 2h1m9-1h1m0 1h1m-1 4h1m14-5h1m6 1h1m5 2h1m11-4h1m9 7h1m-268 4h1m9 0h1m46 3h1m1 0h1m0-6h1m0 1h1m6 6h1m1-7h1m0 5h1m8-4h1m-1 5h1m0 1h1m0-7h1m-1 1h1m3 4h1m-1-5h1m0 1h1m1 6h1m-1-7h1m5 7h1m0 0h1m-1-2h1m-1-1h1m0 3h1m-1-6h1m0 1h1m0 1h1m0 0h1m1-3h1m-1 1h1m0 0h1m-1 1h1m-1 3h1m0-1h1m0-3h1m-1 4h1m-1-3h1m-1 0h1m1 5h1m-1-2h1m0-4h1m-1 5h1m0-2h1m-1-1h1m-1 2h1m0-4h1m0 6h1m0 0h1m0 0h1m-1-6h1m0 1h1m1 3h1m-1-5h1m0 1h1m-1 0h1m0 5h1m0-5h1m-1 3h1m0-2h1m-1-2h1m1 2h1m-1 5h1m-1-1h1m1 1h1m-1-5h1m1-1h1m0-1h1m-1 5h1m0 0h1m-1-3h1m0 1h1m0 3h1m0-1h1m0 0h1m-1-2h1m-1 2h1m-1 0h1m1-4h1m-1 4h1m2 2h1m-1-6h1m-1 4h1m-1-5h1m-1 0h1m0 2h1m-1-2h1m2 3h1m-1 2h1m0 1h1m-1-1h1m0-4h1m-1 4h1m1 1h1m0-1h1m0-3h1m0 4h1m-1-5h1m-1 5h1m-1 0h1m-1 1h1m-1-7h1m0 1h1m1-1h1m1 5h1m-1 2h1m1-1h1m-1-1h1m0-3h1m1 4h1m-1 0h1m0 1h1m-1-3h1m-1-3h1m0 1h1m-1 3h1m0 2h1m-1-7h1m-1 6h1m0-6h1m-1 2h1m0 4h1m0-4h1m0 0h1m0-2h1m-1 3h1m1-1h1m0 4h1m-1-1h1m0-4h1m-1-1h1m0 2h1m-1 0h1m-1 4h1m-1-6h1m0 6h1m2-5h1m2 3h1m0-1h1m0-3h1m2 2h1m1 3h1m-1-2h1m6 3h1m0-6h1m-1 2h1m5-2h1m4 2h1m-1 0h1m4 2h1m7-3h1m3 5h1m1-6h1m1 1h1m5 1h1m5 4h1m11-4h1m4-1h1m10 4h1m3-4h1m11-1h1m26 1h1m-249 12h1m0-2h1m5 2h1m4-2h1m2 2h1m-1 1h1m-1-1h1m2 1h1m-1 0h1m-1-3h1m0 1h1m0 1h1m0-3h1m6 4h1m0-1h1m-1-4h1m0 5h1m-1-2h1m1-4h1m-1 5h1m0 2h1m0-7h1m1 0h1m1 7h1m1-4h1m-1 4h1m1-7h1m0 0h1m0 2h1m0 1h1m1-3h1m-1 3h1m0-2h1m1-1h1m-1 0h1m0 2h1m0 4h1m-1-5h1m0 2h1m1 3h1m1-6h1m-1 2h1m-1-1h1m0 0h1m-1 5h1m-1-1h1m-1 0h1m1 2h1m0 0h1m-1-5h1m0 5h1m-1-2h1m-1-2h1m0-2h1m-1 1h1m0 5h1m-1 0h1m0-7h1m-1 3h1m-1-2h1m-1 5h1m3-2h1m1 3h1m2-2h1m-1-5h1m1 2h1m-1 3h1m1-5h1m-1 1h1m-1-1h1m2 7h1m0-4h1m-1-2h1m1 4h1m-1 1h1m0-5h1m0 0h1m0 0h1m4-1h1m3 1h1m-1 5h1m-1-1h1m0-5h1m-1 3h1m0 2h1m1 0h1m0-4h1m-1 2h1m0-2h1m-1-1h1m0 4h1m2-2h1m0 0h1m-1 4h1m1 0h1m0 0h1m0-4h1m0-1h1m1 2h1m-1 2h1m2 0h1m1-4h1m2 2h1m0 0h1m-1-1h1m0-2h1m1 0h1m0 2h1m3 0h1m0-1h1m0 6h1m5-2h1m0 0h1m1-5h1m5 4h1m2 2h1m3 1h1m16-6h1m5 2h1m14 3h1m26-2h1m2-1h1m-241 5h1m-1 5h1m9 1h1m2-1h1m4 1h1m0-6h1m8 1h1m3 1h1m2 4h1m2 1h1m1-3h1m1-3h1m0 0h1m2 3h1m0-2h1m0-2h1m-1 0h1m-1 2h1m-1 1h1m3-1h1m1 1h1m0-2h1m0 1h1m0 3h1m-1-3h1m-1 2h1m0-3h1m0 6h1m0-7h1m-1 6h1m0-3h1m0-3h1m0 0h1m-1 7h1m-1-6h1m2 3h1m-1-3h1m0 2h1m0 2h1m0 1h1m-1 1h1m1-7h1m1 6h1m0-2h1m0-3h1m0-1h1m-1 6h1m0 1h1m0 0h1m-1-7h1m0 4h1m0-4h1m-1 5h1m0-1h1m0 0h1m0 0h1m-1 0h1m0-2h1m1-2h1m2 0h1m7 2h1m0 0h1m0-1h1m-1 1h1m3 3h1m-1 0h1m4 1h1m0-2h1m2 3h1m1 0h1m0-2h1m-1-3h1m0 0h1m0 3h1m0 2h1m-1-1h1m-1-6h1m1 6h1m3-3h1m1-1h1m5 1h1m0-1h1m-1 3h1m5-3h1m1-2h1m8 1h1m10 2h1m0-3h1m1 5h1m2-1h1m1-2h1m9-1h1m2 5h1m-182 9h1m6-1h1m3-3h1m3 2h1m2 0h1m3 2h1m0-5h1m0 1h1m-1-3h1m3 1h1m0 1h1m7 4h1m-1-4h1m1-1h1m1 2h1m-1 0h1m0 4h1m3-2h1m-1 0h1m1-2h1m-1-1h1m1 2h1m1 3h1m-1-6h1m1 3h1m0 2h1m0-5h1m-1 1h1m5-1h1m0-1h1m1 1h1m-1 2h1m1 2h1m3-4h1m0 1h1m-1 5h1m0-7h1m0 6h1m2 0h1m1-6h1m-1 4h1m-1 3h1m-1-3h1m-1-4h1m0 1h1m1 3h1m0 1h1m1 2h1m-1-2h1m-1-1h1m0-2h1m-1-2h1m0 7h1m1-5h1m-1-2h1m0 2h1m0 3h1m-1-2h1m1 1h1m-1-1h1m-1-3h1m-1 0h1m1 6h1m0-3h1m3 4h1m2-4h1m2 2h1m4-4h1m0 1h1m0 0h1m9 4h1m-1-6h1m3 4h1m1-1h1m-1 0h1m1 4h1m8-2h1m1-5h1m0 6h1m0-2h1m7 2h1m19-1h1m0-2h1m24 2h1m3-5h1m7 6h1m-189 8h1m1 1h1m0-2h1m5 1h1m0-1h1m4-4h1m0-1h1m0 6h1m-1-1h1m3-3h1m0-2h1m1 5h1m3-4h1m0-1h1m1 3h1m-1-1h1m5 1h1m0-2h1m1 0h1m3 3h1m1 0h1m0-2h1m-1 5h1m-1 0h1m0-1h1m1-4h1m-1 3h1m2 1h1m-1 1h1m0-7h1m1 7h1m1-4h1m1 2h1m1-4h1m0 6h1m0-3h1m-1 0h1m1-1h1m1 1h1m0 0h1m0 0h1m6 1h1m3-2h1m0 2h1m-1-1h1m2 3h1m7-5h1m3 1h1m-1 2h1m0-4h1m6 1h1m0 1h1m9 0h1m25 0h1m5 4h1m8-2h1m1 1h1m5-5h1m37-1h1m6 7h1m-257 7h1m25-5h1m1-1h1m8 4h1m5-3h1m6 2h1m4 2h1m0-3h1m0 1h1m2 1h1m1 2h1m1-6h1m0 6h1m4-6h1m3 7h1m0-2h1m1-3h1m0 1h1m2-2h1m-1 1h1m-1 1h1m-1 1h1m1-4h1m-1 0h1m-1 2h1m0 4h1m3-2h1m3-4h1m0 0h1m-1 6h1m1-2h1m1 2h1m-1-4h1m-1-2h1m-1 0h1m1 1h1m8-1h1m6 5h1m9-1h1m15 0h1m3 3h1m0 0h1m0-6h1m0 0h1m20 1h1m13 1h1m10 1h1m-1-3h1m-204 7h1m9 6h1m5 0h1m5 1h1m1-4h1m4 4h1m17-3h1m15 0h1m2-4h1m5 6h1m2-3h1m-1-2h1m6 4h1m2 2h1m12-4h1m5-2h1m4 3h1m1-3h1m1 0h1m3 0h1m-1 0h1m9-1h1m4 6h1m5-2h1m11 3h1m3-5h1m12 3h1m5-3h1m1 0h1m31 0h1m-186 13h1m10-5h1m1 1h1m5 0h1m4 3h1m9-6h1m31 1h1m4 4h1m-1-4h1m1 1h1m6 0h1m0 5h1m24-3h1m1 1h1m4 0h1m0-3h1m24 0h1m-156 12h1m9 0h1m9-2h1m6-1h1m2 0h1m5 4h1m-1-4h1m25-2h1m6 3h1m40-2h1m27 1h1m-1 4h1m17-5h1m-176 12h1m18 0h1m9-4h1m7-2h1m-1 0h1m2 3h1m22 3h1m7-6h1m5 6h1m2-4h1m0 4h1m2-5h1m29 5h1m36-2h1m0 1h1m118-1h1m-266 11h1m33-7h1m0 2h1m4-1h1m7 2h1m5 1h1m-1 0h1m3-4h1m2 5h1m1 0h1m2 1h1m11-4h1m10-2h1m87 7h1m-199 6h1m23-1h1m17-4h1m4 5h1m13-4h1m1 5h1m24 1h1m2-5h1m9 2h1m0-4h1m2 4h1m7 0h1m16-1h1m13 3h1m-142 4h1m38 3h1m3-3h1m4 5h1m16-7h1m7 0h1m13 5h1m8 1h1m3-1h1m13-4h1m4 3h1m56 1h1m-195 5h1m21 3h1m19-5h1m-1 3h1m1 1h1m1-1h1m4-3h1m9 0h1m0 2h1m1 1h1m6 4h1m4-4h1m0 4h1m1 0h1m4-7h1m34 3h1m5 3h1m-149 2h1m42 1h1m16 1h1m25 3h1m2-3h1m9 5h1m7-2h1m13 2h1m3-7h1m2 2h1m2 1h1m-139 12h1m59-1h1m29 1h1m12-1h1m7-4h1m1-2h1m-1 7h1m11-6h1m3 0h1m54 2h1m-187 8h1m8-1h1m18 2h1m6-3h1m42-1h1m2 0h1m2 2h1m6 4h1m1-5h1m1 1h1m5 2h1m15 3h1m2-7h1m-137 10h1m14 0h1m42 2h1m21 1h1m0-4h1m5 5h1m0 1h1m22-4h1m31-1h1m12-1h1m8 4h1m-129 3h1m0 7h1m5-2h1m5 0h1m1-5h1m10 2h1m10-1h1m10 6h1m10-6h1m7 3h1m3 0h1m9 2h1m7 1h1m12-1h1m-121 8h1m3-6h1m7 7h1m6-3h1m-1 2h1m7 1h1m24-5h1m8 1h1m7-2h1m19 0h1m15 4h1m1 1h1m-136 3h1m10-1h1m0 7h1m35-4h1m0-2h1m4 2h1m6 3h1m2-6h1m6 6h1m2-3h1m-1 2h1m1-4h1m11 5h1m0-2h1m45-4h1m1 3h1m52-2h1m1 0h1m-186 8h1m1 4h1m13-5h1m0 0h1m11 7h1m4-5h1m1-2h1m3 4h1m11-3h1m8 3h1m4-2h1m2 2h1m3 2h1m14-5h1m-1 5h1m8-3h1m1 2h1m-1 1h1m2 0h1m15-6h1m12 3h1m-133 11h1m26 0h1m2-4h1m2 5h1m13-4h1m2 3h1m-1 1h1m17-7h1m14 4h1m2-2h1m23-1h1m-121 14h1m17-7h1m2 7h1m12-4h1m10-3h1m3 3h1m6-1h1m0 4h1m-1-6h1m9 3h1m4-3h1m1 0h1m0 5h1m3-2h1m7-1h1m2 4h1m11-4h1m-95 6h1m6 7h1m8-1h1m1 0h1m1-3h1m10-2h1m1 6h1m9-4h1m-1-3h1m15 0h1m10 4h1m22-1h1m3 0h1m23 2h1m18-1h1m-145 6h1m2 3h1m28-4h1m5 5h1m2-6h1m7 4h1m3 3h1m0-4h1m2-3h1m7 5h1m4-4h1m18 2h1m9-2h1m56 4h1m-150 6h1m21-2h1m2 1h1m2-1h1m11 3h1m2-4h1m3 6h1m10-1h1m11-2h1m3-1h1m10-1h1m16 5h1m-111 3h1m11 0h1m6 6h1m2-6h1m6-1h1m6 2h1m7 0h1m12 3h1m11-5h1m0 6h1m43-2h1m-115 4h1m4 2h1m28-2h1m19 7h1m3-3h1m-1-3h1m-52 10h1m2 1h1m0-1h1m14 3h1m1 1h1m23-7h1m-38 9h1m8 1h1m8 3h1m-31 4h1m17 2h1m4-3h1m3 4h1m7-3h1m18 1h1" fill="none" stroke="#000" stroke-width="5" stroke-linecap="square" stroke-opacity="0.55"/>
<line x1="338.60" y1="363.20" x2="338.60" y2="425.00" stroke="#999" stroke-width="0.6" />
<line x1="338.60" y1="425.00" x2="404.50" y2="425.00" stroke="#999" stroke-width="0.6" />
<line x1="337.20" y1="424.50" x2="338.60" y2="424.50" stroke="#999" stroke-width="0.5" />
<line x1="339.40" y1="425.00" x2="339.40" y2="426.40" stroke="#999" stroke-width="0.5" />
<line x1="337.20" y1="409.18" x2="338.60" y2="409.18" stroke="#999" stroke-width="0.5" />
<line x1="355.67" y1="425.00" x2="355.67" y2="426.40" stroke="#999" stroke-width="0.5" />
<line x1="337.20" y1="393.85" x2="338.60" y2="393.85" stroke="#999" stroke-width="0.5" />
<line x1="371.95" y1="425.00" x2="371.95" y2="426.40" stroke="#999" stroke-width="0.5" />
<line x1="337.20" y1="378.52" x2="338.60" y2="378.52" stroke="#999" stroke-width="0.5" />
<line x1="388.23" y1="425.00" x2="388.23" y2="426.40" stroke="#999" stroke-width="0.5" />
<line x1="337.20" y1="363.20" x2="338.60" y2="363.20" stroke="#999" stroke-width="0.5" />
<line x1="404.50" y1="425.00" x2="404.50" y2="426.40" stroke="#999" stroke-width="0.5" />
<rect x="339.40" y="363.20" width="22.70" height="26.80" fill="none" stroke="#8ab048" stroke-width="1.3"/>
<rect x="362.10" y="363.20" width="42.40" height="26.80" fill="none" stroke="#c4504c" stroke-width="1.3"/>
<rect x="362.10" y="390.00" width="42.40" height="34.50" fill="none" stroke="#4a88cc" stroke-width="1.3"/>
<text x="370.70" y="357.85" font-size="7.5" font-weight="bold" text-anchor="middle" fill="#000"  stroke="#000" stroke-width="0.18">40</text>
<text x="368.95" y="362.20" font-size="2.6" fill="#888" text-anchor="middle">Data.017</text>
<text x="368.95" y="430.00" font-size="2.6" fill="#888" text-anchor="middle">FL1-H</text>
<text x="336.20" y="425.30" font-size="2.4" fill="#999" text-anchor="end">1</text>
<text x="339.40" y="428.10" font-size="2.4" fill="#999" text-anchor="middle">1</text>
<text x="336.20" y="409.98" font-size="2.4" fill="#999" text-anchor="end">1</text>
<text x="355.67" y="428.10" font-size="2.4" fill="#999" text-anchor="middle">1</text>
<text x="336.20" y="394.65" font-size="2.4" fill="#999" text-anchor="end">1</text>
<text x="371.95" y="428.10" font-size="2.4" fill="#999" text-anchor="middle">1</text>
<text x="336.20" y="379.32" font-size="2.4" fill="#999" text-anchor="end">1</text>
<text x="388.23" y="428.10" font-size="2.4" fill="#999" text-anchor="middle">1</text>
<text x="336.20" y="364.00" font-size="2.4" fill="#999" text-anchor="end">1</text>
<text x="404.50" y="428.10" font-size="2.4" fill="#999" text-anchor="middle">1</text>
<text x="345.20" y="370.00" font-size="5.95" font-weight="bold" text-anchor="start" fill="#f01818" stroke="#f01818" stroke-width="0.42">1.45</text>
<text x="345.20" y="377.00" font-size="5.95" font-weight="bold" text-anchor="start" fill="#f01818" stroke="#f01818" stroke-width="0.42">±</text>
<text x="349.40" y="377.00" font-size="5.95" font-weight="bold" text-anchor="start" fill="#f01818" stroke="#f01818" stroke-width="0.42">0.26</text>
<text x="386.30" y="370.00" font-size="5.95" font-weight="bold" text-anchor="start" fill="#f01818" stroke="#f01818" stroke-width="0.42">50.79</text>
<text x="386.30" y="377.00" font-size="5.95" font-weight="bold" text-anchor="start" fill="#f01818" stroke="#f01818" stroke-width="0.42">±</text>
<text x="390.50" y="377.00" font-size="5.95" font-weight="bold" text-anchor="start" fill="#f01818" stroke="#f01818" stroke-width="0.42">0.91</text>
<text x="386.30" y="416.10" font-size="5.95" font-weight="bold" text-anchor="start" fill="#f01818" stroke="#f01818" stroke-width="0.42">27.07</text>
<text x="386.30" y="423.10" font-size="5.95" font-weight="bold" text-anchor="start" fill="#f01818" stroke="#f01818" stroke-width="0.42">±</text>
<text x="390.50" y="423.10" font-size="5.95" font-weight="bold" text-anchor="start" fill="#f01818" stroke="#f01818" stroke-width="0.42">2.02</text>
<text x="6.60" y="255.20" font-size="22" font-weight="normal" text-anchor="start" fill="#000" >C</text>
<text x="2.60" y="267.20" font-size="7.6" font-weight="bold" text-anchor="start" fill="#000"  stroke="#000" stroke-width="0.18">Curcumin (μM)</text>
<text x="263.30" y="255.00" font-size="22" font-weight="normal" text-anchor="start" fill="#000" >D</text>
<text x="258.00" y="267.10" font-size="7.6" font-weight="bold" text-anchor="start" fill="#000"  stroke="#000" stroke-width="0.18">Curcumin (μM)</text>
<line x1="176.20" y1="279.80" x2="176.20" y2="409.60" stroke="#000" stroke-width="1.1" />
<line x1="175.70" y1="409.10" x2="252.50" y2="409.10" stroke="#000" stroke-width="1.1" />
<line x1="173.20" y1="409.10" x2="176.20" y2="409.10" stroke="#000" stroke-width="0.9" />
<text x="171.70" y="410.80" font-size="5.0" font-weight="bold" text-anchor="end" fill="#000"  stroke="#000" stroke-width="0.18">0.0</text>
<line x1="173.20" y1="383.34" x2="176.20" y2="383.34" stroke="#000" stroke-width="0.9" />
<text x="171.70" y="385.04" font-size="5.0" font-weight="bold" text-anchor="end" fill="#000"  stroke="#000" stroke-width="0.18">20.0</text>
<line x1="173.20" y1="357.58" x2="176.20" y2="357.58" stroke="#000" stroke-width="0.9" />
<text x="171.70" y="359.28" font-size="5.0" font-weight="bold" text-anchor="end" fill="#000"  stroke="#000" stroke-width="0.18">40.0</text>
<line x1="173.20" y1="331.82" x2="176.20" y2="331.82" stroke="#000" stroke-width="0.9" />
<text x="171.70" y="333.52" font-size="5.0" font-weight="bold" text-anchor="end" fill="#000"  stroke="#000" stroke-width="0.18">60.0</text>
<line x1="173.20" y1="306.06" x2="176.20" y2="306.06" stroke="#000" stroke-width="0.9" />
<text x="171.70" y="307.76" font-size="5.0" font-weight="bold" text-anchor="end" fill="#000"  stroke="#000" stroke-width="0.18">80.0</text>
<line x1="173.20" y1="280.30" x2="176.20" y2="280.30" stroke="#000" stroke-width="0.9" />
<text x="171.70" y="282.00" font-size="5.0" font-weight="bold" text-anchor="end" fill="#000"  stroke="#000" stroke-width="0.18">100.0</text>
<line x1="176.20" y1="409.10" x2="176.20" y2="411.60" stroke="#000" stroke-width="0.9" />
<line x1="195.27" y1="409.10" x2="195.27" y2="411.60" stroke="#000" stroke-width="0.9" />
<line x1="214.35" y1="409.10" x2="214.35" y2="411.60" stroke="#000" stroke-width="0.9" />
<line x1="233.43" y1="409.10" x2="233.43" y2="411.60" stroke="#000" stroke-width="0.9" />
<line x1="252.50" y1="409.10" x2="252.50" y2="411.60" stroke="#000" stroke-width="0.9" />
<rect x="182.04" y="408.34" width="7.4" height="0.76" fill="#4f81bd"/>
<rect x="182.04" y="407.35" width="7.4" height="0.99" fill="#c0504d"/>
<rect x="182.04" y="407.22" width="7.4" height="0.13" fill="#9bbb59"/>
<text x="185.74" y="416.30" font-size="5.0" font-weight="bold" text-anchor="middle" fill="#000"  stroke="#000" stroke-width="0.18">0</text>
<rect x="201.11" y="406.94" width="7.4" height="2.16" fill="#4f81bd"/>
<rect x="201.11" y="405.49" width="7.4" height="1.44" fill="#c0504d"/>
<rect x="201.11" y="405.31" width="7.4" height="0.18" fill="#9bbb59"/>
<text x="204.81" y="416.30" font-size="5.0" font-weight="bold" text-anchor="middle" fill="#000"  stroke="#000" stroke-width="0.18">20</text>
<rect x="220.19" y="396.79" width="7.4" height="12.31" fill="#4f81bd"/>
<rect x="220.19" y="389.60" width="7.4" height="7.19" fill="#c0504d"/>
<rect x="220.19" y="388.58" width="7.4" height="1.02" fill="#9bbb59"/>
<text x="223.89" y="416.30" font-size="5.0" font-weight="bold" text-anchor="middle" fill="#000"  stroke="#000" stroke-width="0.18">30</text>
<rect x="239.26" y="377.56" width="7.4" height="31.54" fill="#4f81bd"/>
<rect x="239.26" y="352.90" width="7.4" height="24.65" fill="#c0504d"/>
<rect x="239.26" y="349.97" width="7.4" height="2.94" fill="#9bbb59"/>
<text x="242.96" y="416.30" font-size="5.0" font-weight="bold" text-anchor="middle" fill="#000"  stroke="#000" stroke-width="0.18">40</text>
<text x="214.35" y="423.90" font-size="5.1" font-weight="bold" text-anchor="middle" fill="#000"  stroke="#000" stroke-width="0.18">Curcumin (μM)</text>
<text transform="translate(157.6,346.70000000000005) rotate(-90)" font-size="5.0" font-weight="bold" text-anchor="middle" dominant-baseline="central">Apoptotic rate (%)</text>
<rect x="182.00" y="285.20" width="2.2" height="2.2" fill="#9bbb59"/>
<text x="185.20" y="288.00" font-size="5.0" font-weight="bold" text-anchor="start" fill="#000"  stroke="#000" stroke-width="0.18">UL</text>
<rect x="182.00" y="295.90" width="2.2" height="2.2" fill="#c0504d"/>
<text x="185.20" y="298.70" font-size="5.0" font-weight="bold" text-anchor="start" fill="#000"  stroke="#000" stroke-width="0.18">UR</text>
<rect x="182.00" y="306.30" width="2.2" height="2.2" fill="#4f81bd"/>
<text x="185.20" y="309.10" font-size="5.0" font-weight="bold" text-anchor="start" fill="#000"  stroke="#000" stroke-width="0.18">LR</text>
<text x="225.70" y="287.80" font-size="4.8" font-weight="bold" text-anchor="start" fill="#000"  stroke="#000" stroke-width="0.18">* P ≤ 0.05</text>
<path d="M184.00 407.00 V341.80 L242.80 341.80 V348.20" fill="none" stroke="#444" stroke-width="0.9"/>
<text x="215.50" y="341.20" font-size="6.5" font-weight="bold" text-anchor="middle" fill="#000"  stroke="#000" stroke-width="0.18">*</text>
<path d="M186.70 407.00 V380.90 L223.80 380.90 V388.00" fill="none" stroke="#444" stroke-width="0.9"/>
<text x="205.50" y="380.10" font-size="6.5" font-weight="bold" text-anchor="middle" fill="#000"  stroke="#000" stroke-width="0.18">*</text>
<line x1="432.70" y1="280.80" x2="432.70" y2="410.80" stroke="#000" stroke-width="1.1" />
<line x1="432.20" y1="410.30" x2="506.00" y2="410.30" stroke="#000" stroke-width="1.1" />
<line x1="429.70" y1="410.30" x2="432.70" y2="410.30" stroke="#000" stroke-width="0.9" />
<text x="428.20" y="412.00" font-size="5.0" font-weight="bold" text-anchor="end" fill="#000"  stroke="#000" stroke-width="0.18">0.0</text>
<line x1="429.70" y1="384.50" x2="432.70" y2="384.50" stroke="#000" stroke-width="0.9" />
<text x="428.20" y="386.20" font-size="5.0" font-weight="bold" text-anchor="end" fill="#000"  stroke="#000" stroke-width="0.18">20.0</text>
<line x1="429.70" y1="358.70" x2="432.70" y2="358.70" stroke="#000" stroke-width="0.9" />
<text x="428.20" y="360.40" font-size="5.0" font-weight="bold" text-anchor="end" fill="#000"  stroke="#000" stroke-width="0.18">40.0</text>
<line x1="429.70" y1="332.90" x2="432.70" y2="332.90" stroke="#000" stroke-width="0.9" />
<text x="428.20" y="334.60" font-size="5.0" font-weight="bold" text-anchor="end" fill="#000"  stroke="#000" stroke-width="0.18">60.0</text>
<line x1="429.70" y1="307.10" x2="432.70" y2="307.10" stroke="#000" stroke-width="0.9" />
<text x="428.20" y="308.80" font-size="5.0" font-weight="bold" text-anchor="end" fill="#000"  stroke="#000" stroke-width="0.18">80.0</text>
<line x1="429.70" y1="281.30" x2="432.70" y2="281.30" stroke="#000" stroke-width="0.9" />
<text x="428.20" y="283.00" font-size="5.0" font-weight="bold" text-anchor="end" fill="#000"  stroke="#000" stroke-width="0.18">100.0</text>
<line x1="432.70" y1="410.30" x2="432.70" y2="412.80" stroke="#000" stroke-width="0.9" />
<line x1="451.02" y1="410.30" x2="451.02" y2="412.80" stroke="#000" stroke-width="0.9" />
<line x1="469.35" y1="410.30" x2="469.35" y2="412.80" stroke="#000" stroke-width="0.9" />
<line x1="487.68" y1="410.30" x2="487.68" y2="412.80" stroke="#000" stroke-width="0.9" />
<line x1="506.00" y1="410.30" x2="506.00" y2="412.80" stroke="#000" stroke-width="0.9" />
<rect x="438.16" y="408.17" width="7.4" height="2.13" fill="#4f81bd"/>
<rect x="438.16" y="405.79" width="7.4" height="2.39" fill="#c0504d"/>
<rect x="438.16" y="405.36" width="7.4" height="0.43" fill="#9bbb59"/>
<text x="441.86" y="417.50" font-size="5.0" font-weight="bold" text-anchor="middle" fill="#000"  stroke="#000" stroke-width="0.18">0</text>
<rect x="456.49" y="402.44" width="7.4" height="7.86" fill="#4f81bd"/>
<rect x="456.49" y="397.43" width="7.4" height="5.02" fill="#c0504d"/>
<rect x="456.49" y="396.88" width="7.4" height="0.54" fill="#9bbb59"/>
<text x="460.19" y="417.50" font-size="5.0" font-weight="bold" text-anchor="middle" fill="#000"  stroke="#000" stroke-width="0.18">20</text>
<rect x="474.81" y="373.56" width="7.4" height="36.74" fill="#4f81bd"/>
<rect x="474.81" y="337.88" width="7.4" height="35.68" fill="#c0504d"/>
<rect x="474.81" y="335.22" width="7.4" height="2.66" fill="#9bbb59"/>
<text x="478.51" y="417.50" font-size="5.0" font-weight="bold" text-anchor="middle" fill="#000"  stroke="#000" stroke-width="0.18">30</text>
<rect x="493.14" y="375.38" width="7.4" height="34.92" fill="#4f81bd"/>
<rect x="493.14" y="309.86" width="7.4" height="65.52" fill="#c0504d"/>
<rect x="493.14" y="307.99" width="7.4" height="1.87" fill="#9bbb59"/>
<text x="496.84" y="417.50" font-size="5.0" font-weight="bold" text-anchor="middle" fill="#000"  stroke="#000" stroke-width="0.18">40</text>
<text x="469.35" y="425.10" font-size="5.1" font-weight="bold" text-anchor="middle" fill="#000"  stroke="#000" stroke-width="0.18">Curcumin (μM)</text>
<text transform="translate(414,347.8) rotate(-90)" font-size="5.0" font-weight="bold" text-anchor="middle" dominant-baseline="central">Apoptotic rate (%)</text>
<rect x="438.50" y="285.20" width="2.2" height="2.2" fill="#9bbb59"/>
<text x="441.70" y="288.00" font-size="5.0" font-weight="bold" text-anchor="start" fill="#000"  stroke="#000" stroke-width="0.18">UL</text>
<rect x="438.50" y="295.90" width="2.2" height="2.2" fill="#c0504d"/>
<text x="441.70" y="298.70" font-size="5.0" font-weight="bold" text-anchor="start" fill="#000"  stroke="#000" stroke-width="0.18">UR</text>
<rect x="438.50" y="306.30" width="2.2" height="2.2" fill="#4f81bd"/>
<text x="441.70" y="309.10" font-size="5.0" font-weight="bold" text-anchor="start" fill="#000"  stroke="#000" stroke-width="0.18">LR</text>
<text x="482.20" y="287.80" font-size="4.8" font-weight="bold" text-anchor="start" fill="#000"  stroke="#000" stroke-width="0.18">* P ≤ 0.05</text>
<path d="M440.20 405.00 V314.50 L496.40 302.00 V307.50" fill="none" stroke="#444" stroke-width="0.9"/>
<text x="468.70" y="307.50" font-size="6.5" font-weight="bold" text-anchor="middle" fill="#000"  stroke="#000" stroke-width="0.18">*</text>
<path d="M441.60 405.00 V328.40 L478.40 328.40 V334.50" fill="none" stroke="#444" stroke-width="0.9"/>
<text x="460.50" y="327.80" font-size="6.5" font-weight="bold" text-anchor="middle" fill="#000"  stroke="#000" stroke-width="0.18">*</text>
<path d="M443.90 405.00 V389.40 L460.40 389.40 V396.50" fill="none" stroke="#444" stroke-width="0.9"/>
<text x="452.30" y="389.50" font-size="6.5" font-weight="bold" text-anchor="middle" fill="#000"  stroke="#000" stroke-width="0.18">*</text>
<defs><filter id="bl" x="-20%" y="-100%" width="140%" height="300%"><feGaussianBlur stdDeviation="0.65"/></filter><filter id="bl2" x="-20%" y="-100%" width="140%" height="300%"><feGaussianBlur stdDeviation="1.5"/></filter><linearGradient id="smear" x1="0" y1="0" x2="0" y2="1"><stop offset="0" stop-color="#000" stop-opacity="1"/><stop offset="1" stop-color="#000" stop-opacity="0"/></linearGradient></defs>
<text x="12.30" y="457.60" font-size="22" font-weight="normal" text-anchor="start" fill="#000" >E</text>
<text x="116.70" y="466.60" font-size="8.5" font-weight="bold" text-anchor="middle" fill="#000"  stroke="#000" stroke-width="0.18">24h</text>
<line x1="71.80" y1="469.90" x2="158.70" y2="469.90" stroke="#000" stroke-width="1.2" />
<text x="204.40" y="466.60" font-size="8.5" font-weight="bold" text-anchor="middle" fill="#000"  stroke="#000" stroke-width="0.18">48h</text>
<line x1="163.40" y1="469.90" x2="250.70" y2="469.90" stroke="#000" stroke-width="1.2" />
<text x="67.30" y="480.30" font-size="8.5" font-weight="bold" text-anchor="end" fill="#000"  stroke="#000" stroke-width="0.18">Curcumin (μM)</text>
<text x="84.50" y="479.90" font-size="8.5" font-weight="bold" text-anchor="middle" fill="#000"  stroke="#000" stroke-width="0.18">0</text>
<text x="106.00" y="479.90" font-size="8.5" font-weight="bold" text-anchor="middle" fill="#000"  stroke="#000" stroke-width="0.18">20</text>
<text x="127.90" y="479.90" font-size="8.5" font-weight="bold" text-anchor="middle" fill="#000"  stroke="#000" stroke-width="0.18">30</text>
<text x="147.60" y="479.90" font-size="8.5" font-weight="bold" text-anchor="middle" fill="#000"  stroke="#000" stroke-width="0.18">40</text>
<text x="171.60" y="479.90" font-size="8.5" font-weight="bold" text-anchor="middle" fill="#000"  stroke="#000" stroke-width="0.18">0</text>
<text x="193.10" y="479.90" font-size="8.5" font-weight="bold" text-anchor="middle" fill="#000"  stroke="#000" stroke-width="0.18">20</text>
<text x="217.00" y="479.90" font-size="8.5" font-weight="bold" text-anchor="middle" fill="#000"  stroke="#000" stroke-width="0.18">30</text>
<text x="239.00" y="479.90" font-size="8.5" font-weight="bold" text-anchor="middle" fill="#000"  stroke="#000" stroke-width="0.18">40</text>
<rect x="70.5" y="482.5" width="182.5" height="19.0" fill="#f0f1f4"/>
<path d="M119.40 491.10Q120.06 489.20 122.02 489.20L133.18 489.20Q135.14 489.20 135.80 491.10Q135.14 493.00 133.18 493.00L122.02 493.00Q120.06 493.00 119.40 491.10Z" fill="#000" fill-opacity="0.12" filter="url(#bl2)"/>
<rect x="142.00" y="490.50" width="15.50" height="9.00" rx="4.65" ry="3.60" fill="url(#smear)" fill-opacity="0.75" filter="url(#bl2)"/>
<path d="M140.70 490.30Q141.40 487.60 143.48 487.60L155.32 487.60Q157.40 487.60 158.10 490.30Q157.40 493.00 155.32 493.00L143.48 493.00Q141.40 493.00 140.70 490.30Z" fill="#000" fill-opacity="1.0" filter="url(#bl)"/>
<path d="M207.60 490.30Q208.32 488.40 210.46 488.40L222.64 488.40Q224.78 488.40 225.50 490.30Q224.78 492.20 222.64 492.20L210.46 492.20Q208.32 492.20 207.60 490.30Z" fill="#000" fill-opacity="0.12" filter="url(#bl2)"/>
<rect x="231.50" y="491.00" width="17.00" height="8.00" rx="5.10" ry="3.20" fill="url(#smear)" fill-opacity="0.7" filter="url(#bl2)"/>
<path d="M229.90 491.10Q230.69 488.30 233.05 488.30L246.45 488.30Q248.81 488.30 249.60 491.10Q248.81 493.90 246.45 493.90L233.05 493.90Q230.69 493.90 229.90 491.10Z" fill="#000" fill-opacity="1.0" filter="url(#bl)"/>
<path d="M73.90 515.00Q74.66 513.30 76.94 513.30L89.86 513.30Q92.14 513.30 92.90 515.00Q92.14 516.70 89.86 516.70L76.94 516.70Q74.66 516.70 73.90 515.00Z" fill="#000" fill-opacity="0.75" filter="url(#bl)"/>
<path d="M96.70 515.00Q97.43 513.00 99.61 513.00L111.99 513.00Q114.17 513.00 114.90 515.00Q114.17 517.00 111.99 517.00L99.61 517.00Q97.43 517.00 96.70 515.00Z" fill="#000" fill-opacity="0.97" filter="url(#bl)"/>
<path d="M119.10 514.90Q119.80 512.90 121.92 512.90L133.88 512.90Q136.00 512.90 136.70 514.90Q136.00 516.90 133.88 516.90L121.92 516.90Q119.80 516.90 119.10 514.90Z" fill="#000" fill-opacity="0.95" filter="url(#bl)"/>
<path d="M139.90 514.90Q140.67 513.00 142.99 513.00L156.11 513.00Q158.43 513.00 159.20 514.90Q158.43 516.80 156.11 516.80L142.99 516.80Q140.67 516.80 139.90 514.90Z" fill="#000" fill-opacity="0.9" filter="url(#bl)"/>
<path d="M163.10 514.80Q163.84 512.80 166.06 512.80L178.64 512.80Q180.86 512.80 181.60 514.80Q180.86 516.80 178.64 516.80L166.06 516.80Q163.84 516.80 163.10 514.80Z" fill="#000" fill-opacity="0.97" filter="url(#bl)"/>
<path d="M184.10 514.80Q184.86 512.80 187.16 512.80L200.14 512.80Q202.44 512.80 203.20 514.80Q202.44 516.80 200.14 516.80L187.16 516.80Q184.86 516.80 184.10 514.80Z" fill="#000" fill-opacity="0.97" filter="url(#bl)"/>
<path d="M206.40 514.60Q207.14 512.60 209.34 512.60L221.86 512.60Q224.06 512.60 224.80 514.60Q224.06 516.60 221.86 516.60L209.34 516.60Q207.14 516.60 206.40 514.60Z" fill="#000" fill-opacity="0.97" filter="url(#bl)"/>
<path d="M229.50 514.40Q230.24 512.90 232.48 512.90L245.12 512.90Q247.36 512.90 248.10 514.40Q247.36 515.90 245.12 515.90L232.48 515.90Q230.24 515.90 229.50 514.40Z" fill="#000" fill-opacity="0.6" filter="url(#bl)"/>
<path d="M99.70 522.60Q100.21 521.20 101.75 521.20L110.45 521.20Q111.99 521.20 112.50 522.60Q111.99 524.00 110.45 524.00L101.75 524.00Q100.21 524.00 99.70 522.60Z" fill="#000" fill-opacity="0.12" filter="url(#bl)"/>
<path d="M119.50 522.80Q120.18 521.10 122.22 521.10L133.78 521.10Q135.82 521.10 136.50 522.80Q135.82 524.50 133.78 524.50L122.22 524.50Q120.18 524.50 119.50 522.80Z" fill="#000" fill-opacity="0.6" filter="url(#bl)"/>
<path d="M140.00 523.00Q140.76 520.80 143.04 520.80L155.96 520.80Q158.24 520.80 159.00 523.00Q158.24 525.20 155.96 525.20L143.04 525.20Q140.76 525.20 140.00 523.00Z" fill="#000" fill-opacity="0.97" filter="url(#bl)"/>
<path d="M165.60 523.30Q166.16 521.90 167.86 521.90L177.44 521.90Q179.14 521.90 179.70 523.30Q179.14 524.70 177.44 524.70L167.86 524.70Q166.16 524.70 165.60 523.30Z" fill="#000" fill-opacity="0.13" filter="url(#bl)"/>
<path d="M187.30 523.30Q187.81 521.90 189.33 521.90L197.97 521.90Q199.49 521.90 200.00 523.30Q199.49 524.70 197.97 524.70L189.33 524.70Q187.81 524.70 187.30 523.30Z" fill="#000" fill-opacity="0.1" filter="url(#bl)"/>
<path d="M206.40 523.00Q207.14 521.40 209.38 521.40L222.02 521.40Q224.26 521.40 225.00 523.00Q224.26 524.60 222.02 524.60L209.38 524.60Q207.14 524.60 206.40 523.00Z" fill="#000" fill-opacity="0.55" filter="url(#bl)"/>
<path d="M229.00 522.40Q229.82 519.90 232.26 519.90L246.14 519.90Q248.58 519.90 249.40 522.40Q248.58 524.90 246.14 524.90L232.26 524.90Q229.82 524.90 229.00 522.40Z" fill="#000" fill-opacity="1.0" filter="url(#bl)"/>
<path d="M70.90 539.90Q71.79 537.85 74.47 537.85L89.63 537.85Q92.31 537.85 93.20 539.90Q92.31 541.95 89.63 541.95L74.47 541.95Q71.79 541.95 70.90 539.90Z" fill="#000" fill-opacity="0.97" filter="url(#bl)"/>
<path d="M95.00 539.90Q95.84 537.85 98.36 537.85L112.64 537.85Q115.16 537.85 116.00 539.90Q115.16 541.95 112.64 541.95L98.36 541.95Q95.84 541.95 95.00 539.90Z" fill="#000" fill-opacity="0.97" filter="url(#bl)"/>
<path d="M117.00 539.90Q117.86 537.85 120.44 537.85L135.06 537.85Q137.64 537.85 138.50 539.90Q137.64 541.95 135.06 541.95L120.44 541.95Q117.86 541.95 117.00 539.90Z" fill="#000" fill-opacity="0.97" filter="url(#bl)"/>
<path d="M139.50 539.90Q140.30 537.85 142.70 537.85L156.30 537.85Q158.70 537.85 159.50 539.90Q158.70 541.95 156.30 541.95L142.70 541.95Q140.30 541.95 139.50 539.90Z" fill="#000" fill-opacity="0.97" filter="url(#bl)"/>
<path d="M160.50 539.90Q161.39 537.85 164.07 537.85L179.23 537.85Q181.91 537.85 182.80 539.90Q181.91 541.95 179.23 541.95L164.07 541.95Q161.39 541.95 160.50 539.90Z" fill="#000" fill-opacity="0.97" filter="url(#bl)"/>
<path d="M183.50 539.90Q184.36 537.85 186.96 537.85L201.64 537.85Q204.24 537.85 205.10 539.90Q204.24 541.95 201.64 541.95L186.96 541.95Q184.36 541.95 183.50 539.90Z" fill="#000" fill-opacity="0.97" filter="url(#bl)"/>
<path d="M205.70 539.90Q206.54 537.85 209.06 537.85L223.34 537.85Q225.86 537.85 226.70 539.90Q225.86 541.95 223.34 541.95L209.06 541.95Q206.54 541.95 205.70 539.90Z" fill="#000" fill-opacity="0.97" filter="url(#bl)"/>
<path d="M228.60 539.90Q229.47 537.85 232.07 537.85L246.83 537.85Q249.43 537.85 250.30 539.90Q249.43 541.95 246.83 541.95L232.07 541.95Q229.47 541.95 228.60 539.90Z" fill="#000" fill-opacity="0.97" filter="url(#bl)"/>
<text x="67.30" y="495.90" font-size="8.6" font-weight="bold" text-anchor="end" fill="#000"  stroke="#000" stroke-width="0.18">Cleaved caspase 7</text>
<text x="67.30" y="517.30" font-size="8.6" font-weight="bold" text-anchor="end" fill="#000"  stroke="#000" stroke-width="0.18">PARP</text>
<text x="67.30" y="526.00" font-size="8.6" font-weight="bold" text-anchor="end" fill="#000"  stroke="#000" stroke-width="0.18">Cleaved PARP</text>
<text x="67.30" y="543.30" font-size="8.6" font-weight="bold" text-anchor="end" fill="#000"  stroke="#000" stroke-width="0.18">GAPDH</text>
<text x="261.30" y="458.10" font-size="22" font-weight="normal" text-anchor="start" fill="#000" >F</text>
<text x="375.30" y="466.60" font-size="8.5" font-weight="bold" text-anchor="middle" fill="#000"  stroke="#000" stroke-width="0.18">24h</text>
<line x1="329.80" y1="469.90" x2="416.70" y2="469.90" stroke="#000" stroke-width="1.2" />
<text x="462.80" y="466.60" font-size="8.5" font-weight="bold" text-anchor="middle" fill="#000"  stroke="#000" stroke-width="0.18">48h</text>
<line x1="421.40" y1="469.90" x2="508.10" y2="469.90" stroke="#000" stroke-width="1.2" />
<text x="325.20" y="480.30" font-size="8.5" font-weight="bold" text-anchor="end" fill="#000"  stroke="#000" stroke-width="0.18">Curcumin (μM)</text>
<text x="342.50" y="479.90" font-size="8.5" font-weight="bold" text-anchor="middle" fill="#000"  stroke="#000" stroke-width="0.18">0</text>
<text x="364.00" y="479.90" font-size="8.5" font-weight="bold" text-anchor="middle" fill="#000"  stroke="#000" stroke-width="0.18">20</text>
<text x="385.80" y="479.90" font-size="8.5" font-weight="bold" text-anchor="middle" fill="#000"  stroke="#000" stroke-width="0.18">30</text>
<text x="406.00" y="479.90" font-size="8.5" font-weight="bold" text-anchor="middle" fill="#000"  stroke="#000" stroke-width="0.18">40</text>
<text x="429.20" y="479.90" font-size="8.5" font-weight="bold" text-anchor="middle" fill="#000"  stroke="#000" stroke-width="0.18">0</text>
<text x="451.00" y="479.90" font-size="8.5" font-weight="bold" text-anchor="middle" fill="#000"  stroke="#000" stroke-width="0.18">20</text>
<text x="474.90" y="479.90" font-size="8.5" font-weight="bold" text-anchor="middle" fill="#000"  stroke="#000" stroke-width="0.18">30</text>
<text x="496.40" y="479.90" font-size="8.5" font-weight="bold" text-anchor="middle" fill="#000"  stroke="#000" stroke-width="0.18">40</text>
<rect x="375.00" y="491.00" width="16.50" height="7.00" rx="4.95" ry="2.80" fill="url(#smear)" fill-opacity="0.6" filter="url(#bl2)"/>
<path d="M373.80 491.20Q374.54 488.10 376.76 488.10L389.34 488.10Q391.56 488.10 392.30 491.20Q391.56 494.30 389.34 494.30L376.76 494.30Q374.54 494.30 373.80 491.20Z" fill="#000" fill-opacity="1.0" filter="url(#bl)"/>
<rect x="396.50" y="491.00" width="16.00" height="7.00" rx="4.80" ry="2.80" fill="url(#smear)" fill-opacity="0.5" filter="url(#bl2)"/>
<path d="M395.20 491.00Q395.94 488.00 398.18 488.00L410.82 488.00Q413.06 488.00 413.80 491.00Q413.06 494.00 410.82 494.00L398.18 494.00Q395.94 494.00 395.20 491.00Z" fill="#000" fill-opacity="1.0" filter="url(#bl)"/>
<path d="M463.80 491.00Q464.58 489.00 466.92 489.00L480.18 489.00Q482.52 489.00 483.30 491.00Q482.52 493.00 480.18 493.00L466.92 493.00Q464.58 493.00 463.80 491.00Z" fill="#000" fill-opacity="0.38" filter="url(#bl2)"/>
<rect x="488.00" y="491.00" width="18.00" height="7.00" rx="5.40" ry="2.80" fill="url(#smear)" fill-opacity="0.5" filter="url(#bl2)"/>
<path d="M486.20 491.10Q487.04 488.00 489.58 488.00L503.92 488.00Q506.46 488.00 507.30 491.10Q506.46 494.20 503.92 494.20L489.58 494.20Q487.04 494.20 486.20 491.10Z" fill="#000" fill-opacity="1.0" filter="url(#bl)"/>
<path d="M330.50 510.80Q331.29 508.90 333.65 508.90L347.05 508.90Q349.41 508.90 350.20 510.80Q349.41 512.70 347.05 512.70L333.65 512.70Q331.29 512.70 330.50 510.80Z" fill="#000" fill-opacity="0.95" filter="url(#bl)"/>
<path d="M354.00 511.20Q354.72 509.40 356.90 509.40L369.20 509.40Q371.38 509.40 372.10 511.20Q371.38 513.00 369.20 513.00L356.90 513.00Q354.72 513.00 354.00 511.20Z" fill="#000" fill-opacity="0.9" filter="url(#bl)"/>
<path d="M376.30 512.00Q377.00 510.50 379.10 510.50L391.00 510.50Q393.10 510.50 393.80 512.00Q393.10 513.50 391.00 513.50L379.10 513.50Q377.00 513.50 376.30 512.00Z" fill="#000" fill-opacity="0.85" filter="url(#bl)"/>
<path d="M398.00 512.00Q398.75 510.60 400.99 510.60L413.71 510.60Q415.95 510.60 416.70 512.00Q415.95 513.40 413.71 513.40L400.99 513.40Q398.75 513.40 398.00 512.00Z" fill="#000" fill-opacity="0.6" filter="url(#bl)"/>
<path d="M419.80 512.00Q420.57 510.10 422.87 510.10L435.93 510.10Q438.23 510.10 439.00 512.00Q438.23 513.90 435.93 513.90L422.87 513.90Q420.57 513.90 419.80 512.00Z" fill="#000" fill-opacity="0.95" filter="url(#bl)"/>
<path d="M441.70 511.80Q442.48 509.90 444.82 509.90L458.08 509.90Q460.42 509.90 461.20 511.80Q460.42 513.70 458.08 513.70L444.82 513.70Q442.48 513.70 441.70 511.80Z" fill="#000" fill-opacity="0.97" filter="url(#bl)"/>
<path d="M465.00 512.00Q465.73 510.70 467.93 510.70L480.37 510.70Q482.57 510.70 483.30 512.00Q482.57 513.30 480.37 513.30L467.93 513.30Q465.73 513.30 465.00 512.00Z" fill="#000" fill-opacity="0.35" filter="url(#bl)"/>
<path d="M376.30 521.90Q377.00 520.10 379.10 520.10L391.00 520.10Q393.10 520.10 393.80 521.90Q393.10 523.70 391.00 523.70L379.10 523.70Q377.00 523.70 376.30 521.90Z" fill="#000" fill-opacity="0.95" filter="url(#bl)"/>
<path d="M398.00 521.90Q398.75 520.10 400.99 520.10L413.71 520.10Q415.95 520.10 416.70 521.90Q415.95 523.70 413.71 523.70L400.99 523.70Q398.75 523.70 398.00 521.90Z" fill="#000" fill-opacity="0.93" filter="url(#bl)"/>
<path d="M465.00 520.80Q465.73 519.30 467.93 519.30L480.37 519.30Q482.57 519.30 483.30 520.80Q482.57 522.30 480.37 522.30L467.93 522.30Q465.73 522.30 465.00 520.80Z" fill="#000" fill-opacity="0.7" filter="url(#bl)"/>
<path d="M487.20 519.60Q488.03 517.10 490.53 517.10L504.67 517.10Q507.17 517.10 508.00 519.60Q507.17 522.10 504.67 522.10L490.53 522.10Q488.03 522.10 487.20 519.60Z" fill="#000" fill-opacity="1.0" filter="url(#bl)"/>
<path d="M329.80 539.80Q330.62 537.75 333.06 537.75L346.94 537.75Q349.38 537.75 350.20 539.80Q349.38 541.85 346.94 541.85L333.06 541.85Q330.62 541.85 329.80 539.80Z" fill="#000" fill-opacity="0.97" filter="url(#bl)"/>
<path d="M352.10 539.80Q352.92 537.75 355.36 537.75L369.24 537.75Q371.68 537.75 372.50 539.80Q371.68 541.85 369.24 541.85L355.36 541.85Q352.92 541.85 352.10 539.80Z" fill="#000" fill-opacity="0.97" filter="url(#bl)"/>
<path d="M374.00 539.80Q374.86 537.75 377.44 537.75L392.06 537.75Q394.64 537.75 395.50 539.80Q394.64 541.85 392.06 541.85L377.44 541.85Q374.86 541.85 374.00 539.80Z" fill="#000" fill-opacity="0.97" filter="url(#bl)"/>
<path d="M396.50 539.80Q397.34 537.75 399.86 537.75L414.14 537.75Q416.66 537.75 417.50 539.80Q416.66 541.85 414.14 541.85L399.86 541.85Q397.34 541.85 396.50 539.80Z" fill="#000" fill-opacity="0.97" filter="url(#bl)"/>
<path d="M419.00 540.20Q419.86 538.15 422.44 538.15L437.06 538.15Q439.64 538.15 440.50 540.20Q439.64 542.25 437.06 542.25L422.44 542.25Q419.86 542.25 419.00 540.20Z" fill="#000" fill-opacity="0.97" filter="url(#bl)"/>
<path d="M441.50 540.20Q442.34 538.15 444.86 538.15L459.14 538.15Q461.66 538.15 462.50 540.20Q461.66 542.25 459.14 542.25L444.86 542.25Q442.34 542.25 441.50 540.20Z" fill="#000" fill-opacity="0.97" filter="url(#bl)"/>
<path d="M463.50 540.20Q464.38 538.15 467.02 538.15L481.98 538.15Q484.62 538.15 485.50 540.20Q484.62 542.25 481.98 542.25L467.02 542.25Q464.38 542.25 463.50 540.20Z" fill="#000" fill-opacity="0.97" filter="url(#bl)"/>
<path d="M486.50 540.20Q487.36 538.15 489.94 538.15L504.56 538.15Q507.14 538.15 508.00 540.20Q507.14 542.25 504.56 542.25L489.94 542.25Q487.36 542.25 486.50 540.20Z" fill="#000" fill-opacity="0.97" filter="url(#bl)"/>
<text x="325.20" y="494.60" font-size="8.6" font-weight="bold" text-anchor="end" fill="#000"  stroke="#000" stroke-width="0.18">Cleaved caspase 7</text>
<text x="325.20" y="514.60" font-size="8.6" font-weight="bold" text-anchor="end" fill="#000"  stroke="#000" stroke-width="0.18">PARP</text>
<text x="325.20" y="525.30" font-size="8.6" font-weight="bold" text-anchor="end" fill="#000"  stroke="#000" stroke-width="0.18">Cleaved PARP</text>
<text x="325.20" y="542.80" font-size="8.6" font-weight="bold" text-anchor="end" fill="#000"  stroke="#000" stroke-width="0.18">GAPDH</text>
</svg>
</body></html>
